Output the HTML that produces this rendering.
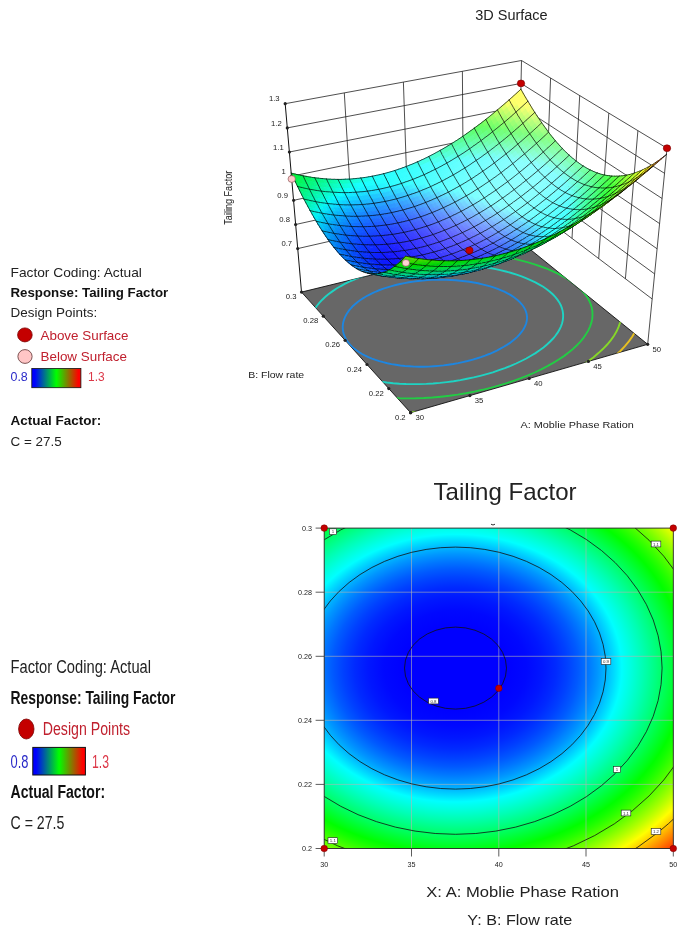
<!DOCTYPE html>
<html><head><meta charset="utf-8"><title>Tailing Factor</title>
<style>
html,body{margin:0;padding:0;background:#fff}
svg{display:block;font-family:"Liberation Sans",sans-serif;fill:#222}
.g{stroke:#222;stroke-width:0.8}
.ax{stroke:#111;stroke-width:1}
#sf path{stroke:#000;stroke-width:.75;stroke-opacity:.9;stroke-linecap:round}
#sf path[fill]{stroke:none}
</style></head><body>
<svg width="685" height="928" viewBox="0 0 685 928">
<rect width="685" height="928" fill="#fff"/>
<g id="plot3d">
<line class="g" x1="344.3" y1="92.9" x2="352.9" y2="236"/>
<line class="g" x1="403.4" y1="82.1" x2="408.2" y2="223.3"/>
<line class="g" x1="462.4" y1="71.3" x2="463.4" y2="210.7"/>
<line class="g" x1="521.5" y1="60.5" x2="518.6" y2="198"/>
<line class="g" x1="550.6" y1="78" x2="545.3" y2="218.2"/>
<line class="g" x1="579.7" y1="95.6" x2="572" y2="238.4"/>
<line class="g" x1="608.8" y1="113.1" x2="598.7" y2="258.6"/>
<line class="g" x1="637.9" y1="130.7" x2="625.4" y2="278.8"/>
<line class="g" x1="297.7" y1="248.6" x2="518.6" y2="198"/>
<line class="g" x1="518.6" y1="198" x2="652.2" y2="299"/>
<line class="g" x1="295.6" y1="224.5" x2="519.1" y2="175.1"/>
<line class="g" x1="519.1" y1="175.1" x2="654.6" y2="273.9"/>
<line class="g" x1="293.6" y1="200.3" x2="519.6" y2="152.2"/>
<line class="g" x1="519.6" y1="152.2" x2="657.1" y2="248.8"/>
<line class="g" x1="291.5" y1="176.2" x2="520" y2="129.3"/>
<line class="g" x1="520" y1="129.3" x2="659.6" y2="223.6"/>
<line class="g" x1="289.4" y1="152" x2="520.5" y2="106.3"/>
<line class="g" x1="520.5" y1="106.3" x2="662.1" y2="198.5"/>
<line class="g" x1="287.3" y1="127.9" x2="521" y2="83.4"/>
<line class="g" x1="521" y1="83.4" x2="664.5" y2="173.3"/>
<line class="g" x1="285.2" y1="103.7" x2="521.5" y2="60.5"/>
<line class="g" x1="521.5" y1="60.5" x2="667" y2="148.2"/>
<line class="g" x1="667" y1="148.2" x2="647.7" y2="344.3"/>
<clipPath id="fc"><polygon points="301.5,292.1 410.6,412.7 647.7,344.3 517.7,239.3"/></clipPath>
<polygon points="301.5,292.1 410.6,412.7 647.7,344.3 517.7,239.3" fill="#676767" stroke="#111" stroke-width="0.9"/>
<g clip-path="url(#fc)" fill="none" stroke-width="1.9">
<polygon stroke="#1e86e0" points="517.8,300.2 515.5,298.4 513,296.6 510.4,294.9 507.5,293.3 504.4,291.7 501.1,290.3 497.7,288.9 494.1,287.6 490.3,286.4 486.4,285.3 482.3,284.3 478.1,283.3 473.8,282.5 469.4,281.8 465,281.2 460.4,280.7 455.8,280.3 451.1,280 446.4,279.8 441.7,279.7 437,279.7 432.2,279.9 427.5,280.1 422.8,280.5 418.1,281 413.5,281.6 409,282.3 404.5,283.1 400.1,284 395.8,285 391.6,286.1 387.5,287.3 383.5,288.6 379.7,290 376,291.5 372.5,293.1 369.1,294.8 365.9,296.5 362.9,298.4 360,300.3 357.4,302.2 355,304.3 352.7,306.3 350.7,308.5 348.9,310.7 347.3,312.9 346,315.2 344.9,317.4 344,319.8 343.3,322.1 342.9,324.4 342.7,326.7 342.8,329.1 343.1,331.4 343.7,333.7 344.5,335.9 345.5,338.2 346.8,340.3 348.3,342.5 350,344.6 352,346.6 354.2,348.6 356.7,350.4 359.3,352.3 362.1,354 365.2,355.6 368.4,357.1 371.9,358.6 375.5,359.9 379.3,361.1 383.2,362.2 387.3,363.2 391.5,364.1 395.8,364.8 400.3,365.5 404.9,366 409.5,366.3 414.3,366.6 419.1,366.7 423.9,366.7 428.8,366.6 433.7,366.3 438.6,365.9 443.5,365.4 448.4,364.7 453.3,364 458.1,363.1 462.8,362.1 467.5,361 472,359.8 476.5,358.5 480.9,357.1 485.1,355.6 489.2,354 493.1,352.3 496.8,350.6 500.4,348.7 503.8,346.8 507,344.9 510,342.9 512.7,340.8 515.2,338.7 517.6,336.6 519.6,334.4 521.4,332.2 523,330 524.3,327.8 525.4,325.5 526.2,323.3 526.7,321.1 527,318.8 527,316.6 526.7,314.4 526.2,312.3 525.4,310.2 524.4,308.1 523.1,306 521.5,304 519.8,302.1"/>
<polygon stroke="#1fd3c3" points="549.9,291.7 546.7,289.2 543.2,286.8 539.4,284.6 535.4,282.4 531,280.3 526.5,278.3 521.6,276.4 516.6,274.7 511.3,273 505.9,271.5 500.2,270.1 494.4,268.9 488.5,267.8 482.4,266.8 476.2,265.9 469.9,265.2 463.5,264.6 457.1,264.2 450.6,263.9 444.1,263.8 437.6,263.8 431.1,264 424.6,264.3 418.2,264.8 411.8,265.4 405.4,266.1 399.2,267.1 393.1,268.1 387.1,269.3 381.2,270.7 375.4,272.1 369.8,273.8 364.4,275.5 359.2,277.4 354.2,279.5 349.3,281.6 344.7,283.9 340.4,286.3 336.2,288.8 332.4,291.4 328.7,294.1 325.4,296.8 322.3,299.7 319.5,302.7 317,305.7 314.9,308.8 313,311.9 311.4,315.1 310.1,318.3 309.2,321.5 308.6,324.8 308.3,328 308.4,331.3 308.8,334.5 309.5,337.7 310.5,340.9 311.9,344 313.6,347.1 315.6,350.1 317.9,353.1 320.6,355.9 323.6,358.7 326.9,361.3 330.5,363.9 334.3,366.3 338.5,368.6 342.9,370.8 347.6,372.8 352.6,374.7 357.7,376.4 363.2,377.9 368.8,379.3 374.6,380.6 380.6,381.6 386.8,382.5 393.1,383.2 399.5,383.7 406.1,384 412.8,384.1 419.5,384.1 426.3,383.9 433.1,383.5 440,382.9 446.8,382.1 453.6,381.2 460.4,380.1 467.1,378.8 473.7,377.4 480.2,375.8 486.6,374.1 492.9,372.3 499,370.2 504.9,368.1 510.6,365.9 516.1,363.5 521.3,361 526.3,358.5 531,355.8 535.5,353.1 539.6,350.3 543.5,347.4 547,344.5 550.2,341.5 553.1,338.5 555.6,335.5 557.8,332.4 559.6,329.3 561,326.3 562.1,323.2 562.8,320.1 563.1,317.1 563.1,314.1 562.7,311.1 561.9,308.1 560.8,305.2 559.3,302.4 557.4,299.6 555.2,296.9 552.7,294.3"/>
<polygon stroke="#22cc44" points="575.8,284.9 571.8,281.9 567.5,279 562.8,276.3 557.8,273.6 552.4,271.1 546.8,268.7 540.8,266.5 534.6,264.4 528.1,262.4 521.4,260.6 514.4,258.9 507.3,257.4 500,256 492.5,254.8 485,253.8 477.3,252.9 469.5,252.2 461.6,251.7 453.7,251.3 445.8,251.2 437.9,251.1 430,251.3 422.1,251.7 414.2,252.2 406.5,252.9 398.8,253.8 391.3,254.8 383.8,256.1 376.5,257.5 369.4,259.1 362.4,260.9 355.7,262.8 349.1,264.9 342.8,267.2 336.7,269.6 330.8,272.2 325.3,274.9 320,277.8 314.9,280.8 310.2,284 305.8,287.3 301.8,290.7 298,294.2 294.6,297.8 291.6,301.5 288.9,305.2 286.6,309.1 284.7,313 283.1,316.9 281.9,320.9 281.1,324.9 280.8,328.9 280.8,332.9 281.2,336.9 282,340.9 283.2,344.8 284.8,348.7 286.8,352.5 289.2,356.3 292,359.9 295.2,363.5 298.8,366.9 302.8,370.2 307.1,373.4 311.8,376.4 316.8,379.2 322.2,381.9 327.8,384.4 333.9,386.8 340.2,388.9 346.7,390.8 353.6,392.5 360.7,394 368,395.3 375.6,396.4 383.3,397.2 391.2,397.8 399.3,398.2 407.4,398.4 415.7,398.3 424,398 432.4,397.5 440.9,396.7 449.3,395.8 457.7,394.6 466,393.2 474.3,391.6 482.5,389.8 490.5,387.8 498.4,385.7 506.1,383.3 513.6,380.8 520.9,378.2 528,375.4 534.8,372.5 541.2,369.4 547.4,366.2 553.2,362.9 558.7,359.5 563.9,356.1 568.6,352.5 572.9,349 576.9,345.3 580.4,341.6 583.5,337.9 586.1,334.1 588.3,330.4 590,326.6 591.3,322.9 592.2,319.2 592.5,315.5 592.4,311.8 591.9,308.2 590.9,304.7 589.4,301.2 587.6,297.7 585.2,294.4 582.5,291.1 579.3,287.9"/>
<polygon stroke="#86d828" points="601,278.2 596.3,274.7 591.1,271.4 585.5,268.2 579.5,265.2 573.2,262.3 566.4,259.5 559.3,256.9 551.9,254.5 544.2,252.2 536.3,250.1 528.1,248.1 519.7,246.4 511,244.8 502.2,243.4 493.3,242.2 484.2,241.1 475.1,240.3 465.9,239.6 456.6,239.2 447.3,239 438,238.9 428.7,239.1 419.5,239.4 410.3,240 401.2,240.8 392.3,241.8 383.4,243 374.7,244.4 366.2,246 357.9,247.8 349.8,249.8 341.9,252.1 334.2,254.5 326.9,257.1 319.7,259.9 312.9,262.9 306.4,266.1 300.2,269.5 294.4,273 288.9,276.7 283.7,280.5 279,284.5 274.6,288.6 270.6,292.8 267,297.2 263.8,301.6 261.1,306.1 258.8,310.8 256.9,315.4 255.5,320.1 254.5,324.9 254,329.7 254,334.4 254.4,339.2 255.3,343.9 256.7,348.6 258.5,353.2 260.8,357.8 263.5,362.3 266.8,366.6 270.4,370.8 274.6,374.9 279.2,378.9 284.2,382.7 289.6,386.3 295.5,389.7 301.7,392.9 308.4,395.9 315.4,398.7 322.8,401.2 330.5,403.5 338.6,405.6 346.9,407.4 355.5,408.9 364.4,410.1 373.5,411.1 382.9,411.8 392.4,412.3 402,412.4 411.8,412.3 421.7,411.9 431.6,411.3 441.6,410.4 451.6,409.2 461.5,407.7 471.5,406 481.3,404.1 491,401.9 500.5,399.6 509.9,397 519.1,394.1 528,391.1 536.7,388 545,384.6 553.1,381.1 560.8,377.4 568.1,373.6 575.1,369.7 581.6,365.7 587.7,361.6 593.3,357.4 598.4,353.1 603.1,348.8 607.2,344.5 610.9,340.1 614,335.7 616.6,331.3 618.6,326.9 620.1,322.5 621,318.1 621.4,313.8 621.2,309.5 620.5,305.3 619.3,301.2 617.5,297.1 615.2,293.1 612.4,289.2 609.1,285.4 605.3,281.7"/>
<polygon stroke="#e8c020" points="617.6,273.8 612.3,270 606.6,266.4 600.4,263 593.7,259.7 586.7,256.5 579.2,253.5 571.4,250.7 563.2,248 554.7,245.6 545.9,243.3 536.9,241.1 527.6,239.2 518.1,237.5 508.5,236 498.6,234.6 488.7,233.5 478.6,232.6 468.5,231.8 458.3,231.3 448.1,231.1 437.9,231 427.8,231.1 417.7,231.5 407.6,232.1 397.7,232.9 387.9,234 378.3,235.3 368.8,236.8 359.5,238.5 350.4,240.4 341.5,242.6 332.9,245 324.5,247.6 316.5,250.5 308.7,253.5 301.3,256.8 294.2,260.3 287.4,263.9 281,267.8 275,271.8 269.4,276 264.1,280.3 259.3,284.8 255,289.5 251,294.3 247.6,299.2 244.5,304.1 242,309.2 239.9,314.4 238.3,319.6 237.2,324.8 236.6,330.1 236.6,335.4 237,340.6 237.9,345.8 239.3,351 241.3,356.2 243.8,361.2 246.7,366.2 250.2,371 254.2,375.7 258.7,380.2 263.7,384.6 269.1,388.8 275.1,392.8 281.4,396.6 288.3,400.2 295.6,403.5 303.2,406.6 311.3,409.4 319.8,411.9 328.6,414.2 337.8,416.2 347.2,417.8 357,419.2 367,420.3 377.3,421.1 387.7,421.6 398.4,421.7 409.1,421.6 420,421.1 431,420.4 442,419.3 453,418 464,416.4 474.9,414.5 485.8,412.3 496.5,409.9 507.1,407.2 517.4,404.3 527.6,401.2 537.4,397.9 547,394.3 556.3,390.6 565.2,386.7 573.7,382.6 581.8,378.4 589.4,374.1 596.6,369.7 603.4,365.1 609.6,360.5 615.2,355.8 620.4,351 624.9,346.2 628.9,341.4 632.3,336.6 635.2,331.7 637.4,326.9 639,322.1 640,317.3 640.4,312.6 640.2,307.9 639.4,303.3 638,298.8 636,294.4 633.4,290 630.3,285.8 626.6,281.7 622.3,277.7"/>
</g>
<line class="ax" x1="285.2" y1="103.7" x2="301.5" y2="292.1"/>
<circle cx="297.7" cy="248.6" r="1.6"/>
<circle cx="295.6" cy="224.5" r="1.6"/>
<circle cx="293.6" cy="200.3" r="1.6"/>
<circle cx="291.5" cy="176.2" r="1.6"/>
<circle cx="289.4" cy="152" r="1.6"/>
<circle cx="287.3" cy="127.9" r="1.6"/>
<circle cx="285.2" cy="103.7" r="1.6"/>
<g id="sf">
<path d="M488 124l4.4-3.4-2.6-4.7-4.4 3.4z" fill="#8cff65"/>
<path d="M485.8 119.4l3.9-3.1"/>
<path d="M484.2 127l4.3-3.3-2.6-4.8-4.4 3.4z" fill="#7bff64"/>
<path d="M482 122.4l3.8-3"/>
<path d="M488.1 123.6l-2.3-4.2"/>
<path d="M491.9 120.9l4.4-3.5-2.7-4.7-4.4 3.5z" fill="#9fff66"/>
<path d="M489.7 116.3l3.8-3.1"/>
<path d="M480.3 130l4.4-3.3-2.6-4.8-4.4 3.3z" fill="#6aff63"/>
<path d="M478.1 125.3l3.9-2.9"/>
<path d="M495.7 117.8l4.5-3.6-2.7-4.7-4.4 3.6z" fill="#b4ff67"/>
<path d="M493.5 113.2l3.9-3.3"/>
<path d="M476.5 132.8l4.3-3.2-2.6-4.7-4.3 3.1z" fill="#62ff68"/>
<path d="M474.3 128.1l3.8-2.8"/>
<path d="M499.6 114.6l4.4-3.7-2.6-4.7-4.4 3.7z" fill="#c9ff68"/>
<path d="M497.4 109.9l3.9-3.3"/>
<path d="M499.7 114.1l-2.3-4.2"/>
<path d="M472.6 135.6l4.4-3.1-2.6-4.8-4.3 3.1z" fill="#61ff74"/>
<path d="M470.5 130.9l3.8-2.8"/>
<path d="M476.6 132.4l-2.3-4.3"/>
<path d="M503.5 111.3l4.4-3.8-2.6-4.7-4.4 3.8z" fill="#dfff68"/>
<path d="M501.3 106.6l3.9-3.3"/>
<path d="M468.8 138.3l4.4-3-2.6-4.8-4.4 3z" fill="#5fff80"/>
<path d="M466.7 133.6l3.8-2.7"/>
<path d="M507.4 107.9l4.5-3.8-2.7-4.7-4.4 3.8z" fill="#f6ff69"/>
<path d="M505.2 103.3l3.9-3.4"/>
<path d="M465 141l4.4-3-2.6-4.8-4.4 2.9z" fill="#5eff8b"/>
<path d="M462.9 136.3l3.8-2.7"/>
<path d="M511.3 104.4l4.5-3.9-2.7-4.6-4.4 3.9z" fill="#ffff69"/>
<path d="M509.1 99.9l3.9-3.5"/>
<path d="M511.4 104l-2.3-4.1"/>
<path d="M490.3 128.1l4.4-3.4-2.6-4.6-4.4 3.4z" fill="#7dff69"/>
<path d="M486.4 131.2l4.4-3.4-2.6-4.7-4.4 3.4z" fill="#6cff68"/>
<path d="M490.4 127.7l-2.3-4.1"/>
<path d="M494.1 125l4.5-3.5-2.7-4.6-4.4 3.5z" fill="#8fff6a"/>
<path d="M482.6 134.1l4.4-3.3-2.7-4.6-4.3 3.2z" fill="#67ff70"/>
<path d="M498 121.9l4.4-3.6-2.6-4.6-4.4 3.6z" fill="#a2ff6a"/>
<path d="M461.2 143.5l4.3-2.9-2.5-4.8-4.4 2.9z" fill="#5cff95"/>
<path d="M459.1 138.8l3.8-2.5"/>
<path d="M465.1 140.5l-2.2-4.2"/>
<path d="M515.2 100.9l4.5-3.9-2.7-4.6-4.4 3.9z" fill="#ffff6a"/>
<path d="M513 96.4l4-3.6"/>
<path d="M478.7 137l4.4-3.2-2.6-4.7-4.4 3.2z" fill="#66ff7d"/>
<path d="M501.9 118.6l4.4-3.7-2.6-4.5-4.4 3.7z" fill="#b7ff6b"/>
<path d="M502 118.2l-2.3-4.1"/>
<path d="M474.9 139.8l4.4-3.2-2.6-4.7-4.4 3.2z" fill="#64ff89"/>
<path d="M478.8 136.5l-2.2-4.1"/>
<path d="M505.8 115.3l4.4-3.7-2.6-4.6-4.4 3.8z" fill="#ccff6c"/>
<path d="M457.4 146l4.3-2.8-2.5-4.8-4.4 2.8z" fill="#5affa0"/>
<path d="M455.3 141.3l3.8-2.5"/>
<path d="M519.2 97.4l4.5-4.1-2.7-4.6-4.5 4.1z" fill="#ffff6a"/>
<path d="M517 92.8l3.9-3.6"/>
<path d="M523.2 93.3l-2.3-4.1"/>
<path d="M471.1 142.5l4.3-3.1-2.6-4.7-4.3 3.1z" fill="#63ff95"/>
<path d="M509.7 111.9l4.5-3.8-2.7-4.5-4.4 3.8z" fill="#e3ff6c"/>
<path d="M467.2 145.1l4.4-2.9-2.6-4.8-4.3 3z" fill="#61ffa0"/>
<path d="M453.6 148.4l4.3-2.7-2.5-4.9-4.4 2.7z" fill="#58ffa9"/>
<path d="M451.5 143.7l3.8-2.4"/>
<path d="M513.6 108.5l4.5-3.9-2.7-4.5-4.4 3.9z" fill="#faff6c"/>
<path d="M513.7 108.1l-2.3-4.1"/>
<path d="M492.5 132.2l4.4-3.5-2.6-4.5-4.4 3.4z" fill="#6fff6c"/>
<path d="M488.7 135.2l4.4-3.4-2.6-4.5-4.4 3.3z" fill="#6bff77"/>
<path d="M492.6 131.7l-2.2-4"/>
<path d="M496.4 129.1l4.4-3.6-2.6-4.5-4.4 3.5z" fill="#7fff6d"/>
<path d="M463.4 147.7l4.4-2.9-2.6-4.7-4.3 2.9z" fill="#60ffab"/>
<path d="M467.3 144.7l-2.2-4.2"/>
<path d="M484.8 138.1l4.4-3.3-2.6-4.5-4.4 3.3z" fill="#6aff84"/>
<path d="M517.5 105l4.5-4-2.6-4.5-4.5 4z" fill="#ffff6d"/>
<path d="M500.3 125.9l4.4-3.7-2.6-4.4-4.4 3.6z" fill="#92ff6e"/>
<path d="M481 141l4.4-3.2-2.6-4.6-4.4 3.3z" fill="#69ff91"/>
<path d="M449.8 150.8l4.3-2.7-2.5-4.9-4.3 2.7z" fill="#56ffb3"/>
<path d="M447.7 146l3.8-2.3"/>
<path d="M453.7 148l-2.2-4.3"/>
<path d="M504.2 122.6l4.4-3.7-2.6-4.4-4.5 3.7z" fill="#a6ff6e"/>
<path d="M504.3 122.2l-2.3-4"/>
<path d="M477.1 143.8l4.4-3.1-2.6-4.6-4.4 3.1z" fill="#68ff9e"/>
<path d="M481.1 140.6l-2.3-4.1"/>
<path d="M459.6 150.2l4.4-2.8-2.6-4.8-4.3 2.9z" fill="#5effb6"/>
<path d="M508.1 119.3l4.4-3.8-2.6-4.4-4.5 3.7z" fill="#bbff6f"/>
<path d="M521.5 101.4l4.5-4.1-2.7-4.5-4.5 4.1z" fill="#ffff6d"/>
<path d="M525.5 97.3l-2.3-4"/>
<path d="M473.3 146.6l4.4-3.1-2.6-4.6-4.4 3.1z" fill="#66ffaa"/>
<path d="M512 115.9l4.5-3.9-2.7-4.4-4.5 3.9z" fill="#d1ff6f"/>
<path d="M446 153l4.3-2.5-2.5-4.9-4.3 2.5z" fill="#54ffbb"/>
<path d="M443.9 148.3l3.8-2.3"/>
<path d="M455.8 152.6l4.4-2.7-2.6-4.8-4.3 2.8z" fill="#5cffc0"/>
<path d="M469.5 149.2l4.3-3-2.5-4.6-4.4 3z" fill="#65ffb6"/>
<path d="M515.9 112.5l4.5-4-2.7-4.4-4.4 3.9z" fill="#e8ff6f"/>
<path d="M516 112l-2.3-3.9"/>
<path d="M465.7 151.8l4.3-2.9-2.5-4.6-4.4 2.9z" fill="#63ffc1"/>
<path d="M469.6 148.8l-2.3-4.1"/>
<path d="M494.8 136.1l4.4-3.5-2.6-4.4-4.4 3.5z" fill="#70ff7c"/>
<path d="M492.6 131.7l3.9-3.1"/>
<path d="M490.9 139.1l4.4-3.4-2.6-4.4-4.4 3.4z" fill="#6fff8a"/>
<path d="M488.8 134.8l3.8-3.1"/>
<path d="M494.9 135.6l-2.3-3.9"/>
<path d="M498.7 133l4.4-3.6-2.6-4.4-4.4 3.6z" fill="#73ff70"/>
<path d="M496.5 128.6l3.9-3.2"/>
<path d="M519.8 108.9l4.5-4-2.6-4.4-4.5 4z" fill="#ffff6f"/>
<path d="M452 155l4.4-2.7-2.6-4.8-4.3 2.7z" fill="#5affca"/>
<path d="M455.9 152.2l-2.2-4.2"/>
<path d="M442.2 155.2l4.4-2.5-2.6-4.9-4.3 2.5z" fill="#52ffc4"/>
<path d="M440.1 150.4l3.8-2.1"/>
<path d="M487.1 142.1l4.4-3.3-2.6-4.5-4.4 3.3z" fill="#6eff98"/>
<path d="M484.9 137.7l3.9-2.9"/>
<path d="M502.5 129.8l4.5-3.7-2.6-4.3-4.5 3.6z" fill="#84ff71"/>
<path d="M500.4 125.4l3.9-3.2"/>
<path d="M483.2 145l4.4-3.3-2.6-4.4-4.4 3.2z" fill="#6dffa5"/>
<path d="M481.1 140.6l3.8-2.9"/>
<path d="M506.4 126.5l4.5-3.7-2.6-4.4-4.5 3.8z" fill="#96ff71"/>
<path d="M504.3 122.2l3.9-3.3"/>
<path d="M506.5 126.1l-2.2-3.9"/>
<path d="M461.8 154.3l4.4-2.8-2.6-4.7-4.3 2.9z" fill="#61ffcc"/>
<path d="M479.4 147.8l4.3-3.2-2.5-4.5-4.4 3.2z" fill="#6bffb2"/>
<path d="M477.2 143.4l3.9-2.8"/>
<path d="M483.3 144.5l-2.2-3.9"/>
<path d="M523.8 105.3l4.5-4.1-2.7-4.4-4.5 4.1z" fill="#ffff70"/>
<path d="M527.9 101.2l-2.4-3.9"/>
<path d="M510.4 123.2l4.4-3.8-2.6-4.4-4.5 3.8z" fill="#abff72"/>
<path d="M508.2 118.9l3.9-3.4"/>
<path d="M475.5 150.5l4.4-3.1-2.6-4.4-4.3 3z" fill="#6affbf"/>
<path d="M473.4 146.1l3.8-2.7"/>
<path d="M448.2 157.2l4.4-2.5-2.6-4.8-4.3 2.5z" fill="#58ffd3"/>
<path d="M514.3 119.8l4.4-3.9-2.6-4.3-4.5 3.8z" fill="#c0ff72"/>
<path d="M512.1 115.5l3.9-3.5"/>
<path d="M438.5 157.3l4.3-2.4-2.6-4.9-4.3 2.4z" fill="#50ffcb"/>
<path d="M436.3 152.5l3.8-2.1"/>
<path d="M442.3 154.8l-2.2-4.4"/>
<path d="M458 156.7l4.4-2.7-2.6-4.7-4.3 2.8z" fill="#5fffd7"/>
<path d="M471.7 153.2l4.4-3-2.6-4.5-4.4 3z" fill="#68ffcb"/>
<path d="M469.6 148.8l3.8-2.7"/>
<path d="M518.2 116.3l4.5-3.9-2.7-4.4-4.4 4z" fill="#d7ff72"/>
<path d="M516 112l3.9-3.5"/>
<path d="M518.3 115.9l-2.3-3.9"/>
<path d="M444.5 159.4l4.3-2.5-2.6-4.8-4.3 2.5z" fill="#55ffdb"/>
<path d="M467.9 155.8l4.3-2.9-2.5-4.6-4.4 3z" fill="#67ffd7"/>
<path d="M465.8 151.4l3.8-2.6"/>
<path d="M471.8 152.8l-2.2-4"/>
<path d="M454.2 159.1l4.4-2.7-2.6-4.7-4.3 2.7z" fill="#5dffe1"/>
<path d="M458.1 156.3l-2.2-4.1"/>
<path d="M522.1 112.8l4.5-4.1-2.6-4.3-4.5 4.1z" fill="#eeff72"/>
<path d="M519.9 108.5l4-3.6"/>
<path d="M497 139.9l4.5-3.5-2.6-4.3-4.5 3.5z" fill="#73ff8f"/>
<path d="M493.2 143l4.4-3.5-2.6-4.3-4.4 3.4z" fill="#72ff9d"/>
<path d="M497.1 139.5l-2.2-3.9"/>
<path d="M500.9 136.8l4.5-3.6-2.7-4.3-4.4 3.6z" fill="#74ff80"/>
<path d="M489.3 145.9l4.4-3.3-2.6-4.3-4.4 3.3z" fill="#71ffab"/>
<path d="M434.7 159.3l4.3-2.3-2.5-4.9-4.3 2.3z" fill="#4dffd3"/>
<path d="M432.6 154.5l3.7-2"/>
<path d="M504.8 133.6l4.5-3.7-2.7-4.2-4.4 3.6z" fill="#77ff74"/>
<path d="M485.4 148.8l4.4-3.2-2.5-4.4-4.4 3.3z" fill="#70ffb9"/>
<path d="M508.7 130.3l4.5-3.7-2.7-4.3-4.4 3.8z" fill="#89ff75"/>
<path d="M508.8 129.9l-2.3-3.8"/>
<path d="M464.1 158.3l4.3-2.8-2.5-4.6-4.4 2.9z" fill="#65ffe2"/>
<path d="M462 153.9l3.8-2.5"/>
<path d="M526.1 109.2l4.5-4.2-2.7-4.2-4.5 4.1z" fill="#ffff72"/>
<path d="M523.9 104.9l4-3.7"/>
<path d="M530.2 105l-2.3-3.8"/>
<path d="M481.6 151.7l4.4-3.2-2.6-4.4-4.4 3.2z" fill="#6fffc6"/>
<path d="M485.5 148.4l-2.2-3.9"/>
<path d="M512.6 127l4.5-3.8-2.6-4.3-4.5 3.8z" fill="#9cff75"/>
<path d="M450.4 161.4l4.4-2.6-2.6-4.7-4.3 2.6z" fill="#5bffea"/>
<path d="M440.7 161.5l4.3-2.4-2.5-4.8-4.4 2.4z" fill="#53ffe4"/>
<path d="M444.6 159l-2.3-4.2"/>
<path d="M477.7 154.4l4.4-3.1-2.5-4.4-4.4 3.1z" fill="#6dffd3"/>
<path d="M516.5 123.6l4.5-3.9-2.6-4.3-4.5 3.9z" fill="#b1ff75"/>
<path d="M460.2 160.7l4.4-2.7-2.5-4.6-4.4 2.8z" fill="#63ffed"/>
<path d="M458.1 156.3l3.9-2.4"/>
<path d="M430.9 161.3l4.3-2.2-2.5-5-4.3 2.2z" fill="#4bffda"/>
<path d="M428.8 156.5l3.8-2"/>
<path d="M473.9 157.1l4.4-3-2.6-4.4-4.3 3z" fill="#6cffe0"/>
<path d="M520.5 120.1l4.5-4-2.7-4.2-4.5 4z" fill="#c7ff75"/>
<path d="M520.6 119.6l-2.3-3.7"/>
<path d="M446.7 163.5l4.3-2.4-2.5-4.7-4.4 2.4z" fill="#59fff3"/>
<path d="M456.4 163.1l4.4-2.7-2.5-4.5-4.4 2.6z" fill="#61fff8"/>
<path d="M454.3 158.6l3.8-2.3"/>
<path d="M460.4 160.3l-2.3-4"/>
<path d="M436.9 163.6l4.3-2.4-2.5-4.8-4.3 2.3z" fill="#51ffeb"/>
<path d="M470.1 159.7l4.4-3-2.6-4.4-4.4 3z" fill="#6affec"/>
<path d="M474 156.6l-2.2-3.8"/>
<path d="M524.4 116.5l4.5-4-2.6-4.2-4.5 4z" fill="#deff75"/>
<path d="M499.3 143.7l4.4-3.6-2.6-4.2-4.4 3.5z" fill="#76ffa1"/>
<path d="M495.4 146.7l4.4-3.4-2.6-4.3-4.4 3.5z" fill="#75ffb0"/>
<path d="M499.4 143.2l-2.3-3.7"/>
<path d="M503.2 140.5l4.4-3.6-2.6-4.2-4.4 3.6z" fill="#77ff91"/>
<path d="M491.5 149.7l4.4-3.4-2.5-4.2-4.5 3.3z" fill="#75ffbe"/>
<path d="M507.1 137.3l4.4-3.7-2.6-4.1-4.4 3.6z" fill="#77ff82"/>
<path d="M487.7 152.6l4.4-3.3-2.6-4.2-4.4 3.2z" fill="#74ffcc"/>
<path d="M466.3 162.2l4.3-2.9-2.5-4.4-4.4 2.9z" fill="#68fff8"/>
<path d="M511 134l4.4-3.7-2.6-4.2-4.4 3.8z" fill="#7dff78"/>
<path d="M511.1 133.6l-2.3-3.7"/>
<path d="M427.1 163.1l4.3-2.1-2.5-4.9-4.3 2.1z" fill="#48ffe0"/>
<path d="M425 158.4l3.8-1.9"/>
<path d="M431 160.8l-2.2-4.3"/>
<path d="M528.4 112.9l4.5-4.1-2.6-4.2-4.6 4.1z" fill="#f6ff75"/>
<path d="M532.5 108.8l-2.3-3.8"/>
<path d="M442.9 165.7l4.3-2.4-2.5-4.8-4.4 2.4z" fill="#56fffc"/>
<path d="M446.8 163.1l-2.2-4.1"/>
<path d="M452.6 165.4l4.4-2.6-2.5-4.6-4.4 2.6z" fill="#5fffff"/>
<path d="M450.6 160.9l3.7-2.3"/>
<path d="M483.8 155.4l4.4-3.2-2.6-4.2-4.4 3.2z" fill="#72ffda"/>
<path d="M487.8 152.2l-2.3-3.8"/>
<path d="M514.9 130.7l4.5-3.9-2.7-4.1-4.4 3.8z" fill="#8fff78"/>
<path d="M433.1 165.5l4.3-2.2-2.5-4.8-4.3 2.2z" fill="#4efff3"/>
<path d="M480 158.2l4.4-3.1-2.6-4.3-4.4 3.1z" fill="#71ffe8"/>
<path d="M462.5 164.6l4.3-2.7-2.5-4.5-4.4 2.8z" fill="#67ffff"/>
<path d="M518.8 127.3l4.5-4-2.6-4.1-4.5 3.9z" fill="#a3ff78"/>
<path d="M476.1 160.9l4.4-3.1-2.5-4.3-4.4 3.1z" fill="#70fff5"/>
<path d="M448.8 167.6l4.4-2.5-2.5-4.6-4.4 2.5z" fill="#5cffff"/>
<path d="M446.8 163.1l3.8-2.2"/>
<path d="M522.8 123.8l4.5-4-2.7-4.2-4.5 4z" fill="#b8ff78"/>
<path d="M522.9 123.3l-2.3-3.7"/>
<path d="M439.1 167.7l4.3-2.3-2.5-4.7-4.3 2.3z" fill="#54ffff"/>
<path d="M423.4 164.9l4.3-2-2.5-5-4.3 2.1z" fill="#46ffe6"/>
<path d="M421.3 160.1l3.7-1.7"/>
<path d="M458.6 167l4.4-2.7-2.5-4.4-4.4 2.6z" fill="#64ffff"/>
<path d="M462.6 164.2l-2.2-3.9"/>
<path d="M472.3 163.5l4.4-3-2.6-4.3-4.3 3z" fill="#6effff"/>
<path d="M476.2 160.4l-2.2-3.8"/>
<path d="M526.7 120.2l4.5-4.1-2.6-4.1-4.5 4.1z" fill="#cfff78"/>
<path d="M429.3 167.4l4.3-2.1-2.5-4.9-4.3 2.1z" fill="#4bfffa"/>
<path d="M433.2 165.1l-2.2-4.3"/>
<path d="M501.5 147.3l4.5-3.6-2.6-4.1-4.5 3.6z" fill="#79ffb2"/>
<path d="M499.4 143.2l3.9-3.1"/>
<path d="M497.6 150.4l4.5-3.5-2.6-4.1-4.5 3.4z" fill="#79ffc2"/>
<path d="M495.5 146.3l3.9-3.1"/>
<path d="M501.6 146.9l-2.2-3.7"/>
<path d="M505.4 144.1l4.5-3.6-2.6-4.1-4.5 3.7z" fill="#7affa3"/>
<path d="M503.3 140.1l3.9-3.2"/>
<path d="M493.7 153.3l4.5-3.3-2.6-4.2-4.4 3.4z" fill="#78ffd1"/>
<path d="M491.6 149.3l3.9-3"/>
<path d="M509.3 140.9l4.5-3.7-2.6-4-4.5 3.7z" fill="#7aff93"/>
<path d="M507.2 136.9l3.9-3.3"/>
<path d="M445.1 169.7l4.3-2.4-2.5-4.6-4.4 2.4z" fill="#5affff"/>
<path d="M443 165.2l3.8-2.1"/>
<path d="M449 167.1l-2.2-4"/>
<path d="M468.5 166l4.3-2.9-2.5-4.3-4.4 2.9z" fill="#6cffff"/>
<path d="M489.9 156.3l4.4-3.3-2.6-4.2-4.4 3.3z" fill="#77ffdf"/>
<path d="M487.8 152.2l3.8-2.9"/>
<path d="M530.7 116.5l4.5-4.1-2.6-4.1-4.6 4.2z" fill="#e6ff78"/>
<path d="M534.8 112.4l-2.3-3.6"/>
<path d="M454.8 169.3l4.4-2.6-2.5-4.5-4.4 2.6z" fill="#62ffff"/>
<path d="M513.2 137.6l4.5-3.7-2.6-4.1-4.5 3.8z" fill="#7bff82"/>
<path d="M511.1 133.6l3.9-3.4"/>
<path d="M513.3 137.2l-2.2-3.6"/>
<path d="M435.3 169.7l4.3-2.3-2.5-4.7-4.3 2.2z" fill="#51ffff"/>
<path d="M486 159.1l4.4-3.2-2.5-4.2-4.4 3.2z" fill="#76ffee"/>
<path d="M483.9 155l3.9-2.8"/>
<path d="M490 155.8l-2.2-3.6"/>
<path d="M517.2 134.3l4.4-3.9-2.6-4-4.5 3.8z" fill="#83ff7b"/>
<path d="M515 130.2l3.9-3.4"/>
<path d="M419.6 166.7l4.3-2-2.5-5-4.3 2z" fill="#43ffeb"/>
<path d="M417.5 161.8l3.8-1.7"/>
<path d="M464.6 168.5l4.4-2.8-2.5-4.4-4.4 2.8z" fill="#6affff"/>
<path d="M482.2 161.9l4.4-3.2-2.6-4.1-4.4 3.1z" fill="#74fffc"/>
<path d="M480.1 157.8l3.8-2.8"/>
<path d="M521.1 130.8l4.5-3.9-2.6-4-4.5 3.9z" fill="#96ff7b"/>
<path d="M518.9 126.8l4-3.5"/>
<path d="M425.6 169.2l4.3-2.1-2.5-4.8-4.3 2z" fill="#49ffff"/>
<path d="M451 171.5l4.4-2.5-2.5-4.5-4.4 2.5z" fill="#60ffff"/>
<path d="M441.3 171.8l4.3-2.4-2.5-4.6-4.3 2.3z" fill="#57ffff"/>
<path d="M439.2 167.3l3.8-2.1"/>
<path d="M478.3 164.6l4.4-3.1-2.5-4.2-4.4 3.1z" fill="#73ffff"/>
<path d="M476.2 160.4l3.9-2.6"/>
<path d="M525 127.3l4.6-4-2.7-4-4.5 4z" fill="#aaff7b"/>
<path d="M522.9 123.3l3.9-3.6"/>
<path d="M525.1 126.9l-2.2-3.6"/>
<path d="M460.8 170.8l4.4-2.7-2.5-4.3-4.4 2.7z" fill="#68ffff"/>
<path d="M464.8 168l-2.2-3.8"/>
<path d="M431.5 171.6l4.3-2.2-2.5-4.8-4.3 2.2z" fill="#4fffff"/>
<path d="M435.4 169.2l-2.2-4.1"/>
<path d="M474.5 167.2l4.4-3-2.6-4.2-4.3 3z" fill="#71ffff"/>
<path d="M472.4 163l3.8-2.6"/>
<path d="M478.4 164.1l-2.2-3.7"/>
<path d="M529 123.7l4.5-4-2.6-4-4.5 4.1z" fill="#c0ff7a"/>
<path d="M526.8 119.7l4-3.6"/>
<path d="M447.2 173.6l4.4-2.4-2.5-4.5-4.4 2.4z" fill="#5dffff"/>
<path d="M451.2 171.1l-2.2-4"/>
<path d="M415.8 168.3l4.3-1.9-2.5-5-4.3 1.9z" fill="#40fff0"/>
<path d="M413.7 163.5l3.8-1.7"/>
<path d="M419.7 166.2l-2.2-4.4"/>
<path d="M503.7 150.8l4.5-3.5-2.6-4-4.4 3.5z" fill="#7cffc3"/>
<path d="M499.9 153.9l4.4-3.5-2.6-4-4.4 3.5z" fill="#7cffd3"/>
<path d="M503.9 150.4l-2.3-3.5"/>
<path d="M507.6 147.7l4.5-3.7-2.6-3.9-4.4 3.6z" fill="#7dffb3"/>
<path d="M437.5 173.7l4.3-2.2-2.5-4.7-4.3 2.3z" fill="#55ffff"/>
<path d="M435.4 169.2l3.8-1.9"/>
<path d="M457 173.1l4.4-2.6-2.5-4.4-4.4 2.6z" fill="#66ffff"/>
<path d="M470.7 169.7l4.3-2.9-2.5-4.2-4.4 2.9z" fill="#70ffff"/>
<path d="M468.6 165.6l3.8-2.6"/>
<path d="M496 156.9l4.4-3.4-2.6-4-4.4 3.4z" fill="#7bffe3"/>
<path d="M511.6 144.5l4.4-3.8-2.6-3.9-4.4 3.7z" fill="#7dffa3"/>
<path d="M421.8 170.9l4.3-2-2.5-4.8-4.3 1.9z" fill="#46ffff"/>
<path d="M533 120.1l4.5-4.2-2.6-3.9-4.6 4.1z" fill="#d8ff7a"/>
<path d="M530.8 116.1l4-3.7"/>
<path d="M537.1 115.9l-2.3-3.5"/>
<path d="M492.1 159.8l4.4-3.3-2.5-4-4.5 3.3z" fill="#7afff2"/>
<path d="M515.5 141.2l4.5-3.9-2.6-3.9-4.5 3.8z" fill="#7dff93"/>
<path d="M515.6 140.7l-2.3-3.5"/>
<path d="M488.2 162.7l4.5-3.3-2.6-4-4.4 3.2z" fill="#79ffff"/>
<path d="M492.2 159.4l-2.2-3.6"/>
<path d="M427.7 173.4l4.4-2.1-2.5-4.8-4.3 2.1z" fill="#4cffff"/>
<path d="M519.4 137.8l4.5-3.9-2.6-3.9-4.5 3.8z" fill="#7dff82"/>
<path d="M466.8 172.2l4.4-2.8-2.5-4.3-4.4 2.8z" fill="#6effff"/>
<path d="M464.8 168l3.8-2.4"/>
<path d="M443.5 175.7l4.3-2.4-2.5-4.5-4.3 2.4z" fill="#5bffff"/>
<path d="M484.4 165.5l4.4-3.2-2.6-4.1-4.4 3.2z" fill="#78ffff"/>
<path d="M523.4 134.3l4.5-3.9-2.6-3.9-4.6 3.9z" fill="#8aff7d"/>
<path d="M453.2 175.3l4.4-2.5-2.5-4.4-4.4 2.6z" fill="#63ffff"/>
<path d="M433.7 175.6l4.3-2.2-2.5-4.6-4.3 2.2z" fill="#52ffff"/>
<path d="M431.6 171.1l3.8-1.9"/>
<path d="M437.6 173.3l-2.2-4.1"/>
<path d="M480.5 168.1l4.4-3-2.5-4.1-4.4 3.1z" fill="#76ffff"/>
<path d="M527.3 130.8l4.5-4-2.6-3.9-4.5 4z" fill="#9eff7d"/>
<path d="M527.4 130.4l-2.3-3.5"/>
<path d="M412.1 169.9l4.3-1.9-2.5-5-4.3 1.8z" fill="#3efff4"/>
<path d="M410 165l3.7-1.5"/>
<path d="M463 174.5l4.4-2.7-2.5-4.2-4.4 2.7z" fill="#6bffff"/>
<path d="M460.9 170.4l3.9-2.4"/>
<path d="M467 171.7l-2.2-3.7"/>
<path d="M418 172.6l4.3-1.9-2.5-4.9-4.3 1.9z" fill="#43ffff"/>
<path d="M421.9 170.5l-2.2-4.3"/>
<path d="M476.7 170.8l4.4-3-2.5-4.1-4.4 3z" fill="#75ffff"/>
<path d="M480.6 167.7l-2.2-3.6"/>
<path d="M531.3 127.2l4.5-4.1-2.6-3.9-4.5 4.1z" fill="#b3ff7d"/>
<path d="M449.4 177.5l4.4-2.5-2.5-4.4-4.4 2.5z" fill="#61ffff"/>
<path d="M453.3 174.9l-2.1-3.8"/>
<path d="M424 175.1l4.3-2-2.5-4.8-4.3 2z" fill="#49ffff"/>
<path d="M439.7 177.7l4.3-2.3-2.5-4.5-4.3 2.2z" fill="#58ffff"/>
<path d="M459.2 176.8l4.4-2.6-2.5-4.2-4.4 2.6z" fill="#69ffff"/>
<path d="M457.1 172.7l3.8-2.3"/>
<path d="M506 154.3l4.4-3.6-2.5-3.9-4.5 3.6z" fill="#7fffd4"/>
<path d="M502.1 157.4l4.4-3.5-2.5-3.9-4.5 3.4z" fill="#7fffe4"/>
<path d="M506.1 153.8l-2.2-3.4"/>
<path d="M472.9 173.3l4.3-2.9-2.5-4.1-4.4 2.9z" fill="#73ffff"/>
<path d="M509.9 151.1l4.5-3.6-2.6-3.9-4.5 3.6z" fill="#80ffc4"/>
<path d="M429.9 177.4l4.3-2.1-2.4-4.6-4.4 2.1z" fill="#4fffff"/>
<path d="M427.9 172.9l3.7-1.8"/>
<path d="M535.3 123.6l4.5-4.2-2.6-3.9-4.6 4.2z" fill="#caff7d"/>
<path d="M539.4 119.4l-2.3-3.5"/>
<path d="M498.2 160.4l4.4-3.4-2.5-4-4.5 3.4z" fill="#7efff4"/>
<path d="M513.8 147.9l4.5-3.8-2.6-3.8-4.5 3.7z" fill="#80ffb3"/>
<path d="M494.3 163.3l4.5-3.3-2.6-4-4.4 3.4z" fill="#7dffff"/>
<path d="M517.7 144.6l4.5-3.9-2.6-3.8-4.5 3.8z" fill="#80ffa2"/>
<path d="M517.8 144.1l-2.2-3.4"/>
<path d="M490.4 166.2l4.5-3.3-2.6-3.9-4.4 3.2z" fill="#7cffff"/>
<path d="M494.4 162.9l-2.2-3.5"/>
<path d="M408.3 171.3l4.3-1.7-2.5-5-4.3 1.7z" fill="#3bfff7"/>
<path d="M406.2 166.5l3.8-1.5"/>
<path d="M445.6 179.5l4.4-2.3-2.5-4.4-4.4 2.3z" fill="#5effff"/>
<path d="M521.7 141.2l4.5-3.9-2.6-3.8-4.5 3.8z" fill="#80ff91"/>
<path d="M469 175.8l4.4-2.8-2.5-4.2-4.4 2.8z" fill="#71ffff"/>
<path d="M414.3 174.1l4.2-1.8-2.4-4.9-4.3 1.8z" fill="#40ffff"/>
<path d="M455.4 179.1l4.4-2.6-2.5-4.2-4.4 2.5z" fill="#67ffff"/>
<path d="M453.3 174.9l3.8-2.2"/>
<path d="M435.9 179.6l4.3-2.2-2.5-4.5-4.3 2.1z" fill="#55ffff"/>
<path d="M439.8 177.2l-2.2-3.9"/>
<path d="M486.6 168.9l4.4-3.1-2.5-4-4.5 3.2z" fill="#7bffff"/>
<path d="M525.6 137.7l4.5-4-2.6-3.8-4.5 4z" fill="#81ff80"/>
<path d="M420.2 176.7l4.3-1.9-2.5-4.7-4.3 1.9z" fill="#46ffff"/>
<path d="M424.1 174.7l-2.2-4.2"/>
<path d="M482.7 171.6l4.4-3-2.5-4-4.4 3.1z" fill="#7affff"/>
<path d="M465.2 178.2l4.4-2.8-2.5-4.1-4.4 2.7z" fill="#6fffff"/>
<path d="M469.1 175.3l-2.1-3.6"/>
<path d="M529.6 134.2l4.5-4.1-2.6-3.8-4.5 4.1z" fill="#92ff80"/>
<path d="M529.7 133.8l-2.3-3.4"/>
<path d="M426.1 179.2l4.4-2-2.5-4.7-4.3 2z" fill="#4cffff"/>
<path d="M424.1 174.7l3.8-1.8"/>
<path d="M441.8 181.5l4.4-2.3-2.5-4.4-4.3 2.3z" fill="#5bffff"/>
<path d="M451.6 181.2l4.4-2.4-2.5-4.3-4.4 2.4z" fill="#64ffff"/>
<path d="M449.5 177l3.8-2.1"/>
<path d="M455.5 178.6l-2.2-3.7"/>
<path d="M478.9 174.3l4.4-3-2.5-4-4.4 3z" fill="#78ffff"/>
<path d="M482.8 171.2l-2.2-3.5"/>
<path d="M533.6 130.6l4.5-4.1-2.6-3.8-4.6 4.1z" fill="#a7ff7f"/>
<path d="M432.1 181.4l4.3-2.1-2.5-4.6-4.3 2.1z" fill="#52ffff"/>
<path d="M461.4 180.5l4.4-2.7-2.5-4.1-4.4 2.6z" fill="#6dffff"/>
<path d="M404.5 172.7l4.3-1.6-2.5-5-4.2 1.6z" fill="#38fffa"/>
<path d="M402.5 167.9l3.7-1.4"/>
<path d="M408.4 170.9l-2.2-4.4"/>
<path d="M410.5 175.6l4.3-1.7-2.5-4.9-4.3 1.7z" fill="#3dffff"/>
<path d="M475 176.8l4.4-2.9-2.5-4-4.4 2.9z" fill="#76ffff"/>
<path d="M508.2 157.6l4.5-3.6-2.6-3.8-4.5 3.6z" fill="#82ffe4"/>
<path d="M506.1 153.8l3.9-3.1"/>
<path d="M416.4 178.3l4.3-1.8-2.4-4.8-4.3 1.8z" fill="#43ffff"/>
<path d="M537.6 126.9l4.5-4.2-2.6-3.8-4.6 4.2z" fill="#bdff7f"/>
<path d="M541.7 122.7l-2.3-3.3"/>
<path d="M504.3 160.7l4.5-3.5-2.6-3.8-4.5 3.5z" fill="#82fff4"/>
<path d="M502.2 156.9l3.9-3.1"/>
<path d="M508.3 157.2l-2.2-3.4"/>
<path d="M512.1 154.4l4.5-3.6-2.6-3.8-4.5 3.7z" fill="#82ffd3"/>
<path d="M510 150.7l3.9-3.3"/>
<path d="M500.4 163.7l4.5-3.4-2.6-3.8-4.4 3.4z" fill="#81ffff"/>
<path d="M498.3 159.9l3.9-3"/>
<path d="M516 151.2l4.5-3.8-2.5-3.7-4.5 3.7z" fill="#83ffc2"/>
<path d="M513.9 147.4l3.9-3.3"/>
<path d="M447.8 183.3l4.3-2.4-2.4-4.3-4.4 2.4z" fill="#61ffff"/>
<path d="M445.7 179.1l3.8-2.1"/>
<path d="M496.5 166.7l4.5-3.4-2.6-3.8-4.4 3.3z" fill="#80ffff"/>
<path d="M494.4 162.9l3.9-3"/>
<path d="M520 147.9l4.5-3.9-2.6-3.7-4.5 3.8z" fill="#83ffb1"/>
<path d="M517.8 144.1l4-3.4"/>
<path d="M520.1 147.4l-2.3-3.3"/>
<path d="M422.4 180.8l4.3-1.9-2.5-4.7-4.3 1.9z" fill="#49ffff"/>
<path d="M420.3 176.3l3.8-1.6"/>
<path d="M426.3 178.7l-2.2-4"/>
<path d="M438 183.4l4.4-2.2-2.5-4.4-4.3 2.2z" fill="#58ffff"/>
<path d="M442 181.1l-2.2-3.9"/>
<path d="M471.2 179.3l4.4-2.8-2.5-4.1-4.4 2.9z" fill="#74ffff"/>
<path d="M492.6 169.5l4.5-3.2-2.6-3.9-4.4 3.3z" fill="#7fffff"/>
<path d="M490.6 165.7l3.8-2.8"/>
<path d="M496.6 166.2l-2.2-3.3"/>
<path d="M457.6 182.7l4.3-2.6-2.5-4.1-4.3 2.5z" fill="#6affff"/>
<path d="M523.9 144.5l4.5-3.9-2.6-3.8-4.5 4z" fill="#83ff9f"/>
<path d="M521.8 140.7l3.9-3.4"/>
<path d="M488.8 172.3l4.4-3.2-2.5-3.8-4.5 3.2z" fill="#7effff"/>
<path d="M486.7 168.5l3.9-2.8"/>
<path d="M428.3 183.1l4.3-2-2.4-4.5-4.4 2z" fill="#4fffff"/>
<path d="M527.9 141l4.5-4-2.6-3.7-4.5 4z" fill="#82ff8d"/>
<path d="M525.7 137.3l4-3.5"/>
<path d="M467.4 181.7l4.4-2.8-2.5-4-4.4 2.7z" fill="#72ffff"/>
<path d="M471.3 178.9l-2.2-3.6"/>
<path d="M484.9 175l4.4-3.1-2.5-3.8-4.4 3.1z" fill="#7dffff"/>
<path d="M482.8 171.2l3.9-2.7"/>
<path d="M531.9 137.5l4.5-4.1-2.6-3.7-4.6 4.1z" fill="#88ff82"/>
<path d="M529.7 133.8l4-3.6"/>
<path d="M532 137l-2.3-3.2"/>
<path d="M444 185.3l4.3-2.3-2.4-4.3-4.4 2.3z" fill="#5fffff"/>
<path d="M442 181.1l3.7-2"/>
<path d="M406.7 177l4.3-1.6-2.5-4.9-4.3 1.6z" fill="#3bffff"/>
<path d="M410.6 175.2l-2.2-4.3"/>
<path d="M400.8 174.1l4.3-1.6-2.5-5-4.3 1.5z" fill="#35fffd"/>
<path d="M398.7 169.2l3.8-1.3"/>
<path d="M453.8 184.9l4.3-2.5-2.5-4.2-4.3 2.5z" fill="#68ffff"/>
<path d="M457.7 182.3l-2.2-3.7"/>
<path d="M412.7 179.8l4.3-1.7-2.5-4.8-4.3 1.7z" fill="#40ffff"/>
<path d="M434.3 185.3l4.3-2.2-2.5-4.4-4.3 2.1z" fill="#55ffff"/>
<path d="M481.1 177.7l4.4-3-2.5-3.9-4.5 3z" fill="#7bffff"/>
<path d="M479 173.8l3.8-2.6"/>
<path d="M485 174.6l-2.2-3.4"/>
<path d="M418.6 182.4l4.3-1.8-2.5-4.7-4.3 1.8z" fill="#46ffff"/>
<path d="M416.5 177.9l3.8-1.6"/>
<path d="M535.8 133.9l4.6-4.2-2.6-3.7-4.6 4.2z" fill="#9cff82"/>
<path d="M533.7 130.2l4-3.7"/>
<path d="M463.5 184l4.4-2.7-2.5-4-4.3 2.7z" fill="#70ffff"/>
<path d="M424.5 184.8l4.4-1.9-2.5-4.6-4.3 1.9z" fill="#4cffff"/>
<path d="M428.4 182.7l-2.1-4"/>
<path d="M477.2 180.2l4.4-2.9-2.5-3.9-4.4 2.9z" fill="#7affff"/>
<path d="M475.2 176.4l3.8-2.6"/>
<path d="M539.8 130.2l4.6-4.3-2.6-3.6-4.6 4.2z" fill="#b1ff81"/>
<path d="M537.7 126.5l4-3.8"/>
<path d="M544 126l-2.3-3.3"/>
<path d="M510.4 160.9l4.5-3.7-2.6-3.6-4.4 3.6z" fill="#85fff3"/>
<path d="M450 186.9l4.3-2.4-2.5-4.1-4.3 2.3z" fill="#65ffff"/>
<path d="M506.5 164l4.5-3.6-2.6-3.7-4.4 3.6z" fill="#84ffff"/>
<path d="M510.5 160.4l-2.2-3.2"/>
<path d="M440.2 187.2l4.3-2.2-2.4-4.3-4.4 2.2z" fill="#5bffff"/>
<path d="M438.2 183l3.8-1.9"/>
<path d="M444.1 184.9l-2.1-3.8"/>
<path d="M514.4 157.7l4.4-3.7-2.5-3.7-4.5 3.7z" fill="#85ffe2"/>
<path d="M502.6 167l4.5-3.5-2.6-3.7-4.4 3.5z" fill="#84ffff"/>
<path d="M518.3 154.4l4.5-3.7-2.6-3.7-4.5 3.8z" fill="#85ffd0"/>
<path d="M498.7 169.9l4.5-3.3-2.6-3.7-4.4 3.3z" fill="#83ffff"/>
<path d="M522.2 151.1l4.5-3.9-2.5-3.6-4.6 3.9z" fill="#85ffbf"/>
<path d="M522.3 150.7l-2.2-3.3"/>
<path d="M459.7 186.2l4.4-2.5-2.5-4.1-4.4 2.6z" fill="#6effff"/>
<path d="M430.5 187l4.3-2-2.5-4.5-4.3 2.1z" fill="#52ffff"/>
<path d="M473.4 182.7l4.4-2.8-2.5-3.9-4.4 2.8z" fill="#78ffff"/>
<path d="M471.3 178.9l3.9-2.5"/>
<path d="M494.8 172.8l4.5-3.3-2.5-3.7-4.5 3.3z" fill="#82ffff"/>
<path d="M498.8 169.5l-2.2-3.3"/>
<path d="M402.9 178.4l4.3-1.6-2.4-4.9-4.3 1.5z" fill="#38ffff"/>
<path d="M526.2 147.7l4.5-3.9-2.6-3.7-4.5 4z" fill="#85ffad"/>
<path d="M408.9 181.2l4.3-1.6-2.5-4.8-4.3 1.6z" fill="#3dffff"/>
<path d="M412.8 179.4l-2.2-4.2"/>
<path d="M397 175.3l4.3-1.5-2.5-5-4.3 1.4z" fill="#33fffe"/>
<path d="M394.9 170.5l3.8-1.3"/>
<path d="M414.8 183.9l4.3-1.7-2.4-4.7-4.3 1.7z" fill="#43ffff"/>
<path d="M412.8 179.4l3.7-1.5"/>
<path d="M491 175.6l4.4-3.2-2.5-3.7-4.5 3.2z" fill="#81ffff"/>
<path d="M530.1 144.2l4.6-4-2.6-3.6-4.6 4z" fill="#84ff9a"/>
<path d="M446.2 188.9l4.3-2.3-2.5-4.2-4.3 2.3z" fill="#62ffff"/>
<path d="M469.5 185.1l4.4-2.7-2.5-4-4.4 2.8z" fill="#76ffff"/>
<path d="M467.5 181.3l3.8-2.4"/>
<path d="M473.5 182.3l-2.2-3.4"/>
<path d="M420.8 186.4l4.3-1.9-2.5-4.5-4.3 1.8z" fill="#49ffff"/>
<path d="M436.4 189l4.4-2.1-2.5-4.3-4.3 2.1z" fill="#58ffff"/>
<path d="M434.4 184.8l3.8-1.8"/>
<path d="M487.1 178.3l4.4-3.1-2.5-3.7-4.4 3.1z" fill="#80ffff"/>
<path d="M455.9 188.4l4.4-2.5-2.5-4.1-4.4 2.5z" fill="#6bffff"/>
<path d="M459.9 185.8l-2.2-3.5"/>
<path d="M534.1 140.7l4.6-4.1-2.6-3.6-4.6 4.1z" fill="#84ff88"/>
<path d="M534.2 140.2l-2.2-3.2"/>
<path d="M483.2 181l4.5-3.1-2.5-3.7-4.5 3z" fill="#7effff"/>
<path d="M487.2 177.9l-2.2-3.3"/>
<path d="M426.7 188.7l4.3-2-2.4-4.4-4.4 1.9z" fill="#4fffff"/>
<path d="M430.6 186.6l-2.2-3.9"/>
<path d="M538.1 137l4.6-4.1-2.6-3.6-4.6 4.2z" fill="#92ff83"/>
<path d="M465.7 187.4l4.4-2.6-2.5-4-4.4 2.7z" fill="#73ffff"/>
<path d="M463.7 183.6l3.8-2.3"/>
<path d="M442.4 190.9l4.3-2.3-2.5-4.2-4.3 2.2z" fill="#5fffff"/>
<path d="M446.3 188.5l-2.2-3.6"/>
<path d="M405.1 182.6l4.3-1.6-2.4-4.8-4.3 1.5z" fill="#3affff"/>
<path d="M452.1 190.5l4.4-2.4-2.5-4.1-4.4 2.4z" fill="#68ffff"/>
<path d="M399.2 179.6l4.3-1.5-2.5-4.9-4.3 1.5z" fill="#35ffff"/>
<path d="M479.4 183.5l4.4-2.9-2.5-3.8-4.4 2.9z" fill="#7dffff"/>
<path d="M542.1 133.3l4.6-4.2-2.6-3.6-4.6 4.3z" fill="#a6ff83"/>
<path d="M546.3 129.1l-2.3-3.1"/>
<path d="M411 185.3l4.4-1.6-2.5-4.8-4.3 1.7z" fill="#40ffff"/>
<path d="M409 180.8l3.8-1.4"/>
<path d="M414.9 183.5l-2.1-4.1"/>
<path d="M393.2 176.5l4.3-1.4-2.4-5.1-4.3 1.4z" fill="#30ffff"/>
<path d="M391.2 171.6l3.7-1.1"/>
<path d="M397.1 174.9l-2.2-4.4"/>
<path d="M432.6 190.8l4.4-2.1-2.5-4.3-4.3 2z" fill="#55faff"/>
<path d="M430.6 186.6l3.8-1.8"/>
<path d="M512.7 164l4.4-3.6-2.5-3.6-4.5 3.6z" fill="#87ffff"/>
<path d="M508.7 167.1l4.5-3.5-2.5-3.6-4.5 3.5z" fill="#87ffff"/>
<path d="M512.8 163.6l-2.3-3.2"/>
<path d="M516.6 160.8l4.5-3.7-2.6-3.5-4.5 3.7z" fill="#87fff0"/>
<path d="M504.8 170.1l4.5-3.4-2.5-3.6-4.5 3.4z" fill="#86ffff"/>
<path d="M520.5 157.6l4.5-3.8-2.5-3.6-4.6 3.8z" fill="#87ffde"/>
<path d="M417 187.9l4.3-1.8-2.5-4.6-4.3 1.8z" fill="#45feff"/>
<path d="M461.9 189.7l4.4-2.6-2.5-4-4.4 2.6z" fill="#71ffff"/>
<path d="M459.9 185.8l3.8-2.2"/>
<path d="M500.9 173.1l4.5-3.4-2.5-3.6-4.5 3.4z" fill="#86ffff"/>
<path d="M524.5 154.2l4.5-3.9-2.6-3.5-4.5 3.9z" fill="#87ffcc"/>
<path d="M524.6 153.8l-2.3-3.1"/>
<path d="M475.5 186l4.5-2.8-2.5-3.8-4.4 2.8z" fill="#7bffff"/>
<path d="M497 176l4.5-3.3-2.5-3.6-4.5 3.3z" fill="#85ffff"/>
<path d="M501.1 172.7l-2.3-3.2"/>
<path d="M528.4 150.8l4.6-3.9-2.6-3.6-4.6 4z" fill="#87ffb9"/>
<path d="M422.9 190.3l4.3-1.9-2.4-4.5-4.3 1.9z" fill="#4bf5ff"/>
<path d="M448.3 192.5l4.4-2.3-2.5-4.1-4.4 2.3z" fill="#65ffff"/>
<path d="M438.6 192.7l4.3-2.1-2.4-4.3-4.4 2.2z" fill="#5bf6ff"/>
<path d="M493.2 178.8l4.4-3.2-2.5-3.7-4.5 3.2z" fill="#84ffff"/>
<path d="M532.4 147.3l4.6-4-2.6-3.5-4.6 4z" fill="#86ffa7"/>
<path d="M471.7 188.4l4.4-2.7-2.5-3.9-4.4 2.8z" fill="#79ffff"/>
<path d="M475.7 185.6l-2.2-3.3"/>
<path d="M458.1 191.9l4.4-2.6-2.5-3.9-4.4 2.5z" fill="#6effff"/>
<path d="M456 188l3.9-2.2"/>
<path d="M462 189.3l-2.1-3.5"/>
<path d="M489.3 181.5l4.4-3.1-2.5-3.7-4.4 3.2z" fill="#83ffff"/>
<path d="M428.8 192.5l4.4-2-2.5-4.4-4.3 2z" fill="#52efff"/>
<path d="M426.8 188.3l3.8-1.7"/>
<path d="M432.7 190.4l-2.1-3.8"/>
<path d="M536.4 143.8l4.6-4.2-2.7-3.4-4.5 4.1z" fill="#86ff94"/>
<path d="M536.5 143.3l-2.3-3.1"/>
<path d="M401.3 183.8l4.3-1.5-2.4-4.8-4.3 1.5z" fill="#37ffff"/>
<path d="M407.3 186.7l4.3-1.6-2.5-4.7-4.3 1.5z" fill="#3cffff"/>
<path d="M405.2 182.1l3.8-1.3"/>
<path d="M395.4 180.8l4.3-1.4-2.5-5-4.2 1.4z" fill="#32ffff"/>
<path d="M399.3 179.2l-2.2-4.3"/>
<path d="M413.2 189.3l4.3-1.7-2.4-4.6-4.3 1.7z" fill="#42f5ff"/>
<path d="M417.1 187.5l-2.2-4"/>
<path d="M485.4 184.2l4.5-3.1-2.6-3.6-4.4 3z" fill="#81ffff"/>
<path d="M489.4 181.1l-2.2-3.2"/>
<path d="M389.5 177.5l4.2-1.2-2.4-5.1-4.3 1.3z" fill="#2dffff"/>
<path d="M387.4 172.7l3.8-1.1"/>
<path d="M467.9 190.8l4.4-2.7-2.5-3.9-4.4 2.7z" fill="#76ffff"/>
<path d="M540.4 140.1l4.6-4.2-2.7-3.4-4.5 4.1z" fill="#89ff85"/>
<path d="M444.5 194.4l4.4-2.2-2.5-4.1-4.4 2.2z" fill="#62f4ff"/>
<path d="M448.4 192.1l-2.1-3.6"/>
<path d="M454.3 193.9l4.3-2.4-2.4-4-4.4 2.5z" fill="#6bffff"/>
<path d="M452.2 190.1l3.8-2.1"/>
<path d="M434.8 194.5l4.3-2.1-2.4-4.2-4.4 2z" fill="#58ebff"/>
<path d="M419.1 191.8l4.4-1.8-2.5-4.5-4.3 1.8z" fill="#48ecff"/>
<path d="M481.6 186.7l4.4-2.9-2.5-3.7-4.4 3z" fill="#7fffff"/>
<path d="M544.4 136.4l4.6-4.3-2.6-3.4-4.6 4.3z" fill="#9cff85"/>
<path d="M548.5 132.2l-2.2-3.1"/>
<path d="M514.9 167l4.5-3.6-2.6-3.5-4.5 3.7z" fill="#89ffff"/>
<path d="M512.8 163.6l3.9-3.2"/>
<path d="M464 193l4.4-2.6-2.4-3.8-4.4 2.6z" fill="#74ffff"/>
<path d="M511 170.2l4.4-3.6-2.5-3.5-4.5 3.6z" fill="#89ffff"/>
<path d="M508.9 166.7l3.9-3.1"/>
<path d="M515 166.6l-2.2-3"/>
<path d="M518.8 163.9l4.5-3.8-2.5-3.4-4.6 3.7z" fill="#89fffd"/>
<path d="M516.7 160.4l3.9-3.3"/>
<path d="M425 194.1l4.4-1.9-2.5-4.4-4.3 1.9z" fill="#4ee5ff"/>
<path d="M423 189.8l3.8-1.5"/>
<path d="M507 173.2l4.5-3.5-2.5-3.5-4.5 3.5z" fill="#89ffff"/>
<path d="M504.9 169.7l4-3"/>
<path d="M522.8 160.6l4.5-3.8-2.6-3.5-4.5 3.8z" fill="#89ffeb"/>
<path d="M520.6 157.1l4-3.3"/>
<path d="M477.7 189.2l4.4-2.8-2.5-3.7-4.4 2.8z" fill="#7effff"/>
<path d="M503.1 176.2l4.5-3.4-2.5-3.5-4.5 3.4z" fill="#88ffff"/>
<path d="M501.1 172.7l3.8-3"/>
<path d="M526.7 157.2l4.6-3.9-2.6-3.4-4.6 3.9z" fill="#89ffd8"/>
<path d="M524.6 153.8l3.9-3.4"/>
<path d="M526.8 156.8l-2.2-3"/>
<path d="M440.7 196.3l4.4-2.2-2.5-4.1-4.3 2.1z" fill="#5fe8ff"/>
<path d="M450.4 196l4.4-2.4-2.4-4-4.4 2.4z" fill="#68f4ff"/>
<path d="M448.4 192.1l3.8-2"/>
<path d="M499.2 179.1l4.5-3.3-2.5-3.6-4.5 3.3z" fill="#87ffff"/>
<path d="M497.2 175.6l3.9-2.9"/>
<path d="M503.3 175.7l-2.2-3"/>
<path d="M403.5 187.9l4.3-1.5-2.4-4.7-4.3 1.5z" fill="#39f9ff"/>
<path d="M401.5 183.4l3.7-1.3"/>
<path d="M397.6 185l4.3-1.4-2.5-4.9-4.3 1.4z" fill="#34ffff"/>
<path d="M401.5 183.4l-2.2-4.2"/>
<path d="M530.7 153.8l4.5-4-2.6-3.4-4.5 4z" fill="#89ffc5"/>
<path d="M528.5 150.4l4-3.5"/>
<path d="M409.4 190.7l4.3-1.6-2.4-4.6-4.3 1.6z" fill="#3fedff"/>
<path d="M391.6 181.9l4.3-1.3-2.4-5-4.3 1.3z" fill="#2fffff"/>
<path d="M431 196.1l4.3-1.9-2.4-4.3-4.4 2z" fill="#55e0ff"/>
<path d="M434.9 194l-2.2-3.6"/>
<path d="M495.3 181.9l4.5-3.2-2.5-3.6-4.5 3.2z" fill="#86ffff"/>
<path d="M493.3 178.4l3.9-2.8"/>
<path d="M460.2 195.2l4.4-2.5-2.5-3.9-4.3 2.5z" fill="#71ffff"/>
<path d="M464.2 192.6l-2.2-3.3"/>
<path d="M534.7 150.3l4.5-4-2.6-3.4-4.5 4z" fill="#88ffb3"/>
<path d="M532.5 146.9l4-3.6"/>
<path d="M473.9 191.7l4.4-2.8-2.5-3.7-4.4 2.7z" fill="#7cffff"/>
<path d="M477.8 188.8l-2.1-3.2"/>
<path d="M415.3 193.2l4.4-1.7-2.5-4.5-4.3 1.7z" fill="#45e3ff"/>
<path d="M419.3 191.4l-2.2-3.9"/>
<path d="M385.7 178.6l4.3-1.3-2.5-5-4.3 1.2z" fill="#2affff"/>
<path d="M383.6 173.7l3.8-1"/>
<path d="M491.5 184.6l4.4-3.1-2.5-3.6-4.4 3.2z" fill="#85ffff"/>
<path d="M489.4 181.1l3.9-2.7"/>
<path d="M538.7 146.7l4.5-4.1-2.6-3.4-4.5 4.2z" fill="#87ff9f"/>
<path d="M536.5 143.3l4-3.6"/>
<path d="M538.8 146.3l-2.3-3"/>
<path d="M421.3 195.6l4.3-1.8-2.4-4.4-4.4 1.8z" fill="#4bdbff"/>
<path d="M419.3 191.4l3.7-1.6"/>
<path d="M446.6 197.9l4.4-2.3-2.4-4-4.4 2.3z" fill="#65e7ff"/>
<path d="M444.6 194l3.8-1.9"/>
<path d="M450.6 195.5l-2.2-3.4"/>
<path d="M470 194l4.4-2.7-2.4-3.7-4.4 2.7z" fill="#79ffff"/>
<path d="M436.9 198l4.4-2-2.5-4.2-4.3 2.1z" fill="#5bdcff"/>
<path d="M487.6 187.3l4.4-3.1-2.5-3.5-4.4 3z" fill="#84ffff"/>
<path d="M485.5 183.7l3.9-2.6"/>
<path d="M491.6 184.2l-2.2-3.1"/>
<path d="M542.7 143.1l4.6-4.2-2.7-3.4-4.5 4.2z" fill="#87ff8c"/>
<path d="M540.5 139.7l4-3.7"/>
<path d="M456.4 197.3l4.4-2.4-2.5-3.9-4.4 2.4z" fill="#6ef5ff"/>
<path d="M427.2 197.7l4.3-1.8-2.4-4.3-4.3 1.9z" fill="#51d5ff"/>
<path d="M483.7 189.9l4.5-3-2.5-3.6-4.5 3z" fill="#82ffff"/>
<path d="M481.7 186.3l3.8-2.6"/>
<path d="M399.7 189.1l4.3-1.4-2.4-4.7-4.3 1.4z" fill="#36f3ff"/>
<path d="M397.7 184.6l3.8-1.2"/>
<path d="M403.6 187.5l-2.1-4.1"/>
<path d="M546.7 139.4l4.6-4.3-2.6-3.3-4.6 4.2z" fill="#93ff86"/>
<path d="M544.5 136l4-3.8"/>
<path d="M550.8 135.2l-2.3-3"/>
<path d="M393.8 186.1l4.3-1.3-2.4-4.9-4.3 1.3z" fill="#31ffff"/>
<path d="M405.6 191.9l4.4-1.5-2.5-4.6-4.3 1.5z" fill="#3ce5ff"/>
<path d="M466.2 196.3l4.4-2.7-2.5-3.7-4.4 2.6z" fill="#77ffff"/>
<path d="M387.8 182.9l4.3-1.2-2.4-5-4.3 1.2z" fill="#2cffff"/>
<path d="M411.6 194.6l4.3-1.6-2.4-4.5-4.4 1.6z" fill="#41dbff"/>
<path d="M517.1 170l4.5-3.7-2.5-3.3-4.6 3.6z" fill="#8bffff"/>
<path d="M513.2 173.1l4.5-3.6-2.6-3.3-4.5 3.5z" fill="#8bffff"/>
<path d="M517.2 169.6l-2.2-3"/>
<path d="M521 166.8l4.6-3.8-2.6-3.3-4.5 3.7z" fill="#8bffff"/>
<path d="M442.8 199.7l4.4-2.1-2.4-4-4.4 2.1z" fill="#62dbff"/>
<path d="M440.8 195.8l3.8-1.8"/>
<path d="M509.2 176.2l4.5-3.5-2.5-3.4-4.5 3.5z" fill="#8bffff"/>
<path d="M525 163.5l4.5-3.8-2.5-3.3-4.6 3.8z" fill="#8bfff7"/>
<path d="M479.9 192.4l4.4-2.9-2.5-3.6-4.4 2.9z" fill="#80ffff"/>
<path d="M477.8 188.8l3.9-2.5"/>
<path d="M452.6 199.3l4.4-2.3-2.5-3.9-4.4 2.3z" fill="#6be8ff"/>
<path d="M505.3 179.1l4.5-3.4-2.5-3.4-4.5 3.4z" fill="#8affff"/>
<path d="M529 160.2l4.5-3.9-2.6-3.4-4.5 3.9z" fill="#8affe4"/>
<path d="M529.1 159.7l-2.3-2.9"/>
<path d="M381.9 179.5l4.3-1.2-2.4-5-4.3 1.1z" fill="#28fffe"/>
<path d="M379.9 174.6l3.7-0.9"/>
<path d="M385.8 178.1l-2.2-4.4"/>
<path d="M433.1 199.7l4.4-2-2.5-4.1-4.3 2z" fill="#58d1ff"/>
<path d="M437 197.6l-2.1-3.6"/>
<path d="M417.5 197l4.3-1.7-2.4-4.4-4.3 1.7z" fill="#47d2ff"/>
<path d="M415.5 192.8l3.8-1.4"/>
<path d="M421.4 195.2l-2.1-3.8"/>
<path d="M501.4 182l4.5-3.3-2.5-3.4-4.5 3.3z" fill="#89ffff"/>
<path d="M505.5 178.7l-2.2-3"/>
<path d="M532.9 156.7l4.6-4-2.6-3.3-4.5 4z" fill="#8affd1"/>
<path d="M462.4 198.4l4.4-2.5-2.5-3.7-4.4 2.5z" fill="#74f8ff"/>
<path d="M466.3 195.8l-2.1-3.2"/>
<path d="M476 194.8l4.5-2.8-2.5-3.6-4.4 2.8z" fill="#7effff"/>
<path d="M474 191.2l3.8-2.4"/>
<path d="M480 191.9l-2.2-3.1"/>
<path d="M497.5 184.9l4.5-3.3-2.5-3.4-4.5 3.2z" fill="#88ffff"/>
<path d="M536.9 153.2l4.6-4-2.6-3.3-4.6 4z" fill="#89ffbd"/>
<path d="M423.4 199.3l4.3-1.8-2.4-4.3-4.3 1.8z" fill="#4eccff"/>
<path d="M493.6 187.6l4.5-3.1-2.5-3.5-4.5 3.2z" fill="#87ffff"/>
<path d="M448.8 201.2l4.4-2.2-2.5-3.9-4.4 2.2z" fill="#68dbff"/>
<path d="M452.7 198.9l-2.1-3.4"/>
<path d="M540.9 149.6l4.6-4.1-2.6-3.3-4.6 4.2z" fill="#89ffaa"/>
<path d="M541 149.2l-2.2-2.9"/>
<path d="M439 201.5l4.4-2.1-2.4-4-4.4 2.1z" fill="#5ecfff"/>
<path d="M437 197.6l3.8-1.8"/>
<path d="M395.9 190.2l4.3-1.3-2.4-4.8-4.3 1.4z" fill="#33edff"/>
<path d="M393.9 185.7l3.8-1.1"/>
<path d="M401.9 193.1l4.3-1.4-2.4-4.6-4.4 1.4z" fill="#38dfff"/>
<path d="M405.8 191.5l-2.2-4"/>
<path d="M472.2 197.1l4.4-2.7-2.5-3.6-4.4 2.7z" fill="#7cffff"/>
<path d="M470.2 193.6l3.8-2.4"/>
<path d="M390 187.1l4.3-1.2-2.4-4.9-4.3 1.2z" fill="#2efeff"/>
<path d="M407.8 195.9l4.3-1.6-2.4-4.5-4.3 1.5z" fill="#3ed3ff"/>
<path d="M458.5 200.5l4.4-2.4-2.4-3.8-4.4 2.5z" fill="#71eaff"/>
<path d="M489.8 190.3l4.4-3.1-2.5-3.4-4.4 3z" fill="#86ffff"/>
<path d="M493.8 187.2l-2.2-3"/>
<path d="M429.3 201.3l4.4-1.9-2.5-4.1-4.3 1.9z" fill="#54c7ff"/>
<path d="M544.9 146l4.6-4.2-2.6-3.3-4.6 4.2z" fill="#88ff96"/>
<path d="M384.1 183.8l4.3-1.1-2.5-5-4.3 1.1z" fill="#29ffff"/>
<path d="M388 182.5l-2.2-4.4"/>
<path d="M413.7 198.4l4.3-1.6-2.4-4.4-4.3 1.6z" fill="#44caff"/>
<path d="M411.7 194.1l3.8-1.3"/>
<path d="M485.9 192.9l4.4-3-2.4-3.5-4.5 3z" fill="#84ffff"/>
<path d="M549 142.3l4.6-4.3-2.6-3.3-4.6 4.3z" fill="#8bff87"/>
<path d="M553.1 138l-2.3-2.8"/>
<path d="M378.1 180.3l4.3-1-2.4-5.1-4.3 1z" fill="#25fffc"/>
<path d="M376.1 175.4l3.8-0.8"/>
<path d="M468.3 199.4l4.5-2.6-2.5-3.7-4.4 2.7z" fill="#79fcff"/>
<path d="M466.3 195.8l3.9-2.2"/>
<path d="M445 203.1l4.3-2.2-2.4-3.9-4.4 2.2z" fill="#64cfff"/>
<path d="M419.6 200.7l4.4-1.7-2.5-4.3-4.3 1.7z" fill="#4ac3ff"/>
<path d="M423.5 198.8l-2.1-3.6"/>
<path d="M435.2 203.2l4.4-2-2.4-4-4.4 2z" fill="#5ac5ff"/>
<path d="M433.2 199.3l3.8-1.7"/>
<path d="M439.2 201.1l-2.2-3.5"/>
<path d="M454.7 202.6l4.4-2.4-2.4-3.8-4.4 2.4z" fill="#6eddff"/>
<path d="M519.3 172.8l4.5-3.6-2.5-3.3-4.5 3.7z" fill="#8cffff"/>
<path d="M515.4 176l4.5-3.6-2.6-3.3-4.5 3.6z" fill="#8cffff"/>
<path d="M519.4 172.4l-2.2-2.8"/>
<path d="M523.3 169.6l4.5-3.7-2.6-3.3-4.5 3.8z" fill="#8cffff"/>
<path d="M482 195.4l4.5-2.9-2.5-3.5-4.4 2.9z" fill="#83ffff"/>
<path d="M511.4 179l4.6-3.5-2.6-3.2-4.5 3.5z" fill="#8cffff"/>
<path d="M527.2 166.3l4.6-3.8-2.6-3.2-4.5 3.8z" fill="#8cffff"/>
<path d="M507.5 182l4.5-3.4-2.5-3.3-4.5 3.4z" fill="#8cffff"/>
<path d="M531.2 163l4.6-3.9-2.6-3.2-4.6 3.9z" fill="#8cffee"/>
<path d="M531.3 162.5l-2.2-2.8"/>
<path d="M425.5 202.9l4.4-1.8-2.4-4.2-4.4 1.8z" fill="#50beff"/>
<path d="M398.1 194.2l4.3-1.3-2.4-4.6-4.3 1.3z" fill="#35d9ff"/>
<path d="M464.5 201.6l4.4-2.6-2.4-3.6-4.4 2.5z" fill="#77eeff"/>
<path d="M462.5 198l3.8-2.2"/>
<path d="M468.5 199l-2.2-3.2"/>
<path d="M503.6 184.9l4.5-3.3-2.5-3.3-4.5 3.3z" fill="#8bffff"/>
<path d="M507.7 181.6l-2.2-2.9"/>
<path d="M392.2 191.2l4.3-1.2-2.5-4.8-4.3 1.3z" fill="#30e8ff"/>
<path d="M390.1 186.7l3.8-1"/>
<path d="M535.2 159.5l4.6-4-2.6-3.2-4.6 4z" fill="#8bffdb"/>
<path d="M404 197l4.3-1.4-2.4-4.5-4.3 1.4z" fill="#3accff"/>
<path d="M407.9 195.4l-2.1-3.9"/>
<path d="M478.2 197.8l4.4-2.8-2.5-3.5-4.4 2.8z" fill="#81ffff"/>
<path d="M482.2 194.9l-2.2-3"/>
<path d="M386.2 188l4.3-1.1-2.4-4.9-4.3 1.2z" fill="#2bfaff"/>
<path d="M390.1 186.7l-2.1-4.2"/>
<path d="M499.7 187.8l4.5-3.3-2.5-3.3-4.5 3.2z" fill="#8affff"/>
<path d="M409.9 199.7l4.3-1.6-2.4-4.4-4.3 1.5z" fill="#40c2ff"/>
<path d="M407.9 195.4l3.8-1.3"/>
<path d="M539.2 156l4.6-4.1-2.6-3.1-4.6 4z" fill="#8bffc7"/>
<path d="M441.2 204.9l4.3-2.1-2.4-3.9-4.4 2.1z" fill="#61c4ff"/>
<path d="M450.9 204.5l4.4-2.3-2.4-3.7-4.4 2.2z" fill="#6bd0ff"/>
<path d="M454.9 202.1l-2.2-3.2"/>
<path d="M380.3 184.7l4.3-1.1-2.4-5-4.3 1.1z" fill="#27ffff"/>
<path d="M495.8 190.5l4.5-3.2-2.5-3.3-4.5 3.2z" fill="#89ffff"/>
<path d="M431.4 204.8l4.4-1.9-2.4-4-4.4 1.9z" fill="#57baff"/>
<path d="M429.5 200.9l3.7-1.6"/>
<path d="M543.2 152.4l4.6-4.1-2.6-3.2-4.6 4.2z" fill="#8affb4"/>
<path d="M543.3 152l-2.3-2.8"/>
<path d="M415.8 202.1l4.4-1.6-2.4-4.3-4.4 1.6z" fill="#46baff"/>
<path d="M460.7 203.7l4.4-2.5-2.5-3.6-4.4 2.4z" fill="#74e0ff"/>
<path d="M458.7 200.1l3.8-2.1"/>
<path d="M474.3 200.2l4.5-2.8-2.5-3.5-4.4 2.7z" fill="#7effff"/>
<path d="M491.9 193.2l4.5-3.1-2.5-3.4-4.4 3.1z" fill="#88ffff"/>
<path d="M496 190.1l-2.2-2.9"/>
<path d="M374.3 181.1l4.3-1-2.4-5.1-4.3 1z" fill="#23fff9"/>
<path d="M372.3 176.2l3.8-0.8"/>
<path d="M547.2 148.8l4.6-4.3-2.6-3.1-4.6 4.2z" fill="#89ffa0"/>
<path d="M421.7 204.3l4.4-1.7-2.4-4.2-4.4 1.7z" fill="#4cb5ff"/>
<path d="M425.7 202.4l-2.2-3.6"/>
<path d="M447.1 206.4l4.4-2.2-2.4-3.8-4.4 2.2z" fill="#67c4ff"/>
<path d="M488.1 195.8l4.4-3-2.5-3.4-4.4 3z" fill="#86ffff"/>
<path d="M437.4 206.6l4.3-2-2.4-3.9-4.4 2z" fill="#5db9ff"/>
<path d="M441.3 204.5l-2.1-3.4"/>
<path d="M470.5 202.4l4.4-2.6-2.4-3.5-4.5 2.6z" fill="#7cf2ff"/>
<path d="M551.3 145l4.6-4.3-2.6-3.1-4.7 4.3z" fill="#88ff8c"/>
<path d="M555.4 140.8l-2.3-2.8"/>
<path d="M394.3 195.3l4.3-1.3-2.4-4.6-4.3 1.2z" fill="#32d4ff"/>
<path d="M400.2 198.2l4.3-1.4-2.4-4.5-4.3 1.3z" fill="#37c7ff"/>
<path d="M456.9 205.7l4.4-2.4-2.5-3.6-4.4 2.4z" fill="#71d3ff"/>
<path d="M454.9 202.1l3.8-2"/>
<path d="M388.4 192.2l4.3-1.2-2.4-4.7-4.3 1.1z" fill="#2de4ff"/>
<path d="M386.4 187.6l3.7-0.9"/>
<path d="M392.3 190.8l-2.2-4.1"/>
<path d="M406.1 200.9l4.4-1.5-2.4-4.4-4.4 1.4z" fill="#3dbcff"/>
<path d="M404.1 196.6l3.8-1.2"/>
<path d="M410 199.2l-2.1-3.8"/>
<path d="M427.6 206.4l4.4-1.9-2.4-4-4.4 1.8z" fill="#53b1ff"/>
<path d="M425.7 202.4l3.8-1.5"/>
<path d="M382.4 188.9l4.3-1.1-2.4-4.8-4.3 1z" fill="#28f6ff"/>
<path d="M484.2 198.3l4.4-2.9-2.4-3.4-4.5 2.9z" fill="#85ffff"/>
<path d="M521.5 175.6l4.6-3.7-2.6-3.1-4.5 3.6z" fill="#8effff"/>
<path d="M519.4 172.4l4-3.2"/>
<path d="M517.6 178.7l4.5-3.6-2.5-3.1-4.5 3.6z" fill="#8effff"/>
<path d="M515.5 175.5l3.9-3.1"/>
<path d="M521.7 175.2l-2.3-2.8"/>
<path d="M525.5 172.4l4.5-3.8-2.5-3.1-4.6 3.7z" fill="#8dffff"/>
<path d="M523.4 169.2l3.9-3.3"/>
<path d="M513.7 181.8l4.5-3.5-2.6-3.2-4.5 3.5z" fill="#8dffff"/>
<path d="M511.6 178.6l3.9-3.1"/>
<path d="M529.5 169.1l4.5-3.9-2.6-3.1-4.5 3.8z" fill="#8dffff"/>
<path d="M527.3 165.9l4-3.4"/>
<path d="M412 203.4l4.4-1.6-2.4-4.3-4.4 1.6z" fill="#43b3ff"/>
<path d="M509.7 184.8l4.5-3.5-2.5-3.1-4.5 3.4z" fill="#8dffff"/>
<path d="M507.7 181.6l3.9-3"/>
<path d="M533.4 165.7l4.6-3.9-2.6-3.1-4.5 3.9z" fill="#8dfff8"/>
<path d="M531.3 162.5l4-3.4"/>
<path d="M533.6 165.3l-2.3-2.8"/>
<path d="M466.6 204.6l4.5-2.5-2.5-3.6-4.4 2.6z" fill="#79e4ff"/>
<path d="M470.6 202l-2.1-3"/>
<path d="M376.5 185.4l4.3-0.9-2.4-5-4.3 0.9z" fill="#24ffff"/>
<path d="M505.8 187.7l4.5-3.4-2.5-3.1-4.5 3.3z" fill="#8cffff"/>
<path d="M503.7 184.5l4-2.9"/>
<path d="M509.9 184.4l-2.2-2.8"/>
<path d="M537.4 162.2l4.6-4-2.6-3-4.5 4z" fill="#8cffe4"/>
<path d="M535.3 159.1l4-3.5"/>
<path d="M443.3 208.2l4.4-2.1-2.5-3.8-4.3 2z" fill="#63b9ff"/>
<path d="M480.3 200.7l4.5-2.8-2.5-3.4-4.4 2.8z" fill="#83ffff"/>
<path d="M484.3 197.9l-2.1-3"/>
<path d="M417.9 205.7l4.4-1.6-2.4-4.2-4.4 1.6z" fill="#49acff"/>
<path d="M453 207.7l4.4-2.3-2.4-3.7-4.4 2.3z" fill="#6dc6ff"/>
<path d="M451 204.1l3.9-2"/>
<path d="M457 205.3l-2.1-3.2"/>
<path d="M433.6 208.2l4.3-1.9-2.4-3.9-4.4 1.9z" fill="#59afff"/>
<path d="M501.9 190.5l4.5-3.2-2.5-3.2-4.5 3.2z" fill="#8cffff"/>
<path d="M499.8 187.3l3.9-2.8"/>
<path d="M541.4 158.7l4.6-4.1-2.6-3-4.5 4z" fill="#8bffd0"/>
<path d="M539.3 155.6l4-3.6"/>
<path d="M370.5 181.8l4.3-0.9-2.4-5.1-4.3 0.8z" fill="#20fff5"/>
<path d="M368.5 176.9l3.8-0.7"/>
<path d="M374.5 180.7l-2.2-4.5"/>
<path d="M498 193.3l4.5-3.2-2.5-3.2-4.5 3.2z" fill="#8bffff"/>
<path d="M496 190.1l3.8-2.8"/>
<path d="M462.8 206.7l4.4-2.4-2.4-3.6-4.4 2.5z" fill="#76d6ff"/>
<path d="M545.5 155.1l4.6-4.2-2.6-3-4.6 4.2z" fill="#8affbc"/>
<path d="M543.3 152l4-3.7"/>
<path d="M545.6 154.7l-2.3-2.7"/>
<path d="M476.5 203.1l4.4-2.8-2.4-3.4-4.5 2.8z" fill="#80f8ff"/>
<path d="M423.8 207.8l4.4-1.7-2.4-4.1-4.4 1.7z" fill="#4fa8ff"/>
<path d="M421.9 203.9l3.8-1.5"/>
<path d="M427.8 205.9l-2.1-3.5"/>
<path d="M396.4 199.2l4.3-1.3-2.3-4.5-4.4 1.2z" fill="#34c1ff"/>
<path d="M390.5 196.2l4.3-1.2-2.4-4.6-4.3 1.1z" fill="#2fd0ff"/>
<path d="M394.4 194.8l-2.1-4"/>
<path d="M402.3 202l4.4-1.4-2.4-4.4-4.4 1.3z" fill="#39b6ff"/>
<path d="M400.3 197.7l3.8-1.1"/>
<path d="M384.6 193l4.3-1-2.4-4.8-4.3 1.1z" fill="#2ae1ff"/>
<path d="M382.6 188.5l3.8-0.9"/>
<path d="M494.1 196l4.5-3.1-2.5-3.3-4.5 3.1z" fill="#89ffff"/>
<path d="M492.1 192.7l3.9-2.6"/>
<path d="M498.1 192.9l-2.1-2.8"/>
<path d="M549.5 151.4l4.6-4.2-2.6-3-4.6 4.2z" fill="#8affa8"/>
<path d="M547.3 148.3l4.1-3.7"/>
<path d="M439.5 209.9l4.4-2.1-2.5-3.8-4.3 2z" fill="#60aeff"/>
<path d="M443.4 207.7l-2.1-3.2"/>
<path d="M408.2 204.6l4.4-1.5-2.4-4.3-4.4 1.5z" fill="#3facff"/>
<path d="M412.2 202.9l-2.2-3.7"/>
<path d="M449.2 209.5l4.4-2.2-2.4-3.6-4.4 2.2z" fill="#6abbff"/>
<path d="M447.2 205.9l3.8-1.8"/>
<path d="M378.6 189.7l4.4-1-2.4-4.9-4.4 1z" fill="#26f4ff"/>
<path d="M472.6 205.4l4.5-2.7-2.5-3.4-4.4 2.6z" fill="#7ee9ff"/>
<path d="M490.2 198.6l4.5-3-2.5-3.3-4.5 3z" fill="#88ffff"/>
<path d="M488.2 195.3l3.9-2.6"/>
<path d="M429.8 209.8l4.3-1.9-2.4-3.9-4.3 1.8z" fill="#55a5ff"/>
<path d="M553.5 147.7l4.7-4.3-2.7-3.1-4.6 4.4z" fill="#89ff94"/>
<path d="M551.4 144.6l4-3.8"/>
<path d="M557.7 143.4l-2.3-2.6"/>
<path d="M459 208.8l4.4-2.4-2.4-3.6-4.5 2.4z" fill="#73caff"/>
<path d="M414.1 207l4.4-1.6-2.4-4.2-4.4 1.6z" fill="#45a5ff"/>
<path d="M372.7 186.1l4.3-0.9-2.4-5-4.3 0.9z" fill="#22ffff"/>
<path d="M376.6 185l-2.1-4.3"/>
<path d="M486.4 201.1l4.4-2.9-2.5-3.3-4.4 2.9z" fill="#86ffff"/>
<path d="M484.3 197.9l3.9-2.6"/>
<path d="M523.8 178.2l4.5-3.7-2.6-3-4.5 3.7z" fill="#8effff"/>
<path d="M519.8 181.4l4.5-3.6-2.5-3.1-4.5 3.6z" fill="#8effff"/>
<path d="M523.9 177.8l-2.2-2.6"/>
<path d="M527.7 175l4.6-3.8-2.6-3-4.5 3.8z" fill="#8effff"/>
<path d="M420 209.2l4.4-1.7-2.4-4-4.3 1.6z" fill="#4ba0ff"/>
<path d="M418.1 205.3l3.8-1.4"/>
<path d="M515.9 184.5l4.5-3.6-2.6-3-4.5 3.5z" fill="#8effff"/>
<path d="M531.7 171.7l4.6-3.9-2.6-3-4.6 3.9z" fill="#8effff"/>
<path d="M468.8 207.6l4.4-2.6-2.4-3.4-4.5 2.5z" fill="#7bdbff"/>
<path d="M472.8 204.9l-2.2-2.9"/>
<path d="M445.4 211.3l4.4-2.1-2.4-3.7-4.4 2.1z" fill="#66afff"/>
<path d="M443.4 207.7l3.8-1.8"/>
<path d="M511.9 187.5l4.5-3.5-2.5-3.1-4.5 3.5z" fill="#8effff"/>
<path d="M366.8 182.4l4.3-0.8-2.5-5.1-4.3 0.7z" fill="#1efff0"/>
<path d="M364.7 177.5l3.8-0.6"/>
<path d="M535.7 168.3l4.6-3.9-2.6-3-4.6 3.9z" fill="#8dffff"/>
<path d="M535.8 167.9l-2.2-2.6"/>
<path d="M435.7 211.5l4.3-1.9-2.4-3.9-4.3 2z" fill="#5ca4ff"/>
<path d="M455.2 210.7l4.4-2.3-2.5-3.5-4.4 2.3z" fill="#6fbdff"/>
<path d="M459.1 208.3l-2.1-3"/>
<path d="M392.6 200.2l4.4-1.2-2.4-4.6-4.4 1.2z" fill="#30bdff"/>
<path d="M396.6 198.8l-2.2-4"/>
<path d="M508 190.4l4.5-3.4-2.5-3.1-4.5 3.4z" fill="#8dffff"/>
<path d="M512.1 187l-2.2-2.6"/>
<path d="M398.5 203l4.4-1.3-2.4-4.4-4.3 1.3z" fill="#36b0ff"/>
<path d="M396.6 198.8l3.7-1.1"/>
<path d="M482.5 203.5l4.4-2.8-2.4-3.3-4.5 2.9z" fill="#84feff"/>
<path d="M480.5 200.3l3.8-2.4"/>
<path d="M486.5 200.7l-2.2-2.8"/>
<path d="M386.7 197.1l4.3-1.1-2.4-4.7-4.3 1.1z" fill="#2cccff"/>
<path d="M539.7 164.9l4.6-4.1-2.6-2.9-4.6 4z" fill="#8dffec"/>
<path d="M404.4 205.7l4.4-1.4-2.4-4.3-4.3 1.4z" fill="#3ba6ff"/>
<path d="M426 211.2l4.3-1.7-2.4-4-4.3 1.8z" fill="#519dff"/>
<path d="M429.9 209.3l-2.1-3.4"/>
<path d="M380.8 193.8l4.3-1-2.4-4.7-4.3 0.9z" fill="#27deff"/>
<path d="M378.8 189.3l3.8-0.8"/>
<path d="M504.1 193.2l4.5-3.3-2.5-3.1-4.5 3.3z" fill="#8dffff"/>
<path d="M543.7 161.3l4.6-4.1-2.6-2.9-4.6 4.1z" fill="#8cffd8"/>
<path d="M464.9 209.7l4.5-2.5-2.5-3.4-4.4 2.4z" fill="#78ceff"/>
<path d="M410.3 208.2l4.4-1.5-2.4-4.2-4.3 1.5z" fill="#419eff"/>
<path d="M414.3 206.6l-2.1-3.7"/>
<path d="M500.2 196l4.5-3.2-2.5-3.1-4.5 3.2z" fill="#8cffff"/>
<path d="M374.9 190.4l4.3-0.9-2.4-4.9-4.3 0.9z" fill="#23f3ff"/>
<path d="M378.8 189.3l-2.2-4.3"/>
<path d="M478.6 205.9l4.5-2.8-2.5-3.2-4.4 2.7z" fill="#82efff"/>
<path d="M476.6 202.7l3.9-2.4"/>
<path d="M547.7 157.7l4.6-4.2-2.6-2.9-4.6 4.2z" fill="#8bffc4"/>
<path d="M547.9 157.3l-2.3-2.6"/>
<path d="M441.6 213l4.4-2-2.4-3.7-4.4 2z" fill="#62a5ff"/>
<path d="M439.6 209.4l3.8-1.7"/>
<path d="M445.5 210.9l-2.1-3.2"/>
<path d="M451.3 212.6l4.4-2.2-2.4-3.6-4.4 2.2z" fill="#6cb2ff"/>
<path d="M496.3 198.7l4.5-3.1-2.5-3.2-4.5 3.1z" fill="#8bffff"/>
<path d="M500.3 195.6l-2.2-2.7"/>
<path d="M416.2 210.5l4.4-1.6-2.4-4.1-4.3 1.6z" fill="#4798ff"/>
<path d="M414.3 206.6l3.8-1.3"/>
<path d="M551.8 154l4.6-4.2-2.6-3-4.6 4.3z" fill="#8affb0"/>
<path d="M431.9 213l4.3-1.8-2.4-3.8-4.3 1.8z" fill="#589bff"/>
<path d="M368.9 186.7l4.3-0.8-2.4-5-4.3 0.8z" fill="#1fffff"/>
<path d="M474.8 208.2l4.4-2.7-2.4-3.3-4.5 2.7z" fill="#7fe1ff"/>
<path d="M472.8 204.9l3.8-2.2"/>
<path d="M461.1 211.7l4.4-2.4-2.4-3.4-4.4 2.4z" fill="#75c1ff"/>
<path d="M492.4 201.3l4.5-3.1-2.5-3.1-4.5 3z" fill="#89ffff"/>
<path d="M555.8 150.3l4.7-4.4-2.7-2.9-4.6 4.4z" fill="#89ff9b"/>
<path d="M560 146l-2.3-2.6"/>
<path d="M422.1 212.6l4.4-1.7-2.4-3.9-4.3 1.6z" fill="#4d94ff"/>
<path d="M394.7 204l4.4-1.2-2.4-4.5-4.3 1.2z" fill="#32acff"/>
<path d="M392.8 199.7l3.8-0.9"/>
<path d="M398.7 202.6l-2.1-3.8"/>
<path d="M388.8 201l4.4-1.1-2.4-4.5-4.3 1.1z" fill="#2dbaff"/>
<path d="M363 182.9l4.3-0.7-2.4-5.1-4.4 0.7z" fill="#1cffeb"/>
<path d="M360.9 178l3.8-0.5"/>
<path d="M400.6 206.8l4.4-1.3-2.4-4.4-4.3 1.3z" fill="#38a1ff"/>
<path d="M382.9 197.9l4.3-1-2.3-4.7-4.4 1z" fill="#29caff"/>
<path d="M488.5 203.8l4.5-2.9-2.5-3.2-4.5 3z" fill="#87ffff"/>
<path d="M447.5 214.4l4.4-2.1-2.4-3.6-4.4 2.1z" fill="#68a7ff"/>
<path d="M437.8 214.7l4.4-2-2.4-3.7-4.4 2z" fill="#5e9bff"/>
<path d="M435.8 211.1l3.8-1.7"/>
<path d="M406.5 209.3l4.4-1.4-2.4-4.2-4.3 1.4z" fill="#3d98ff"/>
<path d="M470.9 210.4l4.5-2.6-2.5-3.3-4.4 2.6z" fill="#7dd3ff"/>
<path d="M468.9 207.1l3.9-2.2"/>
<path d="M474.9 207.8l-2.1-2.9"/>
<path d="M377 194.5l4.3-0.9-2.4-4.8-4.3 0.9z" fill="#24ddff"/>
<path d="M375 190l3.8-0.7"/>
<path d="M380.9 193.4l-2.1-4.1"/>
<path d="M526 180.8l4.5-3.8-2.5-2.9-4.6 3.7z" fill="#8fffff"/>
<path d="M522 183.9l4.5-3.6-2.5-2.9-4.5 3.6z" fill="#8fffff"/>
<path d="M526.1 180.3l-2.2-2.5"/>
<path d="M529.9 177.5l4.6-3.8-2.5-2.9-4.6 3.8z" fill="#8effff"/>
<path d="M518.1 187l4.5-3.5-2.5-3-4.6 3.6z" fill="#8fffff"/>
<path d="M533.9 174.2l4.6-3.9-2.6-2.9-4.5 3.9z" fill="#8effff"/>
<path d="M457.3 213.7l4.4-2.3-2.4-3.5-4.4 2.3z" fill="#71b5ff"/>
<path d="M461.2 211.3l-2.1-3"/>
<path d="M428.1 214.5l4.3-1.7-2.4-3.9-4.3 1.8z" fill="#5492ff"/>
<path d="M432 212.6l-2.1-3.3"/>
<path d="M514.1 190l4.5-3.5-2.5-2.9-4.5 3.5z" fill="#8effff"/>
<path d="M537.9 170.8l4.6-3.9-2.6-2.9-4.5 3.9z" fill="#8dffff"/>
<path d="M538.1 170.4l-2.3-2.5"/>
<path d="M412.4 211.7l4.4-1.5-2.4-4.1-4.3 1.5z" fill="#4391ff"/>
<path d="M410.5 207.8l3.8-1.2"/>
<path d="M416.4 210.1l-2.1-3.5"/>
<path d="M484.6 206.3l4.5-2.9-2.5-3.2-4.4 2.9z" fill="#85f6ff"/>
<path d="M488.6 203.4l-2.1-2.7"/>
<path d="M371.1 191l4.3-0.8-2.4-4.9-4.3 0.8z" fill="#20f2ff"/>
<path d="M510.2 192.9l4.5-3.3-2.5-3-4.5 3.4z" fill="#8effff"/>
<path d="M514.2 189.6l-2.1-2.6"/>
<path d="M541.9 167.4l4.6-4.1-2.5-2.8-4.6 4z" fill="#8dfff4"/>
<path d="M506.3 195.8l4.5-3.3-2.5-3-4.5 3.3z" fill="#8dffff"/>
<path d="M546 163.8l4.6-4.1-2.6-2.9-4.6 4.2z" fill="#8cffdf"/>
<path d="M467.1 212.5l4.4-2.5-2.4-3.3-4.5 2.5z" fill="#7ac6ff"/>
<path d="M465.1 209.3l3.8-2.2"/>
<path d="M418.3 213.9l4.4-1.6-2.4-4-4.3 1.6z" fill="#498dff"/>
<path d="M365.1 187.3l4.3-0.7-2.4-5.1-4.3 0.7z" fill="#1dffff"/>
<path d="M443.7 216.1l4.4-2-2.4-3.6-4.4 2z" fill="#649cff"/>
<path d="M447.7 214l-2.2-3.1"/>
<path d="M480.8 208.6l4.4-2.7-2.4-3.2-4.5 2.8z" fill="#83e7ff"/>
<path d="M502.3 198.6l4.5-3.2-2.4-3-4.5 3.2z" fill="#8cffff"/>
<path d="M550 160.2l4.6-4.2-2.6-2.8-4.6 4.2z" fill="#8bffcb"/>
<path d="M550.1 159.8l-2.2-2.5"/>
<path d="M434 216.2l4.4-1.8-2.4-3.8-4.4 1.9z" fill="#5a92ff"/>
<path d="M432 212.6l3.8-1.5"/>
<path d="M453.4 215.6l4.5-2.3-2.5-3.4-4.4 2.2z" fill="#6eaaff"/>
<path d="M390.9 204.9l4.4-1.1-2.4-4.5-4.3 1.1z" fill="#2fa8ff"/>
<path d="M389 200.6l3.8-0.9"/>
<path d="M385 201.8l4.4-1-2.4-4.6-4.3 1z" fill="#2ab7ff"/>
<path d="M396.9 207.7l4.3-1.2-2.4-4.3-4.3 1.2z" fill="#349cff"/>
<path d="M400.8 206.3l-2.1-3.7"/>
<path d="M498.4 201.3l4.5-3.2-2.4-3-4.5 3.1z" fill="#8bffff"/>
<path d="M502.5 198.1l-2.2-2.5"/>
<path d="M554 156.5l4.7-4.3-2.6-2.8-4.6 4.3z" fill="#8affb6"/>
<path d="M379.1 198.6l4.4-0.9-2.4-4.7-4.4 0.9z" fill="#26c8ff"/>
<path d="M383.1 197.4l-2.2-4"/>
<path d="M402.8 210.4l4.3-1.3-2.4-4.2-4.3 1.2z" fill="#3993ff"/>
<path d="M424.2 215.9l4.4-1.7-2.3-3.8-4.4 1.6z" fill="#4f8aff"/>
<path d="M463.2 214.6l4.5-2.4-2.5-3.4-4.4 2.4z" fill="#77baff"/>
<path d="M461.2 211.3l3.9-2"/>
<path d="M359.1 183.3l4.4-0.6-2.4-5.1-4.4 0.6z" fill="#1affe5"/>
<path d="M357.1 178.4l3.8-0.4"/>
<path d="M363.1 182.5l-2.2-4.5"/>
<path d="M476.9 210.9l4.5-2.7-2.5-3.1-4.4 2.6z" fill="#81d9ff"/>
<path d="M373.2 195.2l4.3-0.9-2.4-4.8-4.3 0.8z" fill="#22dcff"/>
<path d="M371.2 190.6l3.8-0.6"/>
<path d="M408.6 212.8l4.4-1.3-2.4-4.2-4.3 1.4z" fill="#3f8bff"/>
<path d="M406.7 208.9l3.8-1.1"/>
<path d="M494.5 203.9l4.5-3.1-2.4-3-4.5 3z" fill="#8affff"/>
<path d="M558.1 152.7l4.7-4.3-2.7-2.8-4.6 4.3z" fill="#89ffa1"/>
<path d="M562.3 148.5l-2.3-2.5"/>
<path d="M439.9 217.8l4.4-2-2.4-3.6-4.4 1.9z" fill="#6093ff"/>
<path d="M449.6 217.4l4.4-2.2-2.4-3.4-4.4 2.1z" fill="#6a9fff"/>
<path d="M367.2 191.5l4.4-0.7-2.4-4.9-4.3 0.7z" fill="#1ef3ff"/>
<path d="M414.5 215.1l4.4-1.5-2.3-4-4.4 1.5z" fill="#4586ff"/>
<path d="M418.5 213.5l-2.1-3.4"/>
<path d="M490.7 206.4l4.4-2.9-2.4-3.1-4.5 3z" fill="#88feff"/>
<path d="M430.1 217.7l4.4-1.8-2.3-3.7-4.4 1.8z" fill="#5689ff"/>
<path d="M428.2 214.1l3.8-1.5"/>
<path d="M434.1 215.8l-2.1-3.2"/>
<path d="M473 213.1l4.5-2.6-2.4-3.2-4.5 2.6z" fill="#7eccff"/>
<path d="M477 210.5l-2.1-2.7"/>
<path d="M459.4 216.5l4.4-2.3-2.4-3.3-4.4 2.3z" fill="#73aeff"/>
<path d="M457.4 213.3l3.8-2"/>
<path d="M463.4 214.2l-2.2-2.9"/>
<path d="M528.2 183.2l4.5-3.7-2.5-2.8-4.5 3.7z" fill="#8fffff"/>
<path d="M526.1 180.3l4-3.2"/>
<path d="M524.2 186.4l4.6-3.7-2.6-2.8-4.5 3.6z" fill="#8fffff"/>
<path d="M522.1 183.5l4-3.2"/>
<path d="M528.3 182.8l-2.2-2.5"/>
<path d="M532.2 180l4.5-3.9-2.5-2.7-4.6 3.8z" fill="#8effff"/>
<path d="M530.1 177.1l4-3.3"/>
<path d="M520.3 189.5l4.5-3.6-2.5-2.8-4.6 3.5z" fill="#8fffff"/>
<path d="M518.2 186.6l3.9-3.1"/>
<path d="M536.2 176.6l4.5-3.9-2.5-2.7-4.6 3.9z" fill="#8effff"/>
<path d="M534.1 173.8l4-3.4"/>
<path d="M516.3 192.5l4.5-3.5-2.5-2.8-4.5 3.4z" fill="#8effff"/>
<path d="M514.2 189.6l4-3"/>
<path d="M540.2 173.2l4.6-3.9-2.6-2.8-4.6 4z" fill="#8dffff"/>
<path d="M538.1 170.4l4-3.5"/>
<path d="M540.3 172.8l-2.2-2.4"/>
<path d="M486.8 208.9l4.5-2.9-2.5-3-4.5 2.8z" fill="#86efff"/>
<path d="M490.8 206l-2.2-2.6"/>
<path d="M361.3 187.7l4.3-0.6-2.4-5.1-4.3 0.7z" fill="#1bffff"/>
<path d="M365.2 186.8l-2.1-4.3"/>
<path d="M420.4 217.2l4.4-1.6-2.3-3.8-4.4 1.5z" fill="#4b83ff"/>
<path d="M387.1 205.7l4.4-1.1-2.4-4.4-4.3 1z" fill="#2ca5ff"/>
<path d="M385.2 201.4l3.8-0.8"/>
<path d="M393.1 208.6l4.3-1.1-2.4-4.4-4.3 1.1z" fill="#3098ff"/>
<path d="M512.4 195.4l4.5-3.4-2.5-2.8-4.5 3.4z" fill="#8effff"/>
<path d="M510.3 192.5l3.9-2.9"/>
<path d="M516.4 192.1l-2.2-2.5"/>
<path d="M544.2 169.8l4.6-4.1-2.6-2.7-4.6 4z" fill="#8cfffa"/>
<path d="M542.1 166.9l4-3.5"/>
<path d="M381.2 202.5l4.4-0.9-2.4-4.6-4.3 0.9z" fill="#27b5ff"/>
<path d="M385.2 201.4l-2.1-4"/>
<path d="M399 211.3l4.3-1.2-2.3-4.2-4.4 1.2z" fill="#368eff"/>
<path d="M402.9 210l-2.1-3.7"/>
<path d="M469.2 215.3l4.4-2.5-2.4-3.3-4.4 2.6z" fill="#7bbfff"/>
<path d="M445.8 219.1l4.4-2.1-2.4-3.4-4.4 2z" fill="#6695ff"/>
<path d="M449.8 217l-2.1-3"/>
<path d="M508.4 198.3l4.6-3.3-2.5-2.9-4.5 3.3z" fill="#8dffff"/>
<path d="M506.4 195.4l3.9-2.9"/>
<path d="M436.1 219.3l4.4-1.8-2.4-3.7-4.4 1.9z" fill="#5c8aff"/>
<path d="M548.2 166.2l4.6-4.1-2.6-2.8-4.6 4.2z" fill="#8cffe5"/>
<path d="M546.1 163.4l4-3.6"/>
<path d="M375.3 199.2l4.4-0.8-2.4-4.7-4.4 0.8z" fill="#23c7ff"/>
<path d="M404.8 213.9l4.4-1.3-2.3-4.1-4.4 1.3z" fill="#3b86ff"/>
<path d="M402.9 210l3.8-1.1"/>
<path d="M455.5 218.4l4.5-2.2-2.4-3.4-4.5 2.3z" fill="#6fa3ff"/>
<path d="M453.6 215.1l3.8-1.8"/>
<path d="M482.9 211.3l4.5-2.8-2.5-3.1-4.4 2.8z" fill="#84e0ff"/>
<path d="M504.5 201.1l4.5-3.3-2.5-2.9-4.5 3.3z" fill="#8dffff"/>
<path d="M502.5 198.1l3.9-2.7"/>
<path d="M355.3 183.7l4.4-0.5-2.4-5.2-4.4 0.5z" fill="#18ffde"/>
<path d="M353.3 178.8l3.8-0.4"/>
<path d="M552.3 162.6l4.6-4.2-2.6-2.8-4.6 4.3z" fill="#8bffd0"/>
<path d="M550.1 159.8l4.1-3.7"/>
<path d="M552.4 162.2l-2.3-2.4"/>
<path d="M426.3 219.1l4.4-1.7-2.3-3.7-4.4 1.6z" fill="#5181ff"/>
<path d="M424.4 215.5l3.8-1.4"/>
<path d="M369.4 195.7l4.3-0.7-2.4-4.9-4.3 0.8z" fill="#1fdcff"/>
<path d="M367.4 191.1l3.8-0.5"/>
<path d="M410.7 216.3l4.4-1.4-2.3-4-4.4 1.4z" fill="#4180ff"/>
<path d="M500.6 203.8l4.5-3.2-2.5-2.9-4.5 3.2z" fill="#8bffff"/>
<path d="M498.6 200.8l3.9-2.7"/>
<path d="M504.7 200.6l-2.2-2.5"/>
<path d="M465.3 217.3l4.5-2.4-2.4-3.2-4.5 2.4z" fill="#78b3ff"/>
<path d="M556.3 158.9l4.7-4.3-2.6-2.7-4.7 4.3z" fill="#8affbc"/>
<path d="M554.2 156.1l4-3.8"/>
<path d="M479 213.5l4.5-2.7-2.4-3-4.5 2.7z" fill="#82d2ff"/>
<path d="M363.4 192l4.4-0.7-2.4-4.9-4.3 0.6z" fill="#1cf4ff"/>
<path d="M367.4 191.1l-2.2-4.3"/>
<path d="M416.6 218.4l4.4-1.5-2.3-3.8-4.4 1.4z" fill="#477cff"/>
<path d="M420.6 216.8l-2.1-3.3"/>
<path d="M442 220.7l4.4-1.9-2.4-3.5-4.4 1.9z" fill="#628bff"/>
<path d="M496.7 206.4l4.5-3.1-2.5-2.9-4.5 3.1z" fill="#8affff"/>
<path d="M494.7 203.5l3.9-2.7"/>
<path d="M560.4 155.1l4.7-4.4-2.7-2.7-4.6 4.4z" fill="#88ffa7"/>
<path d="M558.2 152.3l4.1-3.8"/>
<path d="M564.6 150.8l-2.3-2.3"/>
<path d="M451.7 220.2l4.4-2.1-2.4-3.4-4.4 2.2z" fill="#6b98ff"/>
<path d="M449.8 217l3.8-1.9"/>
<path d="M432.2 220.8l4.4-1.8-2.3-3.6-4.4 1.8z" fill="#5781ff"/>
<path d="M436.2 218.9l-2.1-3.1"/>
<path d="M389.2 209.4l4.4-1-2.3-4.4-4.4 1z" fill="#2d95ff"/>
<path d="M383.3 206.4l4.4-0.9-2.4-4.5-4.3 0.9z" fill="#28a3ff"/>
<path d="M381.4 202.1l3.8-0.7"/>
<path d="M387.3 205.2l-2.1-3.8"/>
<path d="M395.1 212.2l4.4-1.1-2.3-4.2-4.4 1.1z" fill="#328aff"/>
<path d="M475.2 215.8l4.4-2.6-2.4-3.1-4.5 2.6z" fill="#7fc5ff"/>
<path d="M479.2 213.1l-2.2-2.6"/>
<path d="M492.8 208.9l4.5-3-2.5-2.9-4.4 3z" fill="#88f7ff"/>
<path d="M490.8 206l3.9-2.5"/>
<path d="M377.4 203.2l4.4-0.9-2.4-4.6-4.3 0.9z" fill="#24b4ff"/>
<path d="M357.5 188.1l4.3-0.6-2.4-5-4.3 0.5z" fill="#18fffd"/>
<path d="M461.5 219.3l4.4-2.3-2.4-3.3-4.4 2.4z" fill="#74a7ff"/>
<path d="M465.5 216.9l-2.1-2.7"/>
<path d="M401 214.9l4.4-1.2-2.3-4.2-4.4 1.2z" fill="#3781ff"/>
<path d="M399.1 210.9l3.8-0.9"/>
<path d="M405 213.5l-2.1-3.5"/>
<path d="M422.5 220.4l4.4-1.6-2.3-3.7-4.4 1.5z" fill="#4d79ff"/>
<path d="M420.6 216.8l3.8-1.3"/>
<path d="M530.4 185.5l4.6-3.7-2.6-2.7-4.5 3.7z" fill="#8effff"/>
<path d="M371.5 199.8l4.4-0.8-2.4-4.7-4.4 0.7z" fill="#20c7ff"/>
<path d="M526.4 188.7l4.6-3.6-2.5-2.8-4.6 3.7z" fill="#8effff"/>
<path d="M530.5 185.1l-2.2-2.3"/>
<path d="M534.4 182.3l4.6-3.8-2.6-2.7-4.5 3.8z" fill="#8effff"/>
<path d="M522.5 191.8l4.5-3.6-2.5-2.7-4.6 3.6z" fill="#8effff"/>
<path d="M538.4 179l4.6-4-2.6-2.6-4.5 3.9z" fill="#8dffff"/>
<path d="M406.9 217.3l4.4-1.3-2.3-4-4.4 1.3z" fill="#3d7aff"/>
<path d="M488.9 211.4l4.5-2.9-2.5-2.9-4.4 2.8z" fill="#87e8ff"/>
<path d="M486.9 208.4l3.9-2.4"/>
<path d="M493 208.5l-2.2-2.5"/>
<path d="M518.5 194.8l4.5-3.5-2.5-2.7-4.5 3.5z" fill="#8effff"/>
<path d="M542.4 175.6l4.6-4-2.5-2.7-4.6 4z" fill="#8dffff"/>
<path d="M542.5 175.1l-2.2-2.3"/>
<path d="M438.1 222.3l4.5-1.9-2.4-3.5-4.4 1.9z" fill="#5d82ff"/>
<path d="M447.9 222l4.4-2.1-2.4-3.4-4.4 2.1z" fill="#678eff"/>
<path d="M445.9 218.7l3.9-1.7"/>
<path d="M451.9 219.8l-2.1-2.8"/>
<path d="M514.6 197.8l4.5-3.4-2.5-2.8-4.5 3.4z" fill="#8effff"/>
<path d="M518.6 194.4l-2.2-2.3"/>
<path d="M471.3 217.9l4.5-2.5-2.5-3.1-4.4 2.5z" fill="#7cb8ff"/>
<path d="M365.6 196.2l4.3-0.7-2.4-4.8-4.3 0.6z" fill="#1dddff"/>
<path d="M363.6 191.6l3.8-0.5"/>
<path d="M369.5 195.3l-2.1-4.2"/>
<path d="M546.4 172.1l4.7-4.1-2.6-2.6-4.6 4z" fill="#8cffff"/>
<path d="M351.5 184l4.3-0.5-2.3-5.1-4.4 0.4z" fill="#16ffd7"/>
<path d="M349.5 179.1l3.8-0.3"/>
<path d="M412.8 219.6l4.4-1.4-2.3-3.9-4.4 1.4z" fill="#4375ff"/>
<path d="M428.4 222.2l4.4-1.7-2.3-3.6-4.4 1.7z" fill="#5379ff"/>
<path d="M457.7 221.2l4.4-2.3-2.4-3.2-4.4 2.2z" fill="#719cff"/>
<path d="M510.6 200.6l4.5-3.3-2.4-2.7-4.6 3.3z" fill="#8dffff"/>
<path d="M550.5 168.5l4.6-4.1-2.6-2.7-4.6 4.2z" fill="#8bffea"/>
<path d="M485 213.8l4.5-2.8-2.4-3-4.5 2.8z" fill="#84d9ff"/>
<path d="M483 210.8l3.9-2.4"/>
<path d="M506.7 203.4l4.5-3.2-2.5-2.8-4.5 3.3z" fill="#8cffff"/>
<path d="M359.6 192.4l4.4-0.6-2.4-4.9-4.3 0.5z" fill="#19f6ff"/>
<path d="M554.5 164.9l4.7-4.3-2.6-2.6-4.6 4.3z" fill="#8affd5"/>
<path d="M554.7 164.4l-2.3-2.2"/>
<path d="M385.4 210.1l4.4-0.9-2.3-4.4-4.4 1z" fill="#2a93ff"/>
<path d="M389.4 209l-2.1-3.8"/>
<path d="M418.7 221.6l4.4-1.5-2.3-3.7-4.4 1.5z" fill="#4973ff"/>
<path d="M416.8 218l3.8-1.2"/>
<path d="M422.7 220l-2.1-3.2"/>
<path d="M391.3 213l4.4-1-2.3-4.2-4.4 1z" fill="#2e87ff"/>
<path d="M467.5 220l4.4-2.5-2.4-3.1-4.5 2.5z" fill="#79acff"/>
<path d="M379.5 207l4.4-0.8-2.4-4.5-4.3 0.8z" fill="#25a2ff"/>
<path d="M377.6 202.7l3.8-0.6"/>
<path d="M502.8 206.1l4.5-3.1-2.5-2.8-4.5 3.2z" fill="#8bffff"/>
<path d="M506.8 203l-2.1-2.4"/>
<path d="M397.2 215.8l4.4-1.2-2.3-4.1-4.4 1.1z" fill="#337dff"/>
<path d="M395.3 211.8l3.8-0.9"/>
<path d="M558.6 161.2l4.7-4.4-2.6-2.6-4.7 4.4z" fill="#89ffc0"/>
<path d="M444.1 223.6l4.4-2-2.4-3.3-4.4 1.9z" fill="#6384ff"/>
<path d="M442.1 220.3l3.8-1.6"/>
<path d="M481.2 216.1l4.4-2.7-2.4-3-4.5 2.7z" fill="#82cbff"/>
<path d="M479.2 213.1l3.8-2.3"/>
<path d="M373.6 203.7l4.4-0.7-2.4-4.6-4.3 0.7z" fill="#21b4ff"/>
<path d="M434.3 223.8l4.4-1.8-2.3-3.5-4.4 1.8z" fill="#597aff"/>
<path d="M438.3 221.9l-2.1-3"/>
<path d="M453.8 223l4.5-2.2-2.4-3.2-4.5 2.2z" fill="#6d92ff"/>
<path d="M403.1 218.3l4.4-1.2-2.3-4-4.4 1.2z" fill="#3975ff"/>
<path d="M407.1 216.9l-2.1-3.4"/>
<path d="M353.7 188.4l4.3-0.5-2.4-5.1-4.3 0.5z" fill="#16fff4"/>
<path d="M498.9 208.8l4.5-3.1-2.5-2.8-4.5 3.1z" fill="#8affff"/>
<path d="M562.7 157.4l4.7-4.4-2.7-2.6-4.6 4.4z" fill="#88ffab"/>
<path d="M566.9 153.1l-2.3-2.3"/>
<path d="M367.7 200.2l4.3-0.6-2.3-4.8-4.4 0.7z" fill="#1ec8ff"/>
<path d="M371.7 199.3l-2.2-4"/>
<path d="M424.6 223.5l4.4-1.6-2.3-3.6-4.4 1.6z" fill="#4f71ff"/>
<path d="M409 220.6l4.4-1.3-2.3-3.9-4.4 1.3z" fill="#3e70ff"/>
<path d="M463.6 222l4.5-2.4-2.5-3.1-4.4 2.3z" fill="#75a1ff"/>
<path d="M467.6 219.5l-2.1-2.6"/>
<path d="M477.3 218.3l4.5-2.6-2.5-3-4.4 2.6z" fill="#7fbeff"/>
<path d="M475.3 215.3l3.9-2.2"/>
<path d="M481.3 215.7l-2.1-2.6"/>
<path d="M495 211.3l4.5-3-2.5-2.8-4.5 3z" fill="#88f0ff"/>
<path d="M361.8 196.5l4.3-0.5-2.4-4.9-4.3 0.6z" fill="#1adfff"/>
<path d="M359.8 191.9l3.8-0.3"/>
<path d="M347.7 184.2l4.3-0.4-2.4-5.2-4.3 0.4z" fill="#14ffcf"/>
<path d="M345.7 179.2l3.8-0.1"/>
<path d="M351.7 183.5l-2.2-4.4"/>
<path d="M440.2 225.2l4.5-1.9-2.4-3.4-4.4 1.9z" fill="#5f7cff"/>
<path d="M438.3 221.9l3.8-1.6"/>
<path d="M532.6 187.8l4.6-3.8-2.5-2.6-4.6 3.8z" fill="#8dffff"/>
<path d="M414.9 222.8l4.4-1.4-2.3-3.8-4.4 1.4z" fill="#446cff"/>
<path d="M413 219.2l3.8-1.2"/>
<path d="M528.6 191l4.6-3.7-2.5-2.6-4.6 3.7z" fill="#8dffff"/>
<path d="M532.8 187.4l-2.3-2.3"/>
<path d="M536.6 184.5l4.6-3.8-2.5-2.6-4.6 3.8z" fill="#8dffff"/>
<path d="M450 224.7l4.4-2-2.4-3.3-4.4 2.1z" fill="#6988ff"/>
<path d="M454 222.6l-2.1-2.8"/>
<path d="M524.7 194.1l4.5-3.6-2.5-2.6-4.5 3.6z" fill="#8dffff"/>
<path d="M540.6 181.2l4.6-4-2.5-2.5-4.6 3.9z" fill="#8cffff"/>
<path d="M491.1 213.8l4.5-2.9-2.5-2.8-4.5 2.9z" fill="#86e1ff"/>
<path d="M495.1 210.9l-2.1-2.4"/>
<path d="M430.5 225.2l4.4-1.7-2.3-3.5-4.4 1.7z" fill="#5472ff"/>
<path d="M520.7 197.1l4.6-3.5-2.6-2.6-4.5 3.5z" fill="#8dffff"/>
<path d="M544.7 177.8l4.6-4-2.6-2.6-4.6 4z" fill="#8cffff"/>
<path d="M544.8 177.3l-2.3-2.2"/>
<path d="M473.4 220.4l4.5-2.5-2.4-3-4.5 2.6z" fill="#7cb2ff"/>
<path d="M471.5 217.5l3.8-2.2"/>
<path d="M387.5 213.8l4.4-1-2.3-4.2-4.4 0.9z" fill="#2b84ff"/>
<path d="M391.5 212.6l-2.1-3.6"/>
<path d="M381.6 210.8l4.4-0.9-2.3-4.4-4.4 0.9z" fill="#2692ff"/>
<path d="M355.8 192.6l4.4-0.4-2.4-5-4.4 0.5z" fill="#17f9ff"/>
<path d="M393.4 216.6l4.4-1.1-2.3-4.1-4.4 1z" fill="#307aff"/>
<path d="M391.5 212.6l3.8-0.8"/>
<path d="M459.8 223.9l4.4-2.3-2.4-3.1-4.4 2.2z" fill="#7196ff"/>
<path d="M516.7 200l4.6-3.4-2.5-2.6-4.5 3.4z" fill="#8dffff"/>
<path d="M520.8 196.7l-2.2-2.3"/>
<path d="M548.7 174.3l4.6-4.1-2.6-2.6-4.6 4.1z" fill="#8bffff"/>
<path d="M375.7 207.6l4.4-0.8-2.4-4.5-4.3 0.8z" fill="#22a2ff"/>
<path d="M373.8 203.3l3.8-0.6"/>
<path d="M399.3 219.2l4.4-1.1-2.3-4.1-4.4 1.2z" fill="#3571ff"/>
<path d="M512.8 202.9l4.5-3.3-2.5-2.7-4.5 3.4z" fill="#8cffff"/>
<path d="M420.8 224.8l4.4-1.6-2.3-3.6-4.4 1.5z" fill="#4a6aff"/>
<path d="M424.8 223.1l-2.1-3.1"/>
<path d="M552.8 170.7l4.6-4.2-2.6-2.5-4.6 4.2z" fill="#8affee"/>
<path d="M487.2 216.2l4.5-2.8-2.5-2.9-4.5 2.8z" fill="#84d3ff"/>
<path d="M369.8 204.2l4.4-0.7-2.4-4.6-4.3 0.7z" fill="#1fb4ff"/>
<path d="M373.8 203.3l-2.1-4"/>
<path d="M508.9 205.7l4.5-3.2-2.5-2.7-4.5 3.2z" fill="#8bffff"/>
<path d="M405.2 221.6l4.4-1.2-2.3-3.9-4.4 1.2z" fill="#3a6bff"/>
<path d="M409.2 220.2l-2.1-3.3"/>
<path d="M556.8 167.1l4.7-4.3-2.6-2.5-4.7 4.3z" fill="#89ffd9"/>
<path d="M556.9 166.6l-2.2-2.2"/>
<path d="M469.6 222.5l4.4-2.4-2.4-3-4.4 2.4z" fill="#79a6ff"/>
<path d="M467.6 219.5l3.9-2"/>
<path d="M349.8 188.6l4.4-0.4-2.4-5.1-4.3 0.4z" fill="#14ffeb"/>
<path d="M353.8 187.9l-2.1-4.4"/>
<path d="M446.1 226.4l4.5-2-2.4-3.3-4.4 2z" fill="#647eff"/>
<path d="M436.4 226.7l4.4-1.8-2.3-3.4-4.4 1.8z" fill="#5a73ff"/>
<path d="M434.5 223.4l3.8-1.5"/>
<path d="M440.4 224.8l-2.1-2.9"/>
<path d="M363.9 200.6l4.3-0.6-2.3-4.7-4.4 0.6z" fill="#1bcaff"/>
<path d="M504.9 208.4l4.6-3.1-2.5-2.7-4.5 3.1z" fill="#8affff"/>
<path d="M509 205.3l-2.2-2.3"/>
<path d="M483.3 218.5l4.5-2.7-2.5-2.9-4.4 2.7z" fill="#82c5ff"/>
<path d="M455.9 225.7l4.5-2.2-2.4-3.1-4.5 2.1z" fill="#6d8cff"/>
<path d="M560.9 163.3l4.7-4.3-2.6-2.5-4.7 4.3z" fill="#88ffc3"/>
<path d="M426.7 226.5l4.4-1.6-2.3-3.5-4.5 1.6z" fill="#506aff"/>
<path d="M411.1 223.9l4.4-1.4-2.3-3.8-4.4 1.4z" fill="#4067ff"/>
<path d="M409.2 220.2l3.8-1"/>
<path d="M357.9 196.8l4.4-0.4-2.4-4.9-4.3 0.5z" fill="#18e2ff"/>
<path d="M356 192.2l3.8-0.3"/>
<path d="M501 211.1l4.5-3.1-2.4-2.7-4.5 3.1z" fill="#89faff"/>
<path d="M565 159.5l4.7-4.4-2.6-2.4-4.7 4.4z" fill="#87ffae"/>
<path d="M569.2 155.2l-2.3-2.1"/>
<path d="M465.7 224.5l4.5-2.4-2.4-3-4.5 2.4z" fill="#769bff"/>
<path d="M463.8 221.5l3.8-2"/>
<path d="M469.7 222.1l-2.1-2.6"/>
<path d="M343.9 184.3l4.3-0.3-2.4-5.2-4.3 0.3z" fill="#12ffc7"/>
<path d="M341.8 179.4l3.9-0.2"/>
<path d="M479.4 220.7l4.5-2.6-2.4-2.9-4.5 2.7z" fill="#7fb9ff"/>
<path d="M483.4 218.1l-2.1-2.4"/>
<path d="M383.7 214.4l4.4-0.8-2.3-4.3-4.4 0.8z" fill="#2883ff"/>
<path d="M417 225.9l4.4-1.4-2.3-3.7-4.5 1.4z" fill="#4664ff"/>
<path d="M389.6 217.3l4.4-0.9-2.3-4.2-4.4 1z" fill="#2c77ff"/>
<path d="M387.7 213.4l3.8-0.8"/>
<path d="M393.6 216.2l-2.1-3.6"/>
<path d="M377.8 211.3l4.4-0.7-2.3-4.4-4.4 0.7z" fill="#2391ff"/>
<path d="M497.1 213.6l4.5-3-2.4-2.7-4.5 3z" fill="#87eaff"/>
<path d="M442.3 228l4.5-1.9-2.4-3.3-4.4 1.9z" fill="#6076ff"/>
<path d="M395.5 220l4.4-1-2.3-4.1-4.4 1.1z" fill="#316eff"/>
<path d="M371.9 208.1l4.4-0.7-2.4-4.5-4.3 0.6z" fill="#1fa2ff"/>
<path d="M370 203.8l3.8-0.5"/>
<path d="M375.9 207.2l-2.1-3.9"/>
<path d="M432.6 228.1l4.4-1.7-2.3-3.4-4.5 1.7z" fill="#566bff"/>
<path d="M430.7 224.8l3.8-1.4"/>
<path d="M352 192.8l4.3-0.3-2.3-5-4.4 0.4z" fill="#15fdff"/>
<path d="M356 192.2l-2.2-4.3"/>
<path d="M452.1 227.4l4.4-2.1-2.4-3.1-4.4 2.1z" fill="#6982ff"/>
<path d="M456.1 225.3l-2.1-2.7"/>
<path d="M401.4 222.5l4.4-1.1-2.3-3.9-4.4 1.1z" fill="#3666ff"/>
<path d="M534.9 189.9l4.5-3.8-2.5-2.4-4.6 3.7z" fill="#8cffff"/>
<path d="M532.8 187.4l4-3.3"/>
<path d="M530.9 193.1l4.5-3.7-2.5-2.5-4.6 3.7z" fill="#8cffff"/>
<path d="M528.8 190.5l4-3.1"/>
<path d="M535 189.5l-2.2-2.1"/>
<path d="M366 204.6l4.3-0.6-2.3-4.6-4.4 0.5z" fill="#1cb6ff"/>
<path d="M538.9 186.6l4.6-3.8-2.6-2.5-4.6 3.9z" fill="#8bffff"/>
<path d="M536.8 184.1l4-3.4"/>
<path d="M493.2 216.1l4.5-2.9-2.4-2.7-4.5 2.9z" fill="#86dbff"/>
<path d="M497.3 213.2l-2.2-2.3"/>
<path d="M526.9 196.2l4.5-3.6-2.5-2.5-4.5 3.6z" fill="#8cffff"/>
<path d="M524.8 193.6l4-3.1"/>
<path d="M542.9 183.3l4.6-4-2.6-2.4-4.6 3.9z" fill="#8bffff"/>
<path d="M540.8 180.7l4-3.4"/>
<path d="M475.5 222.9l4.5-2.6-2.4-2.8-4.5 2.5z" fill="#7cacff"/>
<path d="M422.9 227.8l4.4-1.6-2.4-3.5-4.4 1.5z" fill="#4b63ff"/>
<path d="M426.9 226.1l-2.1-3"/>
<path d="M461.9 226.4l4.4-2.3-2.4-3-4.4 2.3z" fill="#7291ff"/>
<path d="M459.9 223.4l3.9-1.9"/>
<path d="M522.9 199.3l4.6-3.6-2.5-2.5-4.6 3.5z" fill="#8cffff"/>
<path d="M520.8 196.7l4-3.1"/>
<path d="M546.9 179.9l4.6-4.1-2.5-2.4-4.6 4z" fill="#8affff"/>
<path d="M544.8 177.3l4-3.5"/>
<path d="M547.1 179.4l-2.3-2.1"/>
<path d="M407.3 224.9l4.4-1.3-2.3-3.8-4.4 1.3z" fill="#3c61ff"/>
<path d="M405.4 221.2l3.8-1"/>
<path d="M411.3 223.5l-2.1-3.3"/>
<path d="M518.9 202.2l4.6-3.4-2.5-2.6-4.6 3.5z" fill="#8bffff"/>
<path d="M516.9 199.6l3.9-2.9"/>
<path d="M523 198.8l-2.2-2.1"/>
<path d="M551 176.4l4.6-4.1-2.6-2.5-4.6 4.1z" fill="#89ffff"/>
<path d="M548.8 173.8l4.1-3.5"/>
<path d="M360 200.9l4.4-0.5-2.3-4.7-4.4 0.5z" fill="#19ccff"/>
<path d="M346 188.7l4.4-0.3-2.4-5.1-4.4 0.3z" fill="#13ffe2"/>
<path d="M489.3 218.5l4.5-2.8-2.4-2.8-4.5 2.9z" fill="#84cdff"/>
<path d="M515 205.1l4.5-3.4-2.5-2.5-4.5 3.3z" fill="#8bffff"/>
<path d="M512.9 202.5l4-2.9"/>
<path d="M555 172.8l4.7-4.2-2.6-2.4-4.7 4.2z" fill="#88fff0"/>
<path d="M552.9 170.3l4-3.7"/>
<path d="M438.5 229.5l4.4-1.8-2.3-3.3-4.5 1.8z" fill="#5b6eff"/>
<path d="M442.5 227.6l-2.1-2.8"/>
<path d="M448.2 229.1l4.5-2-2.4-3.2-4.4 2z" fill="#6579ff"/>
<path d="M413.2 227l4.4-1.4-2.4-3.6-4.4 1.3z" fill="#415eff"/>
<path d="M471.7 225l4.5-2.5-2.5-2.9-4.4 2.5z" fill="#79a1ff"/>
<path d="M511 207.9l4.6-3.3-2.5-2.5-4.5 3.2z" fill="#8affff"/>
<path d="M509 205.3l3.9-2.8"/>
<path d="M559.1 169.1l4.7-4.2-2.6-2.4-4.7 4.2z" fill="#87ffdb"/>
<path d="M556.9 166.6l4.1-3.7"/>
<path d="M559.2 168.7l-2.3-2.1"/>
<path d="M428.8 229.4l4.4-1.6-2.4-3.4-4.4 1.6z" fill="#5164ff"/>
<path d="M426.9 226.1l3.8-1.3"/>
<path d="M354.1 197l4.4-0.3-2.4-4.9-4.3 0.4z" fill="#16e6ff"/>
<path d="M352.1 192.4l3.9-0.2"/>
<path d="M358.1 196.4l-2.1-4.2"/>
<path d="M458 228.2l4.5-2.2-2.4-3-4.5 2.2z" fill="#6e87ff"/>
<path d="M456.1 225.3l3.8-1.9"/>
<path d="M385.8 218l4.4-0.9-2.3-4.2-4.4 0.9z" fill="#2975ff"/>
<path d="M383.9 214l3.8-0.6"/>
<path d="M379.9 215l4.4-0.8-2.3-4.3-4.4 0.8z" fill="#2482ff"/>
<path d="M485.4 220.8l4.5-2.7-2.4-2.8-4.5 2.8z" fill="#81c0ff"/>
<path d="M391.7 220.8l4.4-1-2.3-4-4.4 0.9z" fill="#2d6bff"/>
<path d="M395.7 219.6l-2.1-3.4"/>
<path d="M507.1 210.6l4.5-3.2-2.4-2.5-4.6 3.1z" fill="#89ffff"/>
<path d="M505.1 208l3.9-2.7"/>
<path d="M511.2 207.5l-2.2-2.2"/>
<path d="M374 211.8l4.4-0.7-2.3-4.4-4.4 0.7z" fill="#2091ff"/>
<path d="M378 210.9l-2.1-3.7"/>
<path d="M563.2 165.4l4.7-4.3-2.6-2.4-4.7 4.3z" fill="#86ffc6"/>
<path d="M561 162.9l4.1-3.8"/>
<path d="M340 184.3l4.4-0.2-2.4-5.2-4.3 0.2z" fill="#10ffbf"/>
<path d="M338 179.4l3.8 0"/>
<path d="M397.6 223.4l4.4-1.1-2.3-3.9-4.4 1z" fill="#3263ff"/>
<path d="M419 228.9l4.5-1.4-2.4-3.6-4.4 1.5z" fill="#475dff"/>
<path d="M368.1 208.4l4.4-0.5-2.4-4.6-4.3 0.6z" fill="#1da3ff"/>
<path d="M366.1 204.2l3.9-0.4"/>
<path d="M503.2 213.3l4.5-3.1-2.5-2.6-4.5 3.1z" fill="#88f4ff"/>
<path d="M501.2 210.6l3.9-2.6"/>
<path d="M467.8 226.9l4.5-2.3-2.4-2.9-4.5 2.3z" fill="#7596ff"/>
<path d="M471.8 224.5l-2.1-2.4"/>
<path d="M567.3 161.6l4.7-4.4-2.6-2.4-4.7 4.4z" fill="#85ffb1"/>
<path d="M565.1 159.1l4.1-3.9"/>
<path d="M571.5 157.3l-2.3-2.1"/>
<path d="M348.1 193l4.4-0.3-2.3-5-4.4 0.3z" fill="#13ffff"/>
<path d="M403.5 225.8l4.4-1.2-2.4-3.8-4.4 1.2z" fill="#375dff"/>
<path d="M401.6 222.1l3.8-0.9"/>
<path d="M444.4 230.7l4.4-2-2.3-3.1-4.5 1.9z" fill="#6171ff"/>
<path d="M481.5 223.1l4.5-2.7-2.4-2.7-4.5 2.6z" fill="#7eb3ff"/>
<path d="M485.6 220.4l-2.2-2.3"/>
<path d="M362.2 204.9l4.3-0.5-2.3-4.6-4.4 0.4z" fill="#19b8ff"/>
<path d="M434.7 230.9l4.4-1.7-2.4-3.4-4.4 1.8z" fill="#5766ff"/>
<path d="M454.2 230l4.4-2.1-2.4-3.1-4.4 2.1z" fill="#6a7dff"/>
<path d="M452.2 227l3.9-1.7"/>
<path d="M458.2 227.8l-2.1-2.5"/>
<path d="M499.3 215.8l4.5-3-2.5-2.6-4.5 3z" fill="#86e4ff"/>
<path d="M497.3 213.2l3.9-2.6"/>
<path d="M424.9 230.7l4.5-1.6-2.4-3.4-4.4 1.5z" fill="#4c5dff"/>
<path d="M423 227.3l3.9-1.2"/>
<path d="M428.9 229l-2-2.9"/>
<path d="M409.3 228l4.5-1.3-2.4-3.7-4.4 1.3z" fill="#3d59ff"/>
<path d="M413.3 226.6l-2-3.1"/>
<path d="M356.2 201.1l4.4-0.4-2.3-4.7-4.4 0.4z" fill="#17d0ff"/>
<path d="M360.2 200.5l-2.1-4.1"/>
<path d="M342.2 188.7l4.3-0.2-2.3-5.1-4.4 0.2z" fill="#11ffd8"/>
<path d="M464 228.9l4.4-2.3-2.4-2.9-4.4 2.2z" fill="#728bff"/>
<path d="M477.7 225.2l4.4-2.6-2.4-2.7-4.4 2.5z" fill="#7ca7ff"/>
<path d="M537.1 191.9l4.6-3.8-2.6-2.3-4.5 3.8z" fill="#8affff"/>
<path d="M495.3 218.3l4.6-2.9-2.5-2.6-4.5 2.9z" fill="#84d5ff"/>
<path d="M493.4 215.7l3.9-2.5"/>
<path d="M499.4 215.4l-2.1-2.2"/>
<path d="M533.1 195.1l4.6-3.7-2.6-2.3-4.5 3.7z" fill="#8affff"/>
<path d="M537.2 191.5l-2.2-2"/>
<path d="M541.1 188.7l4.6-3.9-2.5-2.4-4.6 3.9z" fill="#89ffff"/>
<path d="M529.1 198.3l4.6-3.7-2.6-2.4-4.5 3.7z" fill="#8affff"/>
<path d="M545.1 185.3l4.6-4-2.5-2.3-4.6 4z" fill="#89ffff"/>
<path d="M525.1 201.3l4.6-3.5-2.5-2.4-4.6 3.5z" fill="#8affff"/>
<path d="M382 218.5l4.4-0.7-2.3-4.2-4.4 0.8z" fill="#2574ff"/>
<path d="M380.1 214.6l3.8-0.6"/>
<path d="M549.2 181.9l4.6-4.1-2.6-2.3-4.6 4z" fill="#88ffff"/>
<path d="M549.3 181.4l-2.2-2"/>
<path d="M415.2 230l4.4-1.3-2.3-3.6-4.4 1.3z" fill="#4257ff"/>
<path d="M387.9 221.4l4.4-0.9-2.3-4-4.4 0.9z" fill="#2a69ff"/>
<path d="M376.1 215.5l4.4-0.7-2.3-4.3-4.4 0.7z" fill="#2182ff"/>
<path d="M380.1 214.6l-2.1-3.7"/>
<path d="M440.6 232.2l4.4-1.9-2.3-3.2-4.5 1.9z" fill="#5c69ff"/>
<path d="M444.6 230.2l-2.1-2.6"/>
<path d="M521.1 204.3l4.6-3.5-2.5-2.4-4.6 3.4z" fill="#8affff"/>
<path d="M525.2 200.9l-2.2-2.1"/>
<path d="M350.3 197.2l4.3-0.3-2.3-4.9-4.4 0.3z" fill="#14eaff"/>
<path d="M348.3 192.6l3.8-0.2"/>
<path d="M553.2 178.4l4.7-4.2-2.6-2.3-4.6 4.2z" fill="#87ffff"/>
<path d="M393.8 224.1l4.4-1-2.3-3.9-4.4 1z" fill="#2e60ff"/>
<path d="M397.8 222.9l-2.1-3.3"/>
<path d="M370.2 212.2l4.4-0.6-2.4-4.4-4.3 0.6z" fill="#1e92ff"/>
<path d="M450.3 231.6l4.5-2-2.4-3-4.4 2z" fill="#6574ff"/>
<path d="M448.4 228.7l3.8-1.7"/>
<path d="M491.4 220.7l4.6-2.8-2.5-2.6-4.5 2.8z" fill="#82c7ff"/>
<path d="M489.5 218.1l3.9-2.4"/>
<path d="M430.8 232.2l4.5-1.6-2.4-3.3-4.4 1.6z" fill="#525fff"/>
<path d="M517.2 207.2l4.5-3.4-2.5-2.4-4.5 3.3z" fill="#89ffff"/>
<path d="M557.3 174.8l4.6-4.2-2.5-2.3-4.7 4.2z" fill="#87fff2"/>
<path d="M473.8 227.3l4.5-2.5-2.4-2.8-4.5 2.5z" fill="#789cff"/>
<path d="M399.6 226.6l4.5-1.1-2.4-3.8-4.4 1.1z" fill="#3359ff"/>
<path d="M397.8 222.9l3.8-0.8"/>
<path d="M364.3 208.8l4.3-0.5-2.3-4.6-4.4 0.5z" fill="#1aa6ff"/>
<path d="M362.3 204.5l3.8-0.3"/>
<path d="M336.2 184.3l4.3-0.1-2.3-5.2-4.4 0z" fill="#0fffb6"/>
<path d="M334.2 179.3l3.8 0.1"/>
<path d="M340.2 183.9l-2.2-4.5"/>
<path d="M460.1 230.7l4.5-2.2-2.4-2.9-4.5 2.2z" fill="#6e82ff"/>
<path d="M513.2 210l4.6-3.3-2.5-2.5-4.6 3.3z" fill="#88ffff"/>
<path d="M561.4 171.1l4.6-4.3-2.5-2.2-4.7 4.2z" fill="#86ffdc"/>
<path d="M561.5 170.7l-2.3-2"/>
<path d="M421.1 231.8l4.4-1.4-2.3-3.5-4.4 1.5z" fill="#4857ff"/>
<path d="M419.2 228.5l3.8-1.2"/>
<path d="M487.5 223l4.6-2.7-2.5-2.6-4.5 2.7z" fill="#80baff"/>
<path d="M485.6 220.4l3.9-2.3"/>
<path d="M344.3 193l4.4-0.2-2.4-5-4.3 0.2z" fill="#11fff5"/>
<path d="M405.5 228.9l4.4-1.2-2.3-3.7-4.4 1.2z" fill="#3855ff"/>
<path d="M358.3 205.1l4.4-0.4-2.3-4.6-4.4 0.4z" fill="#17bcff"/>
<path d="M362.3 204.5l-2.1-4"/>
<path d="M509.3 212.7l4.5-3.2-2.5-2.5-4.5 3.2z" fill="#87feff"/>
<path d="M513.4 209.5l-2.2-2"/>
<path d="M565.5 167.4l4.7-4.4-2.6-2.3-4.7 4.4z" fill="#85ffc7"/>
<path d="M469.9 229.3l4.5-2.4-2.4-2.8-4.5 2.4z" fill="#7591ff"/>
<path d="M473.9 226.9l-2.1-2.4"/>
<path d="M436.7 233.6l4.5-1.8-2.4-3.2-4.4 1.8z" fill="#5761ff"/>
<path d="M446.5 233.2l4.4-1.9-2.3-3.1-4.5 2z" fill="#616cff"/>
<path d="M444.6 230.2l3.8-1.5"/>
<path d="M505.3 215.3l4.6-3.1-2.5-2.4-4.5 3.1z" fill="#86eeff"/>
<path d="M569.6 163.6l4.7-4.5-2.6-2.2-4.7 4.4z" fill="#83ffb2"/>
<path d="M573.9 159.3l-2.4-2"/>
<path d="M411.4 231l4.4-1.3-2.3-3.5-4.4 1.2z" fill="#3e52ff"/>
<path d="M415.4 229.6l-2.1-3"/>
<path d="M352.4 201.3l4.4-0.3-2.4-4.8-4.3 0.3z" fill="#14d4ff"/>
<path d="M483.7 225.3l4.5-2.7-2.5-2.6-4.5 2.6z" fill="#7daeff"/>
<path d="M481.7 222.6l3.9-2.2"/>
<path d="M487.7 222.6l-2.1-2.2"/>
<path d="M427 233.5l4.4-1.6-2.3-3.3-4.4 1.5z" fill="#4d58ff"/>
<path d="M431 231.8l-2.1-2.8"/>
<path d="M456.2 232.4l4.5-2.1-2.4-2.9-4.4 2.1z" fill="#6a79ff"/>
<path d="M460.3 230.3l-2.1-2.5"/>
<path d="M378.2 219l4.4-0.7-2.4-4.1-4.3 0.7z" fill="#2274ff"/>
<path d="M376.3 215.1l3.8-0.5"/>
<path d="M382.2 218.1l-2.1-3.5"/>
<path d="M384 222l4.5-0.8-2.4-4.1-4.4 0.8z" fill="#2668ff"/>
<path d="M338.3 188.7l4.4-0.1-2.4-5.1-4.3 0.1z" fill="#0fffce"/>
<path d="M342.3 188.3l-2.1-4.4"/>
<path d="M501.4 217.9l4.5-3-2.4-2.5-4.5 3z" fill="#84dfff"/>
<path d="M372.2 215.9l4.4-0.6-2.3-4.3-4.4 0.6z" fill="#1e83ff"/>
<path d="M389.9 224.8l4.4-0.9-2.3-4-4.4 0.9z" fill="#2b5eff"/>
<path d="M366.3 212.5l4.4-0.5-2.3-4.4-4.4 0.5z" fill="#1b94ff"/>
<path d="M395.8 227.3l4.4-0.9-2.3-3.9-4.4 1z" fill="#2f56ff"/>
<path d="M393.9 223.7l3.9-0.8"/>
<path d="M399.8 226.2l-2-3.3"/>
<path d="M417.3 232.9l4.4-1.3-2.3-3.5-4.4 1.4z" fill="#4351ff"/>
<path d="M415.4 229.6l3.8-1.1"/>
<path d="M466 231.2l4.5-2.3-2.4-2.8-4.4 2.3z" fill="#7187ff"/>
<path d="M346.4 197.2l4.4-0.2-2.3-4.9-4.4 0.2z" fill="#12f0ff"/>
<path d="M344.5 192.6l3.8 0"/>
<path d="M479.8 227.4l4.5-2.5-2.4-2.7-4.5 2.6z" fill="#7aa2ff"/>
<path d="M477.8 224.8l3.9-2.2"/>
<path d="M497.5 220.4l4.5-2.9-2.4-2.5-4.5 2.9z" fill="#83d0ff"/>
<path d="M501.6 217.5l-2.2-2.1"/>
<path d="M539.3 193.9l4.6-3.8-2.5-2.3-4.6 3.8z" fill="#88ffff"/>
<path d="M535.3 197.1l4.6-3.8-2.5-2.2-4.6 3.7z" fill="#88ffff"/>
<path d="M539.5 193.4l-2.3-1.9"/>
<path d="M543.3 190.6l4.7-3.9-2.6-2.2-4.6 3.8z" fill="#87ffff"/>
<path d="M442.6 234.7l4.5-1.8-2.4-3.1-4.4 1.9z" fill="#5c64ff"/>
<path d="M440.7 231.7l3.9-1.5"/>
<path d="M446.6 232.8l-2-2.6"/>
<path d="M360.4 209l4.4-0.4-2.3-4.6-4.4 0.5z" fill="#18a9ff"/>
<path d="M358.5 204.7l3.8-0.2"/>
<path d="M364.4 208.3l-2.1-3.8"/>
<path d="M401.7 229.7l4.4-1-2.3-3.8-4.4 1.1z" fill="#3451ff"/>
<path d="M531.3 200.2l4.6-3.6-2.5-2.3-4.6 3.6z" fill="#88ffff"/>
<path d="M547.4 187.2l4.6-4-2.5-2.2-4.7 4z" fill="#87ffff"/>
<path d="M432.9 234.9l4.4-1.6-2.3-3.2-4.4 1.6z" fill="#525aff"/>
<path d="M527.3 203.2l4.6-3.5-2.5-2.3-4.6 3.6z" fill="#88ffff"/>
<path d="M452.4 234.1l4.5-2-2.4-3-4.5 2.1z" fill="#6570ff"/>
<path d="M551.4 183.8l4.7-4.1-2.6-2.2-4.6 4.1z" fill="#86ffff"/>
<path d="M551.6 183.3l-2.3-1.9"/>
<path d="M332.3 184.1l4.4 0-2.4-5.2-4.3 0z" fill="#0dfdac"/>
<path d="M330.3 179.2l3.9 0.1"/>
<path d="M523.3 206.2l4.6-3.5-2.5-2.2-4.6 3.4z" fill="#87ffff"/>
<path d="M527.5 202.8l-2.3-1.9"/>
<path d="M555.5 180.3l4.6-4.2-2.5-2.2-4.7 4.2z" fill="#85ffff"/>
<path d="M493.6 222.8l4.5-2.8-2.4-2.5-4.5 2.8z" fill="#81c2ff"/>
<path d="M423.2 234.6l4.4-1.4-2.3-3.4-4.4 1.5z" fill="#4852ff"/>
<path d="M354.5 205.2l4.4-0.3-2.3-4.6-4.4 0.3z" fill="#15c0ff"/>
<path d="M340.4 193l4.4-0.1-2.3-5-4.4 0.1z" fill="#10ffe9"/>
<path d="M344.5 192.6l-2.2-4.3"/>
<path d="M407.6 231.9l4.4-1.2-2.3-3.5-4.4 1.1z" fill="#394dff"/>
<path d="M475.9 229.5l4.5-2.5-2.4-2.6-4.5 2.5z" fill="#7797ff"/>
<path d="M473.9 226.9l3.9-2.1"/>
<path d="M519.4 209.1l4.5-3.4-2.5-2.3-4.5 3.4z" fill="#87ffff"/>
<path d="M559.6 176.7l4.6-4.3-2.5-2.1-4.7 4.2z" fill="#84fff2"/>
<path d="M462.2 233l4.5-2.2-2.4-2.8-4.5 2.2z" fill="#6d7dff"/>
<path d="M515.4 211.9l4.6-3.3-2.5-2.3-4.6 3.3z" fill="#86ffff"/>
<path d="M563.7 173l4.6-4.3-2.6-2.2-4.6 4.3z" fill="#83ffdd"/>
<path d="M563.8 172.6l-2.3-1.9"/>
<path d="M489.7 225.1l4.5-2.7-2.4-2.5-4.5 2.7z" fill="#7eb5ff"/>
<path d="M380.2 222.5l4.4-0.7-2.3-4.1-4.4 0.7z" fill="#2367ff"/>
<path d="M384.2 221.6l-2-3.5"/>
<path d="M348.5 201.3l4.4-0.2-2.3-4.8-4.4 0.2z" fill="#12daff"/>
<path d="M374.3 219.4l4.4-0.6-2.3-4.2-4.4 0.7z" fill="#1f75ff"/>
<path d="M372.4 215.5l3.9-0.4"/>
<path d="M386.1 225.4l4.4-0.9-2.3-3.9-4.4 0.8z" fill="#275cff"/>
<path d="M413.5 233.9l4.4-1.3-2.3-3.4-4.4 1.3z" fill="#3f4cff"/>
<path d="M411.6 230.6l3.8-1"/>
<path d="M417.5 232.5l-2.1-2.9"/>
<path d="M438.8 236.2l4.5-1.8-2.4-3.1-4.4 1.8z" fill="#575dff"/>
<path d="M436.9 233.2l3.8-1.5"/>
<path d="M511.4 214.7l4.6-3.3-2.5-2.3-4.5 3.2z" fill="#85f9ff"/>
<path d="M515.5 211.5l-2.1-2"/>
<path d="M448.5 235.7l4.5-1.9-2.3-3-4.5 2z" fill="#6168ff"/>
<path d="M567.8 169.2l4.7-4.3-2.6-2.2-4.7 4.4z" fill="#82ffc7"/>
<path d="M368.4 216.2l4.4-0.5-2.3-4.3-4.4 0.5z" fill="#1c85ff"/>
<path d="M392 228l4.4-0.9-2.3-3.8-4.4 0.9z" fill="#2c54ff"/>
<path d="M390.1 224.4l3.8-0.7"/>
<path d="M472 231.5l4.5-2.4-2.4-2.6-4.5 2.4z" fill="#748cff"/>
<path d="M470.1 228.9l3.8-2"/>
<path d="M476.1 229.1l-2.2-2.2"/>
<path d="M429.1 236.2l4.4-1.6-2.3-3.2-4.5 1.6z" fill="#4e53ff"/>
<path d="M433.1 234.5l-2.1-2.7"/>
<path d="M334.5 188.5l4.3 0-2.3-5.1-4.4 0z" fill="#0efec4"/>
<path d="M362.5 212.8l4.4-0.5-2.3-4.4-4.4 0.4z" fill="#1897ff"/>
<path d="M366.5 212.1l-2.1-3.8"/>
<path d="M507.5 217.3l4.5-3.1-2.4-2.4-4.6 3.2z" fill="#84e9ff"/>
<path d="M458.3 234.8l4.5-2.1-2.4-2.8-4.4 2.1z" fill="#6974ff"/>
<path d="M462.4 232.6l-2.1-2.3"/>
<path d="M397.9 230.5l4.4-1-2.3-3.7-4.4 1z" fill="#304eff"/>
<path d="M401.9 229.3l-2.1-3.1"/>
<path d="M571.9 165.4l4.7-4.4-2.6-2.2-4.7 4.5z" fill="#81ffb2"/>
<path d="M576.2 161.1l-2.3-1.8"/>
<path d="M485.8 227.4l4.5-2.7-2.4-2.5-4.5 2.7z" fill="#7ca9ff"/>
<path d="M489.8 224.7l-2.1-2.1"/>
<path d="M342.6 197.2l4.4-0.1-2.4-4.9-4.4 0.1z" fill="#10f7ff"/>
<path d="M340.6 192.6l3.9 0"/>
<path d="M346.6 196.8l-2.1-4.2"/>
<path d="M419.3 235.7l4.5-1.3-2.3-3.4-4.5 1.4z" fill="#444cff"/>
<path d="M356.6 209.1l4.4-0.3-2.3-4.5-4.4 0.3z" fill="#16adff"/>
<path d="M354.7 204.8l3.8-0.1"/>
<path d="M503.6 219.9l4.5-3-2.4-2.4-4.6 3z" fill="#82daff"/>
<path d="M403.7 232.8l4.5-1.1-2.3-3.6-4.4 1.1z" fill="#3549ff"/>
<path d="M468.1 233.4l4.5-2.3-2.3-2.6-4.5 2.3z" fill="#7082ff"/>
<path d="M466.2 230.8l3.9-1.9"/>
<path d="M444.7 237.2l4.5-1.8-2.4-3-4.4 1.8z" fill="#5c60ff"/>
<path d="M448.7 235.3l-2.1-2.5"/>
<path d="M481.9 229.6l4.5-2.6-2.4-2.6-4.5 2.6z" fill="#799dff"/>
<path d="M435 237.5l4.4-1.7-2.3-3.1-4.5 1.7z" fill="#5356ff"/>
<path d="M433.1 234.5l3.8-1.3"/>
<path d="M328.4 183.9l4.4 0.1-2.3-5.2-4.4-0.1z" fill="#0cfca3"/>
<path d="M326.5 179l3.8 0.2"/>
<path d="M350.6 205.3l4.4-0.2-2.3-4.7-4.4 0.2z" fill="#13c5ff"/>
<path d="M499.6 222.4l4.6-3-2.5-2.3-4.5 2.9z" fill="#80cbff"/>
<path d="M503.7 219.5l-2.1-2"/>
<path d="M454.5 236.5l4.4-2.1-2.3-2.8-4.5 2z" fill="#656cff"/>
<path d="M409.6 234.9l4.5-1.2-2.3-3.5-4.5 1.2z" fill="#3a47ff"/>
<path d="M407.8 231.5l3.8-0.9"/>
<path d="M336.6 192.9l4.4-0.1-2.4-5-4.3 0.1z" fill="#0efedd"/>
<path d="M541.5 195.7l4.7-3.8-2.6-2.2-4.6 3.8z" fill="#85ffff"/>
<path d="M539.5 193.4l4-3.3"/>
<path d="M537.5 198.9l4.6-3.7-2.5-2.2-4.6 3.7z" fill="#85ffff"/>
<path d="M535.4 196.6l4.1-3.2"/>
<path d="M541.7 195.3l-2.2-1.9"/>
<path d="M545.6 192.4l4.6-3.9-2.5-2.1-4.7 3.9z" fill="#85ffff"/>
<path d="M543.5 190.1l4-3.3"/>
<path d="M425.2 237.3l4.5-1.4-2.3-3.3-4.5 1.5z" fill="#494dff"/>
<path d="M533.5 202l4.6-3.6-2.5-2.2-4.6 3.7z" fill="#85ffff"/>
<path d="M531.4 199.8l4-3.2"/>
<path d="M549.6 189l4.7-4-2.6-2.1-4.6 4z" fill="#84ffff"/>
<path d="M547.5 186.8l4.1-3.5"/>
<path d="M376.4 222.9l4.4-0.6-2.3-4.1-4.4 0.6z" fill="#2068ff"/>
<path d="M382.3 225.9l4.4-0.8-2.3-3.9-4.4 0.7z" fill="#245cff"/>
<path d="M386.3 224.9l-2.1-3.3"/>
<path d="M529.5 205.1l4.6-3.6-2.5-2.2-4.6 3.6z" fill="#85ffff"/>
<path d="M527.5 202.8l3.9-3"/>
<path d="M553.7 185.6l4.6-4.1-2.5-2.1-4.7 4.1z" fill="#83ffff"/>
<path d="M551.6 183.3l4-3.5"/>
<path d="M553.8 185.1l-2.2-1.8"/>
<path d="M370.5 219.8l4.4-0.6-2.3-4.1-4.4 0.5z" fill="#1c76ff"/>
<path d="M368.6 215.8l3.8-0.3"/>
<path d="M388.2 228.6l4.4-0.8-2.3-3.9-4.4 0.9z" fill="#2852ff"/>
<path d="M386.3 224.9l3.8-0.5"/>
<path d="M525.5 208.1l4.6-3.5-2.5-2.2-4.6 3.5z" fill="#85ffff"/>
<path d="M523.5 205.8l4-3"/>
<path d="M529.7 204.7l-2.2-1.9"/>
<path d="M495.7 224.8l4.6-2.9-2.5-2.3-4.5 2.8z" fill="#7ebdff"/>
<path d="M557.8 182l4.6-4.1-2.5-2.1-4.7 4.2z" fill="#83ffff"/>
<path d="M555.6 179.8l4.1-3.6"/>
<path d="M478 231.6l4.5-2.5-2.4-2.5-4.5 2.5z" fill="#7692ff"/>
<path d="M464.3 235.3l4.5-2.2-2.4-2.7-4.5 2.2z" fill="#6c79ff"/>
<path d="M462.4 232.6l3.8-1.8"/>
<path d="M344.7 201.3l4.4-0.1-2.3-4.8-4.4 0.1z" fill="#11e0ff"/>
<path d="M348.7 200.9l-2.1-4.1"/>
<path d="M364.6 216.4l4.4-0.4-2.3-4.3-4.4 0.4z" fill="#1987ff"/>
<path d="M368.6 215.8l-2.1-3.7"/>
<path d="M394 231.2l4.5-0.9-2.3-3.8-4.4 0.9z" fill="#2c4bff"/>
<path d="M521.5 211l4.6-3.4-2.5-2.2-4.5 3.4z" fill="#84ffff"/>
<path d="M519.5 208.7l4-2.9"/>
<path d="M415.5 236.7l4.5-1.2-2.3-3.4-4.5 1.3z" fill="#3f47ff"/>
<path d="M419.5 235.3l-2-2.8"/>
<path d="M561.9 178.4l4.6-4.2-2.6-2.1-4.6 4.3z" fill="#82fff1"/>
<path d="M559.7 176.2l4.1-3.6"/>
<path d="M358.7 212.9l4.4-0.3-2.3-4.4-4.4 0.3z" fill="#169bff"/>
<path d="M440.9 238.6l4.4-1.7-2.3-3-4.5 1.8z" fill="#5759ff"/>
<path d="M517.6 213.8l4.5-3.3-2.4-2.2-4.6 3.3z" fill="#83ffff"/>
<path d="M515.5 211.5l4-2.8"/>
<path d="M330.6 188.3l4.4 0.1-2.4-5.1-4.3-0.1z" fill="#0cfcb9"/>
<path d="M566 174.8l4.6-4.4-2.5-2-4.7 4.3z" fill="#81ffdc"/>
<path d="M563.8 172.6l4.1-3.8"/>
<path d="M566.1 174.3l-2.3-1.7"/>
<path d="M399.9 233.5l4.5-1-2.3-3.6-4.5 1z" fill="#3146ff"/>
<path d="M403.9 232.4l-2-3.1"/>
<path d="M491.8 227.1l4.5-2.7-2.4-2.4-4.5 2.7z" fill="#7cb0ff"/>
<path d="M431.1 238.8l4.5-1.6-2.3-3.1-4.5 1.6z" fill="#4e50ff"/>
<path d="M429.2 235.8l3.9-1.3"/>
<path d="M435.1 237.1l-2-2.6"/>
<path d="M450.6 238.1l4.5-2-2.3-2.8-4.5 1.9z" fill="#6064ff"/>
<path d="M513.6 216.5l4.6-3.2-2.5-2.2-4.5 3.2z" fill="#82f4ff"/>
<path d="M511.6 214.2l3.9-2.7"/>
<path d="M517.7 213.4l-2.2-1.9"/>
<path d="M338.7 197.1l4.4-0.1-2.3-4.9-4.4 0.1z" fill="#0ffefd"/>
<path d="M336.8 192.4l3.8 0.2"/>
<path d="M474.1 233.7l4.5-2.5-2.4-2.5-4.5 2.4z" fill="#7288ff"/>
<path d="M478.2 231.2l-2.1-2.1"/>
<path d="M570.1 171l4.7-4.4-2.6-2-4.7 4.4z" fill="#80ffc7"/>
<path d="M567.9 168.8l4.1-3.8"/>
<path d="M352.7 209.2l4.4-0.2-2.3-4.6-4.4 0.2z" fill="#13b2ff"/>
<path d="M350.8 204.9l3.9-0.1"/>
<path d="M421.4 238.4l4.4-1.3-2.3-3.3-4.4 1.4z" fill="#4448ff"/>
<path d="M460.4 237.1l4.5-2.2-2.4-2.7-4.4 2.1z" fill="#6870ff"/>
<path d="M458.5 234.4l3.9-1.8"/>
<path d="M464.5 234.9l-2.1-2.3"/>
<path d="M405.8 235.7l4.4-1.1-2.2-3.5-4.5 1.1z" fill="#3643ff"/>
<path d="M403.9 232.4l3.9-0.9"/>
<path d="M509.7 219.2l4.5-3.2-2.4-2.2-4.6 3.2z" fill="#81e4ff"/>
<path d="M507.7 216.9l3.9-2.7"/>
<path d="M487.9 229.4l4.5-2.7-2.4-2.4-4.5 2.7z" fill="#79a4ff"/>
<path d="M492 226.7l-2.2-2"/>
<path d="M574.2 167.2l4.7-4.5-2.6-2-4.7 4.4z" fill="#7fffb1"/>
<path d="M572 165l4.2-3.9"/>
<path d="M578.5 162.8l-2.3-1.7"/>
<path d="M346.8 205.3l4.4-0.2-2.3-4.6-4.4 0.1z" fill="#11cbff"/>
<path d="M350.8 204.9l-2.1-4"/>
<path d="M324.6 183.6l4.4 0.2-2.4-5.3-4.4-0.1z" fill="#0bfb98"/>
<path d="M322.6 178.6l3.9 0.4"/>
<path d="M328.6 183.5l-2.1-4.5"/>
<path d="M378.4 226.3l4.5-0.7-2.3-3.9-4.4 0.6z" fill="#215cff"/>
<path d="M372.5 223.2l4.5-0.5-2.3-4.1-4.4 0.5z" fill="#1d69ff"/>
<path d="M505.7 221.8l4.6-3.1-2.5-2.2-4.5 3z" fill="#7fd5ff"/>
<path d="M503.7 219.5l4-2.6"/>
<path d="M384.3 229.1l4.5-0.7-2.3-3.9-4.4 0.8z" fill="#2451ff"/>
<path d="M382.5 225.4l3.8-0.5"/>
<path d="M388.3 228.2l-2-3.3"/>
<path d="M437 240l4.5-1.7-2.3-3-4.5 1.7z" fill="#5253ff"/>
<path d="M411.7 237.7l4.4-1.2-2.3-3.4-4.4 1.2z" fill="#3b42ff"/>
<path d="M470.2 235.6l4.5-2.3-2.3-2.6-4.5 2.3z" fill="#6e7eff"/>
<path d="M332.7 192.6l4.4 0.1-2.3-5-4.4-0.1z" fill="#0dfcd1"/>
<path d="M446.8 239.6l4.4-1.9-2.3-2.8-4.5 1.8z" fill="#5c5dff"/>
<path d="M450.8 237.7l-2.1-2.4"/>
<path d="M366.6 220l4.5-0.4-2.3-4.2-4.4 0.4z" fill="#1a78ff"/>
<path d="M364.8 216l3.8-0.2"/>
<path d="M370.7 219.4l-2.1-3.6"/>
<path d="M390.2 231.7l4.4-0.8-2.2-3.7-4.5 0.8z" fill="#2849ff"/>
<path d="M427.3 239.9l4.4-1.4-2.3-3.1-4.4 1.4z" fill="#494aff"/>
<path d="M425.4 236.9l3.8-1.1"/>
<path d="M484 231.6l4.5-2.6-2.4-2.4-4.5 2.6z" fill="#7799ff"/>
<path d="M456.5 238.7l4.5-2-2.3-2.7-4.5 2z" fill="#6468ff"/>
<path d="M454.6 236.1l3.9-1.7"/>
<path d="M360.7 216.6l4.4-0.3-2.2-4.4-4.4 0.4z" fill="#178bff"/>
<path d="M501.8 224.3l4.5-3-2.4-2.2-4.5 2.9z" fill="#7ec6ff"/>
<path d="M499.8 222l3.9-2.5"/>
<path d="M505.9 221.4l-2.2-1.9"/>
<path d="M340.8 201.2l4.4-0.1-2.3-4.7-4.4 0z" fill="#0fe8ff"/>
<path d="M396.1 234.2l4.4-0.9-2.2-3.6-4.5 0.9z" fill="#2d43ff"/>
<path d="M543.8 197.4l4.6-3.8-2.5-2.1-4.6 3.9z" fill="#82ffff"/>
<path d="M539.7 200.6l4.7-3.7-2.6-2.1-4.6 3.8z" fill="#82ffff"/>
<path d="M543.9 197l-2.2-1.7"/>
<path d="M547.8 194.1l4.7-3.9-2.6-2-4.6 3.9z" fill="#82ffff"/>
<path d="M354.8 213l4.4-0.3-2.3-4.4-4.4 0.2z" fill="#14a0ff"/>
<path d="M535.7 203.8l4.6-3.7-2.5-2.1-4.6 3.7z" fill="#82ffff"/>
<path d="M417.5 239.5l4.5-1.3-2.3-3.3-4.4 1.3z" fill="#3f42ff"/>
<path d="M421.6 238l-2.1-2.7"/>
<path d="M551.9 190.7l4.6-4-2.5-2-4.7 4z" fill="#81ffff"/>
<path d="M531.7 206.8l4.6-3.6-2.5-2-4.6 3.6z" fill="#82ffff"/>
<path d="M556 187.3l4.6-4.1-2.5-2-4.7 4.1z" fill="#81ffff"/>
<path d="M556.1 186.8l-2.3-1.7"/>
<path d="M466.4 237.4l4.5-2.2-2.4-2.6-4.5 2.3z" fill="#6b75ff"/>
<path d="M402 236.5l4.4-1.1-2.3-3.4-4.4 1z" fill="#3140ff"/>
<path d="M400.1 233.1l3.8-0.7"/>
<path d="M406 235.3l-2.1-2.9"/>
<path d="M480.1 233.7l4.5-2.5-2.4-2.5-4.5 2.5z" fill="#738eff"/>
<path d="M497.9 226.7l4.5-2.9-2.4-2.2-4.6 2.8z" fill="#7cb9ff"/>
<path d="M495.9 224.4l3.9-2.4"/>
<path d="M326.7 188l4.4 0.2-2.3-5.1-4.4-0.2z" fill="#0bfbaf"/>
<path d="M330.8 187.9l-2.2-4.4"/>
<path d="M527.7 209.8l4.6-3.5-2.5-2.1-4.6 3.5z" fill="#81ffff"/>
<path d="M531.9 206.4l-2.2-1.7"/>
<path d="M560 183.7l4.7-4.1-2.6-2-4.6 4.1z" fill="#80ffff"/>
<path d="M442.9 241l4.5-1.8-2.3-2.8-4.5 1.8z" fill="#5757ff"/>
<path d="M348.9 209.2l4.4-0.2-2.3-4.5-4.4 0.1z" fill="#12b8ff"/>
<path d="M347 204.9l3.8 0"/>
<path d="M352.9 208.8l-2.1-3.9"/>
<path d="M433.2 241.3l4.4-1.6-2.3-3-4.4 1.6z" fill="#4e4eff"/>
<path d="M437.2 239.6l-2.1-2.5"/>
<path d="M523.7 212.7l4.6-3.4-2.5-2.1-4.5 3.4z" fill="#81ffff"/>
<path d="M334.8 196.9l4.4 0-2.3-4.9-4.4 0z" fill="#0dfdec"/>
<path d="M332.9 192.2l3.9 0.2"/>
<path d="M564.1 180.1l4.7-4.2-2.6-2-4.6 4.2z" fill="#7fffef"/>
<path d="M452.7 240.3l4.5-1.9-2.4-2.7-4.4 1.9z" fill="#5f61ff"/>
<path d="M450.8 237.7l3.8-1.6"/>
<path d="M407.8 238.5l4.5-1.1-2.3-3.4-4.4 1.1z" fill="#363eff"/>
<path d="M519.7 215.5l4.6-3.3-2.4-2.1-4.6 3.3z" fill="#80ffff"/>
<path d="M493.9 229l4.6-2.8-2.4-2.2-4.6 2.8z" fill="#79acff"/>
<path d="M492 226.7l3.9-2.3"/>
<path d="M423.4 241l4.5-1.3-2.3-3.2-4.5 1.4z" fill="#4445ff"/>
<path d="M421.6 238l3.8-1.1"/>
<path d="M568.2 176.4l4.7-4.3-2.5-1.9-4.7 4.3z" fill="#7effda"/>
<path d="M568.4 176l-2.3-1.7"/>
<path d="M374.6 226.6l4.4-0.5-2.2-4-4.5 0.5z" fill="#1d5dff"/>
<path d="M380.5 229.5l4.4-0.6-2.2-3.9-4.5 0.7z" fill="#2151ff"/>
<path d="M378.6 225.9l3.9-0.5"/>
<path d="M476.2 235.7l4.5-2.4-2.3-2.5-4.6 2.4z" fill="#7084ff"/>
<path d="M480.3 233.3l-2.1-2.1"/>
<path d="M368.7 223.5l4.4-0.5-2.2-4-4.5 0.4z" fill="#1a6bff"/>
<path d="M372.7 222.8l-2-3.4"/>
<path d="M342.9 205.2l4.4-0.1-2.3-4.6-4.4 0z" fill="#0fd2ff"/>
<path d="M462.5 239.2l4.5-2.1-2.4-2.6-4.5 2.1z" fill="#666dff"/>
<path d="M466.5 237l-2-2.1"/>
<path d="M515.8 218.3l4.6-3.3-2.5-2.1-4.6 3.3z" fill="#7ff0ff"/>
<path d="M519.9 215.1l-2.2-1.7"/>
<path d="M386.4 232.3l4.4-0.8-2.3-3.7-4.4 0.7z" fill="#2548ff"/>
<path d="M390.4 231.3l-2.1-3.1"/>
<path d="M572.4 172.7l4.7-4.4-2.6-2-4.7 4.4z" fill="#7dffc5"/>
<path d="M362.8 220.2l4.4-0.4-2.2-4.2-4.5 0.4z" fill="#177cff"/>
<path d="M360.9 216.2l3.9-0.2"/>
<path d="M320.7 183.2l4.4 0.3-2.3-5.3-4.5-0.2z" fill="#0af98e"/>
<path d="M318.7 178.2l3.9 0.4"/>
<path d="M392.2 234.8l4.5-0.8-2.3-3.7-4.4 0.9z" fill="#2941ff"/>
<path d="M413.7 240.4l4.5-1.2-2.3-3.3-4.5 1.2z" fill="#3b3eff"/>
<path d="M328.8 192.4l4.5 0.1-2.4-5-4.4-0.2z" fill="#0bfbc6"/>
<path d="M332.9 192.2l-2.1-4.3"/>
<path d="M490 231.3l4.6-2.7-2.4-2.3-4.6 2.7z" fill="#77a0ff"/>
<path d="M488.1 229l3.9-2.3"/>
<path d="M494.1 228.6l-2.1-1.9"/>
<path d="M511.8 221l4.6-3.2-2.5-2.1-4.5 3.1z" fill="#7ee0ff"/>
<path d="M576.5 168.8l4.8-4.5-2.7-1.9-4.7 4.5z" fill="#7cffaf"/>
<path d="M580.8 164.5l-2.3-1.7"/>
<path d="M356.9 216.7l4.4-0.3-2.3-4.3-4.4 0.2z" fill="#148fff"/>
<path d="M439.1 242.4l4.4-1.7-2.3-2.9-4.4 1.7z" fill="#5252ff"/>
<path d="M448.8 241.9l4.5-1.9-2.3-2.7-4.5 1.8z" fill="#5b5bff"/>
<path d="M446.9 239.2l3.9-1.5"/>
<path d="M452.9 239.9l-2.1-2.2"/>
<path d="M429.3 242.4l4.5-1.5-2.3-2.9-4.5 1.4z" fill="#4949ff"/>
<path d="M398.1 237.1l4.5-0.9-2.3-3.5-4.4 0.9z" fill="#2d3dff"/>
<path d="M396.3 233.8l3.8-0.7"/>
<path d="M336.9 201l4.5 0-2.3-4.8-4.4 0z" fill="#0df0fd"/>
<path d="M472.3 237.6l4.5-2.3-2.3-2.5-4.5 2.4z" fill="#6c7aff"/>
<path d="M507.9 223.5l4.5-3-2.4-2.1-4.6 3z" fill="#7cd1ff"/>
<path d="M350.9 213l4.5-0.2-2.3-4.4-4.4 0.1z" fill="#12a5ff"/>
<path d="M355 212.6l-2.1-3.8"/>
<path d="M458.6 240.9l4.5-2.1-2.3-2.6-4.5 2.1z" fill="#6265ff"/>
<path d="M486.1 233.5l4.5-2.6-2.4-2.3-4.5 2.6z" fill="#7494ff"/>
<path d="M484.2 231.2l3.9-2.2"/>
<path d="M419.6 242.1l4.5-1.3-2.3-3.2-4.5 1.3z" fill="#3f40ff"/>
<path d="M417.7 239l3.9-1"/>
<path d="M423.6 240.6l-2-2.6"/>
<path d="M404 239.3l4.5-1-2.3-3.4-4.5 1z" fill="#323aff"/>
<path d="M408 238.1l-2-2.8"/>
<path d="M503.9 226.1l4.6-3-2.4-2.2-4.6 3z" fill="#7ac2ff"/>
<path d="M508 223.1l-2.1-1.7"/>
<path d="M322.8 187.6l4.4 0.3-2.3-5.1-4.4-0.3z" fill="#0afaa4"/>
<path d="M345 209.1l4.4-0.1-2.3-4.5-4.4 0z" fill="#10bfff"/>
<path d="M343.1 204.8l3.9 0.1"/>
<path d="M546 199l4.7-3.9-2.6-1.9-4.6 3.9z" fill="#7effff"/>
<path d="M542 202.2l4.6-3.7-2.5-2-4.6 3.8z" fill="#7effff"/>
<path d="M546.2 198.6l-2.3-1.6"/>
<path d="M331 196.6l4.4 0.1-2.3-4.9-4.4-0.1z" fill="#0cfbde"/>
<path d="M329 191.9l3.9 0.3"/>
<path d="M335 196.4l-2.1-4.2"/>
<path d="M550.1 195.7l4.6-3.9-2.5-1.9-4.7 3.9z" fill="#7effff"/>
<path d="M468.4 239.5l4.6-2.3-2.4-2.4-4.5 2.2z" fill="#6971ff"/>
<path d="M537.9 205.4l4.7-3.7-2.5-1.9-4.7 3.6z" fill="#7effff"/>
<path d="M554.1 192.3l4.7-4-2.6-1.9-4.6 4z" fill="#7effff"/>
<path d="M376.6 229.9l4.5-0.6-2.3-3.8-4.4 0.5z" fill="#1e52ff"/>
<path d="M374.8 226.2l3.8-0.3"/>
<path d="M370.7 226.9l4.5-0.5-2.3-4-4.4 0.5z" fill="#1b5fff"/>
<path d="M374.8 226.2l-2.1-3.4"/>
<path d="M482.2 235.6l4.5-2.5-2.3-2.4-4.6 2.6z" fill="#718aff"/>
<path d="M480.3 233.3l3.9-2.1"/>
<path d="M435.2 243.6l4.5-1.6-2.3-2.8-4.5 1.6z" fill="#4d4dff"/>
<path d="M439.3 242l-2.1-2.4"/>
<path d="M445 243.3l4.5-1.8-2.4-2.7-4.4 1.7z" fill="#5656ff"/>
<path d="M443.1 240.6l3.8-1.4"/>
<path d="M533.9 208.4l4.6-3.5-2.5-2-4.6 3.6z" fill="#7effff"/>
<path d="M558.2 188.8l4.7-4.1-2.6-1.8-4.6 4.1z" fill="#7dffff"/>
<path d="M558.4 188.4l-2.3-1.6"/>
<path d="M382.5 232.7l4.5-0.7-2.3-3.7-4.4 0.6z" fill="#2148ff"/>
<path d="M500 228.5l4.5-2.9-2.4-2.2-4.5 2.9z" fill="#78b5ff"/>
<path d="M409.9 241.2l4.4-1.1-2.2-3.2-4.5 1.1z" fill="#3639ff"/>
<path d="M364.8 223.7l4.5-0.4-2.3-4.1-4.4 0.3z" fill="#186eff"/>
<path d="M529.9 211.4l4.6-3.5-2.5-1.9-4.6 3.5z" fill="#7effff"/>
<path d="M534.1 208l-2.2-1.6"/>
<path d="M562.3 185.3l4.7-4.2-2.6-1.8-4.6 4.1z" fill="#7dffff"/>
<path d="M388.4 235.3l4.5-0.7-2.3-3.7-4.5 0.8z" fill="#2540ff"/>
<path d="M392.4 234.4l-2-3.1"/>
<path d="M425.5 243.5l4.4-1.4-2.2-3-4.5 1.4z" fill="#4444ff"/>
<path d="M454.7 242.5l4.6-2-2.4-2.6-4.5 2z" fill="#5e5eff"/>
<path d="M358.9 220.3l4.5-0.3-2.3-4.2-4.4 0.2z" fill="#1580ff"/>
<path d="M357.1 216.3l3.8-0.1"/>
<path d="M339 205l4.5 0-2.3-4.6-4.4-0.1z" fill="#0edbfd"/>
<path d="M525.9 214.4l4.6-3.5-2.5-1.9-4.6 3.4z" fill="#7dffff"/>
<path d="M566.4 181.7l4.7-4.3-2.6-1.8-4.6 4.2z" fill="#7cffec"/>
<path d="M394.3 237.7l4.4-0.8-2.2-3.5-4.5 0.8z" fill="#293aff"/>
<path d="M392.4 234.4l3.9-0.6"/>
<path d="M496.1 230.8l4.5-2.8-2.4-2.1-4.5 2.8z" fill="#76a8ff"/>
<path d="M521.9 217.2l4.6-3.4-2.4-1.9-4.6 3.3z" fill="#7cfdff"/>
<path d="M353 216.7l4.4-0.2-2.2-4.3-4.4 0.1z" fill="#1295ff"/>
<path d="M357.1 216.3l-2.1-3.7"/>
<path d="M570.5 178l4.8-4.4-2.6-1.8-4.7 4.3z" fill="#7bffd7"/>
<path d="M570.7 177.6l-2.3-1.6"/>
<path d="M316.8 182.7l4.4 0.4-2.3-5.3-4.4-0.3z" fill="#09f883"/>
<path d="M314.8 177.8l3.9 0.4"/>
<path d="M478.3 237.6l4.5-2.4-2.3-2.4-4.6 2.5z" fill="#6d80ff"/>
<path d="M476.4 235.3l3.9-2"/>
<path d="M482.4 235.2l-2.1-1.9"/>
<path d="M325 192l4.4 0.2-2.3-5-4.5-0.2z" fill="#0afaba"/>
<path d="M415.7 243l4.5-1.2-2.3-3.2-4.4 1.3z" fill="#3b3bff"/>
<path d="M413.9 240l3.8-1"/>
<path d="M464.6 241.2l4.5-2.1-2.4-2.5-4.5 2.2z" fill="#6469ff"/>
<path d="M468.6 239.1l-2.1-2.1"/>
<path d="M518 219.9l4.5-3.2-2.4-2-4.6 3.2z" fill="#7becff"/>
<path d="M522.1 216.8l-2.2-1.7"/>
<path d="M400.1 240l4.5-1-2.2-3.4-4.5 1z" fill="#2e37ff"/>
<path d="M574.7 174.2l4.7-4.4-2.6-1.8-4.7 4.4z" fill="#7affc2"/>
<path d="M333.1 200.7l4.4 0.1-2.3-4.8-4.4-0.1z" fill="#0cfafc"/>
<path d="M337.1 200.6l-2.1-4.2"/>
<path d="M347.1 212.9l4.4-0.1-2.3-4.4-4.4 0z" fill="#10acff"/>
<path d="M441.1 244.7l4.5-1.7-2.3-2.8-4.5 1.7z" fill="#5151ff"/>
<path d="M439.3 242l3.8-1.4"/>
<path d="M492.1 233.1l4.6-2.7-2.4-2.2-4.6 2.7z" fill="#739cff"/>
<path d="M496.2 230.4l-2.1-1.8"/>
<path d="M431.4 244.8l4.4-1.5-2.2-2.9-4.5 1.5z" fill="#4848ff"/>
<path d="M450.9 244l4.5-1.9-2.3-2.6-4.5 1.9z" fill="#5959ff"/>
<path d="M454.9 242.1l-2-2.2"/>
<path d="M514 222.6l4.6-3.1-2.5-2-4.6 3.1z" fill="#7adcff"/>
<path d="M578.8 170.4l4.8-4.5-2.6-1.8-4.8 4.5z" fill="#79ffac"/>
<path d="M583.2 166l-2.4-1.5"/>
<path d="M406 242l4.5-1-2.3-3.3-4.4 1z" fill="#3236ff"/>
<path d="M410.1 240.8l-2.1-2.7"/>
<path d="M474.4 239.5l4.5-2.3-2.3-2.3-4.5 2.3z" fill="#6a76ff"/>
<path d="M472.5 237.2l3.9-1.9"/>
<path d="M421.6 244.6l4.5-1.3-2.3-3.1-4.5 1.4z" fill="#3f3fff"/>
<path d="M425.7 243.1l-2.1-2.5"/>
<path d="M341.1 208.9l4.5 0-2.3-4.5-4.4-0.1z" fill="#0ec6fe"/>
<path d="M339.2 204.6l3.9 0.2"/>
<path d="M372.8 230.1l4.4-0.4-2.2-3.9-4.5 0.4z" fill="#1b54ff"/>
<path d="M370.9 226.5l3.9-0.3"/>
<path d="M376.8 229.5l-2-3.3"/>
<path d="M460.7 242.9l4.5-2-2.3-2.5-4.5 2.1z" fill="#6062ff"/>
<path d="M510 225.2l4.6-3.1-2.4-2-4.6 3.1z" fill="#78cdff"/>
<path d="M378.7 233l4.4-0.5-2.2-3.8-4.5 0.6z" fill="#1e48ff"/>
<path d="M366.9 227l4.4-0.3-2.2-4-4.5 0.3z" fill="#1861ff"/>
<path d="M318.9 187.2l4.5 0.3-2.4-5.1-4.4-0.4z" fill="#09f998"/>
<path d="M488.2 235.3l4.6-2.6-2.4-2.2-4.6 2.6z" fill="#7190ff"/>
<path d="M384.5 235.7l4.5-0.6-2.2-3.6-4.5 0.6z" fill="#223fff"/>
<path d="M327.1 196.2l4.4 0.2-2.3-4.9-4.4-0.2z" fill="#0afad1"/>
<path d="M325.1 191.6l3.9 0.3"/>
<path d="M361 223.7l4.4-0.2-2.2-4.1-4.5 0.2z" fill="#1572ff"/>
<path d="M390.4 238.2l4.5-0.7-2.3-3.5-4.4 0.7z" fill="#2639ff"/>
<path d="M388.6 234.9l3.8-0.5"/>
<path d="M394.5 237.3l-2.1-2.9"/>
<path d="M506.1 227.7l4.5-3-2.4-2-4.5 3z" fill="#77beff"/>
<path d="M510.2 224.8l-2.2-1.7"/>
<path d="M411.9 243.9l4.5-1.2-2.3-3.1-4.5 1.1z" fill="#3636ff"/>
<path d="M410.1 240.8l3.8-0.8"/>
<path d="M355.1 220.3l4.4-0.2-2.2-4.2-4.5 0.1z" fill="#1385ff"/>
<path d="M353.2 216.3l3.9 0"/>
<path d="M359.1 219.9l-2-3.6"/>
<path d="M437.2 245.9l4.5-1.6-2.2-2.7-4.5 1.6z" fill="#4c4cff"/>
<path d="M435.4 243.2l3.9-1.2"/>
<path d="M441.3 244.2l-2-2.2"/>
<path d="M447 245.5l4.5-1.8-2.3-2.7-4.5 1.8z" fill="#5454ff"/>
<path d="M335.2 204.7l4.4 0.1-2.3-4.6-4.4-0.2z" fill="#0ce4fc"/>
<path d="M339.2 204.6l-2.1-4"/>
<path d="M470.5 241.4l4.6-2.3-2.4-2.3-4.5 2.3z" fill="#666eff"/>
<path d="M468.6 239.1l3.9-1.9"/>
<path d="M548.3 200.5l4.6-3.9-2.5-1.8-4.7 3.9z" fill="#7bffff"/>
<path d="M546.2 198.6l4-3.3"/>
<path d="M427.5 245.9l4.5-1.4-2.3-2.9-4.5 1.4z" fill="#4343ff"/>
<path d="M544.2 203.7l4.7-3.7-2.6-1.8-4.6 3.7z" fill="#7bffff"/>
<path d="M542.1 201.8l4.1-3.2"/>
<path d="M548.4 200.1l-2.2-1.5"/>
<path d="M552.3 197.2l4.7-4-2.6-1.7-4.6 3.9z" fill="#7affff"/>
<path d="M550.2 195.3l4.1-3.4"/>
<path d="M396.3 240.6l4.5-0.9-2.3-3.4-4.4 0.9z" fill="#2a34ff"/>
<path d="M484.3 237.4l4.6-2.5-2.4-2.2-4.6 2.5z" fill="#6e86ff"/>
<path d="M540.2 206.9l4.6-3.7-2.5-1.8-4.6 3.7z" fill="#7bffff"/>
<path d="M538.1 205l4-3.2"/>
<path d="M556.4 193.8l4.7-4-2.6-1.8-4.6 4z" fill="#7affff"/>
<path d="M554.3 191.9l4.1-3.5"/>
<path d="M349.1 216.6l4.5-0.1-2.3-4.3-4.4 0z" fill="#109bff"/>
<path d="M502.1 230.2l4.6-2.9-2.4-2.1-4.6 2.9z" fill="#75b1ff"/>
<path d="M456.8 244.5l4.5-1.9-2.3-2.5-4.5 2z" fill="#5c5cff"/>
<path d="M536.1 210l4.7-3.6-2.5-1.9-4.7 3.6z" fill="#7affff"/>
<path d="M534.1 208l4-3"/>
<path d="M560.5 190.3l4.7-4.1-2.6-1.7-4.7 4.1z" fill="#7affff"/>
<path d="M558.4 188.4l4.1-3.5"/>
<path d="M560.6 189.9l-2.2-1.5"/>
<path d="M532.1 213l4.6-3.6-2.4-1.8-4.7 3.5z" fill="#7affff"/>
<path d="M530.1 211l4-3"/>
<path d="M536.3 209.5l-2.2-1.5"/>
<path d="M321.1 191.5l4.4 0.3-2.3-5-4.4-0.3z" fill="#09f9ae"/>
<path d="M564.6 186.8l4.7-4.2-2.6-1.8-4.7 4.2z" fill="#79fffe"/>
<path d="M562.5 184.9l4.1-3.6"/>
<path d="M312.9 182.2l4.4 0.4-2.3-5.3-4.4-0.4z" fill="#08f778"/>
<path d="M310.9 177.2l3.9 0.6"/>
<path d="M317 182.3l-2.2-4.5"/>
<path d="M417.8 245.5l4.5-1.2-2.3-3-4.5 1.2z" fill="#3a3aff"/>
<path d="M402.2 242.7l4.5-0.9-2.3-3.3-4.5 0.9z" fill="#2e32ff"/>
<path d="M528.1 215.9l4.6-3.4-2.5-1.9-4.6 3.4z" fill="#79ffff"/>
<path d="M526.1 213.9l4-2.9"/>
<path d="M568.7 183.1l4.7-4.2-2.6-1.8-4.7 4.3z" fill="#78ffe8"/>
<path d="M566.6 181.3l4.1-3.7"/>
<path d="M343.2 212.7l4.4 0-2.2-4.4-4.5-0.1z" fill="#0eb4fe"/>
<path d="M329.2 200.3l4.4 0.3-2.3-4.8-4.4-0.3z" fill="#0bfaeb"/>
<path d="M498.2 232.5l4.6-2.8-2.5-2-4.5 2.8z" fill="#72a4ff"/>
<path d="M466.6 243.2l4.6-2.2-2.4-2.3-4.5 2.1z" fill="#6266ff"/>
<path d="M464.8 240.8l3.8-1.7"/>
<path d="M470.7 241l-2.1-1.9"/>
<path d="M480.4 239.4l4.5-2.4-2.3-2.2-4.6 2.4z" fill="#6a7cff"/>
<path d="M484.5 237l-2.1-1.8"/>
<path d="M524.1 218.7l4.6-3.3-2.4-1.9-4.6 3.4z" fill="#78f9ff"/>
<path d="M522.1 216.8l4-2.9"/>
<path d="M572.9 179.4l4.7-4.3-2.6-1.7-4.7 4.3z" fill="#78ffd3"/>
<path d="M570.7 177.6l4.1-3.8"/>
<path d="M573 179l-2.3-1.4"/>
<path d="M443.2 246.8l4.5-1.7-2.3-2.6-4.5 1.7z" fill="#5050ff"/>
<path d="M368.9 230.3l4.5-0.4-2.2-3.8-4.5 0.3z" fill="#1856ff"/>
<path d="M367.1 226.6l3.8-0.1"/>
<path d="M374.8 233.3l4.5-0.5-2.3-3.7-4.4 0.4z" fill="#1b4aff"/>
<path d="M378.9 232.6l-2.1-3.1"/>
<path d="M433.4 247.1l4.5-1.5-2.3-2.8-4.5 1.5z" fill="#4747ff"/>
<path d="M431.6 244.4l3.8-1.2"/>
<path d="M363 227.1l4.5-0.3-2.3-4-4.4 0.3z" fill="#1565ff"/>
<path d="M380.7 236.1l4.5-0.6-2.3-3.6-4.4 0.5z" fill="#1f40ff"/>
<path d="M520.1 221.5l4.6-3.3-2.4-1.8-4.6 3.2z" fill="#77e9ff"/>
<path d="M518.1 219.5l4-2.7"/>
<path d="M524.3 218.3l-2.2-1.5"/>
<path d="M408 244.6l4.5-1-2.2-3.2-4.5 1.1z" fill="#3232ff"/>
<path d="M406.2 241.6l3.9-0.8"/>
<path d="M412.1 243.5l-2-2.7"/>
<path d="M577 175.7l4.7-4.5-2.6-1.7-4.7 4.4z" fill="#77ffbe"/>
<path d="M574.8 173.8l4.2-3.9"/>
<path d="M452.9 246.1l4.6-1.9-2.4-2.5-4.5 1.9z" fill="#5757ff"/>
<path d="M457 244.1l-2.1-2"/>
<path d="M337.2 208.6l4.5 0.1-2.3-4.5-4.4-0.2z" fill="#0ccffc"/>
<path d="M335.3 204.3l3.9 0.3"/>
<path d="M341.3 208.5l-2.1-3.9"/>
<path d="M423.6 247l4.5-1.4-2.2-2.9-4.5 1.4z" fill="#3f3fff"/>
<path d="M427.7 245.5l-2-2.4"/>
<path d="M357.1 223.7l4.5-0.1-2.3-4.1-4.4 0.1z" fill="#1377ff"/>
<path d="M361.2 223.3l-2.1-3.4"/>
<path d="M386.6 238.7l4.4-0.7-2.2-3.5-4.5 0.7z" fill="#2238ff"/>
<path d="M384.8 235.3l3.8-0.4"/>
<path d="M494.3 234.8l4.5-2.7-2.4-2.1-4.5 2.7z" fill="#7098ff"/>
<path d="M498.4 232.1l-2.2-1.7"/>
<path d="M315 186.6l4.5 0.4-2.4-5.1-4.4-0.4z" fill="#08f88d"/>
<path d="M319.1 186.8l-2.1-4.5"/>
<path d="M516.2 224.2l4.5-3.2-2.4-1.9-4.6 3.2z" fill="#76d9ff"/>
<path d="M514.2 222.2l3.9-2.7"/>
<path d="M581.2 171.8l4.7-4.5-2.6-1.7-4.7 4.5z" fill="#76ffa9"/>
<path d="M579 169.9l4.2-3.9"/>
<path d="M585.5 167.4l-2.3-1.4"/>
<path d="M323.2 195.8l4.4 0.3-2.3-4.9-4.4-0.4z" fill="#09f9c4"/>
<path d="M321.2 191.1l3.9 0.5"/>
<path d="M476.5 241.4l4.5-2.4-2.3-2.2-4.5 2.3z" fill="#6773ff"/>
<path d="M351.2 220.2l4.4-0.1-2.2-4.2-4.4 0z" fill="#118bff"/>
<path d="M349.3 216.2l3.9 0.1"/>
<path d="M392.4 241.1l4.5-0.8-2.2-3.4-4.5 0.8z" fill="#2633ff"/>
<path d="M396.5 240.2l-2-2.9"/>
<path d="M462.8 244.9l4.5-2.1-2.3-2.4-4.6 2.1z" fill="#5e5eff"/>
<path d="M460.9 242.5l3.9-1.7"/>
<path d="M413.9 246.4l4.5-1.2-2.2-3-4.5 1.1z" fill="#3636ff"/>
<path d="M512.2 226.8l4.6-3.1-2.5-1.9-4.5 3.1z" fill="#74c9ff"/>
<path d="M510.2 224.8l4-2.6"/>
<path d="M331.3 204.4l4.4 0.2-2.3-4.7-4.4-0.2z" fill="#0beefb"/>
<path d="M490.3 237l4.6-2.7-2.4-2-4.5 2.6z" fill="#6d8dff"/>
<path d="M345.3 216.4l4.4 0-2.2-4.3-4.5-0.1z" fill="#0fa2fe"/>
<path d="M398.3 243.3l4.5-0.8-2.2-3.3-4.5 0.8z" fill="#2a30ff"/>
<path d="M439.3 248.1l4.5-1.6-2.3-2.7-4.5 1.7z" fill="#4b4bff"/>
<path d="M443.4 246.4l-2.1-2.2"/>
<path d="M449.1 247.5l4.5-1.8-2.3-2.5-4.5 1.8z" fill="#5353ff"/>
<path d="M429.5 248.2l4.5-1.4-2.2-2.8-4.5 1.5z" fill="#4242ff"/>
<path d="M427.7 245.5l3.9-1.1"/>
<path d="M508.2 229.3l4.6-3-2.4-1.9-4.6 3z" fill="#73bbff"/>
<path d="M506.3 227.3l3.9-2.5"/>
<path d="M512.4 226.4l-2.2-1.6"/>
<path d="M472.6 243.2l4.5-2.2-2.3-2.3-4.5 2.3z" fill="#636aff"/>
<path d="M317.1 191l4.5 0.4-2.3-5-4.4-0.5z" fill="#08f8a1"/>
<path d="M321.2 191.1l-2.1-4.3"/>
<path d="M309 181.5l4.4 0.5-2.3-5.2-4.5-0.6z" fill="#07f76d"/>
<path d="M307 176.5l3.9 0.7"/>
<path d="M339.3 212.4l4.5 0.1-2.3-4.4-4.4-0.1z" fill="#0dbcfc"/>
<path d="M343.4 212.3l-2.1-3.8"/>
<path d="M404.2 245.3l4.5-0.9-2.3-3.2-4.4 1z" fill="#2d2fff"/>
<path d="M402.4 242.3l3.8-0.7"/>
<path d="M486.4 239.1l4.6-2.6-2.4-2-4.5 2.5z" fill="#6a82ff"/>
<path d="M458.9 246.5l4.5-2-2.3-2.4-4.5 2z" fill="#5959ff"/>
<path d="M457 244.1l3.9-1.6"/>
<path d="M419.8 247.9l4.5-1.2-2.3-2.9-4.5 1.2z" fill="#3a3aff"/>
<path d="M550.5 201.9l4.7-3.9-2.6-1.7-4.6 3.9z" fill="#77ffff"/>
<path d="M546.4 205.1l4.7-3.8-2.5-1.6-4.7 3.7z" fill="#77ffff"/>
<path d="M550.7 201.5l-2.3-1.4"/>
<path d="M554.6 198.6l4.7-4-2.6-1.7-4.6 4z" fill="#76ffff"/>
<path d="M325.3 199.9l4.4 0.3-2.2-4.8-4.5-0.3z" fill="#09f9db"/>
<path d="M370.9 233.5l4.5-0.4-2.2-3.8-4.5 0.4z" fill="#184cff"/>
<path d="M542.4 208.3l4.6-3.7-2.5-1.7-4.6 3.7z" fill="#76ffff"/>
<path d="M558.7 195.2l4.7-4.1-2.6-1.6-4.7 4z" fill="#76ffff"/>
<path d="M365.1 230.4l4.4-0.3-2.2-3.9-4.5 0.3z" fill="#1659ff"/>
<path d="M363.2 226.7l3.9-0.1"/>
<path d="M376.8 236.3l4.5-0.4-2.2-3.7-4.5 0.5z" fill="#1b41ff"/>
<path d="M380.9 235.7l-2-3.1"/>
<path d="M504.3 231.7l4.6-2.9-2.5-1.9-4.5 2.9z" fill="#71adff"/>
<path d="M502.3 229.7l4-2.4"/>
<path d="M538.4 211.4l4.6-3.6-2.5-1.7-4.6 3.6z" fill="#76ffff"/>
<path d="M562.8 191.7l4.7-4.1-2.6-1.7-4.7 4.1z" fill="#76ffff"/>
<path d="M562.9 191.3l-2.3-1.4"/>
<path d="M359.1 227.1l4.5-0.2-2.2-4-4.5 0.2z" fill="#136aff"/>
<path d="M363.2 226.7l-2-3.4"/>
<path d="M382.7 239l4.5-0.5-2.2-3.6-4.5 0.6z" fill="#1f38ff"/>
<path d="M380.9 235.7l3.9-0.4"/>
<path d="M534.3 214.4l4.7-3.5-2.5-1.8-4.6 3.6z" fill="#76ffff"/>
<path d="M538.5 211l-2.2-1.5"/>
<path d="M566.9 188.1l4.7-4.2-2.6-1.6-4.7 4.2z" fill="#75fff8"/>
<path d="M353.2 223.7l4.5-0.1-2.2-4.1-4.5 0z" fill="#117dff"/>
<path d="M468.7 245l4.6-2.2-2.4-2.2-4.5 2.2z" fill="#5f62ff"/>
<path d="M472.8 242.8l-2.1-1.8"/>
<path d="M530.3 217.3l4.6-3.4-2.4-1.8-4.7 3.5z" fill="#75ffff"/>
<path d="M388.6 241.5l4.5-0.6-2.2-3.4-4.5 0.6z" fill="#2232ff"/>
<path d="M333.3 208.3l4.5 0.2-2.2-4.6-4.5-0.2z" fill="#0bd9fb"/>
<path d="M331.5 203.9l3.8 0.4"/>
<path d="M410.1 247.1l4.5-1-2.3-3-4.5 1z" fill="#3131ff"/>
<path d="M414.1 246l-2-2.5"/>
<path d="M571 184.5l4.7-4.3-2.5-1.6-4.8 4.3z" fill="#75ffe3"/>
<path d="M435.4 249.3l4.5-1.5-2.2-2.7-4.5 1.5z" fill="#4646ff"/>
<path d="M500.3 234.1l4.6-2.8-2.4-2-4.6 2.9z" fill="#6ea1ff"/>
<path d="M498.4 232.1l3.9-2.4"/>
<path d="M482.5 241.1l4.6-2.4-2.4-2.1-4.6 2.4z" fill="#6778ff"/>
<path d="M486.6 238.7l-2.1-1.7"/>
<path d="M445.2 248.9l4.5-1.7-2.3-2.5-4.5 1.7z" fill="#4e4eff"/>
<path d="M526.3 220.2l4.6-3.4-2.4-1.7-4.7 3.3z" fill="#74f7ff"/>
<path d="M575.2 180.8l4.7-4.4-2.6-1.6-4.7 4.4z" fill="#74ffce"/>
<path d="M575.3 180.4l-2.3-1.4"/>
<path d="M425.7 249.3l4.5-1.4-2.3-2.8-4.5 1.4z" fill="#3e3eff"/>
<path d="M423.9 246.6l3.8-1.1"/>
<path d="M429.7 247.8l-2-2.3"/>
<path d="M347.3 220l4.5 0-2.3-4.2-4.4 0z" fill="#0f92fe"/>
<path d="M345.5 216l3.8 0.2"/>
<path d="M311.1 186l4.4 0.5-2.3-5.2-4.4-0.5z" fill="#07f781"/>
<path d="M455 248l4.5-1.9-2.3-2.4-4.5 1.9z" fill="#5555ff"/>
<path d="M453.1 245.7l3.9-1.6"/>
<path d="M459.1 246.1l-2.1-2"/>
<path d="M394.5 243.8l4.5-0.7-2.3-3.3-4.5 0.7z" fill="#262eff"/>
<path d="M398.5 242.9l-2-2.7"/>
<path d="M319.3 195.2l4.4 0.4-2.3-4.9-4.4-0.4z" fill="#08f8b6"/>
<path d="M317.3 190.6l3.9 0.5"/>
<path d="M323.4 195.3l-2.2-4.2"/>
<path d="M522.3 222.9l4.6-3.2-2.4-1.8-4.6 3.3z" fill="#73e6ff"/>
<path d="M526.5 219.7l-2.2-1.4"/>
<path d="M579.3 177l4.8-4.5-2.6-1.5-4.8 4.4z" fill="#73ffb9"/>
<path d="M496.4 236.4l4.6-2.8-2.4-1.9-4.6 2.7z" fill="#6c95ff"/>
<path d="M494.4 234.4l4-2.3"/>
<path d="M500.5 233.7l-2.1-1.6"/>
<path d="M327.4 203.9l4.4 0.3-2.2-4.7-4.5-0.3z" fill="#0af9f9"/>
<path d="M415.9 248.8l4.5-1.2-2.2-2.9-4.5 1.2z" fill="#3535ff"/>
<path d="M341.4 216.1l4.4 0.1-2.2-4.3-4.5-0.1z" fill="#0dabfd"/>
<path d="M345.5 216l-2.1-3.7"/>
<path d="M478.6 243.1l4.6-2.4-2.4-2.1-4.6 2.4z" fill="#636fff"/>
<path d="M400.3 245.9l4.5-0.8-2.2-3.2-4.5 0.9z" fill="#292cff"/>
<path d="M398.5 242.9l3.9-0.6"/>
<path d="M518.3 225.6l4.6-3.2-2.4-1.7-4.6 3.1z" fill="#71d6ff"/>
<path d="M464.8 246.7l4.6-2.1-2.4-2.2-4.5 2.1z" fill="#5b5bff"/>
<path d="M583.5 173.1l4.8-4.5-2.6-1.6-4.8 4.5z" fill="#72ffa4"/>
<path d="M587.9 168.8l-2.4-1.4"/>
<path d="M441.3 250.2l4.6-1.6-2.3-2.6-4.5 1.6z" fill="#4949ff"/>
<path d="M445.4 248.5l-2-2.1"/>
<path d="M367.1 233.6l4.5-0.3-2.3-3.8-4.4 0.3z" fill="#164fff"/>
<path d="M514.3 228.2l4.6-3.1-2.4-1.8-4.6 3.1z" fill="#70c6ff"/>
<path d="M492.5 238.6l4.5-2.7-2.4-1.9-4.5 2.6z" fill="#6989ff"/>
<path d="M490.5 236.6l3.9-2.2"/>
<path d="M373 236.5l4.5-0.4-2.3-3.6-4.4 0.4z" fill="#1943ff"/>
<path d="M431.6 250.4l4.5-1.4-2.3-2.7-4.5 1.5z" fill="#4141ff"/>
<path d="M361.2 230.4l4.5-0.2-2.3-3.9-4.4 0.2z" fill="#135eff"/>
<path d="M359.4 226.7l3.8 0"/>
<path d="M365.3 230l-2.1-3.3"/>
<path d="M335.4 212.1l4.5 0.2-2.3-4.5-4.4-0.2z" fill="#0bc6fb"/>
<path d="M451.1 249.5l4.5-1.8-2.2-2.4-4.6 1.8z" fill="#5050ff"/>
<path d="M449.3 247.1l3.8-1.4"/>
<path d="M378.8 239.3l4.5-0.5-2.2-3.5-4.5 0.5z" fill="#1c39ff"/>
<path d="M377.1 235.9l3.8-0.2"/>
<path d="M382.9 238.6l-2-2.9"/>
<path d="M313.2 190.3l4.5 0.5-2.3-5-4.5-0.5z" fill="#07f795"/>
<path d="M406.2 247.8l4.5-0.9-2.2-3.1-4.5 1z" fill="#2d2dff"/>
<path d="M305 180.8l4.5 0.6-2.3-5.3-4.5-0.6z" fill="#06f661"/>
<path d="M303.1 175.8l3.9 0.7"/>
<path d="M355.3 227l4.5-0.1-2.3-4-4.4 0.1z" fill="#116fff"/>
<path d="M321.4 199.3l4.4 0.5-2.2-4.9-4.5-0.4z" fill="#08f8cc"/>
<path d="M325.5 199.5l-2.1-4.2"/>
<path d="M421.8 250.2l4.5-1.2-2.2-2.8-4.5 1.2z" fill="#3939ff"/>
<path d="M420 247.5l3.9-0.9"/>
<path d="M384.7 241.9l4.5-0.6-2.2-3.4-4.5 0.6z" fill="#1f31ff"/>
<path d="M474.7 244.9l4.5-2.2-2.3-2.1-4.5 2.2z" fill="#6067ff"/>
<path d="M510.4 230.8l4.6-3.1-2.5-1.8-4.5 3.1z" fill="#6eb8ff"/>
<path d="M514.5 227.8l-2.1-1.4"/>
<path d="M460.9 248.3l4.6-2-2.3-2.2-4.6 2z" fill="#5757ff"/>
<path d="M349.3 223.5l4.5 0-2.2-4.1-4.5 0z" fill="#0f83ff"/>
<path d="M488.5 240.7l4.6-2.6-2.4-1.9-4.5 2.5z" fill="#667fff"/>
<path d="M486.6 238.7l3.9-2.1"/>
<path d="M390.6 244.3l4.5-0.7-2.2-3.3-4.5 0.7z" fill="#222cff"/>
<path d="M329.4 207.8l4.5 0.3-2.2-4.6-4.5-0.3z" fill="#0ae4f9"/>
<path d="M327.6 203.5l3.9 0.4"/>
<path d="M552.8 203.2l4.6-3.9-2.5-1.6-4.7 3.9z" fill="#72ffff"/>
<path d="M548.7 206.4l4.7-3.8-2.6-1.5-4.6 3.7z" fill="#72ffff"/>
<path d="M552.9 202.8l-2.2-1.3"/>
<path d="M556.8 199.8l4.7-3.9-2.5-1.6-4.7 4z" fill="#72ffff"/>
<path d="M412.1 249.6l4.5-1.1-2.2-2.9-4.6 1z" fill="#3131ff"/>
<path d="M416.2 248.4l-2.1-2.4"/>
<path d="M506.4 233.2l4.6-2.9-2.4-1.8-4.6 2.9z" fill="#6caaff"/>
<path d="M544.6 209.6l4.7-3.7-2.5-1.6-4.7 3.7z" fill="#72ffff"/>
<path d="M560.9 196.4l4.7-4-2.5-1.6-4.7 4.1z" fill="#72ffff"/>
<path d="M343.4 219.7l4.5 0.1-2.2-4.2-4.5-0.1z" fill="#0d9afd"/>
<path d="M341.6 215.7l3.9 0.3"/>
<path d="M347.5 219.6l-2-3.6"/>
<path d="M540.6 212.7l4.6-3.6-2.5-1.6-4.6 3.6z" fill="#72ffff"/>
<path d="M565.1 193l4.7-4.2-2.6-1.5-4.7 4.1z" fill="#72ffff"/>
<path d="M565.2 192.5l-2.3-1.2"/>
<path d="M437.5 251.4l4.5-1.6-2.3-2.5-4.5 1.5z" fill="#4444ff"/>
<path d="M396.5 246.5l4.5-0.8-2.2-3.2-4.5 0.8z" fill="#2629ff"/>
<path d="M394.7 243.4l3.8-0.5"/>
<path d="M400.6 245.5l-2.1-2.6"/>
<path d="M536.5 215.7l4.7-3.5-2.5-1.7-4.6 3.6z" fill="#71ffff"/>
<path d="M540.7 212.3l-2.2-1.3"/>
<path d="M447.2 250.8l4.6-1.7-2.3-2.4-4.5 1.7z" fill="#4c4cff"/>
<path d="M445.4 248.5l3.9-1.4"/>
<path d="M470.8 246.7l4.5-2.2-2.3-2.1-4.5 2.2z" fill="#5c5fff"/>
<path d="M474.9 244.5l-2.1-1.7"/>
<path d="M569.2 189.4l4.7-4.2-2.6-1.5-4.7 4.2z" fill="#71fff2"/>
<path d="M307.2 185.3l4.4 0.6-2.3-5.2-4.4-0.6z" fill="#06f675"/>
<path d="M315.3 194.6l4.5 0.5-2.3-4.9-4.4-0.6z" fill="#07f7a9"/>
<path d="M313.4 189.9l3.9 0.7"/>
<path d="M427.7 251.5l4.5-1.4-2.2-2.7-4.6 1.4z" fill="#3d3dff"/>
<path d="M431.8 250l-2.1-2.2"/>
<path d="M484.6 242.7l4.6-2.4-2.4-2-4.5 2.5z" fill="#6375ff"/>
<path d="M482.7 240.7l3.9-2"/>
<path d="M488.7 240.3l-2.1-1.6"/>
<path d="M532.5 218.6l4.7-3.4-2.5-1.6-4.7 3.4z" fill="#70ffff"/>
<path d="M502.5 235.6l4.5-2.9-2.4-1.8-4.5 2.9z" fill="#6a9eff"/>
<path d="M573.3 185.7l4.8-4.3-2.6-1.5-4.7 4.3z" fill="#71ffdd"/>
<path d="M337.5 215.8l4.4 0.2-2.2-4.4-4.5-0.2z" fill="#0bb4fb"/>
<path d="M457 249.9l4.6-1.9-2.3-2.3-4.5 1.9z" fill="#5252ff"/>
<path d="M461.1 247.9l-2-1.8"/>
<path d="M323.4 203.4l4.5 0.4-2.2-4.7-4.5-0.4z" fill="#09f8e4"/>
<path d="M327.6 203.5l-2.1-4"/>
<path d="M528.5 221.5l4.6-3.4-2.4-1.6-4.7 3.4z" fill="#6ff5ff"/>
<path d="M402.3 248.5l4.6-0.9-2.3-3.1-4.5 0.9z" fill="#2929ff"/>
<path d="M417.9 251.1l4.6-1.2-2.3-2.8-4.5 1.2z" fill="#3434ff"/>
<path d="M416.2 248.4l3.8-0.9"/>
<path d="M577.5 182l4.7-4.4-2.6-1.4-4.7 4.3z" fill="#70ffc8"/>
<path d="M577.6 181.6l-2.3-1.2"/>
<path d="M369.1 236.6l4.5-0.3-2.2-3.6-4.5 0.3z" fill="#1646ff"/>
<path d="M363.2 233.6l4.5-0.2-2.2-3.8-4.5 0.2z" fill="#1353ff"/>
<path d="M367.3 233.2l-2-3.2"/>
<path d="M375 239.5l4.5-0.4-2.2-3.5-4.5 0.3z" fill="#193bff"/>
<path d="M373.2 236.1l3.9-0.2"/>
<path d="M357.3 230.3l4.5-0.1-2.2-3.9-4.5 0.1z" fill="#1163ff"/>
<path d="M355.5 226.6l3.9 0.1"/>
<path d="M524.5 224.3l4.6-3.3-2.4-1.7-4.7 3.3z" fill="#6ee4ff"/>
<path d="M528.7 221.1l-2.2-1.4"/>
<path d="M581.7 178.2l4.7-4.4-2.6-1.5-4.7 4.4z" fill="#6fffb3"/>
<path d="M498.5 237.9l4.6-2.8-2.4-1.8-4.6 2.7z" fill="#6892ff"/>
<path d="M502.7 235.2l-2.2-1.5"/>
<path d="M380.9 242.2l4.5-0.5-2.2-3.4-4.5 0.4z" fill="#1c32ff"/>
<path d="M384.9 241.5l-2-2.9"/>
<path d="M466.9 248.4l4.5-2.1-2.3-2.1-4.5 2.1z" fill="#5858ff"/>
<path d="M480.7 244.7l4.6-2.4-2.4-2-4.6 2.4z" fill="#606cff"/>
<path d="M478.8 242.7l3.9-2"/>
<path d="M331.5 211.7l4.5 0.2-2.2-4.4-4.5-0.3z" fill="#0ad1fa"/>
<path d="M351.4 226.9l4.5 0-2.2-4-4.5 0z" fill="#0f76ff"/>
<path d="M520.5 227l4.6-3.2-2.4-1.7-4.6 3.2z" fill="#6dd3ff"/>
<path d="M386.7 244.6l4.5-0.6-2.2-3.3-4.5 0.6z" fill="#1f2cff"/>
<path d="M408.2 250.3l4.5-1-2.2-2.9-4.5 0.9z" fill="#2d2dff"/>
<path d="M309.3 189.6l4.5 0.6-2.3-5-4.5-0.6z" fill="#06f688"/>
<path d="M443.4 252.1l4.5-1.6-2.3-2.4-4.5 1.6z" fill="#4747ff"/>
<path d="M441.5 249.8l3.9-1.3"/>
<path d="M447.5 250.5l-2.1-2"/>
<path d="M433.6 252.5l4.5-1.4-2.2-2.6-4.6 1.5z" fill="#4040ff"/>
<path d="M585.8 174.4l4.8-4.6-2.6-1.5-4.8 4.6z" fill="#6fff9e"/>
<path d="M590.2 170l-2.3-1.2"/>
<path d="M317.4 198.7l4.5 0.5-2.2-4.8-4.5-0.5z" fill="#07f7be"/>
<path d="M301.1 180l4.5 0.7-2.3-5.3-4.5-0.7z" fill="#05f555"/>
<path d="M299.1 175l4 0.8"/>
<path d="M305.2 180.4l-2.1-4.6"/>
<path d="M345.5 223.2l4.4 0.1-2.2-4.1-4.4-0.1z" fill="#0d8bfd"/>
<path d="M349.6 223.1l-2.1-3.5"/>
<path d="M453.2 251.3l4.5-1.8-2.3-2.3-4.5 1.9z" fill="#4e4eff"/>
<path d="M423.8 252.4l4.6-1.2-2.3-2.7-4.5 1.2z" fill="#3838ff"/>
<path d="M494.6 240.1l4.6-2.7-2.4-1.8-4.6 2.6z" fill="#6586ff"/>
<path d="M516.5 229.6l4.6-3.1-2.4-1.7-4.6 3.1z" fill="#6bc4ff"/>
<path d="M392.6 246.9l4.5-0.7-2.2-3.2-4.5 0.7z" fill="#2228ff"/>
<path d="M390.8 243.9l3.9-0.5"/>
<path d="M325.5 207.3l4.5 0.4-2.2-4.6-4.5-0.4z" fill="#09f0f8"/>
<path d="M323.7 203l3.9 0.5"/>
<path d="M329.6 207.4l-2-3.9"/>
<path d="M476.8 246.6l4.5-2.3-2.3-2-4.6 2.3z" fill="#5c63ff"/>
<path d="M474.9 244.5l3.9-1.8"/>
<path d="M339.5 219.4l4.5 0.2-2.2-4.3-4.5-0.2z" fill="#0ca3fb"/>
<path d="M337.7 215.4l3.9 0.3"/>
<path d="M463 250.1l4.6-2-2.4-2.2-4.5 2z" fill="#5454ff"/>
<path d="M414.1 251.9l4.5-1.1-2.2-2.8-4.5 1.1z" fill="#3030ff"/>
<path d="M412.3 249.2l3.9-0.8"/>
<path d="M418.2 250.7l-2-2.3"/>
<path d="M512.5 232.1l4.6-3-2.4-1.7-4.6 3z" fill="#69b6ff"/>
<path d="M516.7 229.2l-2.2-1.4"/>
<path d="M398.5 249l4.5-0.8-2.2-3-4.5 0.7z" fill="#2526ff"/>
<path d="M402.6 248.1l-2-2.6"/>
<path d="M490.6 242.2l4.6-2.6-2.4-1.8-4.5 2.5z" fill="#627cff"/>
<path d="M311.4 193.9l4.5 0.6-2.3-5-4.5-0.6z" fill="#06f69c"/>
<path d="M309.5 189.2l3.9 0.7"/>
<path d="M303.2 184.4l4.5 0.7-2.3-5.1-4.5-0.7z" fill="#05f568"/>
<path d="M307.4 184.8l-2.2-4.4"/>
<path d="M439.5 253.3l4.5-1.5-2.2-2.4-4.6 1.5z" fill="#4343ff"/>
<path d="M437.7 251l3.8-1.2"/>
<path d="M333.6 215.4l4.5 0.3-2.3-4.4-4.5-0.3z" fill="#0abffa"/>
<path d="M555 204.4l4.7-3.9-2.5-1.5-4.7 3.9z" fill="#6effff"/>
<path d="M552.9 202.8l4.1-3.4"/>
<path d="M508.6 234.6l4.6-3-2.4-1.7-4.6 3z" fill="#68a8ff"/>
<path d="M365.2 236.6l4.5-0.2-2.2-3.6-4.5 0.2z" fill="#1449ff"/>
<path d="M369.3 236.2l-2-3"/>
<path d="M429.7 253.5l4.6-1.3-2.3-2.6-4.5 1.4z" fill="#3b3bff"/>
<path d="M433.8 252.1l-2-2.1"/>
<path d="M550.9 207.6l4.7-3.8-2.5-1.5-4.7 3.8z" fill="#6effff"/>
<path d="M548.9 206l4-3.2"/>
<path d="M555.2 203.9l-2.3-1.1"/>
<path d="M559.1 201l4.7-4-2.5-1.4-4.7 4z" fill="#6effff"/>
<path d="M557 199.4l4.1-3.4"/>
<path d="M371.1 239.6l4.5-0.3-2.2-3.6-4.5 0.3z" fill="#163dff"/>
<path d="M369.3 236.2l3.9-0.1"/>
<path d="M449.3 252.7l4.5-1.7-2.3-2.3-4.5 1.7z" fill="#4949ff"/>
<path d="M359.3 233.5l4.5-0.1-2.2-3.8-4.5 0.1z" fill="#1158ff"/>
<path d="M546.9 210.8l4.6-3.7-2.5-1.5-4.6 3.7z" fill="#6dffff"/>
<path d="M544.8 209.2l4.1-3.2"/>
<path d="M563.2 197.6l4.7-4.1-2.5-1.4-4.7 4.1z" fill="#6effff"/>
<path d="M561.1 196l4.1-3.5"/>
<path d="M319.5 202.8l4.5 0.5-2.2-4.8-4.5-0.4z" fill="#07f7d4"/>
<path d="M377 242.3l4.5-0.3-2.2-3.5-4.5 0.4z" fill="#1933ff"/>
<path d="M472.9 248.4l4.5-2.3-2.3-2-4.6 2.2z" fill="#585cff"/>
<path d="M471 246.3l3.9-1.8"/>
<path d="M477 246.2l-2.1-1.7"/>
<path d="M542.8 213.9l4.7-3.7-2.5-1.4-4.7 3.6z" fill="#6dffff"/>
<path d="M540.7 212.3l4.1-3.1"/>
<path d="M567.3 194.1l4.8-4.1-2.6-1.5-4.7 4.2z" fill="#6dffff"/>
<path d="M565.2 192.5l4.1-3.5"/>
<path d="M567.5 193.7l-2.3-1.2"/>
<path d="M404.3 250.9l4.6-0.9-2.2-2.9-4.6 0.8z" fill="#2929ff"/>
<path d="M353.4 230.2l4.5 0-2.2-3.9-4.5 0z" fill="#0f69ff"/>
<path d="M351.6 226.5l3.9 0.1"/>
<path d="M420 253.3l4.5-1.2-2.2-2.7-4.6 1.2z" fill="#3333ff"/>
<path d="M538.8 216.9l4.6-3.6-2.5-1.4-4.6 3.5z" fill="#6cffff"/>
<path d="M536.7 215.3l4-3"/>
<path d="M543 213.5l-2.3-1.2"/>
<path d="M571.5 190.5l4.7-4.2-2.6-1.4-4.7 4.2z" fill="#6dffeb"/>
<path d="M569.3 189l4.2-3.7"/>
<path d="M382.9 244.9l4.5-0.5-2.2-3.3-4.5 0.5z" fill="#1b2cff"/>
<path d="M387 244.2l-2.1-2.7"/>
<path d="M486.7 244.2l4.6-2.5-2.4-1.8-4.5 2.5z" fill="#5f72ff"/>
<path d="M490.8 241.8l-2.1-1.5"/>
<path d="M459.1 251.6l4.6-1.9-2.3-2.2-4.6 2z" fill="#4f4fff"/>
<path d="M463.2 249.7l-2.1-1.8"/>
<path d="M504.6 236.9l4.6-2.8-2.4-1.7-4.6 2.8z" fill="#659bff"/>
<path d="M347.5 226.6l4.5 0.1-2.2-4-4.5-0.1z" fill="#0d7dfd"/>
<path d="M351.6 226.5l-2-3.4"/>
<path d="M534.7 219.8l4.7-3.4-2.5-1.5-4.6 3.4z" fill="#6bffff"/>
<path d="M532.7 218.2l4-2.9"/>
<path d="M575.6 186.9l4.8-4.3-2.6-1.4-4.7 4.3z" fill="#6dffd6"/>
<path d="M573.5 185.3l4.1-3.7"/>
<path d="M327.6 211.1l4.5 0.4-2.2-4.5-4.5-0.4z" fill="#09ddf8"/>
<path d="M331.7 211.3l-2.1-3.9"/>
<path d="M388.7 247.3l4.6-0.6-2.2-3.2-4.6 0.6z" fill="#1e27ff"/>
<path d="M387 244.2l3.8-0.3"/>
<path d="M530.7 222.7l4.6-3.4-2.4-1.5-4.7 3.4z" fill="#6af3ff"/>
<path d="M528.7 221.1l4-2.9"/>
<path d="M579.8 183.2l4.8-4.4-2.6-1.4-4.8 4.4z" fill="#6cffc1"/>
<path d="M577.6 181.6l4.2-3.8"/>
<path d="M580 182.7l-2.4-1.1"/>
<path d="M410.2 252.6l4.5-1-2.2-2.8-4.5 1z" fill="#2c2cff"/>
<path d="M408.4 249.9l3.9-0.7"/>
<path d="M341.6 222.9l4.5 0.2-2.2-4.1-4.5-0.2z" fill="#0c94fb"/>
<path d="M305.3 188.8l4.5 0.7-2.2-5.1-4.5-0.7z" fill="#06f57b"/>
<path d="M309.5 189.2l-2.1-4.4"/>
<path d="M313.5 198l4.5 0.6-2.3-4.8-4.4-0.6z" fill="#06f6b0"/>
<path d="M469 250.1l4.5-2.2-2.3-2-4.5 2.2z" fill="#5455ff"/>
<path d="M467.1 248l3.9-1.7"/>
<path d="M500.6 239.2l4.6-2.7-2.3-1.7-4.6 2.7z" fill="#638fff"/>
<path d="M504.8 236.5l-2.1-1.3"/>
<path d="M526.7 225.5l4.6-3.3-2.4-1.5-4.7 3.3z" fill="#69e2ff"/>
<path d="M524.7 223.9l4-2.8"/>
<path d="M530.9 222.3l-2.2-1.2"/>
<path d="M435.6 254.5l4.6-1.5-2.3-2.4-4.5 1.4z" fill="#3e3eff"/>
<path d="M433.8 252.1l3.9-1.1"/>
<path d="M584 179.4l4.8-4.5-2.6-1.4-4.8 4.5z" fill="#6bffac"/>
<path d="M581.8 177.8l4.2-3.9"/>
<path d="M482.8 246.2l4.6-2.4-2.4-1.9-4.6 2.4z" fill="#5c69ff"/>
<path d="M297.1 179.1l4.5 0.8-2.3-5.3-4.5-0.8z" fill="#05f449"/>
<path d="M295.2 174.1l3.9 0.9"/>
<path d="M445.4 254l4.5-1.6-2.2-2.3-4.6 1.6z" fill="#4545ff"/>
<path d="M449.5 252.3l-2-1.8"/>
<path d="M394.6 249.4l4.5-0.6-2.2-3.1-4.5 0.7z" fill="#2224ff"/>
<path d="M425.8 254.5l4.6-1.3-2.2-2.5-4.6 1.2z" fill="#3737ff"/>
<path d="M321.6 206.7l4.5 0.5-2.2-4.6-4.5-0.5z" fill="#08f7ec"/>
<path d="M319.7 202.4l4 0.6"/>
<path d="M522.7 228.2l4.6-3.2-2.4-1.6-4.7 3.3z" fill="#68d2ff"/>
<path d="M520.7 226.5l4-2.6"/>
<path d="M335.6 219l4.5 0.3-2.2-4.3-4.5-0.3z" fill="#0aaefa"/>
<path d="M333.8 215l3.9 0.4"/>
<path d="M455.2 253.1l4.6-1.9-2.3-2.1-4.6 1.8z" fill="#4b4bff"/>
<path d="M588.2 175.5l4.8-4.6-2.6-1.3-4.8 4.5z" fill="#6bff98"/>
<path d="M586 173.9l4.2-3.9"/>
<path d="M592.6 171.1l-2.4-1.1"/>
<path d="M496.7 241.4l4.6-2.6-2.4-1.8-4.6 2.7z" fill="#6084ff"/>
<path d="M416.1 254.1l4.5-1.1-2.2-2.7-4.5 1.1z" fill="#2f2fff"/>
<path d="M420.2 252.9l-2-2.2"/>
<path d="M400.5 251.4l4.5-0.8-2.2-2.9-4.5 0.8z" fill="#2525ff"/>
<path d="M404.6 250.5l-2-2.4"/>
<path d="M518.7 230.8l4.6-3.1-2.4-1.6-4.6 3.2z" fill="#66c2ff"/>
<path d="M516.7 229.2l4-2.7"/>
<path d="M367.2 239.6l4.5-0.2-2.1-3.5-4.6 0.2z" fill="#1441ff"/>
<path d="M365.4 236.3l3.9-0.1"/>
<path d="M371.3 239.2l-2-3"/>
<path d="M361.3 236.6l4.5-0.1-2.1-3.7-4.6 0.1z" fill="#114eff"/>
<path d="M373.1 242.4l4.5-0.3-2.2-3.4-4.5 0.3z" fill="#1636ff"/>
<path d="M478.9 248.1l4.5-2.3-2.3-1.9-4.6 2.3z" fill="#5860ff"/>
<path d="M355.4 233.3l4.5 0-2.1-3.8-4.6 0.1z" fill="#0f5eff"/>
<path d="M465.1 251.7l4.5-2-2.3-2-4.5 2z" fill="#5050ff"/>
<path d="M463.2 249.7l3.9-1.7"/>
<path d="M329.6 214.9l4.5 0.3-2.2-4.3-4.5-0.4z" fill="#09caf9"/>
<path d="M333.8 215l-2.1-3.7"/>
<path d="M307.5 193.1l4.5 0.7-2.3-5-4.5-0.7z" fill="#06f58e"/>
<path d="M305.5 188.4l4 0.8"/>
<path d="M311.6 193.5l-2.1-4.3"/>
<path d="M379 245.1l4.5-0.4-2.2-3.3-4.5 0.4z" fill="#192dff"/>
<path d="M299.3 183.5l4.5 0.8-2.3-5.1-4.5-0.8z" fill="#05f45b"/>
<path d="M349.5 229.9l4.5 0.1-2.2-3.9-4.5-0.1z" fill="#0d71fd"/>
<path d="M347.7 226.2l3.9 0.3"/>
<path d="M353.6 229.8l-2-3.3"/>
<path d="M514.7 233.3l4.6-3-2.4-1.5-4.6 3z" fill="#65b4ff"/>
<path d="M512.7 231.7l4-2.5"/>
<path d="M518.9 230.4l-2.2-1.2"/>
<path d="M315.6 202.1l4.5 0.5-2.2-4.7-4.5-0.6z" fill="#07f6c4"/>
<path d="M441.5 255.2l4.6-1.5-2.3-2.3-4.5 1.5z" fill="#4040ff"/>
<path d="M492.7 243.6l4.6-2.6-2.3-1.7-4.6 2.5z" fill="#5d79ff"/>
<path d="M431.7 255.5l4.6-1.3-2.3-2.5-4.5 1.4z" fill="#3939ff"/>
<path d="M429.9 253.1l3.9-1"/>
<path d="M435.8 254.1l-2-2"/>
<path d="M406.3 253.2l4.6-0.9-2.2-2.8-4.6 0.9z" fill="#2828ff"/>
<path d="M404.6 250.5l3.8-0.6"/>
<path d="M384.9 247.5l4.5-0.5-2.2-3.1-4.5 0.4z" fill="#1b27ff"/>
<path d="M383.1 244.5l3.9-0.3"/>
<path d="M389 246.9l-2-2.7"/>
<path d="M343.6 226.3l4.5 0.2-2.2-4-4.5-0.2z" fill="#0c86fb"/>
<path d="M451.3 254.5l4.6-1.8-2.3-2.2-4.5 1.8z" fill="#4747ff"/>
<path d="M422 255.4l4.5-1.2-2.2-2.6-4.5 1.2z" fill="#3232ff"/>
<path d="M510.7 235.8l4.6-2.9-2.4-1.6-4.6 2.9z" fill="#63a6ff"/>
<path d="M508.8 234.2l3.9-2.5"/>
<path d="M323.7 210.5l4.5 0.5-2.2-4.5-4.5-0.5z" fill="#08e9f7"/>
<path d="M557.3 205.4l4.7-3.9-2.5-1.3-4.7 3.9z" fill="#69ffff"/>
<path d="M474.9 249.9l4.6-2.3-2.3-1.8-4.6 2.2z" fill="#5458ff"/>
<path d="M479.1 247.7l-2.1-1.5"/>
<path d="M553.2 208.7l4.7-3.8-2.5-1.4-4.7 3.8z" fill="#69ffff"/>
<path d="M557.5 205l-2.3-1.1"/>
<path d="M561.4 202.1l4.7-4-2.5-1.3-4.7 4z" fill="#69ffff"/>
<path d="M390.7 249.8l4.6-0.6-2.2-3.1-4.6 0.6z" fill="#1e23ff"/>
<path d="M549.1 211.9l4.7-3.8-2.5-1.3-4.7 3.7z" fill="#68ffff"/>
<path d="M565.5 198.7l4.7-4.1-2.5-1.3-4.7 4z" fill="#69ffff"/>
<path d="M337.6 222.5l4.6 0.3-2.2-4.2-4.5-0.3z" fill="#0a9efa"/>
<path d="M545 215l4.7-3.7-2.5-1.3-4.6 3.6z" fill="#68ffff"/>
<path d="M461.2 253.2l4.5-1.9-2.3-2-4.5 1.9z" fill="#4c4cff"/>
<path d="M459.3 251.2l3.9-1.5"/>
<path d="M465.3 251.3l-2.1-1.6"/>
<path d="M569.6 195.2l4.8-4.2-2.6-1.3-4.7 4.2z" fill="#69fff7"/>
<path d="M569.8 194.7l-2.3-1"/>
<path d="M488.8 245.6l4.6-2.5-2.4-1.7-4.5 2.5z" fill="#5a6fff"/>
<path d="M493 243.2l-2.2-1.4"/>
<path d="M541 218l4.6-3.6-2.4-1.3-4.7 3.5z" fill="#67ffff"/>
<path d="M545.2 214.6l-2.2-1.1"/>
<path d="M573.8 191.6l4.7-4.3-2.5-1.3-4.8 4.3z" fill="#69ffe3"/>
<path d="M412.2 254.8l4.6-1-2.2-2.7-4.6 1z" fill="#2b2bff"/>
<path d="M301.4 187.9l4.5 0.8-2.3-5.1-4.5-0.8z" fill="#05f56e"/>
<path d="M506.7 238.2l4.7-2.9-2.4-1.6-4.6 2.9z" fill="#6099ff"/>
<path d="M504.8 236.5l4-2.3"/>
<path d="M309.6 197.2l4.5 0.7-2.3-4.8-4.5-0.7z" fill="#06f5a1"/>
<path d="M313.7 197.6l-2.1-4.1"/>
<path d="M396.6 251.9l4.5-0.7-2.1-3-4.6 0.7z" fill="#2121ff"/>
<path d="M536.9 221l4.7-3.5-2.5-1.4-4.6 3.5z" fill="#66ffff"/>
<path d="M578 187.9l4.7-4.3-2.6-1.3-4.7 4.3z" fill="#68ffce"/>
<path d="M293.2 178.1l4.5 0.9-2.3-5.3-4.5-1z" fill="#04f43c"/>
<path d="M291.2 173.1l4 1"/>
<path d="M293.4 177.7l-2.2-4.6"/>
<path d="M331.7 218.5l4.5 0.3-2.2-4.2-4.5-0.4z" fill="#09b9f9"/>
<path d="M329.9 214.5l3.9 0.5"/>
<path d="M335.8 218.6l-2-3.6"/>
<path d="M437.6 256.3l4.6-1.4-2.3-2.3-4.5 1.4z" fill="#3c3cff"/>
<path d="M317.7 206l4.5 0.6-2.2-4.6-4.6-0.6z" fill="#07f6d9"/>
<path d="M315.8 201.7l3.9 0.7"/>
<path d="M532.9 223.8l4.7-3.4-2.5-1.4-4.7 3.4z" fill="#65f3ff"/>
<path d="M582.1 184.2l4.8-4.4-2.6-1.3-4.7 4.4z" fill="#68ffb9"/>
<path d="M582.3 183.8l-2.3-1.1"/>
<path d="M447.4 255.7l4.6-1.6-2.3-2.2-4.5 1.7z" fill="#4242ff"/>
<path d="M451.5 254.1l-2-1.8"/>
<path d="M427.9 256.5l4.5-1.3-2.2-2.4-4.6 1.2z" fill="#3535ff"/>
<path d="M426.1 254.1l3.8-1"/>
<path d="M363.3 239.5l4.6-0.1-2.2-3.5-4.5 0.1z" fill="#1145ff"/>
<path d="M361.6 236.2l3.8 0.1"/>
<path d="M471 251.6l4.6-2.2-2.3-1.8-4.6 2.1z" fill="#5152ff"/>
<path d="M369.2 242.5l4.5-0.2-2.1-3.5-4.6 0.2z" fill="#1339ff"/>
<path d="M373.3 242.1l-2-2.9"/>
<path d="M357.4 236.4l4.6 0-2.2-3.7-4.5 0z" fill="#0f54ff"/>
<path d="M502.8 240.5l4.6-2.8-2.4-1.6-4.6 2.8z" fill="#5e8dff"/>
<path d="M500.8 238.8l4-2.3"/>
<path d="M506.9 237.8l-2.1-1.3"/>
<path d="M484.9 247.6l4.6-2.4-2.4-1.8-4.6 2.4z" fill="#5766ff"/>
<path d="M375.1 245.2l4.5-0.3-2.1-3.3-4.6 0.3z" fill="#162fff"/>
<path d="M528.9 226.6l4.6-3.3-2.4-1.4-4.7 3.3z" fill="#64e2ff"/>
<path d="M533.1 223.4l-2.2-1.1"/>
<path d="M351.5 233.1l4.5 0.1-2.1-3.8-4.6-0.1z" fill="#0d65fd"/>
<path d="M355.7 233l-2.1-3.2"/>
<path d="M586.3 180.4l4.8-4.5-2.6-1.3-4.8 4.5z" fill="#67ffa5"/>
<path d="M402.5 253.7l4.5-0.8-2.2-2.8-4.5 0.8z" fill="#2424ff"/>
<path d="M400.7 251l3.9-0.5"/>
<path d="M406.6 252.8l-2-2.3"/>
<path d="M457.3 254.7l4.5-1.8-2.3-2.1-4.5 1.9z" fill="#4848ff"/>
<path d="M455.4 252.7l3.9-1.5"/>
<path d="M418.1 256.2l4.5-1.1-2.2-2.6-4.5 1.1z" fill="#2e2eff"/>
<path d="M422.2 255l-2-2.1"/>
<path d="M381 247.7l4.5-0.4-2.2-3.2-4.5 0.4z" fill="#1828ff"/>
<path d="M379.2 244.7l3.9-0.2"/>
<path d="M325.7 214.3l4.5 0.4-2.2-4.3-4.5-0.5z" fill="#08d7f7"/>
<path d="M345.6 229.6l4.5 0.2-2.1-3.9-4.6-0.2z" fill="#0c79fb"/>
<path d="M343.8 225.9l3.9 0.3"/>
<path d="M524.9 229.3l4.6-3.2-2.4-1.4-4.7 3.2z" fill="#63d1ff"/>
<path d="M590.6 176.5l4.8-4.6-2.7-1.2-4.8 4.5z" fill="#67ff90"/>
<path d="M594.9 172.1l-2.3-1"/>
<path d="M303.5 192.2l4.5 0.8-2.2-5-4.5-0.8z" fill="#05f581"/>
<path d="M301.6 187.5l3.9 0.9"/>
<path d="M498.8 242.7l4.6-2.7-2.4-1.6-4.6 2.7z" fill="#5b82ff"/>
<path d="M496.9 241l3.9-2.2"/>
<path d="M295.3 182.5l4.5 0.9-2.3-5.1-4.5-0.9z" fill="#04f44e"/>
<path d="M295.5 182.1l-2.1-4.4"/>
<path d="M386.8 250.1l4.6-0.5-2.2-3.1-4.5 0.5z" fill="#1b23ff"/>
<path d="M391 249.4l-2-2.5"/>
<path d="M311.6 201.3l4.6 0.7-2.3-4.8-4.5-0.6z" fill="#06f5b5"/>
<path d="M315.8 201.7l-2.1-4.1"/>
<path d="M339.7 225.9l4.5 0.3-2.2-4.1-4.5-0.2z" fill="#0a90fa"/>
<path d="M520.9 231.9l4.6-3.1-2.4-1.4-4.7 3.1z" fill="#61c2ff"/>
<path d="M480.9 249.5l4.6-2.4-2.3-1.7-4.6 2.3z" fill="#545dff"/>
<path d="M467.1 253.2l4.6-2-2.3-1.9-4.6 2z" fill="#4d4dff"/>
<path d="M408.3 255.4l4.6-0.9-2.2-2.7-4.6 0.9z" fill="#2727ff"/>
<path d="M433.7 257.4l4.6-1.4-2.2-2.3-4.6 1.4z" fill="#3737ff"/>
<path d="M437.9 256l-2.1-1.9"/>
<path d="M443.5 257l4.6-1.6-2.2-2.2-4.6 1.6z" fill="#3e3eff"/>
<path d="M319.7 209.8l4.5 0.6-2.2-4.5-4.5-0.6z" fill="#07f6f4"/>
<path d="M392.7 252.2l4.6-0.6-2.2-2.9-4.6 0.6z" fill="#1e20ff"/>
<path d="M424 257.4l4.5-1.2-2.2-2.5-4.5 1.2z" fill="#3131ff"/>
<path d="M422.2 255l3.9-0.9"/>
<path d="M516.9 234.5l4.6-3.1-2.4-1.4-4.7 3z" fill="#5fb3ff"/>
<path d="M521 231.5l-2.1-1.1"/>
<path d="M333.7 222l4.5 0.3-2.1-4.1-4.6-0.4z" fill="#09a9f9"/>
<path d="M337.9 222.1l-2.1-3.5"/>
<path d="M494.9 244.8l4.6-2.6-2.4-1.6-4.6 2.6z" fill="#5977ff"/>
<path d="M493 243.2l3.9-2.2"/>
<path d="M453.4 256.1l4.5-1.8-2.2-2-4.6 1.7z" fill="#4444ff"/>
<path d="M451.5 254.1l3.9-1.4"/>
<path d="M477 251.3l4.6-2.3-2.3-1.7-4.6 2.2z" fill="#5056ff"/>
<path d="M481.2 249.1l-2.1-1.4"/>
<path d="M414.2 256.9l4.6-1-2.2-2.6-4.6 1z" fill="#2a2aff"/>
<path d="M512.9 236.9l4.6-2.9-2.4-1.5-4.6 3z" fill="#5ea5ff"/>
<path d="M398.6 254.2l4.5-0.7-2.1-2.8-4.6 0.6z" fill="#2020ff"/>
<path d="M396.8 251.5l3.9-0.5"/>
<path d="M305.6 196.3l4.5 0.8-2.2-4.8-4.5-0.8z" fill="#05f593"/>
<path d="M297.4 186.9l4.5 0.9-2.2-5.1-4.5-0.8z" fill="#04f461"/>
<path d="M297.6 186.5l-2.1-4.4"/>
<path d="M365.3 242.4l4.6-0.1-2.2-3.4-4.5 0.1z" fill="#113dff"/>
<path d="M359.4 239.4l4.6 0-2.2-3.6-4.5 0z" fill="#0f4bff"/>
<path d="M357.7 236l3.9 0.2"/>
<path d="M463.2 254.8l4.6-2-2.3-1.9-4.6 2z" fill="#4949ff"/>
<path d="M467.3 252.8l-2-1.5"/>
<path d="M559.6 206.4l4.7-3.9-2.6-1.3-4.7 4z" fill="#64ffff"/>
<path d="M327.7 217.9l4.6 0.4-2.2-4.2-4.5-0.5z" fill="#08c5f7"/>
<path d="M325.9 213.9l4 0.6"/>
<path d="M555.4 209.7l4.8-3.9-2.6-1.2-4.7 3.8z" fill="#64ffff"/>
<path d="M559.7 206l-2.2-1"/>
<path d="M563.7 203l4.7-4-2.5-1.2-4.8 4z" fill="#64ffff"/>
<path d="M371.2 245.2l4.5-0.2-2.1-3.3-4.6 0.2z" fill="#1332ff"/>
<path d="M375.3 244.8l-2-2.7"/>
<path d="M353.5 236.2l4.6 0.1-2.2-3.7-4.5-0.1z" fill="#0d5bfd"/>
<path d="M357.7 236l-2-3"/>
<path d="M551.4 212.8l4.7-3.7-2.6-1.2-4.6 3.7z" fill="#63ffff"/>
<path d="M567.8 199.6l4.7-4.1-2.5-1.2-4.7 4.1z" fill="#64ffff"/>
<path d="M313.7 205.2l4.5 0.7-2.2-4.6-4.5-0.7z" fill="#06f5c8"/>
<path d="M311.9 200.9l3.9 0.8"/>
<path d="M317.9 205.6l-2.1-3.9"/>
<path d="M490.9 246.9l4.6-2.5-2.3-1.6-4.6 2.5z" fill="#566dff"/>
<path d="M489 245.2l4-2"/>
<path d="M495.1 244.4l-2.1-1.2"/>
<path d="M547.3 216l4.7-3.7-2.5-1.3-4.7 3.7z" fill="#63ffff"/>
<path d="M572 196.1l4.7-4.2-2.6-1.2-4.7 4.2z" fill="#64ffee"/>
<path d="M572.1 195.7l-2.3-1"/>
<path d="M377.1 247.9l4.5-0.4-2.1-3.2-4.6 0.3z" fill="#162aff"/>
<path d="M375.3 244.8l3.9-0.1"/>
<path d="M347.6 232.8l4.5 0.2-2.1-3.8-4.6-0.2z" fill="#0c6dfb"/>
<path d="M543.2 219l4.7-3.6-2.5-1.2-4.7 3.5z" fill="#62ffff"/>
<path d="M547.5 215.5l-2.3-0.9"/>
<path d="M576.1 192.5l4.8-4.2-2.6-1.2-4.8 4.2z" fill="#64ffd9"/>
<path d="M508.9 239.3l4.6-2.8-2.4-1.5-4.6 2.9z" fill="#5b98ff"/>
<path d="M439.6 258.1l4.6-1.5-2.2-2.2-4.6 1.5z" fill="#3939ff"/>
<path d="M429.9 258.3l4.5-1.2-2.2-2.3-4.6 1.2z" fill="#3333ff"/>
<path d="M539.2 221.9l4.6-3.4-2.4-1.3-4.7 3.5z" fill="#61ffff"/>
<path d="M404.5 255.9l4.5-0.8-2.2-2.7-4.5 0.8z" fill="#2323ff"/>
<path d="M408.6 255l-2-2.2"/>
<path d="M383 250.3l4.5-0.4-2.1-3.1-4.6 0.4z" fill="#1823ff"/>
<path d="M449.5 257.4l4.5-1.7-2.2-2-4.6 1.6z" fill="#3f3fff"/>
<path d="M447.7 255.4l3.8-1.3"/>
<path d="M453.6 255.7l-2.1-1.6"/>
<path d="M580.3 188.8l4.8-4.3-2.6-1.2-4.8 4.4z" fill="#64ffc5"/>
<path d="M341.7 229.2l4.5 0.3-2.1-4-4.6-0.2z" fill="#0a82fa"/>
<path d="M339.9 225.5l3.9 0.4"/>
<path d="M321.8 213.6l4.5 0.5-2.2-4.3-4.5-0.6z" fill="#07e4f6"/>
<path d="M473.1 253l4.6-2.2-2.3-1.7-4.6 2.1z" fill="#4d4fff"/>
<path d="M420.1 258.1l4.6-1-2.2-2.5-4.6 1.1z" fill="#2c2cff"/>
<path d="M418.3 255.8l3.9-0.8"/>
<path d="M424.2 257l-2-2"/>
<path d="M535.1 224.8l4.7-3.4-2.5-1.3-4.6 3.4z" fill="#60f3ff"/>
<path d="M584.5 185.1l4.8-4.4-2.6-1.2-4.8 4.4z" fill="#63ffb1"/>
<path d="M584.6 184.7l-2.3-0.9"/>
<path d="M487 248.9l4.6-2.5-2.4-1.6-4.6 2.4z" fill="#5364ff"/>
<path d="M485.1 247.2l3.9-2"/>
<path d="M504.9 241.6l4.6-2.8-2.4-1.4-4.6 2.8z" fill="#598cff"/>
<path d="M509.1 238.9l-2.2-1.1"/>
<path d="M388.8 252.5l4.6-0.5-2.2-2.9-4.5 0.5z" fill="#1a1fff"/>
<path d="M393 251.9l-2-2.5"/>
<path d="M459.3 256.2l4.6-1.8-2.3-1.9-4.6 1.8z" fill="#4545ff"/>
<path d="M299.5 191.2l4.6 0.9-2.3-5-4.5-0.9z" fill="#04f473"/>
<path d="M297.6 186.5l4 1"/>
<path d="M299.7 190.8l-2.1-4.3"/>
<path d="M335.7 225.4l4.6 0.4-2.2-4.1-4.5-0.4z" fill="#099af9"/>
<path d="M339.9 225.5l-2-3.4"/>
<path d="M531.1 227.6l4.6-3.3-2.4-1.3-4.7 3.3z" fill="#5fe2ff"/>
<path d="M535.3 224.4l-2.2-1"/>
<path d="M307.7 200.4l4.5 0.8-2.2-4.8-4.5-0.7z" fill="#05f5a5"/>
<path d="M588.7 181.3l4.8-4.5-2.6-1.2-4.8 4.5z" fill="#63ff9c"/>
<path d="M410.3 257.5l4.6-0.9-2.2-2.6-4.6 0.9z" fill="#2626ff"/>
<path d="M527 230.3l4.7-3.2-2.4-1.3-4.7 3.2z" fill="#5ed1ff"/>
<path d="M592.9 177.4l4.8-4.6-2.6-1.1-4.8 4.6z" fill="#62ff88"/>
<path d="M597.3 173l-2.4-0.9"/>
<path d="M394.7 254.6l4.6-0.7-2.2-2.8-4.6 0.6z" fill="#1d1dff"/>
<path d="M393 251.9l3.8-0.4"/>
<path d="M315.8 209.1l4.5 0.6-2.2-4.5-4.5-0.6z" fill="#06f6dd"/>
<path d="M319.9 209.5l-2-3.9"/>
<path d="M329.8 221.4l4.5 0.5-2.1-4.2-4.6-0.5z" fill="#08b5f7"/>
<path d="M500.9 243.9l4.7-2.7-2.4-1.5-4.6 2.7z" fill="#5780ff"/>
<path d="M469.2 254.6l4.6-2-2.3-1.8-4.6 2z" fill="#4949ff"/>
<path d="M435.8 259.1l4.5-1.3-2.2-2.2-4.6 1.4z" fill="#3535ff"/>
<path d="M439.9 257.7l-2-1.7"/>
<path d="M483 250.7l4.6-2.3-2.3-1.6-4.6 2.3z" fill="#4f5bff"/>
<path d="M481.2 249.1l3.9-1.9"/>
<path d="M445.6 258.6l4.5-1.6-2.2-2-4.6 1.5z" fill="#3b3bff"/>
<path d="M443.8 256.6l3.9-1.2"/>
<path d="M523 233l4.7-3.2-2.4-1.3-4.7 3.1z" fill="#5cc1ff"/>
<path d="M426 259.2l4.5-1.2-2.2-2.3-4.5 1.2z" fill="#2f2fff"/>
<path d="M361.4 242.3l4.6-0.1-2.2-3.4-4.5 0z" fill="#0f43ff"/>
<path d="M355.5 239.2l4.6 0-2.2-3.5-4.5-0.1z" fill="#0d51fd"/>
<path d="M353.8 235.8l3.9 0.2"/>
<path d="M359.7 239l-2-3"/>
<path d="M367.3 245.2l4.6-0.1-2.2-3.4-4.5 0.1z" fill="#1136ff"/>
<path d="M349.6 235.9l4.6 0.1-2.2-3.6-4.5-0.2z" fill="#0c63fb"/>
<path d="M373.2 247.9l4.5-0.2-2.1-3.2-4.6 0.2z" fill="#132cff"/>
<path d="M371.5 244.9l3.8-0.1"/>
<path d="M377.3 247.5l-2-2.7"/>
<path d="M455.4 257.6l4.6-1.7-2.3-2-4.6 1.8z" fill="#4040ff"/>
<path d="M400.6 256.4l4.5-0.7-2.1-2.7-4.6 0.7z" fill="#2020ff"/>
<path d="M323.8 217.2l4.6 0.6-2.2-4.3-4.6-0.6z" fill="#07d3f6"/>
<path d="M322 213.2l3.9 0.7"/>
<path d="M301.6 195.4l4.6 0.8-2.3-4.8-4.5-0.9z" fill="#04f485"/>
<path d="M301.8 195l-2.1-4.2"/>
<path d="M416.2 258.9l4.6-1-2.2-2.5-4.6 1z" fill="#2828ff"/>
<path d="M414.5 256.5l3.8-0.7"/>
<path d="M497 246l4.6-2.6-2.4-1.5-4.6 2.6z" fill="#5475ff"/>
<path d="M519 235.5l4.7-3.1-2.4-1.3-4.7 3.1z" fill="#5ab3ff"/>
<path d="M523.2 232.6l-2.2-1.1"/>
<path d="M343.7 232.4l4.5 0.2-2.1-3.8-4.6-0.2z" fill="#0a76fa"/>
<path d="M379.1 250.4l4.5-0.3-2.1-3.1-4.6 0.3z" fill="#1525ff"/>
<path d="M309.7 204.4l4.6 0.7-2.2-4.6-4.6-0.8z" fill="#05f5b8"/>
<path d="M307.9 200l4 0.9"/>
<path d="M479.1 252.6l4.6-2.3-2.3-1.6-4.6 2.2z" fill="#4c53ff"/>
<path d="M477.2 250.9l4-1.8"/>
<path d="M483.3 250.4l-2.1-1.3"/>
<path d="M465.3 256.2l4.6-2-2.3-1.8-4.6 2z" fill="#4545ff"/>
<path d="M469.4 254.2l-2.1-1.4"/>
<path d="M337.7 228.7l4.6 0.3-2.1-3.9-4.6-0.3z" fill="#098df9"/>
<path d="M336 225l3.9 0.5"/>
<path d="M341.9 228.8l-2-3.3"/>
<path d="M384.9 252.7l4.6-0.4-2.1-3-4.6 0.5z" fill="#181fff"/>
<path d="M515 238l4.7-3-2.4-1.3-4.7 2.9z" fill="#58a5ff"/>
<path d="M406.4 258l4.6-0.8-2.2-2.5-4.5 0.7z" fill="#2222ff"/>
<path d="M410.6 257.1l-2-2.1"/>
<path d="M561.8 207.2l4.8-3.9-2.6-1.1-4.7 3.9z" fill="#5fffff"/>
<path d="M559.7 206l4.1-3.4"/>
<path d="M557.7 210.5l4.7-3.8-2.5-1.1-4.7 3.8z" fill="#5fffff"/>
<path d="M555.6 209.2l4.1-3.2"/>
<path d="M562 206.8l-2.3-0.8"/>
<path d="M317.8 212.8l4.6 0.7-2.2-4.4-4.6-0.7z" fill="#06f3f6"/>
<path d="M322 213.2l-2.1-3.7"/>
<path d="M566 203.9l4.7-4-2.5-1.1-4.8 4z" fill="#5fffff"/>
<path d="M563.8 202.6l4.2-3.4"/>
<path d="M441.7 259.7l4.6-1.4-2.3-2.1-4.6 1.5z" fill="#3737ff"/>
<path d="M439.9 257.7l3.9-1.1"/>
<path d="M493 248l4.6-2.5-2.3-1.5-4.6 2.6z" fill="#516bff"/>
<path d="M497.2 245.6l-2.1-1.2"/>
<path d="M431.9 260.1l4.6-1.3-2.3-2.2-4.5 1.3z" fill="#3131ff"/>
<path d="M553.6 213.7l4.7-3.8-2.5-1.1-4.7 3.8z" fill="#5effff"/>
<path d="M551.5 212.4l4.1-3.2"/>
<path d="M570.1 200.4l4.8-4.1-2.6-1-4.7 4.1z" fill="#60fff8"/>
<path d="M568 199.2l4.1-3.5"/>
<path d="M549.5 216.8l4.7-3.6-2.5-1.2-4.7 3.7z" fill="#5effff"/>
<path d="M547.5 215.5l4-3.1"/>
<path d="M574.3 196.9l4.7-4.2-2.5-1-4.8 4.2z" fill="#60ffe4"/>
<path d="M572.1 195.7l4.2-3.6"/>
<path d="M574.4 196.5l-2.3-0.8"/>
<path d="M331.8 224.8l4.6 0.5-2.2-4.1-4.6-0.4z" fill="#08a6f7"/>
<path d="M390.8 254.8l4.6-0.5-2.2-2.8-4.5 0.5z" fill="#1a1cff"/>
<path d="M389.1 252.1l3.9-0.2"/>
<path d="M395 254.2l-2-2.3"/>
<path d="M451.5 258.9l4.6-1.6-2.3-2-4.6 1.7z" fill="#3c3cff"/>
<path d="M455.6 257.2l-2-1.5"/>
<path d="M422.1 260l4.6-1.1-2.2-2.3-4.6 1.1z" fill="#2b2bff"/>
<path d="M426.2 258.9l-2-1.9"/>
<path d="M511 240.4l4.7-2.9-2.4-1.4-4.7 2.9z" fill="#5697ff"/>
<path d="M545.4 219.9l4.7-3.6-2.5-1.2-4.6 3.6z" fill="#5dffff"/>
<path d="M543.4 218.6l4.1-3.1"/>
<path d="M549.7 216.4l-2.2-0.9"/>
<path d="M578.4 193.3l4.8-4.2-2.6-1.1-4.7 4.3z" fill="#5fffcf"/>
<path d="M576.3 192.1l4.2-3.7"/>
<path d="M303.7 199.4l4.5 0.9-2.2-4.7-4.5-0.9z" fill="#04f496"/>
<path d="M303.9 199.1l-2.1-4.1"/>
<path d="M475.2 254.3l4.6-2.2-2.3-1.6-4.6 2.1z" fill="#484cff"/>
<path d="M473.3 252.6l3.9-1.7"/>
<path d="M541.4 222.8l4.7-3.5-2.5-1.1-4.7 3.5z" fill="#5cffff"/>
<path d="M539.3 221.5l4.1-2.9"/>
<path d="M582.6 189.7l4.8-4.4-2.6-1-4.8 4.3z" fill="#5fffbb"/>
<path d="M580.5 188.4l4.1-3.7"/>
<path d="M461.3 257.7l4.6-1.9-2.2-1.8-4.6 1.9z" fill="#4141ff"/>
<path d="M537.3 225.7l4.7-3.4-2.5-1.2-4.6 3.4z" fill="#5bf4ff"/>
<path d="M535.3 224.4l4-2.9"/>
<path d="M489.1 250l4.6-2.4-2.3-1.5-4.7 2.4z" fill="#4e62ff"/>
<path d="M412.3 259.5l4.6-0.9-2.2-2.5-4.6 0.9z" fill="#2525ff"/>
<path d="M410.6 257.1l3.9-0.6"/>
<path d="M325.8 220.7l4.6 0.6-2.2-4.2-4.5-0.5z" fill="#07c2f6"/>
<path d="M586.8 185.9l4.8-4.4-2.6-1.1-4.8 4.5z" fill="#5fffa7"/>
<path d="M584.6 184.7l4.3-3.8"/>
<path d="M587 185.5l-2.4-0.8"/>
<path d="M396.7 256.8l4.6-0.6-2.2-2.8-4.6 0.6z" fill="#1c1cff"/>
<path d="M311.8 208.2l4.6 0.8-2.2-4.5-4.6-0.8z" fill="#05f5cb"/>
<path d="M357.5 242l4.6 0.1-2.2-3.4-4.5-0.1z" fill="#0d49fd"/>
<path d="M361.7 241.9l-2-2.9"/>
<path d="M363.4 245l4.6 0-2.2-3.3-4.5 0z" fill="#0f3bff"/>
<path d="M507 242.7l4.7-2.8-2.4-1.4-4.6 2.8z" fill="#548bff"/>
<path d="M511.2 240l-2.1-1.1"/>
<path d="M351.6 238.8l4.6 0.2-2.2-3.6-4.5-0.1z" fill="#0c59fb"/>
<path d="M349.9 235.5l3.9 0.3"/>
<path d="M369.3 247.8l4.6-0.1-2.2-3.2-4.6 0.1z" fill="#1130ff"/>
<path d="M367.6 244.8l3.9 0.1"/>
<path d="M533.3 228.5l4.6-3.3-2.4-1.2-4.7 3.3z" fill="#5ae3ff"/>
<path d="M531.3 227.2l4-2.8"/>
<path d="M537.5 225.3l-2.2-0.9"/>
<path d="M591.1 182.1l4.8-4.5-2.7-1.1-4.8 4.6z" fill="#5fff93"/>
<path d="M588.9 180.9l4.2-3.9"/>
<path d="M345.7 235.5l4.5 0.2-2.1-3.7-4.6-0.2z" fill="#0a6bfa"/>
<path d="M375.2 250.4l4.5-0.2-2.1-3.1-4.6 0.2z" fill="#1327ff"/>
<path d="M379.3 250l-2-2.5"/>
<path d="M437.8 260.8l4.6-1.4-2.3-2.1-4.5 1.4z" fill="#3333ff"/>
<path d="M436 258.8l3.9-1.1"/>
<path d="M441.9 259.4l-2-1.7"/>
<path d="M428 261l4.6-1.2-2.2-2.2-4.6 1.2z" fill="#2d2dff"/>
<path d="M529.2 231.2l4.7-3.2-2.4-1.2-4.7 3.2z" fill="#58d2ff"/>
<path d="M527.2 229.9l4.1-2.7"/>
<path d="M447.6 260.1l4.6-1.5-2.2-2-4.6 1.6z" fill="#3838ff"/>
<path d="M471.2 255.9l4.7-2-2.3-1.7-4.6 2.1z" fill="#4546ff"/>
<path d="M469.4 254.2l3.9-1.6"/>
<path d="M339.7 231.9l4.6 0.3-2.1-3.8-4.6-0.3z" fill="#0981f9"/>
<path d="M343.9 232l-2-3.2"/>
<path d="M595.3 178.2l4.8-4.6-2.6-1-4.8 4.6z" fill="#5eff7f"/>
<path d="M593.1 177l4.2-4"/>
<path d="M599.7 173.8l-2.4-0.8"/>
<path d="M319.8 216.4l4.6 0.7-2.1-4.3-4.6-0.6z" fill="#06e1f6"/>
<path d="M318.1 212.4l3.9 0.8"/>
<path d="M324 216.8l-2-3.6"/>
<path d="M503.1 244.9l4.6-2.7-2.4-1.4-4.6 2.7z" fill="#5280ff"/>
<path d="M402.5 258.5l4.6-0.7-2.1-2.6-4.6 0.7z" fill="#1f1fff"/>
<path d="M381 252.8l4.6-0.3-2.1-3-4.6 0.4z" fill="#1521ff"/>
<path d="M485.1 251.9l4.6-2.3-2.3-1.5-4.6 2.3z" fill="#4b59ff"/>
<path d="M418.2 260.7l4.6-1-2.2-2.3-4.6 1z" fill="#2727ff"/>
<path d="M525.2 233.9l4.7-3.2-2.5-1.2-4.6 3.2z" fill="#57c2ff"/>
<path d="M523.2 232.6l4-2.7"/>
<path d="M305.8 203.4l4.5 0.9-2.2-4.7-4.5-0.8z" fill="#04f4a8"/>
<path d="M303.9 199.1l4 0.9"/>
<path d="M306 203l-2.1-3.9"/>
<path d="M457.4 259l4.6-1.7-2.2-1.8-4.6 1.7z" fill="#3d3dff"/>
<path d="M333.8 228.1l4.6 0.5-2.2-4-4.5-0.4z" fill="#0898f7"/>
<path d="M332 224.4l4 0.6"/>
<path d="M386.9 255l4.6-0.4-2.1-2.8-4.6 0.4z" fill="#171cff"/>
<path d="M385.2 252.4l3.9-0.3"/>
<path d="M499.1 247l4.6-2.6-2.3-1.3-4.6 2.6z" fill="#4f75ff"/>
<path d="M521.2 236.4l4.6-3-2.4-1.2-4.6 3z" fill="#55b3ff"/>
<path d="M519.2 235.1l4-2.5"/>
<path d="M525.4 233.5l-2.2-0.9"/>
<path d="M313.8 211.9l4.6 0.8-2.2-4.4-4.5-0.8z" fill="#05f5e0"/>
<path d="M408.4 260l4.6-0.8-2.2-2.4-4.5 0.8z" fill="#2121ff"/>
<path d="M406.7 257.7l3.9-0.6"/>
<path d="M412.6 259.1l-2-2"/>
<path d="M327.8 224.1l4.6 0.6-2.1-4.1-4.6-0.5z" fill="#07b3f6"/>
<path d="M481.2 253.7l4.6-2.2-2.3-1.5-4.6 2.2z" fill="#4852ff"/>
<path d="M485.4 251.5l-2.1-1.1"/>
<path d="M467.3 257.5l4.6-2-2.2-1.6-4.7 1.9z" fill="#4141ff"/>
<path d="M465.5 255.8l3.9-1.6"/>
<path d="M471.5 255.5l-2.1-1.3"/>
<path d="M392.8 257.1l4.6-0.6-2.2-2.7-4.6 0.5z" fill="#191aff"/>
<path d="M396.9 256.4l-1.9-2.2"/>
<path d="M433.9 261.8l4.6-1.3-2.2-2.1-4.6 1.3z" fill="#2f2fff"/>
<path d="M432.1 259.7l3.9-0.9"/>
<path d="M443.7 261.3l4.6-1.5-2.2-1.9-4.6 1.4z" fill="#3434ff"/>
<path d="M517.2 238.9l4.6-3-2.4-1.2-4.6 3z" fill="#53a5ff"/>
<path d="M515.2 237.6l4-2.5"/>
<path d="M424.1 261.8l4.6-1.1-2.2-2.2-4.6 1.1z" fill="#2929ff"/>
<path d="M428.2 260.6l-2-1.7"/>
<path d="M359.5 244.8l4.6 0.1-2.2-3.4-4.5 0z" fill="#0d42fd"/>
<path d="M363.7 244.7l-2-2.8"/>
<path d="M353.6 241.7l4.6 0.2-2.2-3.5-4.5-0.1z" fill="#0b50fb"/>
<path d="M495.1 249.1l4.7-2.5-2.4-1.4-4.6 2.5z" fill="#4c6bff"/>
<path d="M499.3 246.7l-2.1-1.1"/>
<path d="M365.4 247.7l4.5 0-2.1-3.3-4.6 0.1z" fill="#0f35fe"/>
<path d="M363.7 244.7l3.9 0.1"/>
<path d="M453.5 260.4l4.6-1.7-2.2-1.8-4.6 1.6z" fill="#3939ff"/>
<path d="M457.7 258.7l-2.1-1.5"/>
<path d="M564.1 208l4.8-4-2.6-0.9-4.7 3.9z" fill="#5affff"/>
<path d="M560 211.3l4.7-3.9-2.5-1-4.7 3.9z" fill="#5affff"/>
<path d="M564.3 207.6l-2.3-0.8"/>
<path d="M568.3 204.6l4.7-4-2.5-1-4.8 4z" fill="#5bffff"/>
<path d="M347.7 238.4l4.5 0.3-2.1-3.6-4.6-0.2z" fill="#0a62fa"/>
<path d="M345.9 235.1l4 0.4"/>
<path d="M321.9 220l4.5 0.6-2.1-4.2-4.6-0.6z" fill="#06d1f6"/>
<path d="M326.1 220.3l-2.1-3.5"/>
<path d="M555.9 214.5l4.7-3.8-2.5-1-4.7 3.8z" fill="#59ffff"/>
<path d="M572.4 201.2l4.8-4.1-2.6-1-4.7 4.1z" fill="#5bffec"/>
<path d="M371.2 250.4l4.6-0.2-2.1-3-4.6 0.1z" fill="#102bff"/>
<path d="M551.8 217.6l4.7-3.7-2.5-1-4.7 3.7z" fill="#59ffff"/>
<path d="M398.6 258.9l4.6-0.6-2.1-2.6-4.6 0.6z" fill="#1b1bff"/>
<path d="M307.8 207.2l4.6 0.9-2.2-4.5-4.5-0.9z" fill="#04f4ba"/>
<path d="M308.1 206.9l-2.1-3.9"/>
<path d="M576.6 197.6l4.8-4.2-2.6-0.9-4.8 4.2z" fill="#5bffd8"/>
<path d="M576.8 197.2l-2.4-0.7"/>
<path d="M414.3 261.4l4.6-0.9-2.2-2.4-4.6 0.9z" fill="#2323ff"/>
<path d="M513.2 241.3l4.6-2.9-2.4-1.2-4.6 2.9z" fill="#5198ff"/>
<path d="M511.2 240l4-2.4"/>
<path d="M341.7 235l4.6 0.3-2.1-3.7-4.6-0.3z" fill="#0975f9"/>
<path d="M345.9 235.1l-2-3.1"/>
<path d="M547.7 220.6l4.7-3.6-2.5-1-4.7 3.6z" fill="#58ffff"/>
<path d="M552 217.2l-2.3-0.8"/>
<path d="M477.2 255.5l4.7-2.2-2.3-1.5-4.6 2.1z" fill="#444aff"/>
<path d="M580.8 194l4.8-4.2-2.6-1-4.8 4.3z" fill="#5bffc5"/>
<path d="M377.1 252.9l4.6-0.3-2.1-2.9-4.6 0.2z" fill="#1223ff"/>
<path d="M381.3 252.5l-2-2.5"/>
<path d="M463.4 259l4.6-1.9-2.3-1.7-4.6 1.9z" fill="#3d3dff"/>
<path d="M461.6 257.3l3.9-1.5"/>
<path d="M543.6 223.6l4.7-3.5-2.5-1-4.7 3.5z" fill="#57ffff"/>
<path d="M585 190.4l4.8-4.4-2.6-0.9-4.8 4.3z" fill="#5bffb1"/>
<path d="M335.8 231.3l4.6 0.5-2.1-3.8-4.6-0.5z" fill="#088cf7"/>
<path d="M491.2 251.1l4.6-2.4-2.3-1.4-4.7 2.4z" fill="#4961ff"/>
<path d="M383 255.2l4.6-0.4-2.1-2.8-4.6 0.3z" fill="#141dff"/>
<path d="M381.3 252.5l3.9-0.1"/>
<path d="M315.9 215.6l4.6 0.7-2.2-4.3-4.6-0.7z" fill="#05f1f5"/>
<path d="M314.1 211.6l4 0.8"/>
<path d="M539.5 226.5l4.7-3.4-2.4-1.1-4.7 3.4z" fill="#56f7ff"/>
<path d="M589.2 186.6l4.8-4.4-2.6-1-4.8 4.5z" fill="#5bff9d"/>
<path d="M589.4 186.2l-2.4-0.7"/>
<path d="M509.2 243.6l4.6-2.8-2.3-1.2-4.7 2.8z" fill="#4f8bff"/>
<path d="M507.3 242.3l3.9-2.3"/>
<path d="M513.4 240.9l-2.2-0.9"/>
<path d="M404.5 260.5l4.6-0.7-2.1-2.5-4.6 0.7z" fill="#1e1eff"/>
<path d="M402.8 258.1l3.9-0.4"/>
<path d="M439.8 262.3l4.6-1.3-2.2-2-4.6 1.4z" fill="#3030ff"/>
<path d="M443.9 260.9l-2-1.5"/>
<path d="M430 262.7l4.6-1.2-2.2-2.1-4.6 1.2z" fill="#2b2bff"/>
<path d="M428.2 260.6l3.9-0.9"/>
<path d="M535.5 229.3l4.7-3.3-2.5-1.1-4.7 3.3z" fill="#54e5ff"/>
<path d="M539.7 226.1l-2.2-0.8"/>
<path d="M329.9 227.4l4.5 0.6-2.1-3.9-4.6-0.6z" fill="#07a5f6"/>
<path d="M328.1 223.8l3.9 0.6"/>
<path d="M593.4 182.8l4.8-4.6-2.6-0.9-4.8 4.6z" fill="#5aff89"/>
<path d="M449.6 261.6l4.6-1.6-2.2-1.8-4.6 1.6z" fill="#3535ff"/>
<path d="M388.9 257.3l4.6-0.5-2.2-2.7-4.5 0.4z" fill="#1619ff"/>
<path d="M420.2 262.5l4.6-1-2.2-2.2-4.6 1z" fill="#2525ff"/>
<path d="M473.3 257.1l4.6-2.1-2.3-1.5-4.6 2.1z" fill="#4144ff"/>
<path d="M531.4 232l4.7-3.2-2.4-1.1-4.7 3.3z" fill="#53d4ff"/>
<path d="M505.2 245.8l4.6-2.7-2.3-1.2-4.7 2.7z" fill="#4c80ff"/>
<path d="M503.3 244.5l4-2.2"/>
<path d="M487.2 253l4.6-2.4-2.3-1.3-4.6 2.3z" fill="#4658ff"/>
<path d="M597.7 178.9l4.8-4.6-2.6-0.9-4.8 4.6z" fill="#5aff75"/>
<path d="M602.1 174.5l-2.4-0.7"/>
<path d="M459.5 260.4l4.6-1.8-2.3-1.7-4.6 1.8z" fill="#3a3aff"/>
<path d="M457.7 258.7l3.9-1.4"/>
<path d="M309.9 211l4.5 0.8-2.1-4.4-4.6-0.8z" fill="#04f4cc"/>
<path d="M310.1 210.6l-2-3.7"/>
<path d="M323.9 223.4l4.6 0.6-2.2-4-4.5-0.7z" fill="#06c1f5"/>
<path d="M328.1 223.8l-2-3.5"/>
<path d="M410.4 261.9l4.6-0.8-2.2-2.3-4.6 0.8z" fill="#2020ff"/>
<path d="M414.6 261l-2-1.9"/>
<path d="M527.4 234.7l4.7-3.2-2.5-1.1-4.6 3.2z" fill="#51c4ff"/>
<path d="M355.5 244.5l4.6 0.2-2.1-3.4-4.6-0.1z" fill="#0b49fb"/>
<path d="M394.7 259.2l4.6-0.5-2.1-2.6-4.6 0.5z" fill="#1818ff"/>
<path d="M398.9 258.5l-2-2.1"/>
<path d="M361.4 247.5l4.6 0-2.1-3.2-4.6-0.1z" fill="#0d3bfc"/>
<path d="M359.7 244.4l4 0.3"/>
<path d="M365.6 247.3l-1.9-2.6"/>
<path d="M349.6 241.3l4.6 0.3-2.1-3.5-4.6-0.2z" fill="#0a59fa"/>
<path d="M367.3 250.2l4.6 0-2.1-3.1-4.6 0z" fill="#0e30fe"/>
<path d="M343.7 238l4.6 0.3-2.1-3.6-4.6-0.3z" fill="#096bf8"/>
<path d="M342 234.6l3.9 0.5"/>
<path d="M347.9 238.1l-2-3"/>
<path d="M501.2 248l4.7-2.6-2.4-1.3-4.6 2.6z" fill="#4a75ff"/>
<path d="M499.3 246.7l4-2.2"/>
<path d="M373.2 252.8l4.6-0.1-2.1-3-4.6 0.1z" fill="#1026ff"/>
<path d="M435.9 263.3l4.6-1.3-2.2-1.9-4.6 1.3z" fill="#2c2cff"/>
<path d="M523.4 237.2l4.6-3.1-2.4-1-4.6 3z" fill="#50b5ff"/>
<path d="M527.6 234.3l-2.2-0.8"/>
<path d="M469.4 258.7l4.6-2-2.3-1.5-4.6 1.9z" fill="#3d3eff"/>
<path d="M473.5 256.7l-2-1.2"/>
<path d="M483.3 254.8l4.6-2.3-2.3-1.3-4.6 2.2z" fill="#4350ff"/>
<path d="M487.4 252.6l-2-1.1"/>
<path d="M317.9 219.1l4.6 0.7-2.1-4.1-4.6-0.8z" fill="#05e0f5"/>
<path d="M445.7 262.7l4.6-1.5-2.2-1.8-4.6 1.5z" fill="#3131ff"/>
<path d="M426.1 263.5l4.6-1.1-2.2-2.1-4.6 1.1z" fill="#2727ff"/>
<path d="M424.3 261.4l3.9-0.8"/>
<path d="M430.2 262.3l-2-1.7"/>
<path d="M337.8 234.4l4.6 0.4-2.1-3.6-4.6-0.5z" fill="#0881f7"/>
<path d="M400.6 260.9l4.6-0.6-2.1-2.5-4.6 0.6z" fill="#1a1aff"/>
<path d="M398.9 258.5l3.9-0.4"/>
<path d="M379.1 255.2l4.6-0.2-2.1-2.9-4.6 0.3z" fill="#121fff"/>
<path d="M377.4 252.5l3.9 0"/>
<path d="M383.3 254.8l-2-2.3"/>
<path d="M455.5 261.7l4.7-1.7-2.3-1.7-4.6 1.7z" fill="#3636ff"/>
<path d="M453.8 260l3.9-1.3"/>
<path d="M459.7 260l-2-1.3"/>
<path d="M519.3 239.7l4.7-3-2.4-1.1-4.6 3z" fill="#4ea7ff"/>
<path d="M416.3 263.2l4.6-0.9-2.2-2.3-4.6 0.9z" fill="#2222ff"/>
<path d="M331.8 230.6l4.6 0.6-2.1-3.8-4.6-0.6z" fill="#0798f6"/>
<path d="M497.2 250.1l4.7-2.6-2.3-1.2-4.7 2.5z" fill="#476aff"/>
<path d="M495.4 248.7l3.9-2"/>
<path d="M501.4 247.6l-2.1-0.9"/>
<path d="M566.4 208.6l4.8-3.9-2.6-0.9-4.7 3.9z" fill="#55ffff"/>
<path d="M385 257.4l4.6-0.3-2.1-2.8-4.6 0.4z" fill="#141aff"/>
<path d="M562.3 211.9l4.7-3.9-2.5-0.8-4.7 3.8z" fill="#55ffff"/>
<path d="M566.6 208.2l-2.3-0.6"/>
<path d="M570.6 205.2l4.7-4-2.5-0.9-4.8 4.1z" fill="#56fff4"/>
<path d="M311.9 214.6l4.6 0.9-2.1-4.3-4.6-0.9z" fill="#04f4e0"/>
<path d="M310.1 210.6l4 1"/>
<path d="M312.2 214.3l-2.1-3.7"/>
<path d="M558.1 215.1l4.8-3.8-2.5-0.9-4.8 3.8z" fill="#54ffff"/>
<path d="M574.7 201.8l4.8-4.1-2.6-0.9-4.7 4.1z" fill="#56ffe0"/>
<path d="M479.3 256.5l4.6-2.1-2.2-1.4-4.7 2.1z" fill="#4049ff"/>
<path d="M554 218.2l4.8-3.7-2.5-0.8-4.8 3.7z" fill="#53ffff"/>
<path d="M578.9 198.3l4.8-4.3-2.6-0.8-4.7 4.2z" fill="#56ffcd"/>
<path d="M579.1 197.8l-2.3-0.6"/>
<path d="M515.3 242.1l4.7-2.9-2.4-1.1-4.6 2.9z" fill="#4c99ff"/>
<path d="M465.4 260.2l4.7-1.9-2.3-1.6-4.6 1.9z" fill="#3a3aff"/>
<path d="M325.9 226.7l4.6 0.6-2.1-3.9-4.6-0.6z" fill="#06b3f5"/>
<path d="M324.2 223l3.9 0.8"/>
<path d="M330.1 227.1l-2-3.3"/>
<path d="M406.5 262.4l4.6-0.7-2.1-2.4-4.6 0.7z" fill="#1c1cff"/>
<path d="M549.9 221.3l4.7-3.6-2.4-0.9-4.7 3.6z" fill="#53ffff"/>
<path d="M554.2 217.8l-2.2-0.6"/>
<path d="M583.1 194.7l4.8-4.3-2.6-0.9-4.8 4.3z" fill="#56ffb9"/>
<path d="M390.8 259.4l4.7-0.4-2.2-2.6-4.6 0.4z" fill="#1617ff"/>
<path d="M545.8 224.3l4.7-3.6-2.4-0.9-4.7 3.6z" fill="#52ffff"/>
<path d="M493.3 252l4.6-2.4-2.3-1.3-4.6 2.5z" fill="#4461ff"/>
<path d="M491.4 250.7l4-2"/>
<path d="M432 264.2l4.6-1.2-2.2-1.9-4.6 1.2z" fill="#2929ff"/>
<path d="M587.3 191l4.8-4.4-2.6-0.8-4.8 4.3z" fill="#56ffa6"/>
<path d="M441.8 263.8l4.6-1.4-2.2-1.8-4.6 1.4z" fill="#2e2eff"/>
<path d="M446 262.4l-2.1-1.5"/>
<path d="M422.2 264.2l4.6-1-2.2-2.1-4.6 1z" fill="#2323ff"/>
<path d="M420.4 262.2l3.9-0.8"/>
<path d="M511.3 244.4l4.7-2.8-2.4-1.1-4.6 2.8z" fill="#4a8dff"/>
<path d="M515.6 241.7l-2.2-0.8"/>
<path d="M541.8 227.2l4.7-3.5-2.5-0.9-4.7 3.4z" fill="#50faff"/>
<path d="M357.5 247.2l4.6 0.1-2.1-3.2-4.6-0.2z" fill="#0b42fb"/>
<path d="M355.8 244.1l3.9 0.3"/>
<path d="M591.6 187.2l4.8-4.5-2.6-0.8-4.8 4.5z" fill="#56ff92"/>
<path d="M591.7 186.8l-2.3-0.6"/>
<path d="M451.6 262.9l4.7-1.6-2.3-1.7-4.6 1.6z" fill="#3232ff"/>
<path d="M449.9 261.2l3.9-1.2"/>
<path d="M351.6 244.1l4.6 0.3-2.1-3.4-4.6-0.2z" fill="#0a51f9"/>
<path d="M319.9 222.5l4.6 0.8-2.1-4.1-4.6-0.7z" fill="#05d0f5"/>
<path d="M363.4 250l4.6 0.1-2.1-3.1-4.6-0.1z" fill="#0c35fc"/>
<path d="M367.6 249.9l-2-2.6"/>
<path d="M345.7 240.8l4.6 0.4-2.1-3.5-4.6-0.3z" fill="#0962f8"/>
<path d="M349.9 241l-2-2.9"/>
<path d="M537.7 230l4.7-3.4-2.5-0.9-4.6 3.3z" fill="#4fe8ff"/>
<path d="M542 226.8l-2.3-0.7"/>
<path d="M369.3 252.7l4.6 0-2.1-3-4.6 0z" fill="#0e2bfe"/>
<path d="M475.4 258.2l4.6-2.1-2.3-1.4-4.6 2.1z" fill="#3d42ff"/>
<path d="M595.8 183.4l4.8-4.6-2.6-0.8-4.8 4.6z" fill="#56ff7f"/>
<path d="M396.7 261.2l4.6-0.5-2.1-2.5-4.6 0.5z" fill="#1717ff"/>
<path d="M395 258.8l3.9-0.3"/>
<path d="M400.9 260.5l-2-2"/>
<path d="M339.8 237.4l4.6 0.4-2.1-3.5-4.6-0.5z" fill="#0876f7"/>
<path d="M338.1 234l3.9 0.6"/>
<path d="M412.4 263.7l4.6-0.8-2.2-2.2-4.6 0.8z" fill="#1e1eff"/>
<path d="M416.5 262.8l-1.9-1.8"/>
<path d="M461.5 261.6l4.6-1.8-2.2-1.6-4.6 1.8z" fill="#3636ff"/>
<path d="M489.3 253.9l4.7-2.3-2.4-1.3-4.6 2.4z" fill="#4258ff"/>
<path d="M487.4 252.6l4-1.9"/>
<path d="M375.2 255.2l4.6-0.2-2.1-2.8-4.6 0.1z" fill="#1023ff"/>
<path d="M373.5 252.5l3.9 0"/>
<path d="M507.3 246.7l4.7-2.8-2.4-1.1-4.6 2.7z" fill="#4781ff"/>
<path d="M533.6 232.7l4.7-3.3-2.4-0.9-4.7 3.3z" fill="#4ed7ff"/>
<path d="M600.1 179.4l4.8-4.6-2.6-0.8-4.9 4.6z" fill="#56ff6b"/>
<path d="M604.5 175l-2.4-0.5"/>
<path d="M333.8 233.7l4.6 0.6-2-3.7-4.7-0.6z" fill="#078df6"/>
<path d="M313.9 218.2l4.6 0.8-2.1-4.2-4.6-0.8z" fill="#04f1f4"/>
<path d="M314.2 217.8l-2-3.5"/>
<path d="M381 257.4l4.7-0.2-2.1-2.7-4.6 0.2z" fill="#111cff"/>
<path d="M385.2 257l-1.9-2.2"/>
<path d="M529.6 235.4l4.7-3.2-2.4-1-4.7 3.2z" fill="#4cc7ff"/>
<path d="M437.9 264.8l4.6-1.3-2.2-1.9-4.6 1.3z" fill="#2a2aff"/>
<path d="M428.1 265l4.6-1.1-2.2-2-4.6 1.2z" fill="#2525ff"/>
<path d="M432.2 263.9l-2-1.6"/>
<path d="M402.6 262.8l4.6-0.6-2.1-2.4-4.6 0.6z" fill="#1919ff"/>
<path d="M327.9 229.9l4.6 0.6-2.1-3.8-4.6-0.6z" fill="#06a6f5"/>
<path d="M332.1 230.3l-2-3.2"/>
<path d="M447.7 264l4.6-1.4-2.2-1.7-4.6 1.4z" fill="#2e2eff"/>
<path d="M446 262.4l3.9-1.2"/>
<path d="M503.3 248.8l4.7-2.6-2.3-1.1-4.7 2.6z" fill="#4576ff"/>
<path d="M471.4 259.8l4.7-2-2.3-1.4-4.6 1.9z" fill="#393cff"/>
<path d="M475.6 257.8l-2.1-1.1"/>
<path d="M485.3 255.8l4.7-2.3-2.3-1.3-4.6 2.3z" fill="#3f50ff"/>
<path d="M483.5 254.4l3.9-1.8"/>
<path d="M489.5 253.6l-2.1-1"/>
<path d="M525.5 237.9l4.7-3.1-2.4-0.9-4.7 3.1z" fill="#4bb8ff"/>
<path d="M529.8 235l-2.2-0.7"/>
<path d="M418.2 264.8l4.7-0.9-2.2-2.1-4.6 0.9z" fill="#2020ff"/>
<path d="M416.5 262.8l3.9-0.6"/>
<path d="M386.9 259.5l4.6-0.3-2.1-2.6-4.6 0.3z" fill="#1318ff"/>
<path d="M457.6 262.9l4.6-1.7-2.2-1.6-4.6 1.7z" fill="#3232ff"/>
<path d="M461.8 261.2l-2.1-1.2"/>
<path d="M321.9 225.8l4.6 0.8-2.1-3.9-4.6-0.8z" fill="#05c2f5"/>
<path d="M320.2 222.2l4 0.8"/>
<path d="M521.5 240.4l4.7-3-2.4-1-4.7 3z" fill="#49a9ff"/>
<path d="M499.4 250.9l4.6-2.6-2.3-1.1-4.7 2.6z" fill="#426bff"/>
<path d="M503.6 248.4l-2.2-0.8"/>
<path d="M408.5 264.2l4.6-0.7-2.1-2.3-4.7 0.7z" fill="#1b1bff"/>
<path d="M353.6 246.8l4.6 0.2-2.1-3.2-4.6-0.3z" fill="#0a4af9"/>
<path d="M351.9 243.8l3.9 0.3"/>
<path d="M359.5 249.7l4.6 0.2-2.1-3.1-4.6-0.2z" fill="#0b3cfb"/>
<path d="M392.8 261.4l4.6-0.4-2.1-2.5-4.6 0.4z" fill="#1516ff"/>
<path d="M391.1 259l3.9-0.2"/>
<path d="M347.7 243.6l4.6 0.4-2.1-3.4-4.6-0.3z" fill="#085af8"/>
<path d="M351.9 243.8l-2-2.8"/>
<path d="M365.4 252.5l4.6 0-2.1-2.9-4.6-0.1z" fill="#0c30fc"/>
<path d="M369.6 252.3l-2-2.4"/>
<path d="M568.7 209.1l4.8-3.9-2.6-0.8-4.7 4z" fill="#50fffa"/>
<path d="M566.6 208.2l4.1-3.4"/>
<path d="M481.4 257.5l4.6-2.2-2.2-1.2-4.7 2.1z" fill="#3b49ff"/>
<path d="M479.6 256.2l3.9-1.8"/>
<path d="M564.6 212.4l4.7-3.9-2.5-0.7-4.8 3.9z" fill="#50ffff"/>
<path d="M562.5 211.5l4.1-3.3"/>
<path d="M568.9 208.7l-2.3-0.5"/>
<path d="M572.9 205.8l4.8-4.1-2.6-0.7-4.8 4z" fill="#51ffe7"/>
<path d="M570.7 204.8l4.2-3.4"/>
<path d="M341.7 240.3l4.7 0.4-2.1-3.4-4.6-0.5z" fill="#076df7"/>
<path d="M467.5 261.2l4.6-1.8-2.2-1.5-4.7 1.9z" fill="#3637ff"/>
<path d="M560.4 215.7l4.8-3.8-2.5-0.8-4.8 3.8z" fill="#4fffff"/>
<path d="M558.3 214.7l4.2-3.2"/>
<path d="M577.1 202.3l4.7-4.1-2.5-0.8-4.8 4.2z" fill="#51ffd3"/>
<path d="M574.9 201.4l4.2-3.6"/>
<path d="M315.9 221.6l4.6 0.8-2.1-4-4.6-0.9z" fill="#04e1f4"/>
<path d="M316.2 221.2l-2-3.4"/>
<path d="M434 265.7l4.6-1.2-2.2-1.9-4.6 1.2z" fill="#2626ff"/>
<path d="M517.5 242.8l4.7-2.9-2.4-1-4.7 2.9z" fill="#479bff"/>
<path d="M556.3 218.8l4.7-3.7-2.5-0.8-4.7 3.7z" fill="#4effff"/>
<path d="M554.2 217.8l4.1-3.1"/>
<path d="M581.2 198.8l4.8-4.3-2.5-0.7-4.8 4.2z" fill="#51ffc0"/>
<path d="M579.1 197.8l4.2-3.6"/>
<path d="M581.4 198.3l-2.3-0.5"/>
<path d="M371.2 255l4.7 0-2.1-2.9-4.6 0.1z" fill="#0e27fd"/>
<path d="M369.6 252.3l3.9 0.2"/>
<path d="M443.8 265.1l4.6-1.4-2.2-1.7-4.6 1.4z" fill="#2b2bff"/>
<path d="M442.1 263.4l3.9-1"/>
<path d="M448 263.7l-2-1.3"/>
<path d="M335.8 236.7l4.6 0.6-2-3.6-4.7-0.5z" fill="#0682f6"/>
<path d="M334.1 233.4l4 0.6"/>
<path d="M424.1 265.7l4.7-1-2.2-1.9-4.6 1z" fill="#2121ff"/>
<path d="M552.2 221.8l4.7-3.6-2.5-0.8-4.7 3.7z" fill="#4dffff"/>
<path d="M550.1 220.9l4.1-3.1"/>
<path d="M556.5 218.4l-2.3-0.6"/>
<path d="M585.5 195.1l4.8-4.3-2.6-0.7-4.8 4.3z" fill="#51ffad"/>
<path d="M583.3 194.2l4.2-3.7"/>
<path d="M495.4 252.9l4.6-2.5-2.3-1.1-4.6 2.4z" fill="#4062ff"/>
<path d="M398.7 263.1l4.6-0.5-2.1-2.4-4.6 0.5z" fill="#1616ff"/>
<path d="M402.9 262.4l-2-1.9"/>
<path d="M453.7 264.1l4.6-1.6-2.2-1.6-4.7 1.6z" fill="#2f2fff"/>
<path d="M548.1 224.8l4.7-3.5-2.5-0.8-4.7 3.5z" fill="#4cffff"/>
<path d="M546 223.9l4.1-3"/>
<path d="M377.1 257.4l4.7-0.1-2.1-2.8-4.7 0.2z" fill="#0f1fff"/>
<path d="M589.7 191.5l4.8-4.4-2.6-0.7-4.8 4.4z" fill="#52ff9a"/>
<path d="M587.5 190.5l4.2-3.7"/>
<path d="M329.9 233l4.6 0.6-2.1-3.7-4.6-0.6z" fill="#069af5"/>
<path d="M334.1 233.4l-2-3.1"/>
<path d="M414.3 265.4l4.7-0.8-2.2-2.1-4.6 0.8z" fill="#1d1dff"/>
<path d="M412.6 263.4l3.9-0.6"/>
<path d="M418.5 264.5l-2-1.7"/>
<path d="M513.5 245.1l4.7-2.8-2.4-1-4.7 2.9z" fill="#458fff"/>
<path d="M517.7 242.4l-2.1-0.7"/>
<path d="M544 227.7l4.7-3.4-2.4-0.8-4.8 3.4z" fill="#4bffff"/>
<path d="M542 226.8l4-2.9"/>
<path d="M593.9 187.7l4.9-4.5-2.7-0.7-4.8 4.5z" fill="#52ff87"/>
<path d="M591.7 186.8l4.3-3.9"/>
<path d="M594.1 187.3l-2.4-0.5"/>
<path d="M477.4 259.2l4.7-2.1-2.3-1.3-4.6 2.1z" fill="#3842ff"/>
<path d="M475.6 257.8l4-1.6"/>
<path d="M383 259.6l4.6-0.3-2.1-2.6-4.6 0.2z" fill="#111aff"/>
<path d="M387.2 259.2l-2-2.2"/>
<path d="M539.9 230.5l4.7-3.3-2.4-0.8-4.7 3.3z" fill="#4aecff"/>
<path d="M537.9 229.6l4.1-2.8"/>
<path d="M544.2 227.3l-2.2-0.5"/>
<path d="M463.5 262.6l4.7-1.7-2.2-1.5-4.7 1.8z" fill="#3232ff"/>
<path d="M598.2 183.8l4.8-4.5-2.6-0.7-4.8 4.5z" fill="#51ff73"/>
<path d="M596 182.9l4.2-3.9"/>
<path d="M323.9 229.1l4.6 0.7-2.1-3.8-4.6-0.8z" fill="#05b5f5"/>
<path d="M491.4 254.8l4.7-2.4-2.3-1.1-4.7 2.3z" fill="#3d59ff"/>
<path d="M509.5 247.4l4.6-2.8-2.3-0.9-4.7 2.7z" fill="#4283ff"/>
<path d="M404.5 264.6l4.7-0.7-2.1-2.2-4.7 0.6z" fill="#1818ff"/>
<path d="M535.8 233.3l4.7-3.3-2.4-0.8-4.7 3.3z" fill="#49dbff"/>
<path d="M533.8 232.3l4.1-2.7"/>
<path d="M602.5 179.9l4.8-4.6-2.6-0.7-4.9 4.6z" fill="#51ff60"/>
<path d="M600.2 179l4.3-4"/>
<path d="M606.9 175.5l-2.4-0.5"/>
<path d="M439.9 266.1l4.6-1.3-2.2-1.7-4.6 1.3z" fill="#2727ff"/>
<path d="M438.1 264.4l4-1"/>
<path d="M430 266.5l4.7-1.1-2.2-1.9-4.6 1.1z" fill="#2323ff"/>
<path d="M434.2 265.3l-2-1.4"/>
<path d="M388.9 261.5l4.6-0.3-2.1-2.5-4.6 0.3z" fill="#1216ff"/>
<path d="M387.2 259.2l3.9-0.2"/>
<path d="M449.7 265.3l4.7-1.5-2.2-1.6-4.7 1.5z" fill="#2b2bff"/>
<path d="M317.9 224.9l4.7 0.8-2.1-3.9-4.7-0.8z" fill="#04d2f4"/>
<path d="M316.2 221.2l4 1"/>
<path d="M318.2 224.6l-2-3.4"/>
<path d="M420.2 266.4l4.7-0.9-2.2-2-4.6 0.9z" fill="#1e1eff"/>
<path d="M531.8 235.9l4.7-3.2-2.4-0.8-4.7 3.2z" fill="#47cbff"/>
<path d="M529.8 235l4-2.7"/>
<path d="M355.5 249.3l4.7 0.3-2.1-3.1-4.6-0.3z" fill="#0944f9"/>
<path d="M349.6 246.3l4.7 0.3-2.1-3.2-4.6-0.3z" fill="#0853f8"/>
<path d="M348 243.3l3.9 0.5"/>
<path d="M353.9 246.4l-2-2.6"/>
<path d="M473.5 260.7l4.6-2-2.2-1.2-4.7 1.9z" fill="#353bff"/>
<path d="M471.7 259.4l3.9-1.6"/>
<path d="M477.7 258.8l-2.1-1"/>
<path d="M361.4 252.2l4.7 0.1-2.1-3-4.6-0.1z" fill="#0b37fa"/>
<path d="M343.7 243.1l4.6 0.4-2-3.3-4.7-0.5z" fill="#0765f7"/>
<path d="M505.5 249.5l4.6-2.6-2.3-1-4.7 2.6z" fill="#4078ff"/>
<path d="M487.4 256.6l4.7-2.3-2.3-1.1-4.7 2.3z" fill="#3a51ff"/>
<path d="M491.7 254.4l-2.2-0.8"/>
<path d="M367.3 254.8l4.7 0.1-2.1-2.9-4.7 0z" fill="#0c2cfc"/>
<path d="M365.7 252.1l3.9 0.2"/>
<path d="M371.5 254.7l-1.9-2.4"/>
<path d="M337.8 239.6l4.6 0.6-2-3.5-4.7-0.5z" fill="#0679f6"/>
<path d="M459.6 264l4.7-1.7-2.3-1.5-4.6 1.7z" fill="#2f2fff"/>
<path d="M463.8 262.3l-2-1.1"/>
<path d="M527.7 238.5l4.7-3.1-2.4-0.8-4.7 3.1z" fill="#45bbff"/>
<path d="M525.8 237.5l4-2.5"/>
<path d="M532 235.5l-2.2-0.5"/>
<path d="M394.7 263.3l4.7-0.4-2.1-2.4-4.6 0.4z" fill="#1414ff"/>
<path d="M410.4 265.9l4.7-0.8-2.2-2.1-4.6 0.7z" fill="#1a1aff"/>
<path d="M408.7 263.8l3.9-0.4"/>
<path d="M373.2 257.3l4.6-0.1-2-2.7-4.7 0z" fill="#0d24fd"/>
<path d="M331.8 236l4.7 0.6-2.1-3.6-4.6-0.6z" fill="#068ff5"/>
<path d="M330.2 232.6l3.9 0.8"/>
<path d="M336.1 236.4l-2-3"/>
<path d="M501.5 251.6l4.7-2.5-2.4-1-4.6 2.5z" fill="#3e6dff"/>
<path d="M505.7 249.2l-2.1-0.8"/>
<path d="M523.7 241l4.7-3-2.4-0.9-4.7 3z" fill="#44adff"/>
<path d="M521.7 240l4.1-2.5"/>
<path d="M435.9 267l4.7-1.2-2.2-1.7-4.6 1.2z" fill="#2424ff"/>
<path d="M434.2 265.3l3.9-0.9"/>
<path d="M379.1 259.5l4.6-0.1-2.1-2.6-4.6 0.1z" fill="#0f1dfe"/>
<path d="M469.5 262.2l4.7-1.9-2.2-1.3-4.7 1.9z" fill="#3236ff"/>
<path d="M467.7 260.9l4-1.5"/>
<path d="M325.9 232.2l4.6 0.7-2-3.7-4.7-0.7z" fill="#05a8f4"/>
<path d="M483.5 258.4l4.6-2.2-2.2-1.2-4.7 2.2z" fill="#3749ff"/>
<path d="M426.1 267.2l4.7-1-2.2-1.9-4.6 1z" fill="#2020ff"/>
<path d="M445.8 266.3l4.7-1.4-2.2-1.6-4.7 1.4z" fill="#2828ff"/>
<path d="M450 264.9l-2-1.2"/>
<path d="M400.6 264.9l4.7-0.6-2.1-2.2-4.7 0.5z" fill="#1515ff"/>
<path d="M404.8 264.2l-1.9-1.8"/>
<path d="M571 209.5l4.8-3.9-2.5-0.7-4.8 4z" fill="#4bffec"/>
<path d="M566.9 212.8l4.7-3.8-2.5-0.7-4.8 3.9z" fill="#4bffff"/>
<path d="M571.2 209.1l-2.3-0.4"/>
<path d="M575.2 206.2l4.8-4.1-2.6-0.6-4.7 4z" fill="#4cffd9"/>
<path d="M562.7 216.1l4.8-3.8-2.5-0.7-4.8 3.8z" fill="#4affff"/>
<path d="M579.4 202.7l4.8-4.2-2.6-0.6-4.8 4.2z" fill="#4cffc6"/>
<path d="M519.7 243.4l4.7-2.9-2.4-0.9-4.7 3z" fill="#429fff"/>
<path d="M517.7 242.4l4-2.4"/>
<path d="M416.3 267l4.7-0.9-2.2-2-4.6 0.9z" fill="#1b1bff"/>
<path d="M420.5 266.1l-2-1.6"/>
<path d="M558.6 219.2l4.7-3.7-2.5-0.7-4.7 3.8z" fill="#49ffff"/>
<path d="M583.6 199.2l4.8-4.3-2.6-0.6-4.8 4.2z" fill="#4dffb3"/>
<path d="M583.8 198.7l-2.4-0.4"/>
<path d="M384.9 261.6l4.7-0.3-2.1-2.5-4.6 0.3z" fill="#1018ff"/>
<path d="M383.3 259.2l3.9 0"/>
<path d="M389.2 261.2l-2-2"/>
<path d="M455.7 265.2l4.6-1.6-2.2-1.4-4.6 1.6z" fill="#2c2cff"/>
<path d="M497.5 253.6l4.7-2.5-2.4-1-4.6 2.5z" fill="#3b63ff"/>
<path d="M319.9 228.1l4.7 0.9-2.1-3.9-4.7-0.8z" fill="#04c4f4"/>
<path d="M320.2 227.8l-2-3.2"/>
<path d="M554.4 222.3l4.8-3.7-2.5-0.6-4.7 3.6z" fill="#48ffff"/>
<path d="M558.8 218.8l-2.3-0.4"/>
<path d="M587.8 195.5l4.8-4.3-2.5-0.6-4.9 4.3z" fill="#4dffa0"/>
<path d="M550.3 225.3l4.8-3.6-2.5-0.6-4.7 3.5z" fill="#47ffff"/>
<path d="M592.1 191.8l4.8-4.4-2.6-0.5-4.8 4.3z" fill="#4dff8d"/>
<path d="M515.6 245.7l4.7-2.8-2.3-0.9-4.7 2.9z" fill="#4092ff"/>
<path d="M513.7 244.8l4-2.4"/>
<path d="M519.9 243l-2.2-0.6"/>
<path d="M479.5 260l4.7-2.1-2.3-1.1-4.7 2.1z" fill="#3442ff"/>
<path d="M406.5 266.2l4.7-0.6-2.1-2.1-4.7 0.6z" fill="#1717ff"/>
<path d="M404.8 264.2l3.9-0.4"/>
<path d="M351.6 248.9l4.6 0.3-2-3.1-4.7-0.4z" fill="#084df8"/>
<path d="M355.8 249l-1.9-2.6"/>
<path d="M546.2 228.2l4.8-3.5-2.5-0.7-4.7 3.5z" fill="#46ffff"/>
<path d="M596.3 188l4.9-4.4-2.7-0.6-4.8 4.5z" fill="#4dff7a"/>
<path d="M596.5 187.6l-2.4-0.3"/>
<path d="M357.5 251.8l4.6 0.2-2-2.9-4.7-0.3z" fill="#093ff9"/>
<path d="M345.7 245.7l4.6 0.5-2-3.3-4.7-0.4z" fill="#075df7"/>
<path d="M344 242.7l4 0.6"/>
<path d="M390.8 263.4l4.7-0.3-2.1-2.4-4.7 0.4z" fill="#1115ff"/>
<path d="M465.6 263.6l4.7-1.8-2.3-1.3-4.6 1.8z" fill="#2f31ff"/>
<path d="M463.8 262.3l3.9-1.4"/>
<path d="M363.4 254.5l4.6 0.2-2-2.9-4.7-0.1z" fill="#0a33fa"/>
<path d="M361.7 251.8l4 0.3"/>
<path d="M339.7 242.4l4.7 0.5-2.1-3.3-4.6-0.5z" fill="#0670f6"/>
<path d="M542.1 231l4.8-3.4-2.5-0.7-4.7 3.4z" fill="#45f2ff"/>
<path d="M546.4 227.8l-2.2-0.5"/>
<path d="M493.5 255.5l4.7-2.3-2.3-1.1-4.7 2.4z" fill="#385aff"/>
<path d="M432 267.8l4.7-1.1-2.2-1.7-4.6 1.1z" fill="#2121ff"/>
<path d="M430.3 266.1l3.9-0.8"/>
<path d="M436.2 266.7l-2-1.4"/>
<path d="M600.6 184.2l4.9-4.6-2.7-0.5-4.8 4.5z" fill="#4dff67"/>
<path d="M441.9 267.3l4.6-1.3-2.1-1.6-4.7 1.3z" fill="#2525ff"/>
<path d="M369.2 257l4.7 0.1-2-2.7-4.7-0.1z" fill="#0b29fb"/>
<path d="M373.5 256.9l-2-2.2"/>
<path d="M333.8 238.9l4.7 0.6-2.1-3.4-4.6-0.7z" fill="#0586f5"/>
<path d="M338.1 239.3l-2-2.9"/>
<path d="M511.6 248l4.7-2.8-2.3-0.8-4.7 2.7z" fill="#3e86ff"/>
<path d="M509.7 247l4-2.2"/>
<path d="M422.2 267.8l4.7-0.9-2.2-1.8-4.6 0.9z" fill="#1c1cff"/>
<path d="M538.1 233.7l4.7-3.3-2.5-0.6-4.7 3.2z" fill="#44e0ff"/>
<path d="M451.7 266.4l4.7-1.5-2.2-1.5-4.6 1.5z" fill="#2828ff"/>
<path d="M604.9 180.3l4.9-4.7-2.7-0.5-4.9 4.6z" fill="#4dff54"/>
<path d="M609.4 175.8l-2.5-0.3"/>
<path d="M396.7 265.1l4.7-0.4-2.1-2.3-4.7 0.4z" fill="#1313ff"/>
<path d="M375.1 259.4l4.7-0.1-2.1-2.6-4.6 0.1z" fill="#0d21fc"/>
<path d="M327.9 235.2l4.6 0.7-2-3.6-4.7-0.7z" fill="#059df4"/>
<path d="M326.2 231.8l4 0.8"/>
<path d="M475.5 261.6l4.7-2-2.2-1.2-4.7 2z" fill="#313cff"/>
<path d="M479.8 259.7l-2.1-0.9"/>
<path d="M412.4 267.4l4.6-0.7-2.1-2-4.6 0.7z" fill="#1818ff"/>
<path d="M534 236.4l4.7-3.2-2.4-0.7-4.7 3.2z" fill="#42d0ff"/>
<path d="M507.6 250.1l4.7-2.6-2.3-0.9-4.7 2.7z" fill="#3b7bff"/>
<path d="M505.7 249.2l4-2.2"/>
<path d="M489.5 257.4l4.7-2.3-2.3-1-4.7 2.2z" fill="#3652ff"/>
<path d="M493.8 255.2l-2.1-0.8"/>
<path d="M461.6 265l4.7-1.7-2.2-1.4-4.7 1.7z" fill="#2c2cff"/>
<path d="M459.9 263.6l3.9-1.3"/>
<path d="M465.9 263.3l-2.1-1"/>
<path d="M381 261.5l4.7-0.1-2.1-2.5-4.6 0.1z" fill="#0e1bfe"/>
<path d="M379.4 259.2l3.9 0"/>
<path d="M321.9 231.2l4.7 0.9-2.1-3.7-4.7-0.9z" fill="#04b8f4"/>
<path d="M322.2 230.9l-2-3.1"/>
<path d="M529.9 239l4.7-3.1-2.4-0.7-4.7 3.1z" fill="#40c0ff"/>
<path d="M534.2 236l-2.2-0.5"/>
<path d="M402.6 266.6l4.6-0.6-2-2.1-4.7 0.5z" fill="#1414ff"/>
<path d="M400.9 264.5l3.9-0.3"/>
<path d="M406.8 265.9l-2-1.7"/>
<path d="M437.9 268.2l4.7-1.2-2.1-1.6-4.7 1.2z" fill="#2121ff"/>
<path d="M428.1 268.5l4.7-1-2.2-1.7-4.6 1z" fill="#1e1eff"/>
<path d="M426.4 266.9l3.9-0.8"/>
<path d="M503.6 252.2l4.7-2.5-2.3-0.9-4.7 2.5z" fill="#3970ff"/>
<path d="M501.7 251.2l4-2"/>
<path d="M507.9 249.8l-2.2-0.6"/>
<path d="M386.9 263.5l4.7-0.3-2.1-2.3-4.7 0.2z" fill="#0f17ff"/>
<path d="M391.1 263.1l-1.9-1.9"/>
<path d="M447.8 267.4l4.7-1.4-2.2-1.4-4.7 1.4z" fill="#2525ff"/>
<path d="M452 266l-2-1.1"/>
<path d="M525.9 241.5l4.7-3-2.4-0.8-4.7 3z" fill="#3fb1ff"/>
<path d="M471.6 263.1l4.7-1.9-2.3-1.2-4.6 1.9z" fill="#2e36ff"/>
<path d="M418.3 268.4l4.6-0.8-2.1-1.9-4.6 0.8z" fill="#1919ff"/>
<path d="M422.5 267.5l-2-1.4"/>
<path d="M485.5 259.1l4.7-2.2-2.2-1-4.7 2.2z" fill="#334aff"/>
<path d="M347.6 248.3l4.7 0.4-2.1-3.1-4.6-0.4z" fill="#0757f7"/>
<path d="M353.5 251.3l4.7 0.4-2.1-3-4.6-0.4z" fill="#0848f7"/>
<path d="M357.8 251.5l-2-2.5"/>
<path d="M341.7 245.1l4.7 0.5-2.1-3.2-4.6-0.5z" fill="#0669f6"/>
<path d="M340 242.1l4 0.6"/>
<path d="M359.4 254.1l4.7 0.3-2.1-2.9-4.6-0.2z" fill="#093af8"/>
<path d="M357.8 251.5l3.9 0.3"/>
<path d="M457.7 266.2l4.7-1.6-2.2-1.3-4.7 1.6z" fill="#2828ff"/>
<path d="M456 264.9l3.9-1.3"/>
<path d="M573.3 209.8l4.8-3.9-2.5-0.5-4.8 3.9z" fill="#47ffdd"/>
<path d="M569.2 213.2l4.7-3.9-2.5-0.6-4.8 3.9z" fill="#46ffef"/>
<path d="M573.5 209.4l-2.3-0.3"/>
<path d="M335.8 241.7l4.6 0.6-2-3.3-4.7-0.7z" fill="#057df5"/>
<path d="M340 242.1l-1.9-2.8"/>
<path d="M577.5 206.5l4.8-4.1-2.5-0.5-4.8 4z" fill="#47ffca"/>
<path d="M365.3 256.7l4.7 0.2-2.1-2.7-4.6-0.2z" fill="#0a2ffa"/>
<path d="M521.8 243.9l4.7-2.9-2.3-0.8-4.7 3z" fill="#3da4ff"/>
<path d="M565 216.4l4.8-3.8-2.5-0.6-4.8 3.9z" fill="#45ffff"/>
<path d="M581.7 203l4.8-4.2-2.5-0.5-4.8 4.2z" fill="#48ffb8"/>
<path d="M392.8 265.2l4.6-0.3-2-2.3-4.7 0.4z" fill="#1114ff"/>
<path d="M408.4 267.8l4.7-0.6-2.1-2-4.6 0.6z" fill="#1616ff"/>
<path d="M560.8 219.5l4.8-3.7-2.5-0.5-4.7 3.7z" fill="#44ffff"/>
<path d="M499.6 254.2l4.7-2.4-2.3-0.9-4.7 2.4z" fill="#3766ff"/>
<path d="M497.7 253.2l4-2"/>
<path d="M585.9 199.4l4.9-4.2-2.6-0.5-4.8 4.2z" fill="#48ffa5"/>
<path d="M586.1 199l-2.3-0.3"/>
<path d="M329.8 238l4.7 0.8-2.1-3.5-4.6-0.7z" fill="#0594f4"/>
<path d="M556.7 222.6l4.8-3.6-2.5-0.6-4.8 3.7z" fill="#44ffff"/>
<path d="M561.1 219.1l-2.3-0.3"/>
<path d="M371.2 259.2l4.7 0-2.1-2.6-4.7 0z" fill="#0b26fb"/>
<path d="M375.4 259.1l-1.9-2.2"/>
<path d="M590.2 195.8l4.8-4.3-2.6-0.5-4.8 4.3z" fill="#48ff93"/>
<path d="M552.6 225.6l4.7-3.6-2.4-0.5-4.8 3.5z" fill="#42ffff"/>
<path d="M481.6 260.8l4.7-2.1-2.3-1.1-4.7 2.1z" fill="#3043ff"/>
<path d="M594.4 192.1l4.9-4.4-2.6-0.5-4.9 4.4z" fill="#49ff80"/>
<path d="M517.8 246.2l4.7-2.8-2.4-0.8-4.7 2.9z" fill="#3b97ff"/>
<path d="M522.1 243.5l-2.2-0.5"/>
<path d="M467.6 264.5l4.7-1.8-2.2-1.2-4.7 1.8z" fill="#2b31ff"/>
<path d="M434 269l4.7-1.1-2.2-1.6-4.6 1.1z" fill="#1e1eff"/>
<path d="M438.2 267.9l-2-1.2"/>
<path d="M323.9 234.2l4.6 0.9-2-3.6-4.7-0.8z" fill="#04adf4"/>
<path d="M322.2 230.9l4 0.9"/>
<path d="M324.2 233.9l-2-3"/>
<path d="M377.1 261.4l4.6 0-2-2.5-4.7 0z" fill="#0c1ffc"/>
<path d="M375.4 259.1l4 0.1"/>
<path d="M548.5 228.5l4.7-3.5-2.4-0.5-4.8 3.4z" fill="#41ffff"/>
<path d="M443.9 268.4l4.6-1.3-2.1-1.5-4.7 1.4z" fill="#2222ff"/>
<path d="M598.7 188.3l4.9-4.5-2.6-0.4-4.9 4.4z" fill="#49ff6e"/>
<path d="M598.9 187.9l-2.4-0.3"/>
<path d="M424.2 269.2l4.6-0.9-2.1-1.8-4.7 1z" fill="#1b1bff"/>
<path d="M422.5 267.5l3.9-0.6"/>
<path d="M398.6 266.8l4.7-0.5-2.1-2.1-4.6 0.5z" fill="#1213ff"/>
<path d="M397 264.8l3.9-0.3"/>
<path d="M495.6 256.1l4.7-2.3-2.3-0.9-4.7 2.3z" fill="#345dff"/>
<path d="M493.8 255.2l3.9-2"/>
<path d="M544.4 231.3l4.7-3.3-2.4-0.6-4.8 3.4z" fill="#40f9ff"/>
<path d="M548.7 228.1l-2.3-0.3"/>
<path d="M603 184.4l4.9-4.5-2.7-0.5-4.8 4.6z" fill="#49ff5b"/>
<path d="M453.8 267.4l4.6-1.6-2.1-1.3-4.7 1.5z" fill="#2525ff"/>
<path d="M452 266l4-1.1"/>
<path d="M414.3 268.9l4.7-0.7-2.1-1.9-4.7 0.7z" fill="#1717ff"/>
<path d="M513.8 248.5l4.7-2.8-2.4-0.7-4.7 2.7z" fill="#398aff"/>
<path d="M382.9 263.4l4.7-0.1-2-2.4-4.7 0.2z" fill="#0d1afd"/>
<path d="M540.3 234.1l4.7-3.3-2.4-0.6-4.7 3.3z" fill="#3fe7ff"/>
<path d="M607.3 180.5l4.9-4.7-2.7-0.4-4.8 4.7z" fill="#4aff49"/>
<path d="M611.8 176.1l-2.4-0.3"/>
<path d="M477.6 262.3l4.7-2-2.2-1-4.7 2z" fill="#2d3dff"/>
<path d="M481.8 260.4l-2-0.7"/>
<path d="M463.7 265.8l4.7-1.7-2.2-1.2-4.7 1.7z" fill="#282cff"/>
<path d="M467.9 264.2l-2-0.9"/>
<path d="M536.2 236.7l4.7-3.2-2.4-0.5-4.7 3.2z" fill="#3dd6ff"/>
<path d="M349.5 250.7l4.7 0.5-2-3-4.7-0.4z" fill="#0752f6"/>
<path d="M404.5 268.1l4.7-0.5-2.1-2-4.7 0.5z" fill="#1313ff"/>
<path d="M408.8 267.5l-2-1.6"/>
<path d="M491.6 258l4.7-2.3-2.3-0.9-4.7 2.3z" fill="#3255ff"/>
<path d="M489.8 257l4-1.8"/>
<path d="M495.9 255.8l-2.1-0.6"/>
<path d="M343.6 247.6l4.7 0.6-2-3.1-4.7-0.6z" fill="#0662f6"/>
<path d="M509.7 250.6l4.7-2.6-2.3-0.8-4.7 2.7z" fill="#377fff"/>
<path d="M355.4 253.7l4.7 0.3-2-2.9-4.7-0.3z" fill="#0743f7"/>
<path d="M353.8 251l4 0.5"/>
<path d="M359.7 253.8l-1.9-2.3"/>
<path d="M388.8 265.3l4.7-0.3-2-2.2-4.7 0.2z" fill="#0e16fe"/>
<path d="M393.1 264.9l-2-1.8"/>
<path d="M337.7 244.3l4.7 0.7-2-3.2-4.7-0.7z" fill="#0575f5"/>
<path d="M336.1 241.3l3.9 0.8"/>
<path d="M342 244.8l-2-2.7"/>
<path d="M361.3 256.4l4.7 0.2-2-2.7-4.7-0.3z" fill="#0837f8"/>
<path d="M430.1 269.8l4.7-1.1-2.2-1.6-4.7 1.1z" fill="#1b1bff"/>
<path d="M439.9 269.3l4.7-1.2-2.1-1.5-4.7 1.3z" fill="#1f1fff"/>
<path d="M532.1 239.3l4.8-3.1-2.4-0.6-4.8 3.1z" fill="#3cc6ff"/>
<path d="M536.4 236.4l-2.2-0.4"/>
<path d="M331.8 240.8l4.7 0.8-2.1-3.4-4.7-0.7z" fill="#048bf4"/>
<path d="M367.2 258.9l4.7 0.1-2-2.6-4.7-0.1z" fill="#092df9"/>
<path d="M420.2 269.7l4.7-0.8-2.1-1.7-4.7 0.8z" fill="#1818ff"/>
<path d="M418.6 268.1l3.9-0.6"/>
<path d="M424.5 268.9l-2-1.4"/>
<path d="M449.8 268.4l4.7-1.4-2.2-1.3-4.7 1.4z" fill="#2222ff"/>
<path d="M448.1 267.1l3.9-1.1"/>
<path d="M454 267l-2-1"/>
<path d="M473.6 263.8l4.7-1.9-2.2-1-4.7 1.9z" fill="#2b37ff"/>
<path d="M505.7 252.7l4.7-2.5-2.3-0.8-4.7 2.6z" fill="#3574ff"/>
<path d="M510 250.3l-2.1-0.5"/>
<path d="M325.8 237.1l4.7 0.9-2-3.5-4.7-0.8z" fill="#04a3f4"/>
<path d="M326.1 236.8l-1.9-2.9"/>
<path d="M394.7 266.9l4.7-0.3-2.1-2.1-4.7 0.3z" fill="#1013ff"/>
<path d="M393.1 264.9l3.9-0.1"/>
<path d="M528.1 241.8l4.7-3-2.4-0.6-4.7 3z" fill="#3ab8ff"/>
<path d="M487.6 259.7l4.7-2.2-2.2-0.9-4.7 2.2z" fill="#2f4dff"/>
<path d="M485.8 258.7l4-1.7"/>
<path d="M373.1 261.2l4.7 0.1-2-2.5-4.7-0.1z" fill="#0a24fa"/>
<path d="M371.5 258.9l3.9 0.2"/>
<path d="M377.4 261.1l-2-2"/>
<path d="M410.4 269.3l4.7-0.7-2.1-1.8-4.7 0.6z" fill="#1414ff"/>
<path d="M459.7 267.1l4.7-1.6-2.2-1.2-4.7 1.6z" fill="#2528ff"/>
<path d="M379 263.3l4.7 0-2-2.4-4.7 0z" fill="#0b1efb"/>
<path d="M524 244.3l4.7-3-2.3-0.6-4.8 2.9z" fill="#38a9ff"/>
<path d="M575.7 210l4.8-4-2.6-0.4-4.8 4z" fill="#42ffcd"/>
<path d="M573.5 209.4l4.2-3.4"/>
<path d="M571.5 213.3l4.8-3.9-2.6-0.4-4.7 3.9z" fill="#41ffdf"/>
<path d="M569.4 212.8l4.1-3.4"/>
<path d="M575.9 209.6l-2.4-0.2"/>
<path d="M579.9 206.6l4.8-4.1-2.6-0.3-4.8 4z" fill="#43ffbb"/>
<path d="M577.7 206l4.2-3.4"/>
<path d="M567.3 216.6l4.8-3.8-2.5-0.4-4.8 3.8z" fill="#41fff2"/>
<path d="M565.2 216l4.2-3.2"/>
<path d="M501.7 254.7l4.7-2.4-2.3-0.8-4.7 2.5z" fill="#326aff"/>
<path d="M584.1 203.2l4.8-4.2-2.6-0.4-4.8 4.2z" fill="#43ffa9"/>
<path d="M581.9 202.6l4.2-3.6"/>
<path d="M563.1 219.7l4.8-3.7-2.5-0.4-4.8 3.7z" fill="#40ffff"/>
<path d="M561.1 219.1l4.1-3.1"/>
<path d="M588.3 199.6l4.9-4.3-2.6-0.3-4.9 4.2z" fill="#44ff97"/>
<path d="M586.1 199l4.3-3.6"/>
<path d="M588.5 199.2l-2.4-0.2"/>
<path d="M436 270.1l4.7-1.1-2.1-1.4-4.7 1.1z" fill="#1c1cff"/>
<path d="M440.2 269l-2-1.1"/>
<path d="M400.6 268.3l4.7-0.4-2.1-2-4.7 0.5z" fill="#1112ff"/>
<path d="M559 222.8l4.8-3.6-2.5-0.5-4.8 3.7z" fill="#3fffff"/>
<path d="M556.9 222.2l4.2-3.1"/>
<path d="M563.4 219.3l-2.3-0.2"/>
<path d="M426.1 270.4l4.7-0.9-2.1-1.6-4.7 0.9z" fill="#1919ff"/>
<path d="M592.6 196l4.8-4.4-2.6-0.3-4.8 4.3z" fill="#44ff85"/>
<path d="M590.4 195.4l4.2-3.7"/>
<path d="M469.7 265.3l4.7-1.9-2.2-1-4.7 1.8z" fill="#2832ff"/>
<path d="M483.6 261.4l4.7-2.1-2.2-0.9-4.7 2.1z" fill="#2c46ff"/>
<path d="M481.8 260.4l4-1.7"/>
<path d="M445.9 269.4l4.7-1.3-2.2-1.3-4.7 1.3z" fill="#1f1fff"/>
<path d="M444.2 268.1l3.9-1"/>
<path d="M554.8 225.8l4.8-3.6-2.5-0.4-4.7 3.6z" fill="#3effff"/>
<path d="M552.8 225.2l4.1-3"/>
<path d="M384.9 265.2l4.7-0.1-2.1-2.2-4.7 0.1z" fill="#0d19fc"/>
<path d="M520 246.6l4.7-2.9-2.4-0.6-4.7 2.9z" fill="#369cff"/>
<path d="M524.3 243.9l-2.2-0.4"/>
<path d="M596.8 192.2l4.9-4.4-2.6-0.3-4.9 4.4z" fill="#44ff73"/>
<path d="M594.6 191.7l4.3-3.8"/>
<path d="M416.3 270.2l4.7-0.7-2.1-1.7-4.7 0.7z" fill="#1515ff"/>
<path d="M414.7 268.6l3.9-0.5"/>
<path d="M345.6 250.1l4.7 0.5-2-2.9-4.7-0.6z" fill="#065df5"/>
<path d="M351.5 253.1l4.7 0.4-2-2.8-4.7-0.5z" fill="#064df6"/>
<path d="M349.9 250.4l3.9 0.6"/>
<path d="M550.7 228.7l4.8-3.4-2.5-0.5-4.7 3.5z" fill="#3dffff"/>
<path d="M548.7 228.1l4.1-2.9"/>
<path d="M339.6 246.9l4.7 0.6-2-3.1-4.7-0.6z" fill="#056ff5"/>
<path d="M344 247.3l-2-2.5"/>
<path d="M601.1 188.4l4.9-4.5-2.6-0.3-4.9 4.5z" fill="#44ff61"/>
<path d="M598.9 187.9l4.3-3.9"/>
<path d="M601.3 188l-2.4-0.1"/>
<path d="M455.8 268.2l4.7-1.5-2.2-1.2-4.7 1.5z" fill="#2224ff"/>
<path d="M497.7 256.7l4.7-2.4-2.3-0.8-4.7 2.4z" fill="#3061ff"/>
<path d="M357.4 255.9l4.7 0.3-2-2.7-4.7-0.3z" fill="#073ff7"/>
<path d="M361.7 256.1l-2-2.3"/>
<path d="M333.7 243.5l4.7 0.8-2-3.3-4.7-0.7z" fill="#0483f4"/>
<path d="M332.1 240.5l4 0.8"/>
<path d="M546.6 231.6l4.8-3.4-2.5-0.5-4.7 3.4z" fill="#3bffff"/>
<path d="M544.6 230.9l4.1-2.8"/>
<path d="M550.9 228.3l-2.2-0.2"/>
<path d="M363.3 258.5l4.7 0.2-2-2.6-4.7-0.2z" fill="#0834f8"/>
<path d="M605.4 184.6l4.9-4.6-2.6-0.3-4.9 4.5z" fill="#45ff4e"/>
<path d="M603.2 184l4.3-3.9"/>
<path d="M515.9 248.8l4.7-2.7-2.3-0.6-4.7 2.7z" fill="#3490ff"/>
<path d="M406.5 269.6l4.7-0.5-2.1-1.9-4.7 0.5z" fill="#1212ff"/>
<path d="M410.7 269l-1.9-1.5"/>
<path d="M390.8 267l4.7-0.3-2.1-2.1-4.7 0.2z" fill="#0e15fd"/>
<path d="M389.1 265l4-0.1"/>
<path d="M395 266.6l-1.9-1.7"/>
<path d="M327.8 239.9l4.7 0.9-2-3.4-4.7-0.8z" fill="#049af3"/>
<path d="M328.1 239.6l-2-2.8"/>
<path d="M479.7 263l4.7-2-2.3-0.9-4.7 2z" fill="#2a40ff"/>
<path d="M477.9 262l3.9-1.6"/>
<path d="M483.9 261l-2.1-0.6"/>
<path d="M542.5 234.3l4.8-3.3-2.5-0.4-4.7 3.3z" fill="#3aefff"/>
<path d="M540.5 233.7l4.1-2.8"/>
<path d="M369.2 260.9l4.7 0.2-2.1-2.5-4.7-0.2z" fill="#092bf9"/>
<path d="M367.6 258.6l3.9 0.3"/>
<path d="M609.7 180.6l4.9-4.6-2.6-0.3-4.9 4.6z" fill="#4eff45"/>
<path d="M607.5 180.1l4.3-4"/>
<path d="M614.3 176.2l-2.5-0.1"/>
<path d="M465.7 266.6l4.7-1.7-2.2-1.1-4.7 1.7z" fill="#252dff"/>
<path d="M470 264.9l-2.1-0.7"/>
<path d="M493.7 258.5l4.7-2.3-2.3-0.8-4.7 2.3z" fill="#2d59ff"/>
<path d="M498 256.3l-2.1-0.5"/>
<path d="M432 270.9l4.8-1-2.2-1.5-4.7 1z" fill="#1919ff"/>
<path d="M441.9 270.3l4.7-1.2-2.1-1.3-4.7 1.2z" fill="#1d1dff"/>
<path d="M440.2 269l4-0.9"/>
<path d="M538.4 237l4.8-3.2-2.5-0.5-4.7 3.2z" fill="#39deff"/>
<path d="M536.4 236.4l4.1-2.7"/>
<path d="M511.9 251l4.7-2.6-2.3-0.7-4.7 2.7z" fill="#3284ff"/>
<path d="M422.2 271l4.7-0.8-2.1-1.6-4.7 0.8z" fill="#1616ff"/>
<path d="M426.5 270.1l-2-1.2"/>
<path d="M375 263.1l4.8 0.1-2.1-2.4-4.7-0.1z" fill="#0a23fa"/>
<path d="M379.3 263l-1.9-1.9"/>
<path d="M396.6 268.5l4.7-0.4-2-1.9-4.7 0.3z" fill="#0f13fe"/>
<path d="M451.8 269.3l4.7-1.4-2.1-1.2-4.7 1.4z" fill="#2021ff"/>
<path d="M456.1 267.9l-2.1-0.9"/>
<path d="M534.3 239.6l4.8-3.1-2.4-0.5-4.8 3.1z" fill="#37ceff"/>
<path d="M532.4 239l4-2.6"/>
<path d="M538.7 236.6l-2.3-0.2"/>
<path d="M412.3 270.6l4.8-0.6-2.1-1.7-4.7 0.6z" fill="#1313ff"/>
<path d="M410.7 269l4-0.4"/>
<path d="M475.7 264.5l4.7-1.9-2.2-0.9-4.7 1.9z" fill="#273aff"/>
<path d="M473.9 263.5l4-1.5"/>
<path d="M380.9 265.1l4.7 0-2-2.3-4.7 0.1z" fill="#0b1dfb"/>
<path d="M507.9 253.1l4.7-2.6-2.3-0.6-4.7 2.6z" fill="#307aff"/>
<path d="M512.1 250.7l-2.1-0.4"/>
<path d="M489.7 260.2l4.7-2.2-2.2-0.7-4.7 2.2z" fill="#2b51ff"/>
<path d="M461.7 267.8l4.8-1.6-2.2-1-4.7 1.6z" fill="#2229ff"/>
<path d="M530.3 242.1l4.7-3.1-2.4-0.4-4.7 3z" fill="#35bfff"/>
<path d="M528.3 241.5l4.1-2.5"/>
<path d="M347.5 252.5l4.7 0.5-2-2.9-4.7-0.5z" fill="#0558f5"/>
<path d="M345.9 249.8l4 0.6"/>
<path d="M402.5 269.8l4.7-0.4-2-1.9-4.7 0.4z" fill="#1012ff"/>
<path d="M341.6 249.4l4.7 0.6-2-3-4.7-0.6z" fill="#0569f4"/>
<path d="M345.9 249.8l-1.9-2.5"/>
<path d="M353.4 255.3l4.7 0.5-2-2.7-4.7-0.5z" fill="#0649f6"/>
<path d="M335.6 246.1l4.8 0.7-2-3.1-4.8-0.7z" fill="#047cf4"/>
<path d="M386.8 266.9l4.7-0.1-2-2.1-4.7 0.1z" fill="#0c19fc"/>
<path d="M385.2 264.9l3.9 0.1"/>
<path d="M438 271.2l4.7-1.2-2.1-1.3-4.7 1.1z" fill="#1a1aff"/>
<path d="M436.3 269.8l3.9-0.8"/>
<path d="M442.2 270l-2-1"/>
<path d="M359.3 258l4.7 0.4-2-2.6-4.7-0.4z" fill="#073df7"/>
<path d="M363.6 258.2l-1.9-2.1"/>
<path d="M428.1 271.5l4.7-0.9-2.1-1.5-4.7 1z" fill="#1717ff"/>
<path d="M526.2 244.5l4.7-2.9-2.3-0.5-4.8 2.9z" fill="#34b1ff"/>
<path d="M524.3 243.9l4-2.4"/>
<path d="M503.8 255.1l4.8-2.5-2.3-0.6-4.8 2.5z" fill="#2e70ff"/>
<path d="M578 210.1l4.8-4-2.5-0.3-4.8 4z" fill="#3effbd"/>
<path d="M329.7 242.6l4.7 0.8-2-3.2-4.7-0.8z" fill="#0492f3"/>
<path d="M328.1 239.6l4 0.9"/>
<path d="M330 242.3l-1.9-2.7"/>
<path d="M573.8 213.4l4.8-3.9-2.5-0.3-4.8 3.9z" fill="#3dffcf"/>
<path d="M578.2 209.7l-2.3-0.1"/>
<path d="M582.2 206.7l4.8-4.1-2.5-0.2-4.8 4z" fill="#3effac"/>
<path d="M569.6 216.7l4.8-3.9-2.5-0.2-4.8 3.8z" fill="#3cffe0"/>
<path d="M586.4 203.2l4.9-4.2-2.6-0.2-4.8 4.2z" fill="#3fff9a"/>
<path d="M447.9 270.3l4.7-1.3-2.2-1.2-4.7 1.3z" fill="#1d1eff"/>
<path d="M418.2 271.5l4.8-0.8-2.1-1.6-4.7 0.8z" fill="#1414ff"/>
<path d="M471.7 265.9l4.7-1.8-2.2-0.9-4.7 1.8z" fill="#2434ff"/>
<path d="M470 264.9l3.9-1.4"/>
<path d="M365.2 260.5l4.7 0.3-2-2.5-4.7-0.3z" fill="#0832f7"/>
<path d="M363.6 258.2l4 0.4"/>
<path d="M565.4 219.8l4.8-3.7-2.5-0.3-4.8 3.7z" fill="#3bfff2"/>
<path d="M590.7 199.7l4.9-4.3-2.6-0.2-4.9 4.2z" fill="#3fff89"/>
<path d="M590.9 199.2l-2.4 0"/>
<path d="M485.7 261.9l4.7-2.1-2.2-0.8-4.7 2.1z" fill="#294aff"/>
<path d="M561.3 222.9l4.8-3.6-2.5-0.3-4.8 3.6z" fill="#3affff"/>
<path d="M565.7 219.4l-2.3-0.1"/>
<path d="M595 196l4.8-4.3-2.6-0.3-4.8 4.4z" fill="#40ff77"/>
<path d="M522.1 246.9l4.8-2.9-2.4-0.5-4.7 2.9z" fill="#32a3ff"/>
<path d="M520.2 246.2l4.1-2.3"/>
<path d="M526.4 244.1l-2.1-0.2"/>
<path d="M392.7 268.5l4.7-0.2-2-2-4.7 0.2z" fill="#0d16fd"/>
<path d="M397 268.2l-2-1.6"/>
<path d="M557.1 225.9l4.8-3.6-2.5-0.3-4.7 3.6z" fill="#39ffff"/>
<path d="M371.1 262.8l4.7 0.2-2-2.4-4.7-0.2z" fill="#0929f8"/>
<path d="M457.8 269l4.7-1.5-2.2-1.1-4.7 1.5z" fill="#2026ff"/>
<path d="M599.2 192.3l4.9-4.4-2.6-0.3-4.9 4.5z" fill="#40ff65"/>
<path d="M408.4 270.9l4.7-0.5-2-1.7-4.7 0.5z" fill="#1112ff"/>
<path d="M406.8 269.3l3.9-0.3"/>
<path d="M412.7 270.3l-2-1.3"/>
<path d="M499.8 257l4.7-2.3-2.2-0.7-4.8 2.4z" fill="#2c66ff"/>
<path d="M553 228.8l4.8-3.4-2.5-0.4-4.8 3.5z" fill="#38ffff"/>
<path d="M603.5 188.5l4.9-4.5-2.6-0.2-4.9 4.5z" fill="#40ff53"/>
<path d="M603.7 188.1l-2.4-0.1"/>
<path d="M377 264.9l4.7 0.1-2-2.3-4.7 0z" fill="#0922f9"/>
<path d="M381.3 264.8l-2-1.8"/>
<path d="M548.9 231.7l4.7-3.4-2.4-0.3-4.8 3.4z" fill="#37ffff"/>
<path d="M553.2 228.5l-2.3-0.2"/>
<path d="M518.1 249.1l4.7-2.8-2.3-0.4-4.8 2.7z" fill="#3097ff"/>
<path d="M516.2 248.5l4-2.3"/>
<path d="M607.8 184.6l5-4.6-2.7-0.2-4.9 4.6z" fill="#41ff41"/>
<path d="M481.7 263.5l4.8-2-2.3-0.8-4.7 2z" fill="#2643ff"/>
<path d="M486 261.6l-2.1-0.6"/>
<path d="M467.7 267.2l4.8-1.7-2.2-0.9-4.7 1.7z" fill="#2230ff"/>
<path d="M466 266.3l4-1.4"/>
<path d="M472 265.6l-2-0.7"/>
<path d="M434 271.9l4.7-1-2.1-1.4-4.7 1.1z" fill="#1718ff"/>
<path d="M432.4 270.6l3.9-0.8"/>
<path d="M398.6 269.9l4.7-0.3-2-1.8-4.8 0.3z" fill="#0e14fd"/>
<path d="M424.1 272.1l4.8-0.8-2.1-1.5-4.7 0.8z" fill="#1414ff"/>
<path d="M428.4 271.2l-1.9-1.1"/>
<path d="M544.7 234.4l4.8-3.3-2.4-0.3-4.8 3.3z" fill="#35f8ff"/>
<path d="M443.9 271.2l4.7-1.2-2.1-1.2-4.7 1.2z" fill="#1a1cff"/>
<path d="M612.2 180.6l4.9-4.6-2.7-0.2-4.9 4.6z" fill="#53ff41"/>
<path d="M616.7 176.2l-2.4 0"/>
<path d="M495.8 258.9l4.7-2.3-2.2-0.6-4.7 2.2z" fill="#2a5eff"/>
<path d="M500.1 256.7l-2.1-0.4"/>
<path d="M382.8 266.8l4.8 0-2-2.1-4.8 0z" fill="#0a1dfa"/>
<path d="M381.3 264.8l3.9 0.1"/>
<path d="M514 251.3l4.8-2.7-2.4-0.5-4.7 2.7z" fill="#2e8bff"/>
<path d="M512.1 250.7l4.1-2.2"/>
<path d="M414.3 271.9l4.7-0.7-2-1.6-4.8 0.7z" fill="#1112ff"/>
<path d="M540.6 237.1l4.8-3.2-2.4-0.3-4.8 3.2z" fill="#34e7ff"/>
<path d="M453.8 270.1l4.7-1.4-2.1-1.1-4.7 1.4z" fill="#1d22ff"/>
<path d="M458.1 268.7l-2-0.8"/>
<path d="M343.5 251.7l4.7 0.7-2-2.9-4.7-0.6z" fill="#0564f4"/>
<path d="M341.9 249.1l4 0.7"/>
<path d="M347.8 252.2l-1.9-2.4"/>
<path d="M349.4 254.7l4.7 0.5-1.9-2.7-4.8-0.5z" fill="#0554f5"/>
<path d="M337.6 248.5l4.7 0.8-2-3-4.7-0.7z" fill="#0476f4"/>
<path d="M355.3 257.5l4.8 0.4-2-2.6-4.8-0.4z" fill="#0646f6"/>
<path d="M331.6 245.2l4.8 0.8-2-3.1-4.7-0.8z" fill="#038bf3"/>
<path d="M332 244.9l-2-2.6"/>
<path d="M477.7 265l4.8-1.9-2.2-0.8-4.8 1.9z" fill="#243dff"/>
<path d="M361.2 260.1l4.7 0.3-1.9-2.5-4.8-0.3z" fill="#073bf6"/>
<path d="M359.6 257.7l4 0.5"/>
<path d="M365.5 260.2l-1.9-2"/>
<path d="M536.5 239.7l4.8-3.1-2.4-0.4-4.7 3.2z" fill="#33d7ff"/>
<path d="M540.9 236.7l-2.2-0.1"/>
<path d="M404.4 271.2l4.8-0.5-2.1-1.7-4.7 0.4z" fill="#0f13fe"/>
<path d="M402.9 269.5l3.9-0.2"/>
<path d="M388.7 268.5l4.8-0.1-2.1-2-4.7 0.1z" fill="#0b19fb"/>
<path d="M463.8 268.5l4.7-1.6-2.2-1-4.7 1.7z" fill="#1f2cff"/>
<path d="M462.1 267.5l3.9-1.2"/>
<path d="M510 253.4l4.7-2.6-2.3-0.5-4.7 2.6z" fill="#2c80ff"/>
<path d="M508.1 252.8l4-2.1"/>
<path d="M514.3 250.9l-2.2-0.2"/>
<path d="M491.8 260.6l4.7-2.2-2.2-0.6-4.7 2.2z" fill="#2756ff"/>
<path d="M367.1 262.4l4.7 0.3-1.9-2.4-4.8-0.2z" fill="#0731f7"/>
<path d="M532.5 242.2l4.7-3-2.4-0.4-4.7 3.1z" fill="#31c8ff"/>
<path d="M430.1 272.5l4.7-0.9-2.1-1.3-4.7 0.9z" fill="#1516ff"/>
<path d="M428.4 271.2l4-0.6"/>
<path d="M439.9 272l4.8-1.1-2.1-1.2-4.8 1.1z" fill="#181aff"/>
<path d="M444.2 270.9l-2-0.9"/>
<path d="M420.2 272.6l4.7-0.7-2-1.5-4.8 0.7z" fill="#1213ff"/>
<path d="M373 264.6l4.7 0.2-2-2.3-4.7-0.1z" fill="#0829f8"/>
<path d="M449.9 271.1l4.7-1.3-2.1-1.1-4.8 1.3z" fill="#1a20ff"/>
<path d="M394.6 270l4.7-0.2-2-1.9-4.7 0.2z" fill="#0c16fc"/>
<path d="M398.9 269.7l-1.9-1.5"/>
<path d="M506 255.4l4.7-2.5-2.3-0.5-4.7 2.5z" fill="#2a76ff"/>
<path d="M504.1 254.8l4-2"/>
<path d="M528.4 244.7l4.7-3-2.3-0.4-4.8 3z" fill="#2fb9ff"/>
<path d="M473.8 266.4l4.7-1.8-2.2-0.8-4.7 1.8z" fill="#2138ff"/>
<path d="M580.3 210.1l4.9-4.1-2.6-0.1-4.8 4z" fill="#39ffad"/>
<path d="M576.1 213.4l4.9-3.9-2.6-0.2-4.8 3.9z" fill="#39ffbe"/>
<path d="M580.6 209.7l-2.4 0"/>
<path d="M584.6 206.7l4.8-4.1-2.5-0.2-4.9 4.1z" fill="#3aff9c"/>
<path d="M487.8 262.3l4.7-2.1-2.2-0.6-4.7 2.1z" fill="#254fff"/>
<path d="M410.3 272.2l4.8-0.6-2.1-1.6-4.7 0.6z" fill="#0f13ff"/>
<path d="M414.6 271.6l-1.9-1.3"/>
<path d="M571.9 216.6l4.8-3.8-2.5-0.2-4.8 3.9z" fill="#38ffcf"/>
<path d="M588.8 203.2l4.9-4.2-2.6-0.1-4.8 4.1z" fill="#3bff8b"/>
<path d="M567.7 219.8l4.9-3.7-2.5-0.2-4.9 3.7z" fill="#37ffe0"/>
<path d="M593.1 199.6l4.9-4.3-2.6-0.1-4.9 4.3z" fill="#3bff7a"/>
<path d="M593.3 199.2l-2.4 0"/>
<path d="M378.9 266.6l4.7 0.1-2-2.1-4.7-0.1z" fill="#0922f8"/>
<path d="M377.3 264.6l4 0.2"/>
<path d="M383.2 266.5l-1.9-1.7"/>
<path d="M459.8 269.7l4.7-1.6-2.1-0.9-4.7 1.5z" fill="#1d28ff"/>
<path d="M458.1 268.7l4-1.2"/>
<path d="M563.6 222.9l4.8-3.7-2.5-0.1-4.8 3.6z" fill="#36fff2"/>
<path d="M568 219.4l-2.3 0"/>
<path d="M597.4 195.9l4.8-4.3-2.6-0.1-4.8 4.3z" fill="#3cff68"/>
<path d="M524.3 247l4.8-2.9-2.4-0.3-4.7 2.8z" fill="#2eacff"/>
<path d="M528.6 244.3l-2.2-0.2"/>
<path d="M559.4 225.9l4.8-3.6-2.5-0.2-4.8 3.6z" fill="#35ffff"/>
<path d="M601.6 192.2l4.9-4.4-2.6-0.1-4.9 4.4z" fill="#3cff57"/>
<path d="M501.9 257.3l4.8-2.4-2.3-0.5-4.7 2.4z" fill="#286dff"/>
<path d="M500.1 256.7l4-1.9"/>
<path d="M345.4 254l4.8 0.6-2-2.7-4.8-0.7z" fill="#0460f4"/>
<path d="M349.8 254.4l-2-2.2"/>
<path d="M339.5 250.9l4.7 0.8-1.9-2.9-4.8-0.7z" fill="#0471f4"/>
<path d="M337.9 248.3l4 0.8"/>
<path d="M400.5 271.3l4.7-0.3-2-1.8-4.7 0.4z" fill="#0d15fc"/>
<path d="M398.9 269.7l4-0.2"/>
<path d="M351.3 256.8l4.8 0.6-2-2.6-4.7-0.6z" fill="#0551f5"/>
<path d="M555.2 228.8l4.8-3.5-2.4-0.1-4.8 3.4z" fill="#34ffff"/>
<path d="M333.6 247.6l4.7 0.9-2-3-4.7-0.8z" fill="#0385f3"/>
<path d="M333.9 247.4l-1.9-2.5"/>
<path d="M606 188.4l4.9-4.5-2.7-0.1-4.9 4.5z" fill="#3cff45"/>
<path d="M606.2 188l-2.5 0.1"/>
<path d="M436 272.8l4.7-1-2.1-1.2-4.7 1z" fill="#1618ff"/>
<path d="M384.8 268.4l4.7-0.1-2-1.9-4.7 0z" fill="#0a1df9"/>
<path d="M426.1 273.1l4.8-0.8-2.1-1.3-4.8 0.8z" fill="#1315ff"/>
<path d="M424.5 271.8l3.9-0.6"/>
<path d="M430.4 272.3l-2-1.1"/>
<path d="M357.2 259.5l4.8 0.5-2-2.5-4.7-0.5z" fill="#0644f5"/>
<path d="M355.7 257.2l3.9 0.5"/>
<path d="M483.8 263.9l4.7-2-2.2-0.7-4.7 2.1z" fill="#2348ff"/>
<path d="M488.1 262l-2.1-0.4"/>
<path d="M469.8 267.8l4.7-1.7-2.2-0.8-4.7 1.7z" fill="#1f34ff"/>
<path d="M474.1 266.1l-2.1-0.5"/>
<path d="M520.2 249.3l4.8-2.8-2.3-0.4-4.8 2.8z" fill="#2c9fff"/>
<path d="M445.9 272l4.7-1.2-2.1-1.1-4.7 1.2z" fill="#181eff"/>
<path d="M551.1 231.7l4.8-3.4-2.4-0.2-4.8 3.4z" fill="#32ffff"/>
<path d="M555.5 228.5l-2.3 0"/>
<path d="M610.3 184.5l4.9-4.6-2.6-0.1-4.9 4.6z" fill="#46ff3d"/>
<path d="M416.2 273l4.8-0.6-2.1-1.5-4.7 0.6z" fill="#1013ff"/>
<path d="M363.1 262l4.8 0.3-2-2.3-4.8-0.4z" fill="#0639f6"/>
<path d="M367.5 262.2l-2-2"/>
<path d="M547 234.4l4.8-3.3-2.5-0.2-4.7 3.3z" fill="#31ffff"/>
<path d="M497.9 259.2l4.8-2.3-2.3-0.5-4.7 2.3z" fill="#2664ff"/>
<path d="M496.1 258.5l4-1.8"/>
<path d="M502.2 257l-2.1-0.3"/>
<path d="M614.6 180.5l5-4.6-2.7-0.1-4.9 4.7z" fill="#5bff3d"/>
<path d="M619.2 176.1l-2.5 0.1"/>
<path d="M455.8 270.7l4.8-1.4-2.2-0.9-4.7 1.4z" fill="#1a25ff"/>
<path d="M454.1 269.8l4-1.1"/>
<path d="M460.1 269.3l-2-0.6"/>
<path d="M390.6 270l4.8-0.2-2-1.8-4.8 0.1z" fill="#0a1afa"/>
<path d="M369 264.2l4.8 0.3-2-2.2-4.8-0.3z" fill="#0730f7"/>
<path d="M516.2 251.4l4.7-2.6-2.3-0.4-4.7 2.7z" fill="#2a93ff"/>
<path d="M406.4 272.4l4.7-0.4-2-1.6-4.7 0.4z" fill="#0e14fd"/>
<path d="M542.9 237.1l4.7-3.2-2.4-0.2-4.7 3.2z" fill="#30f2ff"/>
<path d="M479.8 265.4l4.8-1.9-2.3-0.6-4.7 1.9z" fill="#2042ff"/>
<path d="M465.8 269l4.7-1.6-2.1-0.8-4.8 1.6z" fill="#1d30ff"/>
<path d="M374.9 266.3l4.8 0.2-2-2.1-4.8-0.2z" fill="#0829f7"/>
<path d="M373.3 264.3l4 0.3"/>
<path d="M538.8 239.7l4.7-3.1-2.4-0.2-4.7 3.1z" fill="#2ee1ff"/>
<path d="M543.1 236.8l-2.2-0.1"/>
<path d="M493.9 260.9l4.8-2.2-2.3-0.5-4.7 2.2z" fill="#245cff"/>
<path d="M492.1 260.3l4-1.8"/>
<path d="M432 273.4l4.8-0.9-2.1-1.2-4.7 0.9z" fill="#1317ff"/>
<path d="M512.1 253.5l4.8-2.5-2.3-0.4-4.8 2.6z" fill="#2888ff"/>
<path d="M516.5 251.1l-2.2-0.2"/>
<path d="M441.9 272.8l4.8-1.1-2.1-1.1-4.8 1.1z" fill="#161cff"/>
<path d="M446.2 271.7l-2-0.8"/>
<path d="M422.1 273.6l4.8-0.7-2.1-1.4-4.7 0.8z" fill="#1115ff"/>
<path d="M420.5 272.3l4-0.5"/>
<path d="M396.5 271.4l4.8-0.3-2-1.7-4.8 0.2z" fill="#0b17fb"/>
<path d="M395 269.7l3.9 0"/>
<path d="M400.9 271l-2-1.3"/>
<path d="M534.7 242.2l4.7-3-2.3-0.2-4.8 3z" fill="#2dd2ff"/>
<path d="M451.9 271.7l4.7-1.3-2.1-0.9-4.8 1.3z" fill="#1823ff"/>
<path d="M450.2 270.8l3.9-1"/>
<path d="M380.8 268.2l4.8 0-2-1.9-4.8-0.1z" fill="#0823f8"/>
<path d="M385.1 268.1l-1.9-1.6"/>
<path d="M412.3 273.3l4.7-0.5-2-1.5-4.8 0.5z" fill="#0e14fe"/>
<path d="M416.6 272.7l-2-1.1"/>
<path d="M341.4 253.2l4.8 0.7-2-2.7-4.8-0.8z" fill="#046df3"/>
<path d="M347.3 256.1l4.8 0.7-2-2.6-4.7-0.7z" fill="#045df4"/>
<path d="M351.7 256.6l-1.9-2.2"/>
<path d="M335.5 250l4.7 0.9-1.9-2.9-4.8-0.8z" fill="#0380f3"/>
<path d="M333.9 247.4l4 0.9"/>
<path d="M335.8 249.7l-1.9-2.3"/>
<path d="M475.8 266.9l4.8-1.9-2.2-0.6-4.8 1.8z" fill="#1e3dff"/>
<path d="M353.2 258.9l4.8 0.5-2-2.5-4.7-0.5z" fill="#054ff4"/>
<path d="M351.7 256.6l4 0.6"/>
<path d="M508.1 255.6l4.8-2.5-2.3-0.4-4.8 2.5z" fill="#267eff"/>
<path d="M530.6 244.7l4.7-3-2.3-0.2-4.8 2.9z" fill="#2bc3ff"/>
<path d="M489.9 262.6l4.7-2.1-2.2-0.5-4.7 2.1z" fill="#2255ff"/>
<path d="M488.1 262l4-1.7"/>
<path d="M461.8 270.2l4.8-1.5-2.2-0.8-4.7 1.5z" fill="#1a2cff"/>
<path d="M359.1 261.4l4.8 0.5-2-2.4-4.7-0.4z" fill="#0543f5"/>
<path d="M582.7 209.9l4.9-4-2.6 0-4.8 4z" fill="#35ff9d"/>
<path d="M580.6 209.7l4.2-3.4"/>
<path d="M578.5 213.2l4.8-3.9-2.5 0-4.8 3.9z" fill="#34ffad"/>
<path d="M576.3 213l4.3-3.3"/>
<path d="M582.9 209.5l-2.3 0.2"/>
<path d="M586.9 206.5l4.9-4.1-2.6 0-4.8 4.1z" fill="#36ff8c"/>
<path d="M584.8 206.3l4.2-3.5"/>
<path d="M574.3 216.5l4.8-3.8-2.5-0.1-4.8 3.9z" fill="#34ffbd"/>
<path d="M572.2 216.3l4.1-3.3"/>
<path d="M402.4 272.5l4.8-0.3-2-1.6-4.8 0.3z" fill="#0c16fc"/>
<path d="M591.2 203l4.9-4.2-2.6 0-4.9 4.2z" fill="#37ff7b"/>
<path d="M589 202.8l4.3-3.6"/>
<path d="M386.7 269.9l4.7-0.1-1.9-1.8-4.8 0z" fill="#091ef9"/>
<path d="M570.1 219.7l4.8-3.8-2.5 0-4.8 3.7z" fill="#33ffce"/>
<path d="M568 219.4l4.2-3.1"/>
<path d="M595.5 199.4l4.9-4.3-2.6 0-4.9 4.3z" fill="#37ff6a"/>
<path d="M593.3 199.2l4.3-3.7"/>
<path d="M595.7 199l-2.4 0.2"/>
<path d="M365 263.8l4.8 0.3-2-2.2-4.7-0.4z" fill="#0639f5"/>
<path d="M369.4 264l-1.9-1.8"/>
<path d="M565.9 222.8l4.8-3.7-2.5-0.1-4.8 3.7z" fill="#32ffdf"/>
<path d="M563.8 222.5l4.2-3.1"/>
<path d="M570.3 219.3l-2.3 0.1"/>
<path d="M599.8 195.8l4.9-4.4-2.6 0-4.9 4.4z" fill="#38ff59"/>
<path d="M597.6 195.5l4.3-3.7"/>
<path d="M526.5 247l4.8-2.8-2.4-0.3-4.7 2.9z" fill="#2ab6ff"/>
<path d="M530.8 244.3l-2.2 0"/>
<path d="M428.1 274l4.7-0.8-2-1.2-4.8 0.8z" fill="#1117ff"/>
<path d="M432.4 273.2l-2-0.9"/>
<path d="M438 273.6l4.7-1.1-2.1-1-4.7 1z" fill="#141bff"/>
<path d="M504.1 257.5l4.7-2.4-2.3-0.4-4.7 2.4z" fill="#2475ff"/>
<path d="M561.7 225.8l4.8-3.6-2.5-0.1-4.8 3.6z" fill="#31fff0"/>
<path d="M559.6 225.5l4.2-3"/>
<path d="M604.1 192l4.9-4.4-2.6 0-4.9 4.4z" fill="#38ff48"/>
<path d="M601.9 191.8l4.3-3.8"/>
<path d="M418.2 274l4.8-0.6-2.1-1.4-4.8 0.7z" fill="#0f15ff"/>
<path d="M416.6 272.7l3.9-0.4"/>
<path d="M447.9 272.7l4.7-1.3-2.1-0.9-4.7 1.2z" fill="#1621ff"/>
<path d="M446.2 271.7l4-0.9"/>
<path d="M557.5 228.7l4.8-3.5-2.4 0-4.8 3.5z" fill="#30ffff"/>
<path d="M555.5 228.5l4.1-3"/>
<path d="M471.8 268.2l4.8-1.7-2.2-0.7-4.7 1.7z" fill="#1c39ff"/>
<path d="M476.1 266.5l-2-0.4"/>
<path d="M370.9 265.9l4.8 0.3-2-2.1-4.7-0.3z" fill="#0630f6"/>
<path d="M369.4 264l3.9 0.3"/>
<path d="M608.4 188.2l4.9-4.5-2.6 0-4.9 4.5z" fill="#3aff38"/>
<path d="M606.2 188l4.3-3.9"/>
<path d="M608.6 187.8l-2.4 0.2"/>
<path d="M485.9 264.2l4.7-2-2.2-0.5-4.7 2z" fill="#204fff"/>
<path d="M484.1 263.6l4-1.6"/>
<path d="M490.2 262.3l-2.1-0.3"/>
<path d="M392.6 271.3l4.7-0.1-2-1.7-4.7 0.1z" fill="#0a1bf9"/>
<path d="M391 269.7l4 0"/>
<path d="M522.4 249.3l4.8-2.8-2.3-0.2-4.8 2.8z" fill="#28a9ff"/>
<path d="M553.4 231.6l4.8-3.4-2.5-0.1-4.8 3.4z" fill="#2effff"/>
<path d="M551.4 231.3l4.1-2.8"/>
<path d="M557.8 228.3l-2.3 0.2"/>
<path d="M612.7 184.3l5-4.6-2.7 0-4.9 4.6z" fill="#4dff39"/>
<path d="M610.5 184.1l4.3-4"/>
<path d="M408.3 273.5l4.8-0.4-2-1.5-4.8 0.5z" fill="#0c16fc"/>
<path d="M457.8 271.3l4.8-1.4-2.1-0.8-4.8 1.4z" fill="#1829ff"/>
<path d="M462.2 269.9l-2.1-0.6"/>
<path d="M500 259.3l4.8-2.3-2.3-0.3-4.7 2.3z" fill="#226cff"/>
<path d="M504.4 257.2l-2.2-0.2"/>
<path d="M376.8 267.9l4.8 0.2-2-2-4.8-0.2z" fill="#0729f7"/>
<path d="M549.2 234.3l4.8-3.3-2.4-0.1-4.8 3.4z" fill="#2dffff"/>
<path d="M547.2 234.1l4.2-2.8"/>
<path d="M617.1 180.3l5-4.7-2.7 0.1-5 4.7z" fill="#63ff39"/>
<path d="M614.8 180.1l4.4-4"/>
<path d="M621.7 175.9l-2.5 0.2"/>
<path d="M518.3 251.5l4.8-2.7-2.3-0.2-4.8 2.6z" fill="#269dff"/>
<path d="M545.1 237l4.8-3.2-2.4-0.1-4.8 3.2z" fill="#2cfeff"/>
<path d="M543.1 236.8l4.1-2.7"/>
<path d="M337.4 252.2l4.8 0.9-2-2.7-4.8-0.9z" fill="#037cf3"/>
<path d="M337.7 252l-1.9-2.3"/>
<path d="M343.3 255.3l4.8 0.7-2-2.5-4.7-0.8z" fill="#036af3"/>
<path d="M481.9 265.7l4.7-1.9-2.2-0.5-4.7 1.9z" fill="#1d49ff"/>
<path d="M480.1 265.1l4-1.5"/>
<path d="M398.4 272.6l4.8-0.2-2-1.6-4.7 0.2z" fill="#0a1afa"/>
<path d="M402.8 272.3l-1.9-1.3"/>
<path d="M349.2 258.1l4.8 0.7-1.9-2.5-4.8-0.6z" fill="#045bf4"/>
<path d="M347.7 255.8l4 0.8"/>
<path d="M353.6 258.6l-1.9-2"/>
<path d="M434 274.2l4.8-0.9-2.1-1.1-4.8 1z" fill="#121aff"/>
<path d="M467.8 269.5l4.8-1.7-2.2-0.6-4.7 1.6z" fill="#1a35ff"/>
<path d="M424.1 274.5l4.8-0.7-2.1-1.2-4.7 0.7z" fill="#0f17ff"/>
<path d="M382.7 269.6l4.8 0.1-2-1.8-4.8-0.1z" fill="#0824f7"/>
<path d="M387 269.6l-1.9-1.5"/>
<path d="M443.9 273.5l4.8-1.1-2.1-1-4.8 1.1z" fill="#141fff"/>
<path d="M442.3 272.5l3.9-0.8"/>
<path d="M448.2 272.4l-2-0.7"/>
<path d="M355.1 260.8l4.8 0.5-1.9-2.3-4.8-0.6z" fill="#044ef4"/>
<path d="M541 239.6l4.8-3.1-2.4-0.1-4.8 3.1z" fill="#2aedff"/>
<path d="M539 239.4l4.1-2.6"/>
<path d="M545.4 236.7l-2.3 0.1"/>
<path d="M496 261.1l4.8-2.2-2.3-0.4-4.7 2.2z" fill="#2064ff"/>
<path d="M514.3 253.6l4.8-2.6-2.3-0.2-4.8 2.5z" fill="#2592ff"/>
<path d="M518.6 251.1l-2.1 0"/>
<path d="M414.2 274.3l4.8-0.5-2-1.3-4.8 0.5z" fill="#0d17fd"/>
<path d="M412.6 273l4-0.3"/>
<path d="M418.5 273.7l-1.9-1"/>
<path d="M361 263.2l4.8 0.5-1.9-2.2-4.8-0.5z" fill="#0542f5"/>
<path d="M453.9 272.3l4.7-1.3-2.1-0.8-4.8 1.3z" fill="#1627ff"/>
<path d="M536.9 242.2l4.8-3.1-2.4-0.1-4.8 3.1z" fill="#29deff"/>
<path d="M534.9 241.9l4.1-2.5"/>
<path d="M388.6 271.2l4.8 0-2-1.7-4.8 0z" fill="#0820f8"/>
<path d="M387 269.6l4 0.1"/>
<path d="M366.9 265.5l4.8 0.3-1.9-2.1-4.8-0.3z" fill="#0539f5"/>
<path d="M365.4 263.5l4 0.5"/>
<path d="M371.3 265.7l-1.9-1.7"/>
<path d="M404.3 273.7l4.8-0.4-2-1.4-4.8 0.3z" fill="#0b19fb"/>
<path d="M477.9 267.2l4.7-1.9-2.1-0.5-4.8 1.8z" fill="#1b44ff"/>
<path d="M476.1 266.5l4-1.4"/>
<path d="M510.2 255.6l4.8-2.5-2.3-0.2-4.7 2.5z" fill="#2388ff"/>
<path d="M463.8 270.6l4.8-1.5-2.1-0.7-4.8 1.6z" fill="#1831ff"/>
<path d="M492 262.8l4.7-2.1-2.2-0.4-4.7 2.1z" fill="#1f5dff"/>
<path d="M532.8 244.6l4.8-3-2.4-0.1-4.8 3z" fill="#28cfff"/>
<path d="M530.8 244.3l4.1-2.4"/>
<path d="M372.8 267.5l4.8 0.3-1.9-2-4.8-0.3z" fill="#0631f6"/>
<path d="M430 274.8l4.8-0.8-2.1-1.1-4.7 0.8z" fill="#101aff"/>
<path d="M434.4 274l-2-0.8"/>
<path d="M585.1 209.6l4.8-4-2.5 0.1-4.9 4z" fill="#31ff8c"/>
<path d="M580.8 213l4.9-4-2.5 0.1-4.9 4z" fill="#30ff9c"/>
<path d="M585.3 209.3l-2.4 0.2"/>
<path d="M589.3 206.2l4.9-4.1-2.6 0.1-4.8 4.1z" fill="#32ff7b"/>
<path d="M439.9 274.2l4.8-1-2.1-0.9-4.7 1z" fill="#121eff"/>
<path d="M438.3 273.3l4-0.8"/>
<path d="M576.6 216.3l4.9-3.9-2.6 0.1-4.8 3.8z" fill="#30ffac"/>
<path d="M593.6 202.7l4.9-4.2-2.6 0.1-4.9 4.2z" fill="#33ff6b"/>
<path d="M420.1 274.9l4.8-0.6-2-1.2-4.8 0.6z" fill="#0e18fd"/>
<path d="M572.4 219.4l4.8-3.7-2.5 0-4.8 3.8z" fill="#2fffbc"/>
<path d="M597.9 199.1l4.9-4.3-2.6 0.2-4.9 4.3z" fill="#33ff5a"/>
<path d="M598.1 198.7l-2.4 0.3"/>
<path d="M394.5 272.6l4.8-0.2-2-1.5-4.8 0.1z" fill="#091ef9"/>
<path d="M528.7 246.9l4.8-2.8-2.4-0.1-4.8 2.8z" fill="#26c1ff"/>
<path d="M526.8 246.7l4-2.4"/>
<path d="M533.1 244.2l-2.3 0.1"/>
<path d="M568.2 222.5l4.8-3.7-2.5 0.1-4.8 3.7z" fill="#2effcb"/>
<path d="M572.6 219.1l-2.3 0.2"/>
<path d="M449.9 273.2l4.8-1.2-2.1-0.8-4.8 1.2z" fill="#1425ff"/>
<path d="M602.2 195.5l4.9-4.4-2.6 0.1-4.9 4.4z" fill="#34ff4a"/>
<path d="M506.2 257.6l4.8-2.5-2.3-0.2-4.8 2.4z" fill="#217eff"/>
<path d="M378.7 269.4l4.8 0.1-2-1.8-4.8-0.2z" fill="#072bf6"/>
<path d="M564 225.6l4.8-3.6-2.4 0-4.9 3.6z" fill="#2dffdb"/>
<path d="M473.9 268.5l4.7-1.7-2.1-0.6-4.8 1.8z" fill="#193fff"/>
<path d="M472.2 267.9l3.9-1.4"/>
<path d="M478.2 266.9l-2.1-0.4"/>
<path d="M410.2 274.5l4.8-0.4-2-1.3-4.8 0.4z" fill="#0b19fb"/>
<path d="M408.7 273.3l3.9-0.3"/>
<path d="M606.5 191.7l4.9-4.4-2.6 0.1-4.9 4.5z" fill="#34ff38"/>
<path d="M339.3 254.4l4.8 0.9-2-2.6-4.8-0.9z" fill="#0379f3"/>
<path d="M339.7 254.2l-2-2.2"/>
<path d="M488 264.4l4.7-2-2.2-0.4-4.7 2z" fill="#1d56ff"/>
<path d="M492.3 262.5l-2.1-0.2"/>
<path d="M345.2 257.3l4.8 0.8-1.9-2.5-4.8-0.7z" fill="#0368f3"/>
<path d="M343.7 255l4 0.8"/>
<path d="M559.8 228.5l4.8-3.5-2.4 0-4.8 3.5z" fill="#2cffec"/>
<path d="M610.9 187.9l4.9-4.5-2.6 0.1-5 4.5z" fill="#42ff35"/>
<path d="M611.1 187.5l-2.5 0.3"/>
<path d="M351.1 260l4.8 0.7-1.9-2.3-4.8-0.7z" fill="#045af3"/>
<path d="M355.5 260.5l-1.9-1.9"/>
<path d="M459.9 271.7l4.7-1.4-2.1-0.7-4.8 1.4z" fill="#162fff"/>
<path d="M464.2 270.3l-2-0.4"/>
<path d="M524.6 249.2l4.8-2.8-2.3-0.1-4.8 2.8z" fill="#24b4ff"/>
<path d="M522.7 249l4.1-2.3"/>
<path d="M555.6 231.3l4.9-3.4-2.5 0.1-4.8 3.4z" fill="#2bfffd"/>
<path d="M560.1 228.1l-2.3 0.2"/>
<path d="M357 262.6l4.8 0.6-1.9-2.3-4.8-0.5z" fill="#044df4"/>
<path d="M615.2 184l5-4.6-2.7 0.1-4.9 4.7z" fill="#56ff35"/>
<path d="M400.4 273.7l4.8-0.2-2-1.4-4.8 0.2z" fill="#091cf9"/>
<path d="M404.7 273.4l-1.9-1.1"/>
<path d="M502.1 259.4l4.8-2.3-2.2-0.3-4.8 2.3z" fill="#1f75ff"/>
<path d="M506.5 257.2l-2.1 0"/>
<path d="M384.6 271l4.8 0.1-2-1.7-4.8-0.1z" fill="#0726f7"/>
<path d="M383.1 269.4l3.9 0.2"/>
<path d="M389 271l-2-1.4"/>
<path d="M551.5 234.1l4.8-3.3-2.4 0-4.8 3.4z" fill="#29ffff"/>
<path d="M619.6 180l5-4.7-2.7 0.2-5 4.7z" fill="#6dff35"/>
<path d="M624.2 175.6l-2.5 0.3"/>
<path d="M362.9 264.9l4.8 0.5-1.9-2.1-4.8-0.5z" fill="#0543f4"/>
<path d="M361.4 263l4 0.5"/>
<path d="M436 274.9l4.7-0.9-2-1-4.8 1z" fill="#101eff"/>
<path d="M434.4 274l3.9-0.7"/>
<path d="M426 275.3l4.8-0.7-2-1.1-4.8 0.7z" fill="#0e1bfe"/>
<path d="M520.5 251.4l4.8-2.7-2.3-0.1-4.8 2.7z" fill="#23a8ff"/>
<path d="M518.6 251.1l4.1-2.1"/>
<path d="M483.9 265.9l4.8-1.9-2.2-0.4-4.7 1.9z" fill="#1b50ff"/>
<path d="M469.9 269.8l4.8-1.7-2.2-0.5-4.8 1.6z" fill="#173bff"/>
<path d="M468.2 269.2l4-1.3"/>
<path d="M445.9 274l4.8-1.1-2.1-0.8-4.8 1.1z" fill="#1224ff"/>
<path d="M450.2 272.9l-2-0.5"/>
<path d="M547.4 236.8l4.8-3.2-2.4 0-4.8 3.2z" fill="#28ffff"/>
<path d="M416.1 275.2l4.8-0.5-2-1.2-4.8 0.5z" fill="#0c1afc"/>
<path d="M420.5 274.7l-2-1"/>
<path d="M368.8 267l4.8 0.4-1.9-1.9-4.8-0.4z" fill="#053af5"/>
<path d="M373.2 267.3l-1.9-1.6"/>
<path d="M390.5 272.5l4.8-0.1-2-1.5-4.8 0z" fill="#0823f7"/>
<path d="M498.1 261.2l4.8-2.2-2.2-0.3-4.8 2.2z" fill="#1d6dff"/>
<path d="M455.9 272.7l4.8-1.3-2.2-0.7-4.7 1.3z" fill="#142cff"/>
<path d="M543.2 239.4l4.8-3.1-2.4 0-4.8 3.2z" fill="#27fbff"/>
<path d="M547.6 236.4l-2.2 0.3"/>
<path d="M516.4 253.5l4.8-2.6-2.3-0.1-4.7 2.6z" fill="#219dff"/>
<path d="M514.6 253.3l4-2.2"/>
<path d="M520.8 251.1l-2.2 0"/>
<path d="M406.3 274.7l4.8-0.3-2-1.4-4.8 0.4z" fill="#0a1cfa"/>
<path d="M404.7 273.4l4-0.1"/>
<path d="M374.7 269l4.8 0.3-1.9-1.9-4.8-0.3z" fill="#0633f5"/>
<path d="M539.1 241.9l4.8-3-2.4 0-4.8 3.1z" fill="#25ebff"/>
<path d="M479.9 267.3l4.8-1.8-2.2-0.4-4.7 1.8z" fill="#194bff"/>
<path d="M465.9 270.9l4.8-1.5-2.2-0.5-4.8 1.5z" fill="#1538ff"/>
<path d="M464.2 270.3l4-1.1"/>
<path d="M341.2 256.4l4.8 0.9-1.9-2.5-4.8-0.8z" fill="#0376f2"/>
<path d="M339.7 254.2l4 0.8"/>
<path d="M341.6 256.2l-1.9-2"/>
<path d="M512.4 255.5l4.8-2.5-2.3-0.1-4.8 2.5z" fill="#2092ff"/>
<path d="M510.5 255.3l4.1-2"/>
<path d="M494.1 262.9l4.8-2.2-2.3-0.2-4.7 2.1z" fill="#1c66ff"/>
<path d="M432 275.5l4.8-0.9-2.1-0.9-4.8 0.8z" fill="#0e1ffe"/>
<path d="M430.4 274.5l4-0.5"/>
<path d="M436.3 274.6l-1.9-0.6"/>
<path d="M396.4 273.7l4.8-0.1-2-1.5-4.8 0.1z" fill="#0821f8"/>
<path d="M347.1 259.2l4.8 0.8-1.9-2.3-4.8-0.8z" fill="#0367f3"/>
<path d="M422.1 275.7l4.8-0.6-2.1-1.1-4.8 0.6z" fill="#0c1cfc"/>
<path d="M441.9 274.8l4.8-1-2.1-0.8-4.7 1z" fill="#1023ff"/>
<path d="M535 244.4l4.8-3-2.4 0-4.8 3z" fill="#24dcff"/>
<path d="M380.6 270.7l4.8 0.2-1.9-1.7-4.8-0.2z" fill="#062df6"/>
<path d="M379.1 269.1l4 0.3"/>
<path d="M353 261.9l4.8 0.6-1.9-2.2-4.8-0.7z" fill="#0359f3"/>
<path d="M357.4 262.4l-1.9-1.9"/>
<path d="M412.2 275.4l4.8-0.4-2-1.2-4.8 0.5z" fill="#0a1dfa"/>
<path d="M587.4 209.3l4.9-4.1-2.5 0.2-4.9 4.1z" fill="#2eff7b"/>
<path d="M451.9 273.6l4.8-1.2-2.1-0.7-4.8 1.3z" fill="#122bff"/>
<path d="M583.2 212.6l4.9-3.9-2.6 0.2-4.8 3.9z" fill="#2dff8a"/>
<path d="M587.7 208.9l-2.4 0.4"/>
<path d="M591.7 205.8l4.9-4.1-2.6 0.2-4.8 4.2z" fill="#2eff6b"/>
<path d="M578.9 215.9l4.9-3.9-2.5 0.2-4.9 3.9z" fill="#2cff9a"/>
<path d="M596 202.3l4.9-4.2-2.6 0.3-4.9 4.2z" fill="#2fff5b"/>
<path d="M358.9 264.3l4.8 0.6-1.9-2.1-4.8-0.6z" fill="#044ef4"/>
<path d="M357.4 262.4l4 0.6"/>
<path d="M574.7 219.1l4.9-3.8-2.5 0.2-4.9 3.8z" fill="#2bffa9"/>
<path d="M600.3 198.7l4.9-4.3-2.6 0.3-4.9 4.3z" fill="#30ff4a"/>
<path d="M600.5 198.3l-2.4 0.4"/>
<path d="M530.9 246.8l4.8-2.9-2.4 0-4.8 2.9z" fill="#23ceff"/>
<path d="M535.3 244l-2.2 0.2"/>
<path d="M508.3 257.5l4.8-2.4-2.2-0.1-4.8 2.4z" fill="#1e89ff"/>
<path d="M506.5 257.2l4-1.9"/>
<path d="M475.9 268.7l4.8-1.7-2.1-0.4-4.8 1.7z" fill="#1747ff"/>
<path d="M480.3 267.1l-2.1-0.2"/>
<path d="M570.5 222.2l4.9-3.7-2.5 0.2-4.9 3.7z" fill="#2affb8"/>
<path d="M575 218.7l-2.4 0.4"/>
<path d="M604.6 195.1l5-4.4-2.7 0.2-4.9 4.4z" fill="#30ff3a"/>
<path d="M490 264.5l4.8-2.1-2.2-0.2-4.8 2z" fill="#1a5fff"/>
<path d="M494.4 262.6l-2.1-0.1"/>
<path d="M386.5 272.3l4.8 0-1.9-1.5-4.9-0.1z" fill="#0729f6"/>
<path d="M390.9 272.2l-1.9-1.2"/>
<path d="M566.3 225.2l4.9-3.6-2.5 0.2-4.9 3.6z" fill="#29ffc8"/>
<path d="M364.8 266.5l4.8 0.5-1.9-2-4.8-0.5z" fill="#0444f4"/>
<path d="M402.3 274.7l4.8-0.2-2-1.3-4.8 0.2z" fill="#0920f8"/>
<path d="M400.7 273.5l4-0.1"/>
<path d="M406.6 274.5l-1.9-1.1"/>
<path d="M609 191.3l4.9-4.4-2.6 0.2-5 4.5z" fill="#38ff31"/>
<path d="M461.9 272l4.8-1.4-2.1-0.5-4.8 1.4z" fill="#1435ff"/>
<path d="M460.2 271.4l4-1.1"/>
<path d="M466.2 270.7l-2-0.4"/>
<path d="M562.1 228.1l4.9-3.5-2.5 0.2-4.8 3.5z" fill="#28ffd7"/>
<path d="M613.3 187.5l5-4.6-2.7 0.3-4.9 4.5z" fill="#4bff31"/>
<path d="M613.5 187.1l-2.4 0.4"/>
<path d="M526.8 249l4.8-2.8-2.3 0.1-4.8 2.7z" fill="#21c1ff"/>
<path d="M428 276l4.8-0.8-2-0.9-4.8 0.7z" fill="#0d20fc"/>
<path d="M426.4 275l4-0.5"/>
<path d="M557.9 231l4.9-3.4-2.5 0.2-4.8 3.4z" fill="#27ffe6"/>
<path d="M562.4 227.8l-2.3 0.3"/>
<path d="M370.7 268.5l4.8 0.4-1.9-1.8-4.8-0.4z" fill="#053cf4"/>
<path d="M375.1 268.8l-1.9-1.5"/>
<path d="M437.9 275.4l4.8-0.9-2-0.8-4.8 0.9z" fill="#0e23fe"/>
<path d="M504.3 259.3l4.8-2.3-2.3-0.1-4.8 2.3z" fill="#1c80ff"/>
<path d="M502.5 259.1l4-1.9"/>
<path d="M508.6 257.2l-2.1 0"/>
<path d="M617.7 183.6l5-4.7-2.7 0.3-5 4.6z" fill="#61ff31"/>
<path d="M418.1 276l4.8-0.5-2-1.1-4.8 0.5z" fill="#0b1efb"/>
<path d="M422.4 275.5l-1.9-0.8"/>
<path d="M447.9 274.5l4.8-1.2-2.1-0.6-4.8 1.1z" fill="#102aff"/>
<path d="M452.2 273.4l-2-0.5"/>
<path d="M392.4 273.6l4.8 0-1.9-1.5-4.9 0z" fill="#0726f7"/>
<path d="M553.8 233.8l4.8-3.4-2.4 0.2-4.8 3.4z" fill="#26fff7"/>
<path d="M622.1 179.6l5-4.7-2.7 0.3-5 4.7z" fill="#78ff32"/>
<path d="M626.7 175.1l-2.5 0.5"/>
<path d="M471.9 270l4.8-1.7-2.1-0.4-4.8 1.7z" fill="#1543ff"/>
<path d="M486 266l4.8-1.9-2.2-0.3-4.8 1.9z" fill="#185aff"/>
<path d="M522.7 251.2l4.8-2.7-2.3 0.1-4.8 2.6z" fill="#20b5ff"/>
<path d="M408.2 275.6l4.8-0.3-2-1.2-4.8 0.3z" fill="#0920f9"/>
<path d="M376.6 270.3l4.8 0.3-1.9-1.7-4.8-0.3z" fill="#0535f5"/>
<path d="M375.1 268.8l4 0.3"/>
<path d="M549.6 236.5l4.8-3.3-2.4 0.2-4.8 3.2z" fill="#25ffff"/>
<path d="M343 258.3l4.9 0.9-1.9-2.3-4.9-0.9z" fill="#0375f2"/>
<path d="M343.4 258.1l-1.8-1.9"/>
<path d="M457.9 273l4.8-1.3-2.1-0.5-4.8 1.3z" fill="#1233ff"/>
<path d="M456.2 272.4l4-1"/>
<path d="M500.2 261.1l4.8-2.2-2.2-0.1-4.8 2.2z" fill="#1b78ff"/>
<path d="M498.4 260.9l4.1-1.8"/>
<path d="M349 261l4.8 0.8-1.9-2.2-4.8-0.8z" fill="#0366f3"/>
<path d="M518.6 253.3l4.8-2.6-2.3 0.1-4.8 2.5z" fill="#1ea9ff"/>
<path d="M523 250.9l-2.2 0.2"/>
<path d="M545.5 239.1l4.8-3.2-2.4 0.2-4.8 3.2z" fill="#23ffff"/>
<path d="M549.9 236.1l-2.3 0.3"/>
<path d="M354.9 263.6l4.8 0.6-1.9-2-4.8-0.7z" fill="#035af3"/>
<path d="M353.4 261.6l4 0.8"/>
<path d="M359.3 264.1l-1.9-1.7"/>
<path d="M398.3 274.7l4.8-0.1-1.9-1.3-4.9 0.1z" fill="#0725f7"/>
<path d="M396.8 273.5l3.9 0"/>
<path d="M382.5 272l4.8 0.2-1.9-1.6-4.8-0.2z" fill="#0630f5"/>
<path d="M482 267.4l4.8-1.8-2.2-0.3-4.8 1.9z" fill="#1654ff"/>
<path d="M433.9 276l4.9-0.8-2.1-0.8-4.8 0.8z" fill="#0d24fd"/>
<path d="M438.3 275.2l-2-0.6"/>
<path d="M467.9 271.1l4.8-1.5-2.1-0.4-4.8 1.5z" fill="#1340ff"/>
<path d="M424 276.4l4.8-0.7-2-0.9-4.8 0.6z" fill="#0b21fb"/>
<path d="M422.4 275.5l4-0.5"/>
<path d="M541.3 241.6l4.9-3-2.4 0.1-4.8 3.1z" fill="#22faff"/>
<path d="M360.8 265.9l4.8 0.6-1.9-2-4.8-0.6z" fill="#044ff3"/>
<path d="M443.9 275.2l4.8-1-2.1-0.7-4.8 1.1z" fill="#0f2afe"/>
<path d="M496.2 262.8l4.8-2.1-2.2-0.1-4.8 2.1z" fill="#1971ff"/>
<path d="M494.4 262.6l4-1.7"/>
<path d="M514.5 255.4l4.8-2.5-2.2 0-4.8 2.5z" fill="#1d9fff"/>
<path d="M414.1 276.2l4.8-0.4-2-1-4.8 0.4z" fill="#0921f9"/>
<path d="M366.7 268l4.8 0.5-1.9-1.9-4.8-0.4z" fill="#0446f4"/>
<path d="M537.2 244.1l4.8-3-2.3 0.2-4.8 2.9z" fill="#21ebff"/>
<path d="M453.9 274l4.8-1.3-2.1-0.5-4.8 1.2z" fill="#1032ff"/>
<path d="M452.2 273.4l4-1"/>
<path d="M388.4 273.4l4.8 0.1-1.9-1.5-4.8-0.1z" fill="#062df6"/>
<path d="M392.8 273.4l-1.9-1.2"/>
<path d="M404.2 275.7l4.8-0.3-1.9-1.1-4.9 0.2z" fill="#0824f8"/>
<path d="M408.6 275.4l-2-0.9"/>
<path d="M589.8 208.8l4.9-4.1-2.5 0.4-4.9 4z" fill="#2aff69"/>
<path d="M587.7 208.9l4.2-3.5"/>
<path d="M585.6 212.1l4.9-3.9-2.6 0.3-4.9 4z" fill="#29ff79"/>
<path d="M583.4 212.2l4.3-3.3"/>
<path d="M590.1 208.4l-2.4 0.5"/>
<path d="M594.1 205.3l4.9-4.1-2.5 0.4-4.9 4.1z" fill="#2bff5a"/>
<path d="M591.9 205.4l4.3-3.5"/>
<path d="M581.3 215.4l4.9-3.9-2.5 0.4-4.9 3.8z" fill="#28ff88"/>
<path d="M579.2 215.5l4.2-3.3"/>
<path d="M478 268.8l4.8-1.8-2.2-0.2-4.8 1.7z" fill="#1550ff"/>
<path d="M482.3 267.1l-2 0"/>
<path d="M598.4 201.8l5-4.2-2.6 0.4-5 4.2z" fill="#2bff4a"/>
<path d="M596.2 201.9l4.3-3.6"/>
<path d="M510.5 257.3l4.8-2.4-2.3 0-4.8 2.4z" fill="#1b95ff"/>
<path d="M577.1 218.6l4.9-3.8-2.6 0.3-4.8 3.8z" fill="#28ff97"/>
<path d="M575 218.7l4.2-3.2"/>
<path d="M533.1 246.4l4.8-2.8-2.3 0.1-4.8 2.9z" fill="#1fddff"/>
<path d="M537.5 243.7l-2.2 0.3"/>
<path d="M372.6 269.9l4.8 0.4-1.9-1.7-4.8-0.4z" fill="#043ef4"/>
<path d="M371.1 268.3l4 0.5"/>
<path d="M377 270.1l-1.9-1.3"/>
<path d="M602.7 198.2l5-4.3-2.6 0.4-5 4.3z" fill="#2cff3a"/>
<path d="M600.5 198.3l4.3-3.6"/>
<path d="M603 197.8l-2.5 0.5"/>
<path d="M492.1 264.4l4.8-2-2.2-0.1-4.8 2z" fill="#176aff"/>
<path d="M490.4 264.2l4-1.6"/>
<path d="M496.5 262.5l-2.1 0.1"/>
<path d="M463.9 272.2l4.8-1.4-2.1-0.4-4.8 1.4z" fill="#123dff"/>
<path d="M468.3 270.9l-2.1-0.2"/>
<path d="M572.8 221.7l4.9-3.7-2.5 0.3-4.8 3.7z" fill="#27ffa5"/>
<path d="M570.8 221.8l4.2-3.1"/>
<path d="M577.3 218.2l-2.3 0.5"/>
<path d="M607.1 194.5l4.9-4.3-2.6 0.3-4.9 4.4z" fill="#2fff2d"/>
<path d="M604.8 194.7l4.4-3.8"/>
<path d="M568.6 224.7l4.9-3.6-2.5 0.3-4.8 3.6z" fill="#26ffb4"/>
<path d="M566.6 224.8l4.2-3"/>
<path d="M611.4 190.8l5-4.5-2.6 0.4-5 4.5z" fill="#42ff2d"/>
<path d="M609.2 190.9l4.3-3.8"/>
<path d="M429.9 276.5l4.9-0.7-2-0.8-4.9 0.7z" fill="#0b25fb"/>
<path d="M394.3 274.6l4.8 0-1.9-1.3-4.9 0z" fill="#062af6"/>
<path d="M392.8 273.4l4 0.1"/>
<path d="M439.9 275.9l4.8-0.9-2-0.7-4.8 0.9z" fill="#0d2afd"/>
<path d="M344.9 260.1l4.9 0.9-1.9-2.2-4.9-0.9z" fill="#0275f2"/>
<path d="M345.3 260l-1.9-1.9"/>
<path d="M420 276.7l4.8-0.5-1.9-0.9-4.9 0.5z" fill="#0a24f9"/>
<path d="M418.5 275.8l3.9-0.3"/>
<path d="M424.4 276.1l-2-0.6"/>
<path d="M564.4 227.7l4.9-3.5-2.5 0.3-4.8 3.5z" fill="#25ffc2"/>
<path d="M562.4 227.8l4.2-3"/>
<path d="M529 248.7l4.8-2.8-2.3 0.2-4.8 2.8z" fill="#1ecfff"/>
<path d="M615.8 186.9l5-4.5-2.7 0.4-4.9 4.5z" fill="#56ff2e"/>
<path d="M613.5 187.1l4.4-3.9"/>
<path d="M616 186.6l-2.5 0.5"/>
<path d="M378.5 271.6l4.8 0.3-1.9-1.6-4.8-0.3z" fill="#0538f4"/>
<path d="M350.8 262.7l4.9 0.8-1.9-2-4.8-0.8z" fill="#0367f2"/>
<path d="M349.4 260.8l4 0.8"/>
<path d="M506.4 259.2l4.8-2.3-2.2 0-4.8 2.3z" fill="#198cff"/>
<path d="M510.8 257l-2.2 0.2"/>
<path d="M449.9 274.8l4.8-1.1-2.1-0.6-4.8 1.2z" fill="#0f31fe"/>
<path d="M448.3 274.2l3.9-0.8"/>
<path d="M454.2 273.7l-2-0.3"/>
<path d="M560.2 230.5l4.9-3.4-2.5 0.3-4.8 3.4z" fill="#24ffd1"/>
<path d="M558.2 230.6l4.2-2.8"/>
<path d="M564.7 227.3l-2.3 0.5"/>
<path d="M620.2 183l5-4.6-2.7 0.4-5 4.6z" fill="#6dff2e"/>
<path d="M617.9 183.2l4.4-4"/>
<path d="M410.1 276.4l4.8-0.3-1.9-1.1-4.9 0.3z" fill="#0825f8"/>
<path d="M473.9 270l4.9-1.6-2.2-0.2-4.8 1.6z" fill="#134cff"/>
<path d="M356.8 265.1l4.8 0.7-1.9-1.9-4.8-0.7z" fill="#035bf3"/>
<path d="M361.2 265.7l-1.9-1.6"/>
<path d="M488.1 265.9l4.8-1.9-2.2-0.1-4.8 1.9z" fill="#1664ff"/>
<path d="M486.4 265.7l4-1.5"/>
<path d="M556 233.3l4.9-3.3-2.4 0.3-4.9 3.3z" fill="#22ffe0"/>
<path d="M554 233.4l4.2-2.8"/>
<path d="M524.9 250.9l4.8-2.7-2.3 0.2-4.8 2.7z" fill="#1dc3ff"/>
<path d="M624.6 179l5-4.7-2.7 0.4-5 4.7z" fill="#84ff2e"/>
<path d="M622.3 179.2l4.4-4.1"/>
<path d="M629.2 174.6l-2.5 0.5"/>
<path d="M459.9 273.2l4.8-1.3-2.1-0.4-4.8 1.3z" fill="#103bff"/>
<path d="M384.4 273.1l4.8 0.2-1.9-1.4-4.8-0.2z" fill="#0534f5"/>
<path d="M400.2 275.6l4.8-0.1-1.9-1.1-4.9 0.1z" fill="#0729f6"/>
<path d="M362.7 267.3l4.8 0.6-1.9-1.8-4.8-0.6z" fill="#0351f3"/>
<path d="M551.9 236l4.8-3.2-2.4 0.3-4.8 3.2z" fill="#21ffef"/>
<path d="M549.9 236.1l4.1-2.7"/>
<path d="M502.3 260.9l4.9-2.2-2.3 0-4.8 2.3z" fill="#1884ff"/>
<path d="M520.8 253l4.8-2.6-2.3 0.2-4.8 2.6z" fill="#1bb7ff"/>
<path d="M525.2 250.6l-2.2 0.3"/>
<path d="M425.9 276.9l4.9-0.6-2-0.8-4.8 0.6z" fill="#0a28fa"/>
<path d="M435.9 276.5l4.8-0.8-2-0.7-4.8 0.8z" fill="#0c2bfb"/>
<path d="M440.3 275.7l-2-0.5"/>
<path d="M547.7 238.6l4.9-3.1-2.4 0.3-4.9 3.1z" fill="#20ffff"/>
<path d="M545.7 238.7l4.2-2.6"/>
<path d="M552.2 235.7l-2.3 0.4"/>
<path d="M368.6 269.3l4.8 0.5-1.9-1.6-4.8-0.5z" fill="#0449f3"/>
<path d="M367.1 267.8l4 0.5"/>
<path d="M484.1 267.4l4.8-1.8-2.2-0.2-4.8 1.8z" fill="#145fff"/>
<path d="M482.3 267.1l4.1-1.4"/>
<path d="M469.9 271.2l4.9-1.5-2.2-0.3-4.8 1.6z" fill="#1149ff"/>
<path d="M416 276.9l4.9-0.4-2-0.9-4.9 0.4z" fill="#0927f8"/>
<path d="M414.5 276l4-0.2"/>
<path d="M445.9 275.5l4.8-1-2-0.5-4.9 1z" fill="#0d31fd"/>
<path d="M444.3 275l4-0.8"/>
<path d="M390.3 274.4l4.8 0.1-1.9-1.3-4.8-0.1z" fill="#0531f5"/>
<path d="M388.8 273.2l4 0.2"/>
<path d="M394.7 274.4l-1.9-1"/>
<path d="M543.6 241.2l4.8-3.1-2.4 0.3-4.8 3.1z" fill="#1fffff"/>
<path d="M541.6 241.3l4.1-2.6"/>
<path d="M498.3 262.6l4.8-2.1-2.2 0-4.8 2.1z" fill="#167dff"/>
<path d="M516.7 255.1l4.8-2.5-2.3 0.1-4.8 2.5z" fill="#1aadff"/>
<path d="M406.1 276.4l4.9-0.1-2-1.1-4.9 0.2z" fill="#072af7"/>
<path d="M410.5 276.2l-1.9-0.8"/>
<path d="M455.9 274.2l4.8-1.3-2.1-0.3-4.8 1.2z" fill="#0f3afe"/>
<path d="M374.5 271.1l4.8 0.4-1.9-1.5-4.8-0.4z" fill="#0442f4"/>
<path d="M378.9 271.4l-1.9-1.3"/>
<path d="M539.4 243.6l4.9-2.9-2.4 0.2-4.8 3z" fill="#1efbff"/>
<path d="M537.5 243.7l4.1-2.4"/>
<path d="M346.8 261.8l4.9 0.9-1.9-2-4.9-0.9z" fill="#0275f2"/>
<path d="M345.3 260l4.1 0.8"/>
<path d="M347.2 261.7l-1.9-1.7"/>
<path d="M480 268.7l4.9-1.7-2.2-0.1-4.8 1.7z" fill="#125bff"/>
<path d="M478.3 268.5l4-1.4"/>
<path d="M484.4 267.1l-2.1 0"/>
<path d="M352.7 264.3l4.9 0.8-1.9-1.9-4.9-0.8z" fill="#0268f2"/>
<path d="M396.2 275.5l4.8 0-1.9-1.1-4.8-0.1z" fill="#0630f5"/>
<path d="M592.2 208.2l5-4.1-2.6 0.5-4.9 4z" fill="#27ff58"/>
<path d="M587.9 211.5l5-3.9-2.6 0.4-4.9 4z" fill="#26ff67"/>
<path d="M592.5 207.8l-2.4 0.6"/>
<path d="M596.5 204.7l5-4.1-2.6 0.5-4.9 4.1z" fill="#27ff48"/>
<path d="M465.9 272.3l4.8-1.4-2.1-0.3-4.8 1.4z" fill="#1047ff"/>
<path d="M470.3 271l-2-0.1"/>
<path d="M512.6 257l4.8-2.4-2.2 0.2-4.8 2.4z" fill="#18a3ff"/>
<path d="M380.4 272.7l4.8 0.3-1.9-1.4-4.8-0.3z" fill="#043df4"/>
<path d="M583.7 214.8l4.9-3.9-2.5 0.5-4.9 3.9z" fill="#25ff75"/>
<path d="M600.9 201.2l4.9-4.2-2.6 0.5-4.9 4.2z" fill="#28ff39"/>
<path d="M494.2 264.2l4.9-2-2.2 0-4.9 2.1z" fill="#1576ff"/>
<path d="M498.6 262.4l-2.1 0.1"/>
<path d="M431.9 277l4.8-0.7-2-0.7-4.8 0.7z" fill="#0a2dfa"/>
<path d="M535.3 246l4.8-2.9-2.3 0.3-4.8 2.9z" fill="#1cedff"/>
<path d="M533.4 246.1l4.1-2.4"/>
<path d="M539.7 243.3l-2.2 0.4"/>
<path d="M579.4 218l4.9-3.8-2.5 0.5-4.9 3.7z" fill="#24ff84"/>
<path d="M605.2 197.6l4.9-4.3-2.6 0.5-4.9 4.3z" fill="#29ff29"/>
<path d="M605.4 197.2l-2.4 0.6"/>
<path d="M421.9 277.2l4.9-0.5-2-0.7-4.8 0.5z" fill="#092af9"/>
<path d="M426.4 276.7l-2-0.6"/>
<path d="M441.9 276.2l4.8-0.9-2-0.5-4.9 0.9z" fill="#0c32fb"/>
<path d="M440.3 275.7l4-0.7"/>
<path d="M358.6 266.6l4.9 0.7-1.9-1.8-4.9-0.7z" fill="#035df2"/>
<path d="M363.1 267.2l-1.9-1.5"/>
<path d="M575.2 221.1l4.9-3.7-2.5 0.5-4.9 3.7z" fill="#23ff92"/>
<path d="M579.7 217.6l-2.4 0.6"/>
<path d="M609.5 193.9l5-4.4-2.6 0.5-5 4.4z" fill="#39ff29"/>
<path d="M412 277.1l4.9-0.3-2-0.9-4.8 0.3z" fill="#072bf7"/>
<path d="M410.5 276.2l4-0.2"/>
<path d="M570.9 224.1l4.9-3.6-2.4 0.5-4.9 3.6z" fill="#22ffa0"/>
<path d="M613.9 190.1l5-4.4-2.7 0.5-4.9 4.4z" fill="#4dff2a"/>
<path d="M451.9 275l4.8-1.1-2.1-0.4-4.8 1.1z" fill="#0d3afd"/>
<path d="M456.3 273.9l-2.1-0.2"/>
<path d="M531.2 248.3l4.8-2.8-2.3 0.3-4.8 2.8z" fill="#1bdfff"/>
<path d="M529.3 248.4l4.1-2.3"/>
<path d="M566.7 227.1l4.9-3.5-2.4 0.4-4.9 3.5z" fill="#21ffae"/>
<path d="M364.5 268.7l4.9 0.6-1.9-1.7-4.8-0.6z" fill="#0354f3"/>
<path d="M363.1 267.2l4 0.6"/>
<path d="M618.3 186.3l5-4.6-2.7 0.5-5 4.6z" fill="#63ff2a"/>
<path d="M618.5 185.9l-2.5 0.7"/>
<path d="M508.5 258.9l4.9-2.3-2.3 0.1-4.8 2.3z" fill="#179aff"/>
<path d="M512.9 256.7l-2.1 0.3"/>
<path d="M386.3 274.1l4.8 0.2-1.9-1.3-4.8-0.2z" fill="#0539f4"/>
<path d="M384.8 272.9l4 0.3"/>
<path d="M476 270l4.8-1.6-2.1-0.1-4.8 1.6z" fill="#1157ff"/>
<path d="M474.3 269.8l4-1.3"/>
<path d="M562.5 230l4.9-3.5-2.4 0.5-4.9 3.4z" fill="#20ffbc"/>
<path d="M567 226.7l-2.3 0.6"/>
<path d="M402.1 276.4l4.9-0.1-2-1-4.8 0.1z" fill="#062ff6"/>
<path d="M622.7 182.4l5-4.7-2.7 0.6-5 4.6z" fill="#7aff2b"/>
<path d="M490.2 265.8l4.8-1.9-2.2 0-4.8 1.9z" fill="#1370ff"/>
<path d="M461.9 273.3l4.8-1.3-2.1-0.2-4.8 1.3z" fill="#0e45fe"/>
<path d="M527.1 250.5l4.8-2.7-2.3 0.3-4.8 2.7z" fill="#1ad3ff"/>
<path d="M525.2 250.6l4.1-2.2"/>
<path d="M558.3 232.8l4.9-3.4-2.4 0.4-4.9 3.4z" fill="#1fffca"/>
<path d="M370.4 270.6l4.9 0.5-1.9-1.5-4.8-0.6z" fill="#034cf3"/>
<path d="M627.1 178.4l5-4.8-2.7 0.6-5 4.7z" fill="#92ff2b"/>
<path d="M631.8 173.9l-2.6 0.7"/>
<path d="M427.9 277.4l4.8-0.6-1.9-0.7-4.9 0.6z" fill="#092ff9"/>
<path d="M504.4 260.7l4.9-2.3-2.2 0.2-4.9 2.2z" fill="#1592ff"/>
<path d="M554.1 235.5l4.9-3.3-2.4 0.4-4.8 3.3z" fill="#1effd7"/>
<path d="M437.9 276.8l4.8-0.8-2-0.5-4.9 0.8z" fill="#0a33fa"/>
<path d="M436.3 276.3l4-0.6"/>
<path d="M442.3 276l-2-0.3"/>
<path d="M392.2 275.3l4.8 0.1-1.9-1.1-4.8-0.1z" fill="#0537f5"/>
<path d="M396.6 275.4l-1.9-1"/>
<path d="M417.9 277.5l4.9-0.4-2-0.8-4.8 0.4z" fill="#082ef7"/>
<path d="M522.9 252.6l4.9-2.6-2.3 0.3-4.8 2.6z" fill="#18c7ff"/>
<path d="M521.1 252.7l4.1-2.1"/>
<path d="M527.4 250.2l-2.2 0.4"/>
<path d="M447.8 275.7l4.9-1-2-0.3-4.9 1z" fill="#0c3afb"/>
<path d="M376.3 272.3l4.9 0.4-1.9-1.4-4.8-0.4z" fill="#0446f3"/>
<path d="M380.8 272.6l-1.9-1.2"/>
<path d="M348.7 263.4l4.9 0.9-1.9-1.9-4.9-0.9z" fill="#0277f2"/>
<path d="M349.1 263.3l-1.9-1.6"/>
<path d="M472 271.2l4.8-1.5-2.1-0.2-4.8 1.6z" fill="#1054ff"/>
<path d="M470.3 271l4-1.2"/>
<path d="M486.1 267.2l4.9-1.8-2.2 0-4.8 1.8z" fill="#126bff"/>
<path d="M550 238.1l4.8-3.2-2.3 0.4-4.9 3.2z" fill="#1dffe6"/>
<path d="M554.4 235.1l-2.2 0.6"/>
<path d="M408 277.1l4.9-0.2-2-0.9-4.8 0.2z" fill="#0630f6"/>
<path d="M406.5 276.3l4-0.1"/>
<path d="M412.4 276.9l-1.9-0.7"/>
<path d="M354.6 265.8l4.9 0.8-1.9-1.8-4.9-0.8z" fill="#026bf2"/>
<path d="M457.9 274.2l4.8-1.2-2-0.2-4.9 1.2z" fill="#0d44fd"/>
<path d="M500.4 262.4l4.8-2.2-2.2 0.2-4.8 2.1z" fill="#148bff"/>
<path d="M545.8 240.6l4.9-3-2.4 0.4-4.8 3z" fill="#1cfff4"/>
<path d="M518.8 254.7l4.9-2.5-2.3 0.2-4.8 2.5z" fill="#17bcff"/>
<path d="M517 254.8l4.1-2.1"/>
<path d="M382.2 273.8l4.9 0.3-1.9-1.3-4.8-0.3z" fill="#0442f4"/>
<path d="M380.8 272.6l4 0.3"/>
<path d="M398.1 276.3l4.9 0-2-1-4.8 0z" fill="#0536f5"/>
<path d="M360.5 268l4.9 0.7-1.9-1.7-4.9-0.7z" fill="#0260f2"/>
<path d="M359 266.5l4.1 0.7"/>
<path d="M365 268.6l-1.9-1.4"/>
<path d="M541.7 243.1l4.8-3-2.3 0.4-4.9 3z" fill="#1bffff"/>
<path d="M482.1 268.6l4.8-1.7-2.1 0-4.8 1.7z" fill="#1167ff"/>
<path d="M486.5 267l-2.1 0.1"/>
<path d="M433.8 277.3l4.9-0.7-2-0.5-4.9 0.7z" fill="#0935f9"/>
<path d="M432.3 276.8l4-0.5"/>
<path d="M423.9 277.7l4.9-0.5-2-0.6-4.9 0.4z" fill="#0832f8"/>
<path d="M428.3 277.2l-1.9-0.5"/>
<path d="M467.9 272.3l4.9-1.4-2.1-0.2-4.9 1.5z" fill="#0e52fe"/>
<path d="M466.3 272.1l4-1.1"/>
<path d="M472.3 270.9l-2 0.1"/>
<path d="M366.4 270l4.9 0.6-1.9-1.6-4.9-0.6z" fill="#0358f2"/>
<path d="M443.8 276.4l4.9-0.9-2-0.4-4.9 0.9z" fill="#0a3bfa"/>
<path d="M514.8 256.6l4.8-2.4-2.2 0.3-4.9 2.4z" fill="#16b3ff"/>
<path d="M512.9 256.7l4.1-1.9"/>
<path d="M413.9 277.6l4.9-0.3-1.9-0.7-4.9 0.3z" fill="#0732f6"/>
<path d="M496.3 264l4.9-2-2.2 0.1-4.9 2z" fill="#1384ff"/>
<path d="M500.7 262.1l-2.1 0.3"/>
<path d="M594.6 207.4l5-4-2.6 0.6-4.9 4z" fill="#24ff46"/>
<path d="M590.3 210.8l5-4-2.6 0.6-4.9 4z" fill="#23ff55"/>
<path d="M594.9 207.1l-2.4 0.7"/>
<path d="M599 204l4.9-4.2-2.6 0.6-4.9 4.2z" fill="#24ff37"/>
<path d="M537.5 245.5l4.9-2.9-2.3 0.4-4.9 2.9z" fill="#1afeff"/>
<path d="M542 242.8l-2.3 0.5"/>
<path d="M586.1 214.1l4.9-3.9-2.5 0.6-4.9 3.9z" fill="#22ff63"/>
<path d="M603.3 200.5l5-4.3-2.6 0.6-5 4.3z" fill="#25ff28"/>
<path d="M388.2 275l4.8 0.3-1.9-1.2-4.8-0.2z" fill="#043ff4"/>
<path d="M581.8 217.3l4.9-3.8-2.5 0.6-4.9 3.8z" fill="#21ff71"/>
<path d="M607.6 196.8l5-4.3-2.6 0.6-5 4.4z" fill="#33ff26"/>
<path d="M607.9 196.5l-2.5 0.7"/>
<path d="M453.8 275.1l4.9-1.1-2-0.3-4.9 1.1z" fill="#0c44fb"/>
<path d="M458.3 274l-2-0.1"/>
<path d="M577.5 220.4l5-3.7-2.5 0.6-4.9 3.7z" fill="#20ff7f"/>
<path d="M582.1 216.9l-2.4 0.7"/>
<path d="M612 193.2l5-4.4-2.6 0.6-5 4.4z" fill="#46ff26"/>
<path d="M404 277.1l4.9-0.1-2-0.9-4.8 0.1z" fill="#0636f5"/>
<path d="M402.5 276.3l4 0"/>
<path d="M372.3 271.7l4.9 0.6-1.9-1.5-4.9-0.5z" fill="#0351f3"/>
<path d="M573.3 223.4l4.9-3.6-2.5 0.6-4.9 3.6z" fill="#1fff8d"/>
<path d="M616.4 189.4l5-4.5-2.7 0.6-4.9 4.5z" fill="#5bff27"/>
<path d="M533.4 247.7l4.9-2.7-2.4 0.4-4.8 2.8z" fill="#18f1ff"/>
<path d="M510.7 258.5l4.8-2.3-2.2 0.2-4.9 2.3z" fill="#15aaff"/>
<path d="M508.9 258.6l4-1.9"/>
<path d="M515.1 256.3l-2.2 0.4"/>
<path d="M478 269.8l4.9-1.6-2.1 0-4.9 1.7z" fill="#0f63ff"/>
<path d="M569.1 226.4l4.9-3.5-2.5 0.5-4.9 3.6z" fill="#1eff9a"/>
<path d="M620.8 185.5l5-4.5-2.7 0.6-5 4.6z" fill="#71ff27"/>
<path d="M621 185.1l-2.5 0.8"/>
<path d="M492.3 265.5l4.8-1.9-2.1 0.1-4.9 1.9z" fill="#117eff"/>
<path d="M463.9 273.3l4.9-1.3-2.1-0.1-4.9 1.3z" fill="#0d50fd"/>
<path d="M462.3 273.1l4-1"/>
<path d="M564.8 229.3l4.9-3.5-2.4 0.6-4.9 3.4z" fill="#1effa7"/>
<path d="M569.3 226.1l-2.3 0.6"/>
<path d="M625.2 181.6l5-4.6-2.6 0.6-5.1 4.6z" fill="#88ff28"/>
<path d="M350.5 264.9l4.9 0.9-1.8-1.8-4.9-0.9z" fill="#0279f2"/>
<path d="M351 264.8l-1.9-1.5"/>
<path d="M394.1 276.1l4.9 0.1-2-1-4.8-0.1z" fill="#043df4"/>
<path d="M398.5 276.2l-1.9-0.8"/>
<path d="M429.8 277.7l4.9-0.6-2-0.5-4.8 0.6z" fill="#0838f8"/>
<path d="M428.3 277.2l4-0.4"/>
<path d="M378.2 273.3l4.9 0.4-1.9-1.3-4.9-0.4z" fill="#034bf3"/>
<path d="M376.8 272.1l4 0.5"/>
<path d="M382.7 273.6l-1.9-1"/>
<path d="M529.3 250l4.8-2.7-2.3 0.4-4.8 2.7z" fill="#17e4ff"/>
<path d="M419.9 277.9l4.9-0.4-2-0.6-4.9 0.4z" fill="#0736f7"/>
<path d="M439.8 277l4.9-0.8-2-0.4-4.9 0.8z" fill="#093cf9"/>
<path d="M444.2 276.2l-1.9-0.2"/>
<path d="M560.6 232.1l4.9-3.4-2.4 0.6-4.9 3.3z" fill="#1dffb4"/>
<path d="M629.7 177.6l5-4.7-2.7 0.6-5 4.7z" fill="#a1ff28"/>
<path d="M634.3 173.1l-2.5 0.8"/>
<path d="M356.4 267.2l4.9 0.8-1.8-1.7-4.9-0.8z" fill="#026ef2"/>
<path d="M355 265.7l4 0.8"/>
<path d="M506.6 260.3l4.8-2.3-2.2 0.3-4.8 2.2z" fill="#13a1ff"/>
<path d="M504.8 260.4l4.1-1.8"/>
<path d="M409.9 277.7l4.9-0.2-1.9-0.7-4.9 0.1z" fill="#0638f5"/>
<path d="M414.4 277.5l-2-0.6"/>
<path d="M449.8 275.8l4.9-1-2-0.2-4.9 1z" fill="#0a44fa"/>
<path d="M556.4 234.8l4.9-3.3-2.4 0.6-4.9 3.2z" fill="#1bffc1"/>
<path d="M474 271l4.9-1.5-2.1 0-4.9 1.5z" fill="#0e60fe"/>
<path d="M488.2 266.9l4.9-1.8-2.2 0.2-4.8 1.8z" fill="#1079ff"/>
<path d="M525.1 252.1l4.9-2.6-2.3 0.4-4.8 2.6z" fill="#16d9ff"/>
<path d="M529.6 249.7l-2.2 0.5"/>
<path d="M362.4 269.2l4.9 0.8-1.9-1.6-4.9-0.7z" fill="#0264f2"/>
<path d="M366.8 269.8l-1.8-1.2"/>
<path d="M384.1 274.7l4.9 0.3-1.9-1.1-4.9-0.4z" fill="#0448f3"/>
<path d="M552.2 237.4l4.9-3.2-2.3 0.6-4.9 3.2z" fill="#1affce"/>
<path d="M556.7 234.5l-2.3 0.6"/>
<path d="M400 277l4.9 0-2-0.9-4.8 0z" fill="#053df4"/>
<path d="M398.5 276.2l4 0.1"/>
<path d="M459.9 274.2l4.8-1.2-2-0.1-4.9 1.2z" fill="#0c4ffb"/>
<path d="M458.3 274l4-0.9"/>
<path d="M502.5 262l4.9-2.2-2.2 0.3-4.9 2.1z" fill="#129aff"/>
<path d="M500.7 262.1l4.1-1.7"/>
<path d="M368.3 271.1l4.9 0.6-1.9-1.4-4.9-0.6z" fill="#025cf2"/>
<path d="M548.1 240l4.9-3.1-2.4 0.5-4.9 3.1z" fill="#19ffdb"/>
<path d="M521 254.1l4.9-2.5-2.3 0.4-4.8 2.5z" fill="#15ceff"/>
<path d="M425.8 278l4.9-0.5-2-0.5-4.8 0.5z" fill="#073bf7"/>
<path d="M424.3 277.5l4-0.3"/>
<path d="M430.3 277.5l-2-0.3"/>
<path d="M435.8 277.5l4.9-0.7-2-0.4-4.9 0.7z" fill="#083ef8"/>
<path d="M415.9 278.1l4.8-0.3-1.9-0.6-4.9 0.3z" fill="#063bf6"/>
<path d="M484.1 268.3l4.9-1.7-2.1 0.1-4.9 1.7z" fill="#0f75fe"/>
<path d="M488.6 266.7l-2.1 0.3"/>
<path d="M390 275.8l4.9 0.3-1.9-1-4.9-0.3z" fill="#0445f3"/>
<path d="M470 272.1l4.8-1.4-2.1 0-4.8 1.4z" fill="#0d5efc"/>
<path d="M474.4 270.8l-2.1 0.1"/>
<path d="M543.9 242.4l4.9-3-2.4 0.6-4.8 3z" fill="#18ffe8"/>
<path d="M445.8 276.5l4.9-0.9-2-0.2-4.9 0.9z" fill="#0945f9"/>
<path d="M374.2 272.7l4.9 0.6-1.9-1.3-4.9-0.5z" fill="#0356f2"/>
<path d="M372.7 271.6l4.1 0.5"/>
<path d="M498.4 263.6l4.9-2-2.2 0.2-4.8 2z" fill="#1193ff"/>
<path d="M496.7 263.7l4-1.6"/>
<path d="M502.9 261.7l-2.2 0.4"/>
<path d="M405.9 277.7l4.9-0.1-1.9-0.8-4.9 0.1z" fill="#053ef5"/>
<path d="M516.9 256.1l4.9-2.4-2.3 0.4-4.8 2.4z" fill="#14c4ff"/>
<path d="M455.8 275.1l4.9-1.1-2-0.1-4.9 1.1z" fill="#0a4ffa"/>
<path d="M454.3 274.9l4-0.9"/>
<path d="M460.3 274l-2 0"/>
<path d="M597.1 206.6l4.9-4.1-2.5 0.7-5 4.1z" fill="#21ff34"/>
<path d="M594.9 207.1l4.3-3.5"/>
<path d="M592.8 210l4.9-4-2.5 0.7-5 4z" fill="#20ff42"/>
<path d="M590.6 210.4l4.3-3.3"/>
<path d="M597.3 206.2l-2.4 0.9"/>
<path d="M539.7 244.8l4.9-2.9-2.3 0.6-4.9 2.8z" fill="#17fff6"/>
<path d="M544.2 242.1l-2.2 0.7"/>
<path d="M601.4 203.1l5-4.1-2.6 0.7-5 4.2z" fill="#21ff25"/>
<path d="M599.2 203.6l4.3-3.5"/>
<path d="M352.4 266.3l4.9 0.9-1.9-1.6-4.9-1z" fill="#027df1"/>
<path d="M351 264.8l4 0.9"/>
<path d="M352.8 266.2l-1.8-1.4"/>
<path d="M588.5 213.2l4.9-3.8-2.5 0.7-5 3.9z" fill="#1fff50"/>
<path d="M586.3 213.7l4.3-3.3"/>
<path d="M605.8 199.6l4.9-4.2-2.6 0.7-4.9 4.2z" fill="#2eff22"/>
<path d="M603.5 200.1l4.4-3.6"/>
<path d="M584.2 216.5l4.9-3.8-2.5 0.7-4.9 3.8z" fill="#1eff5e"/>
<path d="M582.1 216.9l4.2-3.2"/>
<path d="M610.1 196l5-4.3-2.6 0.7-5 4.3z" fill="#40ff23"/>
<path d="M607.9 196.5l4.3-3.7"/>
<path d="M610.4 195.6l-2.5 0.9"/>
<path d="M579.9 219.6l4.9-3.7-2.5 0.7-4.9 3.7z" fill="#1eff6c"/>
<path d="M577.8 220.1l4.3-3.2"/>
<path d="M584.5 216.1l-2.4 0.8"/>
<path d="M614.5 192.3l5-4.4-2.6 0.7-5 4.4z" fill="#54ff23"/>
<path d="M612.2 192.8l4.4-3.8"/>
<path d="M380.1 274.2l4.9 0.4-1.9-1.1-4.9-0.4z" fill="#0352f3"/>
<path d="M384.6 274.5l-1.9-0.9"/>
<path d="M396 276.8l4.9 0.1-2-0.8-4.8-0.2z" fill="#0444f4"/>
<path d="M394.5 276l4 0.2"/>
<path d="M400.4 276.9l-1.9-0.7"/>
<path d="M480.1 269.6l4.9-1.6-2.1 0.1-4.9 1.6z" fill="#0e71fd"/>
<path d="M358.3 268.4l4.9 0.9-1.8-1.6-4.9-0.8z" fill="#0272f2"/>
<path d="M575.6 222.6l5-3.6-2.5 0.7-4.9 3.6z" fill="#1dff79"/>
<path d="M573.6 223.1l4.2-3"/>
<path d="M618.9 188.5l5-4.5-2.6 0.8-5 4.5z" fill="#6aff24"/>
<path d="M616.6 189l4.4-3.9"/>
<path d="M535.6 247.1l4.9-2.8-2.3 0.6-4.9 2.7z" fill="#16ffff"/>
<path d="M512.8 257.9l4.9-2.3-2.2 0.5-4.9 2.3z" fill="#12bbff"/>
<path d="M517.3 255.8l-2.2 0.5"/>
<path d="M465.9 273.1l4.9-1.3-2.1 0.1-4.8 1.3z" fill="#0b5dfb"/>
<path d="M571.4 225.6l4.9-3.5-2.4 0.7-4.9 3.5z" fill="#1cff86"/>
<path d="M569.3 226.1l4.3-3"/>
<path d="M431.8 277.9l4.9-0.6-2-0.3-4.9 0.5z" fill="#0741f7"/>
<path d="M494.3 265.1l4.9-1.9-2.1 0.3-4.9 1.9z" fill="#0f8dff"/>
<path d="M492.6 265.2l4.1-1.5"/>
<path d="M623.3 184.7l5.1-4.6-2.7 0.7-5 4.6z" fill="#80ff24"/>
<path d="M621 185.1l4.4-3.9"/>
<path d="M623.6 184.3l-2.6 0.8"/>
<path d="M421.8 278.3l4.9-0.4-2-0.5-4.9 0.4z" fill="#063ff6"/>
<path d="M420.3 277.8l4-0.3"/>
<path d="M441.8 277.1l4.9-0.8-2-0.2-4.9 0.8z" fill="#0847f8"/>
<path d="M446.2 276.3l-2-0.1"/>
<path d="M567.2 228.5l4.9-3.5-2.5 0.7-4.9 3.5z" fill="#1bff93"/>
<path d="M565.1 228.9l4.2-2.8"/>
<path d="M571.7 225.3l-2.4 0.8"/>
<path d="M364.2 270.4l4.9 0.7-1.8-1.4-4.9-0.7z" fill="#0269f2"/>
<path d="M368.7 271l-1.9-1.2"/>
<path d="M627.7 180.7l5.1-4.6-2.7 0.7-5 4.7z" fill="#98ff25"/>
<path d="M625.4 181.2l4.5-4"/>
<path d="M411.8 278.1l4.9-0.1-1.9-0.6-4.9 0.1z" fill="#0540f5"/>
<path d="M416.3 277.9l-1.9-0.4"/>
<path d="M531.5 249.3l4.8-2.7-2.2 0.6-4.9 2.6z" fill="#15f7ff"/>
<path d="M451.8 275.8l4.9-1-2-0.1-4.9 1z" fill="#0950f9"/>
<path d="M450.2 275.7l4.1-0.8"/>
<path d="M562.9 231.3l5-3.4-2.5 0.7-4.9 3.4z" fill="#1aff9f"/>
<path d="M560.9 231.7l4.2-2.8"/>
<path d="M386 275.5l4.9 0.3-1.9-1-4.9-0.3z" fill="#034ef3"/>
<path d="M632.2 176.7l5.1-4.7-2.7 0.7-5.1 4.8z" fill="#b1ff25"/>
<path d="M629.9 177.2l4.4-4.1"/>
<path d="M636.9 172.2l-2.6 0.9"/>
<path d="M508.7 259.7l4.9-2.2-2.2 0.4-4.9 2.2z" fill="#11b2ff"/>
<path d="M401.9 277.6l4.9 0-1.9-0.7-4.9-0.1z" fill="#0445f4"/>
<path d="M476 270.8l4.9-1.5-2.1 0.1-4.8 1.5z" fill="#0c6efc"/>
<path d="M558.7 234l4.9-3.3-2.4 0.7-4.9 3.3z" fill="#19ffab"/>
<path d="M556.7 234.5l4.2-2.8"/>
<path d="M370.1 272.1l5 0.7-1.9-1.3-4.9-0.6z" fill="#0262f2"/>
<path d="M368.7 271l4 0.6"/>
<path d="M490.3 266.5l4.9-1.8-2.2 0.3-4.8 1.8z" fill="#0e88fe"/>
<path d="M488.6 266.7l4-1.5"/>
<path d="M527.3 251.4l4.9-2.6-2.3 0.6-4.8 2.6z" fill="#14ecff"/>
<path d="M531.8 249l-2.2 0.7"/>
<path d="M461.9 274.1l4.9-1.2-2.1 0-4.9 1.2z" fill="#0a5cfa"/>
<path d="M554.5 236.6l4.9-3.1-2.3 0.6-4.9 3.2z" fill="#18ffb7"/>
<path d="M552.6 237.1l4.1-2.6"/>
<path d="M559 233.7l-2.3 0.8"/>
<path d="M427.8 278.2l4.9-0.4-2-0.4-4.9 0.5z" fill="#0645f6"/>
<path d="M432.2 277.8l-1.9-0.3"/>
<path d="M504.6 261.4l4.9-2.1-2.2 0.5-4.9 2.1z" fill="#10abff"/>
<path d="M391.9 276.5l4.9 0.3-1.9-0.9-4.9-0.3z" fill="#034df3"/>
<path d="M390.5 275.7l4 0.3"/>
<path d="M437.8 277.6l4.9-0.7-2-0.2-4.9 0.7z" fill="#0749f7"/>
<path d="M376 273.7l5 0.5-1.9-1.1-4.9-0.6z" fill="#025df2"/>
<path d="M417.8 278.4l4.9-0.3-2-0.4-4.9 0.2z" fill="#0544f5"/>
<path d="M416.3 277.9l4-0.1"/>
<path d="M550.3 239.2l5-3.1-2.4 0.7-4.9 3z" fill="#17ffc3"/>
<path d="M548.4 239.6l4.2-2.5"/>
<path d="M523.2 253.5l4.9-2.5-2.3 0.5-4.8 2.5z" fill="#13e1ff"/>
<path d="M354.2 267.5l5 1-1.9-1.5-4.9-1z" fill="#0281f1"/>
<path d="M354.7 267.4l-1.9-1.2"/>
<path d="M447.8 276.5l4.9-0.9-2-0.1-4.9 0.9z" fill="#0851f8"/>
<path d="M446.2 276.3l4-0.6"/>
<path d="M486.2 267.9l4.9-1.7-2.1 0.3-4.9 1.7z" fill="#0d84fd"/>
<path d="M484.5 268.1l4.1-1.4"/>
<path d="M490.7 266.3l-2.1 0.4"/>
<path d="M472 271.9l4.9-1.4-2.1 0.1-4.9 1.4z" fill="#0b6cfb"/>
<path d="M476.4 270.6l-2 0.2"/>
<path d="M407.8 278.1l4.9 0-1.9-0.6-4.9 0z" fill="#0447f4"/>
<path d="M546.2 241.6l4.9-2.9-2.4 0.6-4.9 3z" fill="#16ffcf"/>
<path d="M544.2 242.1l4.2-2.5"/>
<path d="M360.2 269.6l4.9 0.8-1.9-1.4-4.9-0.8z" fill="#0277f1"/>
<path d="M500.5 263l4.9-2-2.1 0.5-4.9 2z" fill="#0fa4ff"/>
<path d="M505 261.2l-2.1 0.5"/>
<path d="M457.8 274.9l4.9-1.1-2 0.1-4.9 1.1z" fill="#095cf9"/>
<path d="M462.3 273.9l-2 0.1"/>
<path d="M382 275l4.9 0.5-1.9-1-4.9-0.5z" fill="#0359f2"/>
<path d="M386.4 275.4l-1.8-0.9"/>
<path d="M519.1 255.4l4.9-2.4-2.3 0.6-4.8 2.4z" fill="#12d7ff"/>
<path d="M397.8 277.4l5 0.1-1.9-0.7-5-0.2z" fill="#044df3"/>
<path d="M402.3 277.5l-1.9-0.6"/>
<path d="M542 244l4.9-2.9-2.3 0.7-4.9 2.9z" fill="#15ffdb"/>
<path d="M540.1 244.5l4.1-2.4"/>
<path d="M546.5 241.3l-2.3 0.8"/>
<path d="M599.5 205.6l5-4-2.6 0.8-4.9 4.1z" fill="#1eff22"/>
<path d="M595.2 209l5-4-2.6 0.9-4.9 3.9z" fill="#1dff30"/>
<path d="M599.8 205.3l-2.5 0.9"/>
<path d="M603.9 202.2l5-4.2-2.6 0.9-5 4.1z" fill="#2aff1f"/>
<path d="M590.9 212.3l4.9-3.9-2.5 0.8-4.9 3.9z" fill="#1dff3e"/>
<path d="M608.2 198.6l5-4.2-2.6 0.8-5 4.3z" fill="#3cff1f"/>
<path d="M366.1 271.4l4.9 0.8-1.8-1.3-5-0.8z" fill="#026ff2"/>
<path d="M364.7 270.3l4 0.7"/>
<path d="M370.6 272l-1.9-1"/>
<path d="M586.6 215.5l4.9-3.8-2.5 0.8-4.9 3.8z" fill="#1cff4b"/>
<path d="M612.6 195l5-4.3-2.6 0.8-5 4.4z" fill="#4fff20"/>
<path d="M612.9 194.6l-2.5 1"/>
<path d="M482.2 269.2l4.9-1.6-2.2 0.3-4.8 1.6z" fill="#0c81fc"/>
<path d="M480.5 269.4l4-1.3"/>
<path d="M423.7 278.5l4.9-0.4-1.9-0.3-4.9 0.3z" fill="#054af5"/>
<path d="M433.7 278l4.9-0.6-1.9-0.2-4.9 0.6z" fill="#064df6"/>
<path d="M582.3 218.6l4.9-3.7-2.5 0.9-4.9 3.7z" fill="#1bff58"/>
<path d="M586.9 215.2l-2.4 0.9"/>
<path d="M617 191.3l5-4.4-2.6 0.9-5 4.4z" fill="#64ff21"/>
<path d="M467.9 272.9l4.9-1.3-2 0.2-4.9 1.2z" fill="#0a6bfa"/>
<path d="M515 257.3l4.9-2.3-2.3 0.6-4.8 2.3z" fill="#10cdff"/>
<path d="M519.4 255.2l-2.1 0.6"/>
<path d="M578 221.7l5-3.6-2.5 0.8-5 3.6z" fill="#1aff65"/>
<path d="M413.7 278.5l5-0.2-2-0.4-4.9 0.1z" fill="#054af4"/>
<path d="M412.3 278l4-0.1"/>
<path d="M418.2 278.3l-1.9-0.4"/>
<path d="M443.7 277.1l5-0.8-2-0.1-4.9 0.8z" fill="#0753f7"/>
<path d="M442.2 276.9l4-0.6"/>
<path d="M448.2 276.3l-2 0"/>
<path d="M537.8 246.3l4.9-2.8-2.3 0.7-4.9 2.8z" fill="#14ffe7"/>
<path d="M535.9 246.8l4.2-2.3"/>
<path d="M621.4 187.5l5.1-4.5-2.7 0.9-5 4.5z" fill="#7aff21"/>
<path d="M496.4 264.6l4.9-1.9-2.1 0.4-4.9 1.9z" fill="#0e9efd"/>
<path d="M387.9 276.1l4.9 0.4-1.9-0.9-4.9-0.3z" fill="#0356f3"/>
<path d="M386.4 275.4l4.1 0.3"/>
<path d="M573.7 224.7l5-3.6-2.5 0.9-4.9 3.5z" fill="#19ff72"/>
<path d="M625.8 183.7l5.1-4.6-2.7 0.9-5 4.5z" fill="#91ff22"/>
<path d="M626.1 183.3l-2.5 1"/>
<path d="M372 273l4.9 0.7-1.8-1.1-5-0.7z" fill="#0269f2"/>
<path d="M403.8 278l4.9 0.1-1.9-0.6-4.9-0.1z" fill="#044ef3"/>
<path d="M453.8 275.7l4.9-1-2 0-4.9 1z" fill="#085df8"/>
<path d="M569.5 227.5l4.9-3.4-2.4 0.8-4.9 3.5z" fill="#18ff7e"/>
<path d="M574.1 224.3l-2.4 1"/>
<path d="M630.3 179.7l5.1-4.7-2.7 0.9-5.1 4.7z" fill="#aaff22"/>
<path d="M533.7 248.5l4.9-2.7-2.3 0.7-4.9 2.7z" fill="#13fff3"/>
<path d="M531.8 249l4.1-2.2"/>
<path d="M510.9 259.1l4.9-2.2-2.2 0.6-4.9 2.1z" fill="#0fc5ff"/>
<path d="M565.3 230.3l4.9-3.3-2.4 0.8-4.9 3.4z" fill="#17ff8a"/>
<path d="M634.8 175.7l5.1-4.8-2.8 0.9-5 4.8z" fill="#c3ff23"/>
<path d="M639.5 171.2l-2.6 1"/>
<path d="M478.1 270.4l4.9-1.5-2.1 0.3-4.9 1.5z" fill="#0b7efb"/>
<path d="M476.4 270.6l4.1-1.2"/>
<path d="M492.4 266l4.9-1.8-2.2 0.5-4.9 1.8z" fill="#0d99fc"/>
<path d="M393.8 277.1l4.9 0.2-1.9-0.7-4.9-0.2z" fill="#0356f3"/>
<path d="M377.9 274.5l4.9 0.5-1.8-1-4.9-0.5z" fill="#0264f2"/>
<path d="M463.9 273.8l4.9-1.2-2 0.2-4.9 1.2z" fill="#096af9"/>
<path d="M561 233.1l5-3.3-2.4 0.8-4.9 3.3z" fill="#17ff96"/>
<path d="M356.1 268.7l4.9 0.9-1.8-1.3-4.9-1z" fill="#0186f1"/>
<path d="M356.5 268.6l-1.8-1.2"/>
<path d="M529.5 250.7l4.9-2.6-2.2 0.6-4.9 2.6z" fill="#12ffff"/>
<path d="M527.7 251.1l4.1-2.1"/>
<path d="M534 248.3l-2.2 0.7"/>
<path d="M429.7 278.3l4.9-0.4-2-0.2-4.9 0.4z" fill="#0651f5"/>
<path d="M434.2 277.9l-2-0.1"/>
<path d="M419.7 278.6l4.9-0.2-1.9-0.4-4.9 0.3z" fill="#054ff4"/>
<path d="M439.7 277.6l4.9-0.7-2-0.1-4.9 0.7z" fill="#0656f6"/>
<path d="M438.2 277.5l4-0.6"/>
<path d="M556.8 235.7l5-3.2-2.4 0.9-4.9 3.1z" fill="#16ffa1"/>
<path d="M561.4 232.8l-2.4 0.9"/>
<path d="M506.7 260.8l5-2.1-2.2 0.6-4.9 2.1z" fill="#0ebdfe"/>
<path d="M409.7 278.4l4.9 0-1.9-0.5-4.9 0.1z" fill="#0451f4"/>
<path d="M408.2 278l4.1 0"/>
<path d="M362 270.6l4.9 0.9-1.8-1.3-4.9-0.8z" fill="#027df1"/>
<path d="M360.6 269.5l4.1 0.8"/>
<path d="M449.8 276.3l4.9-0.8-2 0-4.9 0.9z" fill="#075ef7"/>
<path d="M525.4 252.7l4.9-2.5-2.2 0.7-5 2.5z" fill="#11f5ff"/>
<path d="M523.6 253.2l4.1-2.1"/>
<path d="M552.6 238.3l5-3.1-2.4 0.8-4.9 3.1z" fill="#15ffad"/>
<path d="M383.8 275.7l5 0.5-1.9-0.9-4.9-0.5z" fill="#0261f2"/>
<path d="M382.4 274.9l4 0.5"/>
<path d="M388.3 276.1l-1.9-0.7"/>
<path d="M474 271.5l4.9-1.4-2 0.3-4.9 1.4z" fill="#0a7cfa"/>
<path d="M472.4 271.7l4-1.1"/>
<path d="M478.5 270.2l-2.1 0.4"/>
<path d="M488.3 267.4l4.9-1.7-2.1 0.4-4.9 1.7z" fill="#0c95fb"/>
<path d="M492.8 265.8l-2.1 0.5"/>
<path d="M399.7 277.8l5 0.2-1.9-0.6-5-0.2z" fill="#0356f3"/>
<path d="M404.2 277.9l-1.9-0.4"/>
<path d="M367.9 272.3l5 0.8-1.9-1.1-4.9-0.8z" fill="#0276f1"/>
<path d="M372.4 273l-1.8-1"/>
<path d="M459.8 274.6l5-1-2.1 0.2-4.9 1z" fill="#086af8"/>
<path d="M464.3 273.7l-2 0.2"/>
<path d="M548.4 240.7l5-2.9-2.4 0.8-4.9 2.9z" fill="#14ffb8"/>
<path d="M502.7 262.4l4.9-2-2.2 0.6-4.9 2z" fill="#0db7fd"/>
<path d="M507.1 260.6l-2.1 0.6"/>
<path d="M521.3 254.7l4.9-2.4-2.3 0.7-4.9 2.3z" fill="#10ebff"/>
<path d="M519.4 255.2l4.2-2"/>
<path d="M425.7 278.6l4.9-0.4-2-0.2-4.9 0.4z" fill="#0555f5"/>
<path d="M435.7 278l4.9-0.6-2 0-4.9 0.5z" fill="#0659f5"/>
<path d="M434.2 277.9l4-0.4"/>
<path d="M389.8 276.7l4.9 0.4-1.9-0.7-4.9-0.4z" fill="#035ff2"/>
<path d="M544.2 243.1l5-2.9-2.4 0.9-4.9 2.8z" fill="#13ffc2"/>
<path d="M548.8 240.4l-2.3 0.9"/>
<path d="M415.7 278.7l4.9-0.2-1.9-0.3-5 0.2z" fill="#0455f4"/>
<path d="M420.1 278.5l-1.9-0.2"/>
<path d="M602 204.5l5-4-2.6 0.9-5 4.1z" fill="#27ff1b"/>
<path d="M597.6 207.9l5-4-2.5 1-5 4z" fill="#1bff1d"/>
<path d="M602.2 204.2l-2.4 1.1"/>
<path d="M606.3 201.1l5.1-4.2-2.6 1-5 4.2z" fill="#39ff1c"/>
<path d="M373.9 273.8l4.9 0.7-1.9-1-4.9-0.6z" fill="#0270f2"/>
<path d="M484.2 268.7l4.9-1.6-2.1 0.4-4.9 1.6z" fill="#0b92fa"/>
<path d="M593.3 211.2l5-3.9-2.5 1-5 3.9z" fill="#1aff2b"/>
<path d="M610.7 197.5l5-4.2-2.6 1-5 4.2z" fill="#4cff1d"/>
<path d="M470 272.5l4.9-1.3-2.1 0.3-4.9 1.3z" fill="#097bf9"/>
<path d="M468.4 272.7l4-1"/>
<path d="M445.7 276.9l4.9-0.7-2 0-4.9 0.8z" fill="#0760f6"/>
<path d="M450.2 276.2l-2 0.1"/>
<path d="M589 214.4l5-3.8-2.6 1-4.9 3.8z" fill="#19ff38"/>
<path d="M615.1 193.9l5-4.3-2.6 1-5 4.3z" fill="#60ff1d"/>
<path d="M615.4 193.5l-2.5 1.1"/>
<path d="M584.7 217.6l5-3.7-2.5 0.9-5 3.7z" fill="#19ff45"/>
<path d="M589.3 214.1l-2.4 1.1"/>
<path d="M619.5 190.2l5.1-4.4-2.7 1-5 4.4z" fill="#75ff1e"/>
<path d="M405.7 278.3l4.9 0.1-1.9-0.4-4.9-0.1z" fill="#0358f3"/>
<path d="M404.2 277.9l4 0.1"/>
<path d="M517.1 256.5l4.9-2.3-2.2 0.7-4.9 2.3z" fill="#0fe2fe"/>
<path d="M515.3 257.1l4.1-1.9"/>
<path d="M521.6 254.4l-2.2 0.8"/>
<path d="M498.6 263.9l4.9-1.8-2.2 0.5-4.9 1.9z" fill="#0cb1fc"/>
<path d="M540.1 245.4l4.9-2.8-2.3 0.9-4.9 2.7z" fill="#12ffcd"/>
<path d="M580.4 220.6l5-3.6-2.5 1-5 3.6z" fill="#18ff52"/>
<path d="M624 186.4l5-4.5-2.7 1-5 4.5z" fill="#8cff1f"/>
<path d="M455.8 275.4l4.9-1-2 0.2-4.9 1z" fill="#076bf7"/>
<path d="M576.1 223.6l5-3.5-2.5 0.9-4.9 3.6z" fill="#17ff5e"/>
<path d="M357.9 269.7l5 1-1.9-1.2-4.9-1z" fill="#018cf1"/>
<path d="M356.5 268.6l4.1 0.9"/>
<path d="M358.4 269.7l-1.9-1.1"/>
<path d="M628.4 182.5l5.1-4.6-2.7 1.1-5.1 4.5z" fill="#a3ff1f"/>
<path d="M628.7 182.2l-2.6 1.1"/>
<path d="M379.8 275.1l4.9 0.6-1.8-0.8-5-0.6z" fill="#026cf2"/>
<path d="M378.4 274.4l4 0.5"/>
<path d="M395.7 277.5l4.9 0.3-1.9-0.6-4.9-0.2z" fill="#035ff2"/>
<path d="M571.8 226.5l5-3.4-2.4 0.9-5 3.5z" fill="#16ff6a"/>
<path d="M576.4 223.3l-2.3 1"/>
<path d="M632.9 178.6l5.1-4.7-2.7 1-5.1 4.7z" fill="#bcff20"/>
<path d="M535.9 247.6l4.9-2.7-2.3 0.9-4.9 2.6z" fill="#11ffd7"/>
<path d="M480.1 269.9l5-1.5-2.1 0.4-4.9 1.5z" fill="#0a8ff9"/>
<path d="M513 258.3l4.9-2.2-2.2 0.7-4.9 2.2z" fill="#0ed9fd"/>
<path d="M511.2 258.9l4.1-1.8"/>
<path d="M567.6 229.3l5-3.3-2.5 0.9-4.9 3.4z" fill="#15ff76"/>
<path d="M363.9 271.5l4.9 0.9-1.8-1.1-5-0.9z" fill="#0184f1"/>
<path d="M637.4 174.6l5.1-4.8-2.8 1-5.1 4.8z" fill="#d6ff20"/>
<path d="M642.1 170.1l-2.6 1.1"/>
<path d="M465.9 273.4l4.9-1.2-2 0.4-4.9 1.1z" fill="#087af8"/>
<path d="M464.3 273.7l4.1-1"/>
<path d="M431.6 278.3l5-0.4-2-0.1-4.9 0.5z" fill="#055df5"/>
<path d="M430.1 278.2l4.1-0.3"/>
<path d="M436.1 277.9l-1.9 0"/>
<path d="M494.5 265.4l4.9-1.8-2.1 0.6-5 1.8z" fill="#0bacfb"/>
<path d="M421.6 278.7l4.9-0.2-1.9-0.2-4.9 0.2z" fill="#045bf4"/>
<path d="M441.7 277.4l4.9-0.6-2 0.1-4.9 0.6z" fill="#0663f5"/>
<path d="M411.6 278.7l4.9-0.1-1.9-0.3-4.9 0.1z" fill="#035cf3"/>
<path d="M563.4 232l4.9-3.2-2.4 0.9-4.9 3.3z" fill="#14ff81"/>
<path d="M531.7 249.8l5-2.6-2.3 0.8-4.9 2.6z" fill="#10ffe1"/>
<path d="M536.3 247.4l-2.3 0.9"/>
<path d="M385.7 276.3l4.9 0.4-1.8-0.7-5-0.4z" fill="#026af2"/>
<path d="M390.2 276.7l-1.9-0.6"/>
<path d="M451.7 276.1l5-0.9-2 0.2-5 0.9z" fill="#066df6"/>
<path d="M508.9 260l4.9-2.1-2.2 0.8-4.9 2z" fill="#0dd2fc"/>
<path d="M507.1 260.6l4.1-1.7"/>
<path d="M369.8 273.1l4.9 0.8-1.8-1-5-0.8z" fill="#017ef1"/>
<path d="M374.3 273.8l-1.9-0.8"/>
<path d="M559.1 234.7l5-3.2-2.4 1-4.9 3.1z" fill="#14ff8c"/>
<path d="M563.7 231.7l-2.3 1.1"/>
<path d="M401.6 278.1l5 0.2-1.9-0.4-5-0.2z" fill="#0361f3"/>
<path d="M400.2 277.7l4 0.2"/>
<path d="M406.1 278.3l-1.9-0.4"/>
<path d="M476.1 271l4.9-1.4-2.1 0.5-4.9 1.3z" fill="#098df9"/>
<path d="M480.6 269.7l-2.1 0.5"/>
<path d="M527.6 251.8l4.9-2.5-2.2 0.9-5 2.4z" fill="#0fffeb"/>
<path d="M490.4 266.8l4.9-1.7-2.1 0.6-4.9 1.6z" fill="#0aa8fa"/>
<path d="M494.9 265.2l-2.1 0.6"/>
<path d="M554.9 237.2l5-3-2.4 0.9-4.9 3.1z" fill="#13ff96"/>
<path d="M461.9 274.3l4.9-1.1-2 0.3-5 1.1z" fill="#077af7"/>
<path d="M460.3 274.5l4-0.8"/>
<path d="M466.3 273.3l-2 0.4"/>
<path d="M391.6 277.2l5 0.3-1.9-0.5-4.9-0.4z" fill="#026af2"/>
<path d="M375.7 274.5l5 0.7-1.9-0.8-4.9-0.7z" fill="#0279f1"/>
<path d="M374.3 273.8l4.1 0.6"/>
<path d="M504.8 261.7l4.9-2-2.1 0.7-5 2z" fill="#0ccbfb"/>
<path d="M503.1 262.2l4-1.6"/>
<path d="M509.3 259.8l-2.2 0.8"/>
<path d="M427.6 278.5l4.9-0.3-1.9 0-5 0.3z" fill="#0462f4"/>
<path d="M426.1 278.5l4-0.3"/>
<path d="M550.7 239.7l5-3-2.4 1-4.9 3z" fill="#12ffa1"/>
<path d="M417.6 278.8l4.9-0.1-1.9-0.2-5 0.1z" fill="#0461f3"/>
<path d="M422.1 278.7l-2-0.2"/>
<path d="M437.6 277.8l5-0.5-2 0.1-4.9 0.5z" fill="#0567f5"/>
<path d="M523.4 253.8l5-2.4-2.3 0.8-4.9 2.4z" fill="#0efef7"/>
<path d="M407.6 278.6l4.9 0-1.9-0.3-4.9 0z" fill="#0364f3"/>
<path d="M447.7 276.7l4.9-0.8-2 0.2-4.9 0.8z" fill="#066ff5"/>
<path d="M452.2 276l-2 0.2"/>
<path d="M359.8 270.6l4.9 1-1.8-1.1-5-1z" fill="#0194f1"/>
<path d="M360.2 270.6l-1.8-0.9"/>
<path d="M486.3 268l4.9-1.5-2.1 0.6-4.9 1.5z" fill="#09a4f9"/>
<path d="M546.5 242.1l5-2.9-2.4 1-4.9 2.8z" fill="#11ffab"/>
<path d="M551.1 239.4l-2.3 1"/>
<path d="M472 272l4.9-1.3-2 0.5-4.9 1.3z" fill="#088cf8"/>
<path d="M604.4 203.3l5.1-4-2.6 1.1-5 4z" fill="#37ff19"/>
<path d="M602.2 204.2l4.4-3.5"/>
<path d="M600.1 206.7l5-3.9-2.6 1-5 4z" fill="#26ff18"/>
<path d="M597.9 207.6l4.3-3.4"/>
<path d="M604.7 203l-2.5 1.2"/>
<path d="M608.8 199.9l5.1-4.2-2.6 1.1-5.1 4.2z" fill="#4aff1a"/>
<path d="M606.6 200.7l4.4-3.5"/>
<path d="M595.7 210l5-3.9-2.5 1.1-5 3.9z" fill="#18ff18"/>
<path d="M593.6 210.9l4.3-3.3"/>
<path d="M613.2 196.3l5.1-4.2-2.7 1.1-5 4.2z" fill="#5dff1a"/>
<path d="M611 197.2l4.4-3.7"/>
<path d="M381.6 275.7l5 0.6-1.9-0.7-4.9-0.6z" fill="#0276f1"/>
<path d="M591.4 213.3l5-3.8-2.5 1.1-5 3.8z" fill="#17ff25"/>
<path d="M589.3 214.1l4.3-3.2"/>
<path d="M617.6 192.7l5.1-4.3-2.7 1.1-5 4.3z" fill="#72ff1b"/>
<path d="M615.4 193.5l4.4-3.7"/>
<path d="M617.9 192.3l-2.5 1.2"/>
<path d="M500.7 263.2l4.9-1.9-2.1 0.7-5 1.9z" fill="#0bc5fb"/>
<path d="M499 263.8l4.1-1.6"/>
<path d="M519.3 255.7l4.9-2.3-2.2 0.8-4.9 2.3z" fill="#0df8fd"/>
<path d="M523.8 253.6l-2.2 0.8"/>
<path d="M397.6 277.9l4.9 0.3-1.9-0.5-4.9-0.3z" fill="#026af2"/>
<path d="M396.1 277.5l4.1 0.2"/>
<path d="M457.8 275l4.9-0.9-2 0.3-4.9 1z" fill="#067bf6"/>
<path d="M456.2 275.3l4.1-0.8"/>
<path d="M587.1 216.4l5-3.7-2.5 1.1-5 3.7z" fill="#16ff31"/>
<path d="M585 217.3l4.3-3.2"/>
<path d="M591.7 212.9l-2.4 1.2"/>
<path d="M622.1 189l5-4.4-2.6 1.1-5.1 4.4z" fill="#88ff1c"/>
<path d="M619.8 189.8l4.4-3.8"/>
<path d="M542.3 244.4l5-2.8-2.3 1-5 2.7z" fill="#10ffb4"/>
<path d="M365.7 272.3l5 0.9-1.9-0.9-4.9-0.9z" fill="#018cf1"/>
<path d="M582.8 219.5l5-3.7-2.5 1.1-5 3.7z" fill="#16ff3e"/>
<path d="M580.7 220.3l4.3-3"/>
<path d="M626.5 185.2l5.1-4.5-2.7 1.1-5.1 4.5z" fill="#9fff1c"/>
<path d="M624.2 186l4.5-3.8"/>
<path d="M578.5 222.4l5-3.5-2.5 1.1-5 3.5z" fill="#15ff4a"/>
<path d="M576.4 223.3l4.3-3"/>
<path d="M631 181.3l5.1-4.6-2.7 1.1-5.1 4.6z" fill="#b7ff1d"/>
<path d="M628.7 182.2l4.4-4"/>
<path d="M631.2 180.9l-2.5 1.3"/>
<path d="M423.5 278.7l5-0.2-2-0.1-4.9 0.3z" fill="#0468f3"/>
<path d="M422.1 278.7l4-0.2"/>
<path d="M482.2 269.2l4.9-1.4-2 0.6-5 1.4z" fill="#09a2f8"/>
<path d="M433.6 278.2l4.9-0.5-1.9 0.1-5 0.5z" fill="#046cf4"/>
<path d="M438.1 277.8l-2 0.1"/>
<path d="M574.2 225.3l5-3.4-2.4 1.1-5 3.4z" fill="#14ff55"/>
<path d="M572.2 226.2l4.2-2.9"/>
<path d="M578.8 222.1l-2.4 1.2"/>
<path d="M538.1 246.6l5-2.7-2.3 1-4.9 2.7z" fill="#0fffbe"/>
<path d="M635.5 177.3l5.1-4.6-2.7 1.1-5.1 4.7z" fill="#d0ff1d"/>
<path d="M633.1 178.2l4.5-4"/>
<path d="M515.2 257.4l4.9-2.1-2.2 0.8-4.9 2.2z" fill="#0ceffc"/>
<path d="M387.6 276.7l4.9 0.5-1.8-0.5-5-0.5z" fill="#0275f2"/>
<path d="M392.1 277.1l-1.9-0.4"/>
<path d="M467.9 272.9l5-1.1-2.1 0.4-4.9 1.2z" fill="#078bf7"/>
<path d="M413.5 278.8l5 0-2-0.2-4.9 0z" fill="#0369f3"/>
<path d="M443.6 277.2l5-0.7-2 0.3-4.9 0.6z" fill="#0572f5"/>
<path d="M496.6 264.6l4.9-1.7-2.1 0.7-4.9 1.8z" fill="#0ac0fa"/>
<path d="M494.9 265.2l4.1-1.4"/>
<path d="M371.6 273.8l5 0.8-1.9-0.8-4.9-0.8z" fill="#0187f1"/>
<path d="M370.2 273.1l4.1 0.7"/>
<path d="M376.2 274.5l-1.9-0.7"/>
<path d="M569.9 228.2l5-3.4-2.4 1.1-5 3.3z" fill="#13ff61"/>
<path d="M567.9 229l4.3-2.8"/>
<path d="M640 173.3l5.1-4.8-2.7 1.2-5.2 4.8z" fill="#eaff1e"/>
<path d="M637.6 174.2l4.5-4.1"/>
<path d="M644.7 168.8l-2.6 1.3"/>
<path d="M403.5 278.4l5 0.2-1.9-0.3-5-0.2z" fill="#036df2"/>
<path d="M408 278.5l-1.9-0.2"/>
<path d="M565.7 230.9l5-3.3-2.4 1.1-5 3.3z" fill="#12ff6c"/>
<path d="M563.7 231.7l4.2-2.7"/>
<path d="M534 248.8l4.9-2.6-2.3 0.9-4.9 2.6z" fill="#0efec7"/>
<path d="M538.5 246.4l-2.2 1"/>
<path d="M453.7 275.7l5-0.8-2 0.3-5 0.9z" fill="#006cd9"/>
<path d="M452.2 276l4-0.7"/>
<path d="M511 259.2l5-2.1-2.2 0.8-4.9 2.1z" fill="#0be8fb"/>
<path d="M561.4 233.5l5-3.1-2.4 1.1-4.9 3.1z" fill="#12ff76"/>
<path d="M559.5 234.4l4.2-2.7"/>
<path d="M566 230.6l-2.3 1.1"/>
<path d="M377.6 275.1l4.9 0.7-1.8-0.7-5-0.7z" fill="#0183f1"/>
<path d="M478.1 270.3l5-1.3-2.1 0.6-4.9 1.3z" fill="#0089d9"/>
<path d="M482.6 269.1l-2 0.6"/>
<path d="M393.5 277.5l5 0.4-1.9-0.4-5-0.4z" fill="#0275f2"/>
<path d="M392.1 277.1l4 0.4"/>
<path d="M492.5 266l4.9-1.7-2.1 0.8-4.9 1.6z" fill="#09bcf9"/>
<path d="M490.8 266.6l4.1-1.4"/>
<path d="M497 264.5l-2.1 0.7"/>
<path d="M529.8 250.8l4.9-2.5-2.2 1-4.9 2.5z" fill="#0dfdcf"/>
<path d="M463.9 273.8l4.9-1.1-2 0.5-4.9 1.1z" fill="#0079d9"/>
<path d="M468.4 272.8l-2.1 0.5"/>
<path d="M557.2 236.1l5-3.1-2.4 1.1-4.9 3.1z" fill="#11ff81"/>
<path d="M555.3 236.9l4.2-2.5"/>
<path d="M429.5 278.4l5-0.3-2 0.1-4.9 0.3z" fill="#0063d9"/>
<path d="M419.5 278.8l4.9-0.1-1.9-0.1-4.9 0.1z" fill="#036ff3"/>
<path d="M418 278.7l4.1 0"/>
<path d="M424 278.7l-1.9 0"/>
<path d="M361.6 271.4l5 1-1.8-0.9-5-1z" fill="#019cf1"/>
<path d="M362.1 271.4l-1.9-0.8"/>
<path d="M439.6 277.6l4.9-0.5-1.9 0.2-5 0.5z" fill="#0067d9"/>
<path d="M506.9 260.8l5-2-2.2 0.9-4.9 1.9z" fill="#0ae1fa"/>
<path d="M511.4 259l-2.1 0.8"/>
<path d="M409.5 278.7l4.9 0.1-1.9-0.2-4.9-0.1z" fill="#0371f2"/>
<path d="M553 238.6l5-3-2.4 1.1-4.9 2.9z" fill="#10ff8b"/>
<path d="M551.1 239.4l4.2-2.5"/>
<path d="M383.5 276.2l5 0.6-1.9-0.6-5-0.6z" fill="#0281f1"/>
<path d="M449.7 276.3l4.9-0.7-2 0.3-4.9 0.8z" fill="#006fd9"/>
<path d="M448.1 276.6l4.1-0.6"/>
<path d="M454.2 275.6l-2 0.4"/>
<path d="M525.6 252.8l5-2.4-2.2 1-5 2.3z" fill="#0cfcd8"/>
<path d="M474 271.4l5-1.3-2.1 0.6-4.9 1.3z" fill="#0089d9"/>
<path d="M367.5 273l5 0.9-1.8-0.8-5-0.9z" fill="#0195f1"/>
<path d="M366.2 272.3l4 0.8"/>
<path d="M488.4 267.3l4.9-1.6-2.1 0.8-4.9 1.5z" fill="#009fd9"/>
<path d="M486.7 267.9l4.1-1.3"/>
<path d="M399.4 278.1l5 0.3-1.9-0.3-4.9-0.3z" fill="#0277f2"/>
<path d="M548.8 241l4.9-2.9-2.3 1.1-4.9 2.8z" fill="#0fff94"/>
<path d="M546.9 241.8l4.2-2.4"/>
<path d="M553.4 238.3l-2.3 1.1"/>
<path d="M459.8 274.5l4.9-0.9-2 0.5-4.9 0.9z" fill="#007ad9"/>
<path d="M606.9 202l5.1-4-2.6 1.2-5 4.1z" fill="#4aff17"/>
<path d="M602.5 205.4l5.1-4-2.6 1.3-5 4z" fill="#38ff16"/>
<path d="M607.2 201.7l-2.5 1.3"/>
<path d="M611.3 198.6l5.1-4.2-2.6 1.2-5.1 4.2z" fill="#5dff18"/>
<path d="M598.2 208.7l5-3.9-2.5 1.3-5 3.9z" fill="#27ff16"/>
<path d="M502.8 262.3l4.9-1.8-2.1 0.8-4.9 1.9z" fill="#00bdd9"/>
<path d="M615.7 195l5.1-4.3-2.6 1.3-5.1 4.2z" fill="#71ff18"/>
<path d="M521.5 254.7l4.9-2.3-2.2 1-4.9 2.2z" fill="#0cfbe0"/>
<path d="M526 252.6l-2.2 1"/>
<path d="M593.8 212l5.1-3.8-2.6 1.2-5 3.8z" fill="#18ff15"/>
<path d="M620.2 191.4l5-4.4-2.6 1.3-5.1 4.3z" fill="#86ff19"/>
<path d="M620.4 191l-2.5 1.3"/>
<path d="M589.5 215.1l5-3.7-2.5 1.2-5 3.7z" fill="#14ff1e"/>
<path d="M594.1 211.6l-2.4 1.3"/>
<path d="M624.6 187.6l5.1-4.4-2.7 1.3-5 4.4z" fill="#9cff19"/>
<path d="M544.6 243.3l4.9-2.8-2.3 1.1-4.9 2.8z" fill="#0efe9d"/>
<path d="M542.7 244.1l4.2-2.3"/>
<path d="M389.4 277l5 0.6-1.9-0.4-4.9-0.6z" fill="#0280f1"/>
<path d="M388 276.7l4.1 0.4"/>
<path d="M394 277.5l-1.9-0.4"/>
<path d="M373.5 274.4l4.9 0.8-1.8-0.7-5-0.8z" fill="#0191f1"/>
<path d="M378 275.1l-1.8-0.6"/>
<path d="M425.5 278.6l4.9-0.2-1.9 0.1-5 0.2z" fill="#0069d9"/>
<path d="M585.2 218.2l5-3.6-2.5 1.2-5 3.6z" fill="#14ff2a"/>
<path d="M435.5 277.9l5-0.4-2 0.2-4.9 0.5z" fill="#006cd9"/>
<path d="M440 277.5l-1.9 0.3"/>
<path d="M629.1 183.8l5.1-4.5-2.7 1.3-5.1 4.5z" fill="#b4ff1a"/>
<path d="M415.4 278.8l5 0-1.9-0.1-5 0z" fill="#0069d9"/>
<path d="M414 278.7l4 0"/>
<path d="M484.3 268.5l4.9-1.5-2 0.8-5 1.4z" fill="#009ed9"/>
<path d="M482.6 269.1l4.1-1.2"/>
<path d="M580.9 221.2l5-3.6-2.5 1.2-5 3.6z" fill="#13ff36"/>
<path d="M633.5 180l5.2-4.6-2.7 1.2-5.1 4.6z" fill="#ccff1a"/>
<path d="M633.8 179.6l-2.6 1.3"/>
<path d="M445.6 276.8l5-0.6-2 0.4-5 0.6z" fill="#0072d9"/>
<path d="M444.1 277.1l4-0.5"/>
<path d="M470 272.3l4.9-1.1-2 0.6-5 1.1z" fill="#0089d9"/>
<path d="M405.4 278.5l5 0.2-1.9-0.2-5-0.2z" fill="#006cd9"/>
<path d="M409.9 278.7l-1.9-0.2"/>
<path d="M540.4 245.5l4.9-2.7-2.2 1.1-5 2.7z" fill="#0dfda6"/>
<path d="M538.5 246.4l4.2-2.3"/>
<path d="M517.3 256.4l5-2.1-2.2 1-4.9 2.1z" fill="#0bfbe8"/>
<path d="M576.6 224.1l5-3.5-2.5 1.2-4.9 3.5z" fill="#12ff41"/>
<path d="M581.2 220.9l-2.4 1.2"/>
<path d="M638.1 176l5.1-4.7-2.7 1.3-5.2 4.6z" fill="#e5ff1b"/>
<path d="M498.7 263.8l4.9-1.8-2.1 0.9-4.9 1.7z" fill="#00b9d9"/>
<path d="M572.3 226.9l5-3.4-2.4 1.3-5 3.3z" fill="#11ff4c"/>
<path d="M379.4 275.5l5 0.8-1.9-0.6-4.9-0.7z" fill="#018ef1"/>
<path d="M455.7 275.2l5-0.8-2 0.5-5 0.8z" fill="#007dd9"/>
<path d="M642.6 171.9l5.1-4.7-2.7 1.2-5.2 4.8z" fill="#ffff1b"/>
<path d="M647.4 167.4l-2.7 1.4"/>
<path d="M395.4 277.7l4.9 0.4-1.8-0.2-5-0.4z" fill="#0281f1"/>
<path d="M536.2 247.6l5-2.5-2.3 1.1-5 2.5z" fill="#0dfcae"/>
<path d="M534.3 248.5l4.2-2.1"/>
<path d="M540.8 245.3l-2.3 1.1"/>
<path d="M568 229.6l5-3.2-2.4 1.2-5 3.2z" fill="#11ff57"/>
<path d="M363.4 272.1l5 1-1.8-0.8-5-1z" fill="#01a5f1"/>
<path d="M362.1 271.4l4.1 0.9"/>
<path d="M363.9 272.1l-1.8-0.7"/>
<path d="M513.2 258.2l5-2.1-2.2 1-5 2.1z" fill="#00d9d0"/>
<path d="M480.2 269.6l4.9-1.3-2 0.7-5 1.4z" fill="#009dd9"/>
<path d="M478.6 270.2l4-1.1"/>
<path d="M484.7 268.4l-2.1 0.7"/>
<path d="M563.8 232.3l5-3.2-2.4 1.2-5 3.2z" fill="#10ff61"/>
<path d="M568.4 229.3l-2.4 1.3"/>
<path d="M431.5 278.2l4.9-0.3-1.9 0.2-5 0.3z" fill="#0071d9"/>
<path d="M421.4 278.6l5-0.1-2 0.2-4.9 0.1z" fill="#006fd9"/>
<path d="M425.9 278.6l-1.9 0.1"/>
<path d="M494.6 265.1l4.9-1.6-2.1 0.9-4.9 1.6z" fill="#00b6d9"/>
<path d="M499.1 263.6l-2.1 0.9"/>
<path d="M465.9 273.1l4.9-1-2 0.7-4.9 1z" fill="#008ad9"/>
<path d="M470.4 272.2l-2 0.6"/>
<path d="M532 249.7l5-2.5-2.3 1.1-4.9 2.5z" fill="#0cfcb6"/>
<path d="M530.2 250.6l4.1-2.1"/>
<path d="M441.5 277.2l5-0.5-2 0.4-4.9 0.5z" fill="#0077d9"/>
<path d="M440 277.5l4.1-0.4"/>
<path d="M411.4 278.7l4.9 0.1-1.9 0-4.9-0.2z" fill="#0071d9"/>
<path d="M409.9 278.7l4.1 0"/>
<path d="M385.4 276.5l4.9 0.6-1.8-0.4-5-0.6z" fill="#018cf1"/>
<path d="M383.9 276.2l4.1 0.5"/>
<path d="M369.4 273.6l5 0.9-1.9-0.7-4.9-0.9z" fill="#01a0f1"/>
<path d="M559.5 234.8l5-3-2.3 1.2-5 3z" fill="#0fff6b"/>
<path d="M509.1 259.8l4.9-2-2.1 1-5 2z" fill="#00d8d9"/>
<path d="M513.6 258l-2.2 1"/>
<path d="M451.7 275.8l4.9-0.7-2 0.5-4.9 0.7z" fill="#0080d9"/>
<path d="M456.2 275.2l-2 0.4"/>
<path d="M401.3 278.2l5 0.3-1.9-0.1-5-0.3z" fill="#0076d9"/>
<path d="M555.3 237.3l5-3-2.4 1.3-4.9 2.9z" fill="#0efe75"/>
<path d="M527.8 251.6l5-2.3-2.2 1.1-5 2.4z" fill="#00d9a1"/>
<path d="M526 252.6l4.2-2"/>
<path d="M476.1 270.6l5-1.2-2.1 0.8-4.9 1.2z" fill="#009cd9"/>
<path d="M474.5 271.3l4.1-1.1"/>
<path d="M490.5 266.4l4.9-1.5-2.1 0.9-4.9 1.5z" fill="#00b4d9"/>
<path d="M375.3 274.8l5 0.8-1.8-0.5-5-0.8z" fill="#019cf1"/>
<path d="M379.9 275.6l-1.9-0.5"/>
<path d="M461.8 273.9l5-0.9-2 0.6-5 1z" fill="#008cd9"/>
<path d="M391.3 277.3l5 0.5-1.9-0.3-5-0.5z" fill="#007ed9"/>
<path d="M395.8 277.7l-1.8-0.2"/>
<path d="M551.1 239.7l5-2.9-2.4 1.3-4.9 2.8z" fill="#0efd7e"/>
<path d="M555.7 237.1l-2.3 1.2"/>
<path d="M504.9 261.3l5-1.8-2.1 1-5 1.8z" fill="#00d4d9"/>
<path d="M427.4 278.3l5-0.2-2 0.3-4.9 0.2z" fill="#0077d9"/>
<path d="M609.4 200.6l5.1-4.1-2.6 1.4-5.1 4.1z" fill="#5eff15"/>
<path d="M605 204l5.1-4-2.6 1.4-5 4z" fill="#4bff14"/>
<path d="M609.7 200.3l-2.5 1.4"/>
<path d="M613.8 197.1l5.1-4.1-2.6 1.3-5.1 4.2z" fill="#71ff16"/>
<path d="M417.3 278.6l5 0-1.9 0.2-5 0z" fill="#0077d9"/>
<path d="M523.7 253.5l4.9-2.2-2.2 1.1-4.9 2.3z" fill="#00d9a8"/>
<path d="M521.9 254.5l4.1-1.9"/>
<path d="M528.2 251.5l-2.2 1.1"/>
<path d="M600.6 207.3l5.1-3.9-2.5 1.4-5.1 3.9z" fill="#39ff14"/>
<path d="M437.5 277.5l4.9-0.4-1.9 0.4-5 0.4z" fill="#007cd9"/>
<path d="M436 277.9l4-0.4"/>
<path d="M442 277.2l-2 0.3"/>
<path d="M618.3 193.6l5.1-4.3-2.7 1.4-5.1 4.2z" fill="#86ff16"/>
<path d="M596.3 210.6l5-3.9-2.5 1.4-5 3.8z" fill="#29ff13"/>
<path d="M622.7 189.9l5.1-4.3-2.6 1.3-5.1 4.4z" fill="#9bff17"/>
<path d="M623 189.6l-2.6 1.4"/>
<path d="M546.8 242l5-2.8-2.3 1.3-4.9 2.7z" fill="#0dfd86"/>
<path d="M591.9 213.7l5.1-3.7-2.5 1.3-5.1 3.8z" fill="#1bff12"/>
<path d="M596.6 210.2l-2.5 1.4"/>
<path d="M407.3 278.5l5 0.2-1.9 0-5-0.2z" fill="#007ad9"/>
<path d="M405.8 278.5l4.1 0.2"/>
<path d="M411.8 278.7l-1.9 0"/>
<path d="M627.2 186.2l5.1-4.4-2.7 1.3-5.1 4.5z" fill="#b2ff17"/>
<path d="M447.6 276.3l4.9-0.6-1.9 0.5-5 0.6z" fill="#0083d9"/>
<path d="M587.6 216.8l5-3.7-2.4 1.4-5.1 3.6z" fill="#12ff16"/>
<path d="M486.4 267.6l4.9-1.4-2.1 0.9-4.9 1.4z" fill="#00b2d9"/>
<path d="M631.6 182.4l5.2-4.5-2.7 1.3-5.1 4.5z" fill="#caff18"/>
<path d="M472 271.6l5-1.2-2.1 0.8-4.9 1.1z" fill="#009dd9"/>
<path d="M470.4 272.2l4.1-0.9"/>
<path d="M381.3 275.9l4.9 0.7-1.8-0.4-5-0.7z" fill="#008ad9"/>
<path d="M379.9 275.6l4 0.6"/>
<path d="M583.3 219.8l5-3.6-2.5 1.4-5 3.5z" fill="#11ff21"/>
<path d="M636.1 178.5l5.2-4.6-2.7 1.4-5.1 4.6z" fill="#e2ff18"/>
<path d="M636.4 178.1l-2.6 1.5"/>
<path d="M365.3 272.7l5 1-1.9-0.6-4.9-1.1z" fill="#01b0f0"/>
<path d="M365.7 272.7l-1.8-0.6"/>
<path d="M397.2 277.8l5 0.5-1.9-0.2-4.9-0.4z" fill="#0080d9"/>
<path d="M519.5 255.3l5-2.1-2.2 1.1-5 2.2z" fill="#00d9af"/>
<path d="M517.7 256.3l4.2-1.8"/>
<path d="M500.8 262.8l5-1.8-2.1 1.1-5 1.7z" fill="#00d0d9"/>
<path d="M542.6 244.2l5-2.6-2.3 1.2-4.9 2.7z" fill="#0cfc8f"/>
<path d="M579 222.7l5-3.5-2.4 1.4-5.1 3.4z" fill="#10ff2c"/>
<path d="M583.6 219.5l-2.4 1.4"/>
<path d="M457.7 274.6l5-0.8-2 0.6-5 0.9z" fill="#008fd9"/>
<path d="M640.7 174.5l5.1-4.7-2.7 1.4-5.1 4.7z" fill="#fcff19"/>
<path d="M574.7 225.5l5-3.4-2.4 1.4-5 3.3z" fill="#10ff37"/>
<path d="M645.2 170.5l5.2-4.8-2.8 1.4-5.1 4.8z" fill="#fffd19"/>
<path d="M650 166l-2.6 1.4"/>
<path d="M538.4 246.4l5-2.6-2.2 1.3-5 2.5z" fill="#00d97e"/>
<path d="M543 244l-2.2 1.3"/>
<path d="M423.3 278.4l5-0.1-1.9 0.3-5 0.1z" fill="#007ed9"/>
<path d="M427.8 278.3l-1.9 0.3"/>
<path d="M387.2 276.7l5 0.7-1.9-0.3-4.9-0.6z" fill="#008ad9"/>
<path d="M433.4 277.8l5-0.3-2 0.4-4.9 0.3z" fill="#0081d9"/>
<path d="M431.9 278.2l4.1-0.3"/>
<path d="M482.2 268.7l5-1.3-2 0.9-5 1.3z" fill="#00b1d9"/>
<path d="M486.8 267.5l-2.1 0.9"/>
<path d="M570.4 228.2l5-3.2-2.4 1.3-5 3.3z" fill="#0fff42"/>
<path d="M371.2 274l5 1-1.8-0.6-5-0.9z" fill="#009ad9"/>
<path d="M515.4 257l4.9-2-2.1 1.1-5 2.1z" fill="#00d9b5"/>
<path d="M513.6 258l4.1-1.7"/>
<path d="M413.3 278.5l4.9 0.1-1.9 0.2-4.9-0.1z" fill="#007fd9"/>
<path d="M467.9 272.4l5-1-2 0.8-5 1z" fill="#009ed9"/>
<path d="M466.3 273.1l4.1-0.9"/>
<path d="M472.4 271.5l-2 0.7"/>
<path d="M443.5 276.7l5-0.5-2 0.6-5 0.5z" fill="#0088d9"/>
<path d="M496.7 264.2l5-1.7-2.2 1-4.9 1.7z" fill="#00cdd9"/>
<path d="M501.2 262.7l-2.1 0.9"/>
<path d="M566.1 230.9l5-3.2-2.3 1.4-5.1 3.1z" fill="#0efe4c"/>
<path d="M570.7 228l-2.3 1.3"/>
<path d="M403.2 278.2l5 0.3-1.9 0-5-0.3z" fill="#0083d9"/>
<path d="M401.8 278.2l4 0.3"/>
<path d="M534.2 248.4l5-2.4-2.2 1.2-5 2.5z" fill="#00d985"/>
<path d="M453.6 275.2l5-0.7-2 0.7-4.9 0.7z" fill="#0092d9"/>
<path d="M458.2 274.6l-2 0.6"/>
<path d="M561.8 233.4l5.1-3-2.4 1.3-5 3.1z" fill="#0efd55"/>
<path d="M377.2 275.2l5 0.8-1.9-0.4-5-0.8z" fill="#0097d9"/>
<path d="M375.8 274.9l4.1 0.7"/>
<path d="M381.7 275.9l-1.8-0.3"/>
<path d="M511.2 258.7l5-2-2.2 1.2-4.9 1.9z" fill="#00d9ba"/>
<path d="M509.5 259.6l4.1-1.6"/>
<path d="M515.8 256.9l-2.2 1.1"/>
<path d="M393.2 277.4l4.9 0.5-1.8-0.1-5-0.5z" fill="#008bd9"/>
<path d="M397.7 277.9l-1.9-0.2"/>
<path d="M478.1 269.8l5-1.3-2 1-5 1.2z" fill="#00b1d9"/>
<path d="M557.6 235.9l5-2.9-2.3 1.3-5 3z" fill="#0dfd5f"/>
<path d="M530 250.4l5-2.4-2.2 1.3-5 2.4z" fill="#00d98c"/>
<path d="M492.6 265.4l4.9-1.5-2.1 1.1-4.9 1.5z" fill="#00cad9"/>
<path d="M463.8 273.2l5-0.9-2 0.8-5 0.9z" fill="#009fd9"/>
<path d="M462.3 273.9l4-0.8"/>
<path d="M429.3 278l5-0.2-1.9 0.4-5 0.2z" fill="#0088d9"/>
<path d="M427.8 278.3l4.1-0.1"/>
<path d="M419.2 278.4l5 0-1.9 0.3-5 0z" fill="#0086d9"/>
<path d="M439.4 277.1l5-0.4-2 0.5-4.9 0.4z" fill="#008dd9"/>
<path d="M444 276.7l-2 0.5"/>
<path d="M553.3 238.3l5.1-2.8-2.3 1.3-5.1 2.9z" fill="#00d953"/>
<path d="M558 235.7l-2.3 1.4"/>
<path d="M409.2 278.3l5 0.3-1.9 0.1-5-0.2z" fill="#0088d9"/>
<path d="M413.7 278.6l-1.9 0.1"/>
<path d="M507.1 260.2l5-1.8-2.2 1.1-5 1.9z" fill="#00d9bf"/>
<path d="M505.4 261.2l4.1-1.6"/>
<path d="M383.1 276.1l5 0.7-1.9-0.2-4.9-0.7z" fill="#0096d9"/>
<path d="M525.9 252.3l5-2.3-2.2 1.3-5 2.3z" fill="#00d992"/>
<path d="M530.5 250.2l-2.3 1.3"/>
<path d="M367.1 273.1l5 1.1-1.8-0.5-5-1.1z" fill="#00a9d9"/>
<path d="M367.6 273.2l-1.9-0.5"/>
<path d="M611.9 199l5.1-4-2.6 1.5-5 4z" fill="#73ff13"/>
<path d="M609.7 200.3l4.4-3.5"/>
<path d="M607.5 202.5l5.1-4-2.6 1.5-5 3.9z" fill="#60ff13"/>
<path d="M605.3 203.7l4.4-3.4"/>
<path d="M612.2 198.7l-2.5 1.6"/>
<path d="M616.4 195.6l5.1-4.2-2.6 1.5-5.1 4.1z" fill="#87ff14"/>
<path d="M614.1 196.8l4.4-3.6"/>
<path d="M449.6 275.7l4.9-0.6-1.9 0.7-5 0.6z" fill="#0095d9"/>
<path d="M603.1 205.8l5.1-3.9-2.5 1.5-5.1 3.9z" fill="#4eff12"/>
<path d="M601 207l4.3-3.3"/>
<path d="M620.8 192l5.1-4.3-2.6 1.5-5.1 4.3z" fill="#9cff14"/>
<path d="M618.5 193.2l4.5-3.6"/>
<path d="M598.7 209l5.1-3.8-2.5 1.5-5.1 3.8z" fill="#3dff11"/>
<path d="M596.6 210.2l4.4-3.2"/>
<path d="M625.3 188.3l5.1-4.3-2.7 1.5-5.1 4.3z" fill="#b2ff15"/>
<path d="M623 189.6l4.4-3.8"/>
<path d="M625.6 188l-2.6 1.6"/>
<path d="M399.1 277.8l5 0.5-1.9 0-5-0.5z" fill="#008ed9"/>
<path d="M397.7 277.9l4.1 0.3"/>
<path d="M549.1 240.6l5-2.7-2.3 1.4-5 2.7z" fill="#00d95b"/>
<path d="M474 270.7l5-1.1-2 0.9-5 1.1z" fill="#00b1d9"/>
<path d="M488.4 266.6l5-1.4-2.1 1.1-4.9 1.4z" fill="#00c8d9"/>
<path d="M594.4 212.2l5-3.7-2.5 1.4-5 3.8z" fill="#2dff11"/>
<path d="M592.3 213.4l4.3-3.2"/>
<path d="M599.1 208.7l-2.5 1.5"/>
<path d="M629.7 184.6l5.2-4.4-2.7 1.5-5.1 4.4z" fill="#c9ff15"/>
<path d="M627.4 185.8l4.5-3.8"/>
<path d="M590 215.2l5.1-3.6-2.5 1.5-5 3.6z" fill="#1fff10"/>
<path d="M587.9 216.5l4.4-3.1"/>
<path d="M634.2 180.8l5.2-4.5-2.7 1.5-5.1 4.5z" fill="#e1ff16"/>
<path d="M631.9 182l4.5-3.9"/>
<path d="M459.7 273.9l5-0.8-2 0.8-5 0.8z" fill="#00a2d9"/>
<path d="M458.2 274.6l4.1-0.7"/>
<path d="M585.7 218.2l5-3.5-2.4 1.5-5.1 3.5z" fill="#12ff0f"/>
<path d="M583.6 219.5l4.3-3"/>
<path d="M502.9 261.7l5-1.8-2.1 1.2-5 1.7z" fill="#00d9c4"/>
<path d="M501.2 262.7l4.2-1.5"/>
<path d="M521.7 254.1l5-2.2-2.2 1.3-5 2.2z" fill="#00d998"/>
<path d="M638.8 176.9l5.1-4.6-2.7 1.5-5.1 4.6z" fill="#faff16"/>
<path d="M636.4 178.1l4.5-3.9"/>
<path d="M639 176.5l-2.6 1.6"/>
<path d="M373.1 274.4l5 0.9-1.9-0.4-5-0.9z" fill="#00a5d9"/>
<path d="M371.7 274.1l4.1 0.8"/>
<path d="M544.9 242.9l5-2.7-2.3 1.4-5 2.6z" fill="#00d963"/>
<path d="M389.1 276.8l5 0.7-1.9-0.1-5-0.7z" fill="#0097d9"/>
<path d="M581.4 221.1l5-3.4-2.4 1.5-5.1 3.4z" fill="#0ffe18"/>
<path d="M579.3 222.4l4.3-2.9"/>
<path d="M586 218l-2.4 1.5"/>
<path d="M643.3 172.9l5.2-4.7-2.8 1.5-5.1 4.7z" fill="#fffb17"/>
<path d="M640.9 174.2l4.6-4.1"/>
<path d="M425.2 278l5 0-1.9 0.4-5 0.1z" fill="#008fd9"/>
<path d="M423.8 278.4l4-0.1"/>
<path d="M429.8 278l-2 0.3"/>
<path d="M435.3 277.3l5-0.3-1.9 0.6-5 0.3z" fill="#0092d9"/>
<path d="M415.2 278.3l4.9 0.1-1.9 0.3-4.9-0.1z" fill="#008ed9"/>
<path d="M577 224l5.1-3.4-2.4 1.5-5.1 3.4z" fill="#0efe22"/>
<path d="M575 225.2l4.3-2.8"/>
<path d="M647.9 168.9l5.2-4.8-2.8 1.5-5.2 4.8z" fill="#ffe417"/>
<path d="M645.5 170.1l4.5-4.1"/>
<path d="M652.7 164.4l-2.7 1.6"/>
<path d="M484.3 267.8l5-1.4-2.1 1.1-4.9 1.3z" fill="#00c7d9"/>
<path d="M488.9 266.6l-2.1 0.9"/>
<path d="M540.7 245l5-2.5-2.3 1.3-5 2.6z" fill="#00d96a"/>
<path d="M545.3 242.7l-2.3 1.3"/>
<path d="M445.5 276.1l5-0.5-2 0.7-5 0.5z" fill="#009ad9"/>
<path d="M469.9 271.6l5-1-2 0.9-5 1z" fill="#00b2d9"/>
<path d="M474.5 270.7l-2.1 0.8"/>
<path d="M405.1 278.1l5 0.3-1.9 0.2-5-0.4z" fill="#0092d9"/>
<path d="M517.5 255.8l5-2-2.1 1.3-5 2z" fill="#00d99e"/>
<path d="M572.7 226.7l5.1-3.2-2.4 1.5-5 3.2z" fill="#0dfd2d"/>
<path d="M570.7 228l4.3-2.8"/>
<path d="M498.8 263l5-1.6-2.1 1.2-5 1.6z" fill="#00d9c8"/>
<path d="M497.1 264.1l4.1-1.4"/>
<path d="M503.4 261.6l-2.2 1.1"/>
<path d="M379 275.4l5 0.8-1.8-0.2-5-0.8z" fill="#00a4d9"/>
<path d="M383.6 276.2l-1.9-0.3"/>
<path d="M568.5 229.4l5-3.2-2.4 1.5-5 3.2z" fill="#0dfd36"/>
<path d="M566.5 230.6l4.2-2.6"/>
<path d="M573.1 226.5l-2.4 1.5"/>
<path d="M455.6 274.5l5-0.7-2 0.8-4.9 0.7z" fill="#00a5d9"/>
<path d="M454.1 275.2l4.1-0.6"/>
<path d="M460.2 273.9l-2 0.7"/>
<path d="M395 277.4l5 0.5-1.9 0.1-4.9-0.6z" fill="#0099d9"/>
<path d="M393.6 277.4l4.1 0.5"/>
<path d="M399.6 277.9l-1.9 0"/>
<path d="M536.5 247.1l5-2.5-2.2 1.4-5.1 2.5z" fill="#00d971"/>
<path d="M564.2 231.9l5-3-2.3 1.5-5.1 3z" fill="#00d92f"/>
<path d="M562.2 233.2l4.3-2.6"/>
<path d="M513.4 257.4l5-1.9-2.2 1.3-5 1.9z" fill="#00d9a3"/>
<path d="M518 255.7l-2.2 1.2"/>
<path d="M480.2 268.8l5-1.2-2.1 1.1-4.9 1.2z" fill="#00c7d9"/>
<path d="M421.2 278l4.9 0.1-1.9 0.4-5-0.1z" fill="#0096d9"/>
<path d="M419.7 278.4l4.1 0"/>
<path d="M431.3 277.5l4.9-0.2-1.9 0.6-5 0.1z" fill="#0099d9"/>
<path d="M494.7 264.3l5-1.5-2.1 1.2-5 1.5z" fill="#00d9cb"/>
<path d="M493 265.4l4.1-1.3"/>
<path d="M465.8 272.3l5-0.9-2 1-5 0.9z" fill="#00b4d9"/>
<path d="M385 276.2l5 0.8-1.9-0.1-5-0.8z" fill="#00a3d9"/>
<path d="M532.3 249l5-2.3-2.2 1.4-5 2.3z" fill="#00d977"/>
<path d="M368.9 273.5l5 1-1.8-0.3-5-1.1z" fill="#00b5d9"/>
<path d="M367.6 273.2l4.1 0.9"/>
<path d="M369.4 273.6l-1.8-0.4"/>
<path d="M559.9 234.4l5.1-2.9-2.4 1.5-5 2.9z" fill="#00d937"/>
<path d="M558 235.7l4.2-2.5"/>
<path d="M411.1 278.1l5 0.2-2 0.3-4.9-0.2z" fill="#0098d9"/>
<path d="M415.6 278.3l-1.9 0.3"/>
<path d="M441.4 276.5l5-0.4-2 0.7-5 0.4z" fill="#009fd9"/>
<path d="M445.9 276.1l-1.9 0.6"/>
<path d="M401 277.7l5 0.4-1.9 0.2-5-0.4z" fill="#009cd9"/>
<path d="M509.2 259l5-1.8-2.1 1.3-5 1.8z" fill="#00d9a7"/>
<path d="M555.7 236.8l5-2.8-2.3 1.5-5 2.8z" fill="#00d940"/>
<path d="M553.7 238.1l4.3-2.4"/>
<path d="M560.3 234.2l-2.3 1.5"/>
<path d="M451.5 275l5-0.6-2 0.8-4.9 0.6z" fill="#00a9d9"/>
<path d="M450 275.7l4.1-0.5"/>
<path d="M528.1 250.9l5-2.2-2.2 1.4-5 2.2z" fill="#00d97d"/>
<path d="M532.7 248.9l-2.2 1.3"/>
<path d="M614.5 197.4l5.1-4.1-2.6 1.6-5.1 4.1z" fill="#8aff11"/>
<path d="M476.1 269.7l5-1.1-2.1 1.1-4.9 1.1z" fill="#00c7d9"/>
<path d="M610 200.8l5.1-4-2.5 1.6-5.1 4z" fill="#77ff11"/>
<path d="M614.8 197.1l-2.6 1.6"/>
<path d="M618.9 193.9l5.1-4.2-2.6 1.6-5.1 4.2z" fill="#9fff12"/>
<path d="M374.9 274.6l5 0.9-1.9-0.2-4.9-0.9z" fill="#00b2d9"/>
<path d="M490.5 265.5l5-1.4-2.1 1.2-4.9 1.4z" fill="#00d9cd"/>
<path d="M488.9 266.6l4.1-1.2"/>
<path d="M605.6 204.1l5.1-3.9-2.5 1.6-5.1 3.9z" fill="#64ff10"/>
<path d="M623.4 190.3l5.1-4.3-2.6 1.7-5.2 4.2z" fill="#b4ff13"/>
<path d="M601.2 207.4l5.1-3.8-2.5 1.6-5.1 3.8z" fill="#53ff10"/>
<path d="M627.8 186.7l5.2-4.4-2.7 1.6-5.1 4.4z" fill="#caff13"/>
<path d="M628.2 186.3l-2.6 1.7"/>
<path d="M390.9 276.8l5 0.7-1.9 0-4.9-0.6z" fill="#00a5d9"/>
<path d="M389.5 276.9l4.1 0.5"/>
<path d="M551.4 239.1l5-2.7-2.2 1.5-5.1 2.8z" fill="#00d948"/>
<path d="M549.5 240.4l4.2-2.3"/>
<path d="M596.8 210.5l5.1-3.7-2.5 1.6-5.1 3.7z" fill="#42ff0f"/>
<path d="M601.6 207.1l-2.5 1.6"/>
<path d="M632.3 182.9l5.2-4.4-2.7 1.6-5.1 4.4z" fill="#e1ff14"/>
<path d="M461.7 273l5-0.8-2 1-5 0.8z" fill="#00b7d9"/>
<path d="M592.5 213.6l5.1-3.6-2.5 1.6-5.1 3.6z" fill="#33fe0f"/>
<path d="M636.9 179.1l5.1-4.5-2.7 1.6-5.1 4.5z" fill="#faff14"/>
<path d="M505.1 260.4l5-1.7-2.2 1.4-4.9 1.7z" fill="#00d9ab"/>
<path d="M427.2 277.5l5 0-2 0.6-5 0z" fill="#00a0d9"/>
<path d="M431.7 277.5l-1.9 0.5"/>
<path d="M523.9 252.7l5-2.1-2.2 1.4-5 2.2z" fill="#00d983"/>
<path d="M417.1 277.9l5 0.2-2 0.4-4.9-0.1z" fill="#009fd9"/>
<path d="M415.6 278.3l4.1 0.1"/>
<path d="M588.1 216.6l5.1-3.5-2.5 1.6-5 3.5z" fill="#24fe0e"/>
<path d="M641.4 175.2l5.2-4.6-2.7 1.6-5.2 4.6z" fill="#fff715"/>
<path d="M641.7 174.8l-2.7 1.7"/>
<path d="M437.3 276.7l5-0.3-2 0.7-5 0.3z" fill="#00a5d9"/>
<path d="M547.2 241.4l5-2.7-2.3 1.6-5 2.6z" fill="#00d94f"/>
<path d="M545.3 242.7l4.2-2.3"/>
<path d="M407 277.8l5 0.4-1.9 0.3-5-0.4z" fill="#00a2d9"/>
<path d="M583.8 219.5l5-3.4-2.4 1.6-5.1 3.4z" fill="#17fd0d"/>
<path d="M588.5 216.3l-2.5 1.7"/>
<path d="M646 171.2l5.2-4.7-2.8 1.7-5.2 4.6z" fill="#ffe115"/>
<path d="M380.8 275.5l5 0.9-1.8-0.1-5-0.9z" fill="#00b1d9"/>
<path d="M385.4 276.3l-1.8-0.1"/>
<path d="M447.4 275.4l5-0.5-1.9 0.9-5 0.4z" fill="#00aed9"/>
<path d="M445.9 276.1l4.1-0.4"/>
<path d="M486.4 266.7l5-1.3-2.1 1.2-5 1.3z" fill="#00d9cf"/>
<path d="M484.8 267.7l4.1-1.1"/>
<path d="M491 265.5l-2.1 1.1"/>
<path d="M472 270.6l5-1-2.1 1.1-4.9 1z" fill="#00c8d9"/>
<path d="M476.5 269.7l-2 1"/>
<path d="M579.4 222.3l5.1-3.3-2.4 1.6-5.1 3.4z" fill="#0dfc0d"/>
<path d="M650.5 167.1l5.2-4.7-2.7 1.6-5.2 4.8z" fill="#ffca15"/>
<path d="M655.4 162.6l-2.7 1.8"/>
<path d="M542.9 243.5l5.1-2.5-2.3 1.5-5 2.5z" fill="#00d956"/>
<path d="M541.1 244.8l4.2-2.1"/>
<path d="M547.6 241.2l-2.3 1.5"/>
<path d="M396.9 277.2l5 0.6-1.9 0.2-5-0.6z" fill="#00a8d9"/>
<path d="M401.4 277.8l-1.8 0.1"/>
<path d="M519.7 254.5l5-2.1-2.1 1.5-5 2z" fill="#00d988"/>
<path d="M500.9 261.8l5-1.6-2.1 1.3-5 1.7z" fill="#00d9ae"/>
<path d="M505.5 260.4l-2.1 1.2"/>
<path d="M575.1 225.1l5.1-3.3-2.4 1.7-5.1 3.2z" fill="#00d90a"/>
<path d="M457.6 273.6l5-0.7-2 1-5 0.7z" fill="#00bad9"/>
<path d="M462.2 273l-2 0.9"/>
<path d="M570.8 227.7l5.1-3.1-2.4 1.6-5 3.2z" fill="#00d913"/>
<path d="M575.5 224.8l-2.4 1.7"/>
<path d="M538.7 245.6l5.1-2.5-2.3 1.6-5 2.4z" fill="#00d95d"/>
<path d="M536.9 246.9l4.2-2.1"/>
<path d="M370.8 273.7l5 1.1-1.9-0.2-5-1.1z" fill="#00c1d9"/>
<path d="M371.2 273.8l-1.8-0.2"/>
<path d="M386.8 276.2l5 0.8-1.9 0-4.9-0.7z" fill="#00b2d9"/>
<path d="M385.4 276.3l4.1 0.6"/>
<path d="M423.1 277.5l5 0.1-2 0.6-4.9-0.1z" fill="#00a8d9"/>
<path d="M433.2 276.9l5-0.2-2 0.7-4.9 0.2z" fill="#00acd9"/>
<path d="M515.5 256.1l5.1-1.9-2.2 1.4-5 1.9z" fill="#00d98d"/>
<path d="M520.2 254.4l-2.2 1.3"/>
<path d="M482.3 267.7l5-1.2-2.1 1.2-5 1.2z" fill="#00d9cf"/>
<path d="M480.7 268.8l4.1-1.1"/>
<path d="M413 277.7l5 0.3-2 0.4-4.9-0.2z" fill="#00a8d9"/>
<path d="M411.5 278.2l4.1 0.1"/>
<path d="M417.5 278l-1.9 0.3"/>
<path d="M566.5 230.3l5.1-3-2.4 1.6-5 3z" fill="#00d91c"/>
<path d="M467.9 271.4l5-0.9-2.1 1.1-4.9 0.9z" fill="#00cad9"/>
<path d="M496.8 263.1l5-1.5-2.1 1.4-5 1.5z" fill="#00d9b0"/>
<path d="M443.3 275.7l5-0.3-1.9 0.8-5 0.4z" fill="#00b3d9"/>
<path d="M441.8 276.5l4.1-0.4"/>
<path d="M447.9 275.4l-2 0.7"/>
<path d="M402.9 277.5l5 0.4-1.9 0.3-5-0.4z" fill="#00acd9"/>
<path d="M534.5 247.6l5-2.4-2.2 1.6-5 2.3z" fill="#00d963"/>
<path d="M532.7 248.9l4.2-2"/>
<path d="M562.2 232.8l5.1-2.9-2.3 1.6-5.1 2.9z" fill="#00d925"/>
<path d="M376.7 274.7l5 1-1.8-0.1-5-1z" fill="#00c0d9"/>
<path d="M453.5 274.1l5-0.5-2 0.9-4.9 0.6z" fill="#00bed9"/>
<path d="M511.4 257.6l5-1.8-2.1 1.5-5.1 1.8z" fill="#00d990"/>
<path d="M392.8 276.7l5 0.7-1.9 0.2-5-0.7z" fill="#00b4d9"/>
<path d="M558 235.2l5-2.8-2.3 1.6-5 2.9z" fill="#00d92d"/>
<path d="M562.7 232.6l-2.4 1.6"/>
<path d="M530.3 249.4l5-2.2-2.2 1.6-5 2.2z" fill="#00d969"/>
<path d="M528.5 250.8l4.2-1.9"/>
<path d="M534.9 247.4l-2.2 1.5"/>
<path d="M478.1 268.6l5.1-1-2.1 1.2-5 1.1z" fill="#00d9ce"/>
<path d="M476.5 269.7l4.2-0.9"/>
<path d="M492.6 264.3l5-1.4-2 1.4-5 1.4z" fill="#00d9b2"/>
<path d="M617 195.6l5.2-4.1-2.6 1.8-5.2 4z" fill="#a3ff10"/>
<path d="M612.6 199l5.1-4-2.6 1.8-5.1 3.9z" fill="#8fff0f"/>
<path d="M617.3 195.3l-2.5 1.8"/>
<path d="M621.5 192.1l5.1-4.2-2.6 1.8-5.1 4.1z" fill="#b8ff10"/>
<path d="M463.8 272l5-0.7-2.1 1.1-4.9 0.8z" fill="#00cdd9"/>
<path d="M608.1 202.3l5.2-3.9-2.6 1.8-5.1 3.9z" fill="#7cff0f"/>
<path d="M625.9 188.5l5.2-4.3-2.6 1.8-5.2 4.3z" fill="#cdff11"/>
<path d="M429.1 276.9l5 0-2 0.7-4.9 0.1z" fill="#00b3d9"/>
<path d="M433.6 276.9l-1.9 0.6"/>
<path d="M419 277.4l5 0.2-2 0.6-4.9-0.2z" fill="#00b1d9"/>
<path d="M553.7 237.5l5.1-2.7-2.3 1.7-5.1 2.7z" fill="#00d935"/>
<path d="M603.7 205.6l5.1-3.8-2.5 1.7-5.1 3.8z" fill="#6afe0e"/>
<path d="M630.4 184.8l5.2-4.3-2.6 1.8-5.2 4.3z" fill="#e4ff11"/>
<path d="M630.8 184.5l-2.6 1.8"/>
<path d="M382.7 275.5l5 0.9-1.9 0-5-0.8z" fill="#00c0d9"/>
<path d="M381.3 275.6l4.1 0.7"/>
<path d="M387.2 276.3l-1.8 0"/>
<path d="M599.3 208.7l5.1-3.7-2.5 1.8-5.1 3.7z" fill="#59fd0e"/>
<path d="M604.1 205.3l-2.5 1.8"/>
<path d="M439.2 276l5-0.3-1.9 0.9-5 0.2z" fill="#00b9d9"/>
<path d="M437.7 276.8l4.1-0.3"/>
<path d="M635 181.1l5.1-4.4-2.6 1.7-5.2 4.5z" fill="#fbff12"/>
<path d="M408.9 277.5l5 0.3-2 0.5-4.9-0.4z" fill="#00b3d9"/>
<path d="M407.4 277.9l4.1 0.3"/>
<path d="M507.2 259.1l5-1.7-2.1 1.5-5 1.7z" fill="#00d994"/>
<path d="M594.9 211.8l5.1-3.6-2.4 1.8-5.1 3.6z" fill="#49fd0d"/>
<path d="M639.5 177.3l5.2-4.6-2.7 1.8-5.2 4.5z" fill="#fff212"/>
<path d="M526.1 251.3l5-2.2-2.1 1.6-5.1 2.1z" fill="#00d96e"/>
<path d="M524.3 252.6l4.2-1.8"/>
<path d="M590.6 214.8l5.1-3.5-2.5 1.8-5.1 3.5z" fill="#29d900"/>
<path d="M549.5 239.7l5-2.6-2.3 1.7-5 2.6z" fill="#00d93c"/>
<path d="M644 173.4l5.3-4.7-2.8 1.8-5.2 4.6z" fill="#ffdc13"/>
<path d="M644.3 173l-2.6 1.8"/>
<path d="M449.4 274.5l5-0.4-2 1-4.9 0.4z" fill="#00c3d9"/>
<path d="M398.8 277l5 0.6-1.9 0.3-5-0.6z" fill="#00b8d9"/>
<path d="M403.3 277.6l-1.9 0.2"/>
<path d="M488.5 265.4l5-1.2-2.1 1.3-5 1.3z" fill="#00d9b3"/>
<path d="M493.1 264.3l-2.1 1.2"/>
<path d="M586.2 217.7l5.1-3.4-2.4 1.8-5.1 3.4z" fill="#1dd900"/>
<path d="M590.9 214.6l-2.4 1.7"/>
<path d="M474 269.5l5-1-2 1.3-5 0.9z" fill="#00d9cd"/>
<path d="M472.4 270.6l4.1-0.9"/>
<path d="M478.6 268.7l-2.1 1"/>
<path d="M648.6 169.4l5.3-4.7-2.8 1.7-5.2 4.7z" fill="#ffc613"/>
<path d="M581.9 220.6l5.1-3.4-2.5 1.8-5.1 3.3z" fill="#12d900"/>
<path d="M372.6 273.8l5 1.1-1.8-0.1-5-1.1z" fill="#00cfd9"/>
<path d="M373 273.9l-1.8-0.1"/>
<path d="M653.2 165.3l5.3-4.8-2.8 1.8-5.2 4.8z" fill="#ffaf14"/>
<path d="M658.1 160.8l-2.7 1.8"/>
<path d="M521.9 253l5-2-2.1 1.6-5 2z" fill="#00d973"/>
<path d="M520.2 254.4l4.1-1.8"/>
<path d="M545.2 241.9l5.1-2.5-2.3 1.7-5 2.5z" fill="#00d943"/>
<path d="M549.9 239.6l-2.3 1.6"/>
<path d="M503 260.5l5.1-1.6-2.1 1.5-5.1 1.6z" fill="#00d997"/>
<path d="M507.7 259.1l-2.2 1.3"/>
<path d="M459.6 272.6l5-0.6-2 1.1-5 0.7z" fill="#00d0d9"/>
<path d="M464.2 272.1l-2 0.9"/>
<path d="M388.7 276.1l5 0.8-1.9 0.2-5-0.8z" fill="#00c1d9"/>
<path d="M577.5 223.3l5.1-3.2-2.4 1.8-5.1 3.2z" fill="#07d900"/>
<path d="M425 276.9l5 0.1-2 0.7-4.9 0z" fill="#00bbd9"/>
<path d="M414.9 277.2l5 0.3-2 0.6-4.9-0.3z" fill="#00bbd9"/>
<path d="M419.4 277.5l-1.9 0.5"/>
<path d="M435.1 276.1l5-0.1-1.9 0.9-5 0.1z" fill="#00c0d9"/>
<path d="M433.6 276.9l4.1-0.1"/>
<path d="M573.2 226l5.1-3.1-2.4 1.7-5.1 3.2z" fill="#00d901"/>
<path d="M577.9 223.1l-2.4 1.7"/>
<path d="M541 244l5-2.5-2.2 1.7-5 2.5z" fill="#00d949"/>
<path d="M484.4 266.5l5-1.2-2.1 1.4-5 1.1z" fill="#00d9b3"/>
<path d="M404.7 277.1l5 0.5-1.9 0.4-4.9-0.4z" fill="#00bed9"/>
<path d="M403.3 277.6l4.1 0.3"/>
<path d="M517.7 254.6l5.1-1.9-2.2 1.6-5 1.9z" fill="#00d977"/>
<path d="M516 256l4.2-1.6"/>
<path d="M522.4 252.9l-2.2 1.5"/>
<path d="M445.3 274.9l5-0.4-2 1-4.9 0.4z" fill="#00c8d9"/>
<path d="M449.9 274.6l-2 0.8"/>
<path d="M469.9 270.3l5-0.9-2 1.3-5 0.8z" fill="#00d9ca"/>
<path d="M468.3 271.4l4.1-0.8"/>
<path d="M378.6 274.7l5 1-1.9 0-5-0.9z" fill="#00ced9"/>
<path d="M377.2 274.8l4.1 0.8"/>
<path d="M498.9 261.8l5-1.5-2.1 1.5-5 1.5z" fill="#00d999"/>
<path d="M568.9 228.6l5.1-3.1-2.4 1.8-5 3z" fill="#00d90a"/>
<path d="M394.6 276.5l5 0.7-1.8 0.3-5-0.7z" fill="#00c5d9"/>
<path d="M536.8 245.9l5-2.3-2.2 1.7-5.1 2.4z" fill="#00d94f"/>
<path d="M455.5 273.2l5-0.6-2 1.1-5 0.6z" fill="#00d4d9"/>
<path d="M564.6 231l5.1-2.9-2.4 1.8-5 2.9z" fill="#00d912"/>
<path d="M513.5 256.2l5.1-1.8-2.2 1.6-5 1.8z" fill="#00d97b"/>
<path d="M511.8 257.6l4.2-1.6"/>
<path d="M480.2 267.4l5-1-2 1.3-5 1.1z" fill="#00d9b3"/>
<path d="M560.3 233.5l5.1-2.9-2.3 1.8-5.1 2.9z" fill="#00d91a"/>
<path d="M565 230.9l-2.3 1.7"/>
<path d="M384.5 275.4l5 0.9-1.8 0.2-5-0.9z" fill="#00cfd9"/>
<path d="M389.1 276.2l-1.9 0.1"/>
<path d="M420.9 276.8l5 0.2-2 0.8-4.9-0.2z" fill="#00c4d9"/>
<path d="M532.5 247.8l5.1-2.2-2.2 1.8-5.1 2.2z" fill="#00d955"/>
<path d="M537.2 245.9l-2.3 1.5"/>
<path d="M431 276.2l5 0-1.9 0.9-5 0z" fill="#00c7d9"/>
<path d="M429.5 277l4.1-0.1"/>
<path d="M435.6 276.2l-2 0.7"/>
<path d="M494.7 263l5.1-1.4-2.1 1.5-5 1.4z" fill="#00d99a"/>
<path d="M465.8 271l5-0.8-2 1.3-5 0.7z" fill="#00d9c7"/>
<path d="M464.2 272.1l4.1-0.7"/>
<path d="M410.7 277l5 0.4-1.9 0.6-5-0.4z" fill="#00c5d9"/>
<path d="M441.2 275.1l5-0.2-2 1-5 0.2z" fill="#00ced9"/>
<path d="M619.6 193.7l5.1-4.1-2.6 1.9-5.1 4.1z" fill="#bdfe0e"/>
<path d="M617.3 195.3l4.5-3.5"/>
<path d="M615.1 197.1l5.2-4-2.6 1.9-5.2 4z" fill="#a9fe0e"/>
<path d="M612.9 198.7l4.4-3.4"/>
<path d="M619.9 193.4l-2.6 1.9"/>
<path d="M624 190.2l5.2-4.2-2.6 1.9-5.2 4.1z" fill="#d2ff0f"/>
<path d="M621.8 191.8l4.5-3.6"/>
<path d="M610.6 200.4l5.2-3.9-2.5 1.9-5.2 3.9z" fill="#96fd0d"/>
<path d="M608.5 202l4.4-3.3"/>
<path d="M628.5 186.6l5.2-4.3-2.6 1.9-5.2 4.3z" fill="#e8ff0f"/>
<path d="M626.3 188.2l4.5-3.7"/>
<path d="M556 235.8l5.1-2.7-2.3 1.8-5.1 2.7z" fill="#00d921"/>
<path d="M400.6 276.6l5 0.6-1.9 0.5-5-0.6z" fill="#00cad9"/>
<path d="M399.2 277.1l4.1 0.5"/>
<path d="M405.2 277.2l-1.9 0.4"/>
<path d="M606.2 203.7l5.2-3.8-2.6 1.9-5.1 3.8z" fill="#83fd0d"/>
<path d="M604.1 205.3l4.4-3.3"/>
<path d="M633.1 182.9l5.2-4.3-2.7 1.9-5.2 4.3z" fill="#ffff10"/>
<path d="M630.8 184.5l4.5-3.7"/>
<path d="M633.4 182.6l-2.6 1.9"/>
<path d="M509.4 257.6l5-1.7-2.1 1.7-5.1 1.7z" fill="#00d97e"/>
<path d="M507.7 259.1l4.1-1.5"/>
<path d="M601.8 206.8l5.1-3.7-2.5 1.9-5.1 3.7z" fill="#5cd900"/>
<path d="M599.7 208.5l4.4-3.2"/>
<path d="M606.6 203.4l-2.5 1.9"/>
<path d="M637.6 179.2l5.2-4.5-2.7 1.9-5.2 4.4z" fill="#ffec10"/>
<path d="M635.3 180.8l4.5-3.9"/>
<path d="M451.4 273.6l5-0.5-2 1.2-5 0.4z" fill="#00d9d8"/>
<path d="M528.3 249.7l5.1-2.1-2.2 1.7-5.1 2.1z" fill="#00d95a"/>
<path d="M597.4 209.9l5.1-3.6-2.5 1.9-5.1 3.6z" fill="#4dd900"/>
<path d="M595.3 211.6l4.4-3.1"/>
<path d="M374.4 273.8l5 1.1-1.8 0.1-5-1.1z" fill="#00d9cf"/>
<path d="M373 273.9l4.2 0.9"/>
<path d="M374.8 274l-1.8-0.1"/>
<path d="M642.1 175.3l5.3-4.5-2.7 1.9-5.3 4.5z" fill="#ffd711"/>
<path d="M639.8 176.9l4.5-3.9"/>
<path d="M551.8 238l5-2.6-2.2 1.8-5.1 2.6z" fill="#00d928"/>
<path d="M476.1 268.3l5-1-2.1 1.4-5 1z" fill="#00d9b2"/>
<path d="M480.7 267.5l-2.1 1.2"/>
<path d="M593 212.9l5.1-3.5-2.4 1.9-5.1 3.5z" fill="#40d900"/>
<path d="M590.9 214.6l4.4-3"/>
<path d="M390.5 275.8l5 0.8-1.9 0.4-5-0.8z" fill="#00d2d9"/>
<path d="M646.7 171.4l5.3-4.6-2.8 1.9-5.2 4.6z" fill="#ffc111"/>
<path d="M644.3 173l4.6-4"/>
<path d="M647 171.1l-2.7 1.9"/>
<path d="M490.6 264.1l5-1.3-2.1 1.6-5 1.2z" fill="#00d99b"/>
<path d="M495.2 263l-2.1 1.3"/>
<path d="M588.6 215.9l5.2-3.5-2.5 2-5.1 3.4z" fill="#33d900"/>
<path d="M586.6 217.5l4.3-2.9"/>
<path d="M593.4 212.7l-2.5 1.9"/>
<path d="M651.3 167.4l5.3-4.7-2.8 1.9-5.2 4.7z" fill="#ffaa12"/>
<path d="M648.9 169l4.6-4"/>
<path d="M461.7 271.6l5-0.7-2.1 1.3-4.9 0.6z" fill="#00d9c3"/>
<path d="M460.1 272.7l4.1-0.6"/>
<path d="M466.2 271l-2 1.1"/>
<path d="M505.2 259l5-1.6-2.1 1.7-5 1.5z" fill="#00d981"/>
<path d="M503.5 260.5l4.2-1.4"/>
<path d="M509.8 257.6l-2.1 1.5"/>
<path d="M524.1 251.4l5.1-2-2.2 1.7-5 2z" fill="#00d95e"/>
<path d="M584.3 218.7l5.1-3.3-2.4 1.9-5.1 3.3z" fill="#27d900"/>
<path d="M582.2 220.3l4.4-2.8"/>
<path d="M426.9 276.2l5 0.1-1.9 0.9-5-0.1z" fill="#00d0d9"/>
<path d="M425.4 277l4.1 0"/>
<path d="M547.5 240.2l5.1-2.5-2.3 1.8-5 2.5z" fill="#00d92f"/>
<path d="M552.2 237.9l-2.3 1.7"/>
<path d="M416.8 276.7l5 0.2-2 0.8-5-0.3z" fill="#00ced9"/>
<path d="M421.3 277l-1.9 0.5"/>
<path d="M655.9 163.3l5.3-4.8-2.8 2-5.2 4.7z" fill="#ff9312"/>
<path d="M653.5 165l4.6-4.2"/>
<path d="M660.8 158.8l-2.7 2"/>
<path d="M437.1 275.3l5-0.1-2 1-5 0.1z" fill="#00d5d9"/>
<path d="M380.4 274.6l5 1-1.9 0.2-5-1z" fill="#00d9cf"/>
<path d="M406.6 276.6l5 0.5-1.9 0.6-5-0.5z" fill="#00d0d9"/>
<path d="M579.9 221.4l5.1-3.2-2.4 1.9-5.1 3.3z" fill="#1cd900"/>
<path d="M577.9 223.1l4.3-2.8"/>
<path d="M447.3 273.9l5-0.3-2 1.1-5 0.4z" fill="#00d9cf"/>
<path d="M451.8 273.7l-1.9 0.9"/>
<path d="M486.4 265.1l5.1-1.1-2.1 1.5-5 1.2z" fill="#00d99c"/>
<path d="M543.3 242.2l5-2.4-2.2 1.9-5.1 2.4z" fill="#00d935"/>
<path d="M471.9 269.1l5.1-0.9-2.1 1.4-5 0.9z" fill="#00d9b0"/>
<path d="M575.6 224.1l5.1-3.1-2.4 1.9-5.1 3.1z" fill="#12d900"/>
<path d="M573.6 225.8l4.3-2.7"/>
<path d="M580.3 221.2l-2.4 1.9"/>
<path d="M396.5 276.1l5 0.7-1.9 0.5-5-0.7z" fill="#00d6d9"/>
<path d="M395.1 276.6l4.1 0.5"/>
<path d="M519.9 253l5.1-1.9-2.2 1.8-5 1.9z" fill="#00d962"/>
<path d="M524.6 251.3l-2.2 1.6"/>
<path d="M501 260.3l5.1-1.5-2.2 1.7-5 1.5z" fill="#00d983"/>
<path d="M499.3 261.8l4.2-1.3"/>
<path d="M571.3 226.7l5.1-3-2.4 1.9-5.1 3z" fill="#09d900"/>
<path d="M569.3 228.4l4.3-2.6"/>
<path d="M457.5 272.1l5-0.6-2 1.3-5 0.6z" fill="#00d9bf"/>
<path d="M456 273.2l4.1-0.5"/>
<path d="M539 244.2l5.1-2.3-2.2 1.9-5.1 2.3z" fill="#00d93b"/>
<path d="M386.4 275.1l5 0.9-1.9 0.4-5-0.9z" fill="#00d9cc"/>
<path d="M390.9 276l-1.8 0.2"/>
<path d="M567 229.2l5.1-2.9-2.4 1.9-5.1 2.9z" fill="#01d900"/>
<path d="M565 230.9l4.3-2.5"/>
<path d="M422.8 276.1l5 0.2-1.9 0.9-5-0.2z" fill="#00d9d9"/>
<path d="M421.3 277l4.1 0"/>
<path d="M515.7 254.6l5.1-1.8-2.2 1.8-5 1.7z" fill="#00d966"/>
<path d="M433 275.4l5 0-2 1-5 0z" fill="#00d9d1"/>
<path d="M437.5 275.4l-1.9 0.8"/>
<path d="M412.6 276.4l5 0.4-1.9 0.7-5-0.4z" fill="#00d9d9"/>
<path d="M482.3 266.1l5-1.1-2.1 1.6-5 1z" fill="#00d99b"/>
<path d="M467.8 269.7l5-0.7-2 1.4-5 0.8z" fill="#00d9ad"/>
<path d="M496.9 261.5l5-1.3-2.1 1.6-5 1.4z" fill="#00d984"/>
<path d="M495.2 263l4.1-1.2"/>
<path d="M443.2 274.2l5-0.2-2 1.1-5 0.2z" fill="#00d9c7"/>
<path d="M562.7 231.6l5.1-2.8-2.4 1.9-5 2.8z" fill="#00d907"/>
<path d="M560.7 233.3l4.3-2.4"/>
<path d="M567.4 229l-2.4 1.9"/>
<path d="M402.5 276.2l5 0.6-1.9 0.6-5-0.6z" fill="#00d9d2"/>
<path d="M407 276.8l-1.8 0.4"/>
<path d="M534.8 246.1l5.1-2.2-2.3 1.9-5 2.2z" fill="#00d940"/>
<path d="M539.5 244.2l-2.3 1.7"/>
<path d="M376.2 273.7l5.1 1.1-1.9 0.2-5-1.1z" fill="#00d9bc"/>
<path d="M376.6 273.9l-1.8 0.1"/>
<path d="M622.1 191.6l5.2-4-2.6 2-5.1 4.1z" fill="#d9fd0d"/>
<path d="M453.4 272.5l5-0.4-2 1.3-5 0.4z" fill="#00d9ba"/>
<path d="M451.8 273.7l4.2-0.5"/>
<path d="M617.7 195.1l5.1-4-2.5 2-5.2 4z" fill="#a6d900"/>
<path d="M622.5 191.4l-2.6 2"/>
<path d="M626.6 188.1l5.2-4.1-2.6 2-5.2 4.1z" fill="#eefd0e"/>
<path d="M558.4 233.9l5.1-2.7-2.3 2-5.1 2.7z" fill="#00d90e"/>
<path d="M556.5 235.6l4.2-2.3"/>
<path d="M392.4 275.5l5 0.8-1.9 0.5-5-0.8z" fill="#00d9c8"/>
<path d="M390.9 276l4.2 0.6"/>
<path d="M613.2 198.4l5.2-3.9-2.6 2-5.2 3.9z" fill="#95d900"/>
<path d="M511.5 256l5.1-1.6-2.2 1.8-5 1.6z" fill="#00d969"/>
<path d="M631.2 184.5l5.2-4.2-2.7 2-5.2 4.3z" fill="#fef80e"/>
<path d="M608.7 201.7l5.2-3.8-2.5 2-5.2 3.8z" fill="#84d900"/>
<path d="M635.7 180.9l5.2-4.4-2.7 2-5.2 4.4z" fill="#fee40f"/>
<path d="M636 180.6l-2.6 2"/>
<path d="M604.3 204.8l5.2-3.7-2.5 2.1-5.2 3.7z" fill="#75d900"/>
<path d="M609.1 201.4l-2.5 2"/>
<path d="M530.6 247.9l5-2-2.2 1.8-5 2.1z" fill="#00d945"/>
<path d="M640.2 177.1l5.3-4.4-2.7 2-5.2 4.4z" fill="#ffd00f"/>
<path d="M478.1 266.9l5.1-0.9-2.1 1.6-5 0.9z" fill="#00d99a"/>
<path d="M482.7 266.2l-2 1.3"/>
<path d="M599.9 207.9l5.2-3.6-2.5 2.1-5.2 3.6z" fill="#66d900"/>
<path d="M644.8 173.3l5.3-4.6-2.8 2.1-5.2 4.5z" fill="#ffbb0f"/>
<path d="M492.7 262.6l5-1.2-2.1 1.7-5 1.2z" fill="#00d985"/>
<path d="M491 264.1l4.2-1.1"/>
<path d="M497.3 261.6l-2.1 1.4"/>
<path d="M554.1 236.2l5.1-2.6-2.3 1.9-5.1 2.6z" fill="#00d915"/>
<path d="M552.2 237.9l4.3-2.3"/>
<path d="M595.5 210.9l5.1-3.5-2.4 2.1-5.2 3.5z" fill="#58d900"/>
<path d="M649.4 169.3l5.3-4.6-2.8 2.1-5.2 4.6z" fill="#ffa510"/>
<path d="M649.7 169l-2.7 2.1"/>
<path d="M463.7 270.4l5-0.7-2 1.4-5 0.7z" fill="#00d9aa"/>
<path d="M468.2 269.8l-2 1.2"/>
<path d="M418.7 275.9l5 0.3-2 0.9-5-0.3z" fill="#00d9c9"/>
<path d="M417.2 276.8l4.1 0.2"/>
<path d="M423.2 276.3l-1.9 0.7"/>
<path d="M428.8 275.4l5 0.1-1.9 1-5-0.1z" fill="#00d9c6"/>
<path d="M382.2 274.3l5 1-1.8 0.4-5-1z" fill="#00d9bb"/>
<path d="M591.1 213.8l5.1-3.4-2.4 2.1-5.1 3.4z" fill="#4bd900"/>
<path d="M595.9 210.7l-2.5 2"/>
<path d="M408.5 276l5 0.5-1.9 0.8-5-0.5z" fill="#00d9c8"/>
<path d="M654 165.3l5.3-4.7-2.8 2.1-5.2 4.7z" fill="#ff8e10"/>
<path d="M439 274.4l5-0.2-1.9 1.2-5 0.1z" fill="#00d9bf"/>
<path d="M507.3 257.4l5.1-1.5-2.1 1.8-5.1 1.5z" fill="#00d96b"/>
<path d="M512 256.1l-2.2 1.5"/>
<path d="M526.3 249.7l5.1-2-2.2 1.9-5 1.9z" fill="#00d94a"/>
<path d="M549.8 238.3l5.1-2.5-2.3 2-5 2.5z" fill="#00d91b"/>
<path d="M547.9 240.1l4.3-2.2"/>
<path d="M554.5 236.1l-2.3 1.8"/>
<path d="M586.7 216.7l5.2-3.3-2.5 2-5.1 3.3z" fill="#3ed900"/>
<path d="M658.7 161.3l5.2-4.8-2.8 2-5.2 4.8z" fill="#ff7711"/>
<path d="M663.6 156.7l-2.8 2.1"/>
<path d="M398.4 275.6l5 0.7-1.9 0.7-5-0.7z" fill="#00d9c2"/>
<path d="M449.3 272.8l5-0.3-2 1.3-5 0.3z" fill="#00d9b4"/>
<path d="M447.7 274l4.1-0.3"/>
<path d="M453.8 272.6l-2 1.1"/>
<path d="M582.4 219.4l5.1-3.2-2.4 2.1-5.1 3.2z" fill="#33d900"/>
<path d="M488.5 263.7l5.1-1.2-2.1 1.7-5 1.2z" fill="#00d985"/>
<path d="M486.9 265.2l4.1-1.1"/>
<path d="M474 267.7l5-0.8-2 1.6-5 0.8z" fill="#00d999"/>
<path d="M545.5 240.4l5.1-2.4-2.2 2-5.1 2.4z" fill="#00d922"/>
<path d="M543.7 242.1l4.2-2"/>
<path d="M578 222.1l5.1-3.1-2.3 2.1-5.2 3.1z" fill="#28d900"/>
<path d="M582.8 219.3l-2.5 1.9"/>
<path d="M522.1 251.3l5.1-1.9-2.2 1.9-5 1.9z" fill="#00d94e"/>
<path d="M526.8 249.6l-2.2 1.7"/>
<path d="M388.2 274.8l5 0.9-1.9 0.5-5-0.9z" fill="#00d9b8"/>
<path d="M386.8 275.3l4.1 0.7"/>
<path d="M392.8 275.7l-1.9 0.3"/>
<path d="M503.2 258.7l5-1.4-2.1 1.8-5 1.4z" fill="#00d96d"/>
<path d="M459.5 270.9l5-0.6-2 1.5-5 0.5z" fill="#00d9a6"/>
<path d="M573.7 224.7l5.1-3-2.4 2.1-5.1 3z" fill="#1ed900"/>
<path d="M424.7 275.3l5 0.2-1.9 1-5-0.2z" fill="#00d9bc"/>
<path d="M414.5 275.7l5 0.4-1.9 0.9-5-0.4z" fill="#00d9bd"/>
<path d="M413.1 276.5l4.1 0.3"/>
<path d="M541.3 242.4l5.1-2.3-2.3 2-5 2.3z" fill="#00d927"/>
<path d="M539.5 244.2l4.2-2.1"/>
<path d="M434.9 274.4l5 0-2 1.2-5 0z" fill="#00d9b7"/>
<path d="M439.5 274.5l-2 0.9"/>
<path d="M404.4 275.6l5 0.6-1.9 0.8-5-0.7z" fill="#00d9ba"/>
<path d="M408.9 276.2l-1.9 0.6"/>
<path d="M378.1 273.4l5 1.2-1.9 0.3-5-1.1z" fill="#00d9ab"/>
<path d="M378.5 273.6l-1.9 0.3"/>
<path d="M569.3 227.2l5.2-2.9-2.4 2.1-5.1 2.9z" fill="#15d900"/>
<path d="M484.4 264.6l5-1-2.1 1.7-5 1z" fill="#00d985"/>
<path d="M482.7 266.2l4.2-1"/>
<path d="M517.9 252.9l5.1-1.8-2.2 1.9-5 1.8z" fill="#00d951"/>
<path d="M445.1 273.1l5-0.2-2 1.3-4.9 0.2z" fill="#00d9ae"/>
<path d="M443.6 274.3l4.1-0.3"/>
<path d="M469.8 268.4l5.1-0.7-2.1 1.6-5 0.7z" fill="#00d996"/>
<path d="M499 259.9l5-1.3-2.1 1.8-5 1.3z" fill="#00d96f"/>
<path d="M394.2 275l5 0.8-1.9 0.7-5-0.9z" fill="#00d9b3"/>
<path d="M537 244.3l5.1-2.2-2.2 2-5.1 2.2z" fill="#00d92c"/>
<path d="M535.2 246.1l4.3-1.9"/>
<path d="M541.7 242.3l-2.2 1.9"/>
<path d="M565 229.6l5.1-2.8-2.3 2.1-5.1 2.8z" fill="#0cd900"/>
<path d="M569.8 227.1l-2.4 1.9"/>
<path d="M455.4 271.3l5-0.4-2 1.4-5 0.4z" fill="#00d9a2"/>
<path d="M513.7 254.3l5.1-1.6-2.2 1.9-5 1.7z" fill="#00d954"/>
<path d="M560.7 231.9l5.1-2.6-2.3 2.1-5.1 2.6z" fill="#05d900"/>
<path d="M624.7 189.5l5.3-4.1-2.7 2.2-5.2 4z" fill="#d3d900"/>
<path d="M625.1 189.2l4.5-3.5"/>
<path d="M620.2 192.9l5.3-4-2.6 2.2-5.2 4z" fill="#c1d900"/>
<path d="M620.6 192.6l4.5-3.4"/>
<path d="M625.1 189.2l-2.6 2.2"/>
<path d="M629.3 186l5.2-4.2-2.6 2.2-5.3 4.1z" fill="#d9cd00"/>
<path d="M629.6 185.7l4.5-3.6"/>
<path d="M615.8 196.2l5.2-3.8-2.6 2.1-5.2 3.9z" fill="#b0d900"/>
<path d="M616.1 196l4.5-3.4"/>
<path d="M384 274l5.1 1-1.9 0.5-5-1z" fill="#00d9a9"/>
<path d="M382.6 274.5l4.2 0.8"/>
<path d="M633.8 182.4l5.2-4.3-2.6 2.2-5.3 4.2z" fill="#fddb0d"/>
<path d="M634.1 182.1l4.6-3.7"/>
<path d="M611.3 199.5l5.2-3.8-2.6 2.2-5.1 3.8z" fill="#9fd900"/>
<path d="M611.7 199.3l4.4-3.3"/>
<path d="M480.2 265.5l5-0.9-2 1.7-5 0.9z" fill="#00d984"/>
<path d="M478.6 267l4.1-0.8"/>
<path d="M484.8 264.7l-2.1 1.5"/>
<path d="M638.3 178.7l5.3-4.4-2.7 2.2-5.2 4.3z" fill="#fdc70d"/>
<path d="M638.7 178.4l4.5-3.8"/>
<path d="M638.7 178.4l-2.7 2.2"/>
<path d="M532.8 246.1l5.1-2.1-2.2 2.1-5.1 2z" fill="#00d931"/>
<path d="M531 247.9l4.2-1.8"/>
<path d="M420.6 275.1l5 0.3-2 1.1-5-0.4z" fill="#00d9b2"/>
<path d="M425.1 275.5l-1.9 0.8"/>
<path d="M606.8 202.7l5.2-3.7-2.5 2.2-5.2 3.7z" fill="#8fd900"/>
<path d="M607.2 202.5l4.5-3.2"/>
<path d="M611.7 199.3l-2.6 2.1"/>
<path d="M430.8 274.4l5 0.1-2 1.2-5-0.1z" fill="#00d9ae"/>
<path d="M642.9 174.9l5.3-4.4-2.7 2.1-5.3 4.5z" fill="#fdb30e"/>
<path d="M643.2 174.6l4.6-3.8"/>
<path d="M494.8 261.1l5-1.3-2.1 1.8-5 1.3z" fill="#00d96f"/>
<path d="M499.4 260l-2.1 1.6"/>
<path d="M410.4 275.3l5 0.5-1.9 0.9-5-0.5z" fill="#00d9b1"/>
<path d="M408.9 276.2l4.2 0.3"/>
<path d="M465.7 269l5-0.6-2 1.6-5 0.6z" fill="#00d993"/>
<path d="M470.3 268.5l-2.1 1.3"/>
<path d="M602.4 205.8l5.2-3.6-2.5 2.2-5.2 3.6z" fill="#80d900"/>
<path d="M602.8 205.6l4.4-3.1"/>
<path d="M647.5 171.1l5.3-4.6-2.8 2.2-5.2 4.5z" fill="#fe9e0e"/>
<path d="M647.8 170.8l4.6-4"/>
<path d="M556.4 234.2l5.1-2.6-2.3 2.1-5.1 2.6z" fill="#00d901"/>
<path d="M441 273.3l5-0.1-2 1.3-5 0.1z" fill="#00d9a7"/>
<path d="M439.5 274.5l4.1-0.2"/>
<path d="M598 208.8l5.2-3.5-2.5 2.2-5.2 3.5z" fill="#72d900"/>
<path d="M598.4 208.6l4.4-3"/>
<path d="M652.1 167.1l5.3-4.6-2.8 2.2-5.2 4.6z" fill="#fe880f"/>
<path d="M652.4 166.8l4.7-4"/>
<path d="M652.4 166.8l-2.7 2.2"/>
<path d="M400.2 275l5 0.8-1.9 0.7-5-0.7z" fill="#00d9ad"/>
<path d="M509.5 255.7l5.1-1.5-2.2 1.9-5 1.6z" fill="#00d956"/>
<path d="M514.2 254.4l-2.2 1.7"/>
<path d="M593.6 211.7l5.1-3.4-2.4 2.2-5.2 3.4z" fill="#64d900"/>
<path d="M594 211.5l4.4-2.9"/>
<path d="M598.4 208.6l-2.5 2.1"/>
<path d="M656.7 163.1l5.4-4.7-2.8 2.2-5.3 4.7z" fill="#ff710f"/>
<path d="M657.1 162.8l4.6-4.1"/>
<path d="M528.6 247.8l5-1.9-2.1 2-5.1 2z" fill="#00d935"/>
<path d="M526.8 249.6l4.2-1.7"/>
<path d="M451.2 271.7l5.1-0.4-2 1.5-5 0.3z" fill="#00d99d"/>
<path d="M455.8 271.4l-2 1.2"/>
<path d="M552.1 236.3l5.1-2.4-2.2 2.1-5.1 2.5z" fill="#00d908"/>
<path d="M556.9 234.1l-2.4 2"/>
<path d="M589.2 214.6l5.1-3.3-2.4 2.2-5.1 3.3z" fill="#57d900"/>
<path d="M589.6 214.4l4.4-2.9"/>
<path d="M661.4 159l5.3-4.8-2.8 2.2-5.3 4.8z" fill="#ff5a0f"/>
<path d="M661.7 158.7l4.7-4.2"/>
<path d="M666.4 154.5l-2.8 2.2"/>
<path d="M390 274.3l5.1 0.9-1.9 0.7-5-1z" fill="#00d9a6"/>
<path d="M394.6 275.2l-1.8 0.5"/>
<path d="M476 266.3l5.1-0.8-2.1 1.7-5 0.8z" fill="#00d982"/>
<path d="M474.4 267.8l4.2-0.8"/>
<path d="M490.6 262.1l5.1-1.1-2.1 1.8-5 1.1z" fill="#00d970"/>
<path d="M584.8 217.3l5.2-3.2-2.4 2.2-5.2 3.2z" fill="#4bd900"/>
<path d="M585.2 217.2l4.4-2.8"/>
<path d="M461.5 269.6l5.1-0.6-2.1 1.6-5 0.5z" fill="#00d990"/>
<path d="M547.8 238.4l5.2-2.4-2.3 2.2-5.1 2.4z" fill="#00d90e"/>
<path d="M524.3 249.5l5.1-1.9-2.2 2.1-5 1.8z" fill="#00d939"/>
<path d="M522.6 251.3l4.2-1.7"/>
<path d="M529 247.8l-2.2 1.8"/>
<path d="M505.3 257l5.1-1.4-2.2 1.9-5 1.5z" fill="#00d958"/>
<path d="M580.4 220l5.2-3.1-2.4 2.2-5.1 3.1z" fill="#40d900"/>
<path d="M580.9 219.9l4.3-2.7"/>
<path d="M585.2 217.2l-2.4 2.1"/>
<path d="M426.6 274.3l5 0.2-1.9 1.2-5-0.2z" fill="#00d9a6"/>
<path d="M416.4 274.8l5 0.4-1.9 1.1-5-0.4z" fill="#00d9a8"/>
<path d="M379.9 273.1l5 1.1-1.9 0.5-5-1.1z" fill="#00d99b"/>
<path d="M378.5 273.6l4.1 0.9"/>
<path d="M380.3 273.3l-1.8 0.3"/>
<path d="M436.8 273.4l5.1 0-2 1.3-5 0z" fill="#00d9a0"/>
<path d="M435.3 274.6l4.2-0.1"/>
<path d="M441.4 273.4l-1.9 1.1"/>
<path d="M406.2 274.9l5 0.6-1.9 0.9-5-0.6z" fill="#00d9a6"/>
<path d="M404.8 275.8l4.1 0.4"/>
<path d="M410.8 275.5l-1.9 0.7"/>
<path d="M576.1 222.6l5.1-3-2.3 2.2-5.2 3z" fill="#35d900"/>
<path d="M576.5 222.5l4.4-2.6"/>
<path d="M543.6 240.4l5.1-2.3-2.3 2.2-5 2.3z" fill="#00d913"/>
<path d="M447.1 271.9l5-0.2-2 1.5-5 0.2z" fill="#00d998"/>
<path d="M396 274.4l5.1 0.8-1.9 0.8-5-0.8z" fill="#00d9a1"/>
<path d="M486.5 263.1l5-1.1-2.1 1.9-5 1z" fill="#00d96f"/>
<path d="M471.9 267l5-0.7-2 1.7-5 0.7z" fill="#00d980"/>
<path d="M470.3 268.5l4.1-0.7"/>
<path d="M520.1 251l5.1-1.7-2.2 2.1-5 1.7z" fill="#00d93c"/>
<path d="M518.4 252.9l4.2-1.6"/>
<path d="M571.7 225.1l5.2-2.9-2.4 2.3-5.1 2.8z" fill="#2cd900"/>
<path d="M572.2 225l4.3-2.5"/>
<path d="M501.1 258.2l5.1-1.3-2.2 2-5 1.3z" fill="#00d959"/>
<path d="M457.4 270l5-0.4-2 1.6-5 0.4z" fill="#00d98c"/>
<path d="M539.3 242.3l5.1-2.1-2.2 2.1-5.1 2.2z" fill="#00d918"/>
<path d="M544 240.4l-2.3 1.9"/>
<path d="M385.9 273.5l5 1-1.9 0.7-5-1z" fill="#00d998"/>
<path d="M567.4 227.5l5.1-2.8-2.3 2.3-5.1 2.7z" fill="#23d900"/>
<path d="M567.8 227.4l4.4-2.4"/>
<path d="M572.2 225l-2.4 2.1"/>
<path d="M422.5 274.2l5 0.3-2 1.2-5-0.4z" fill="#00d99d"/>
<path d="M427 274.5l-1.9 1"/>
<path d="M515.9 252.5l5.1-1.6-2.2 2.1-5 1.6z" fill="#00d93f"/>
<path d="M514.2 254.4l4.2-1.5"/>
<path d="M412.3 274.5l5 0.5-2 1.1-5-0.6z" fill="#00d99d"/>
<path d="M432.7 273.4l5 0.1-2 1.3-5-0.1z" fill="#00d999"/>
<path d="M431.2 274.6l4.1 0"/>
<path d="M482.3 263.9l5-0.9-2.1 1.9-5 0.9z" fill="#00d96e"/>
<path d="M486.9 263.2l-2.1 1.5"/>
<path d="M563.1 229.8l5.1-2.6-2.3 2.2-5.1 2.7z" fill="#1ad900"/>
<path d="M563.5 229.8l4.3-2.4"/>
<path d="M535.1 244.1l5.1-2-2.3 2.2-5 2z" fill="#00d91d"/>
<path d="M467.7 267.6l5-0.6-2 1.7-5 0.6z" fill="#00d97e"/>
<path d="M466.1 269.2l4.2-0.7"/>
<path d="M472.3 267.1l-2 1.4"/>
<path d="M496.9 259.4l5.1-1.3-2.1 2-5.1 1.2z" fill="#00d95a"/>
<path d="M501.6 258.3l-2.2 1.7"/>
<path d="M402.1 274.3l5 0.8-1.9 0.9-5-0.7z" fill="#00d99a"/>
<path d="M400.6 275.2l4.2 0.6"/>
<path d="M442.9 272.1l5.1-0.1-2 1.4-5 0.1z" fill="#00d992"/>
<path d="M558.8 232.1l5.1-2.6-2.3 2.3-5.1 2.6z" fill="#13d900"/>
<path d="M559.2 232l4.3-2.2"/>
<path d="M391.9 273.7l5 0.9-1.9 0.8-5-0.9z" fill="#00d994"/>
<path d="M396.5 274.6l-1.9 0.6"/>
<path d="M453.2 270.3l5-0.3-2 1.6-5 0.3z" fill="#00d987"/>
<path d="M457.8 270.2l-2 1.2"/>
<path d="M511.7 253.9l5-1.5-2.1 2.1-5 1.5z" fill="#00d941"/>
<path d="M510 255.8l4.2-1.4"/>
<path d="M516.3 252.6l-2.1 1.8"/>
<path d="M530.8 245.9l5.1-2-2.2 2.2-5.1 2z" fill="#00d921"/>
<path d="M554.5 234.2l5.1-2.4-2.3 2.3-5.1 2.4z" fill="#0cd900"/>
<path d="M554.9 234.2l4.3-2.2"/>
<path d="M559.2 232l-2.3 2.1"/>
<path d="M478.1 264.7l5-0.8-2 1.9-5 0.8z" fill="#00d96d"/>
<path d="M492.7 260.4l5.1-1.1-2.1 2-5 1.1z" fill="#00d95a"/>
<path d="M381.7 272.6l5 1.2-1.9 0.6-5-1.1z" fill="#00d98b"/>
<path d="M382.1 272.8l-1.8 0.5"/>
<path d="M418.3 273.9l5 0.4-1.9 1.2-5-0.4z" fill="#00d994"/>
<path d="M463.6 268.1l5-0.5-2.1 1.7-5 0.5z" fill="#00d97a"/>
<path d="M462 269.7l4.1-0.5"/>
<path d="M428.5 273.3l5 0.2-1.9 1.3-5-0.2z" fill="#00d991"/>
<path d="M427 274.5l4.2 0.1"/>
<path d="M408.1 274l5 0.7-1.9 1-5-0.6z" fill="#00d993"/>
<path d="M412.7 274.7l-1.9 0.8"/>
<path d="M507.5 255.2l5-1.4-2.1 2.1-5 1.4z" fill="#00d943"/>
<path d="M505.8 257.1l4.2-1.3"/>
<path d="M438.8 272.2l5 0-2 1.4-5 0z" fill="#00d98b"/>
<path d="M443.4 272.3l-2 1.1"/>
<path d="M526.6 247.5l5.1-1.8-2.2 2.2-5.1 1.8z" fill="#00d924"/>
<path d="M531.3 245.9l-2.3 1.9"/>
<path d="M550.2 236.3l5.1-2.3-2.3 2.3-5.1 2.3z" fill="#06d900"/>
<path d="M550.6 236.3l4.3-2.1"/>
<path d="M397.9 273.7l5 0.8-1.9 1-5-0.9z" fill="#00d98f"/>
<path d="M396.5 274.6l4.1 0.6"/>
<path d="M449.1 270.6l5-0.2-2 1.6-5 0.2z" fill="#00d982"/>
<path d="M488.6 261.4l5-1-2.1 2-5 1z" fill="#00d95a"/>
<path d="M473.9 265.4l5.1-0.7-2.1 1.9-5 0.7z" fill="#00d96b"/>
<path d="M545.9 238.3l5.1-2.2-2.3 2.3-5.1 2.2z" fill="#01d900"/>
<path d="M546.3 238.3l4.3-2"/>
<path d="M387.7 272.9l5 1.1-1.9 0.7-5-1z" fill="#00d988"/>
<path d="M522.3 249.1l5.1-1.7-2.2 2.2-5 1.7z" fill="#00d928"/>
<path d="M503.3 256.4l5-1.3-2.1 2.1-5 1.3z" fill="#00d944"/>
<path d="M501.6 258.3l4.2-1.2"/>
<path d="M459.4 268.5l5-0.3-2 1.7-5 0.4z" fill="#00d977"/>
<path d="M457.8 270.2l4.2-0.5"/>
<path d="M424.4 273.1l5 0.3-2 1.3-5-0.3z" fill="#00d989"/>
<path d="M422.9 274.4l4.1 0.1"/>
<path d="M428.9 273.5l-1.9 1"/>
<path d="M541.6 240.2l5.1-2.1-2.2 2.3-5.1 2.1z" fill="#00d904"/>
<path d="M542 240.3l4.3-2"/>
<path d="M546.3 238.3l-2.3 2.1"/>
<path d="M414.1 273.5l5.1 0.6-2 1.2-5-0.6z" fill="#00d98a"/>
<path d="M434.6 272.2l5 0.1-1.9 1.4-5-0.1z" fill="#00d984"/>
<path d="M403.9 273.5l5 0.7-1.9 1.1-5-0.7z" fill="#00d988"/>
<path d="M518.1 250.6l5.1-1.7-2.2 2.3-5.1 1.6z" fill="#00d92a"/>
<path d="M484.4 262.2l5-0.9-2.1 2-5 0.9z" fill="#00d959"/>
<path d="M489 261.5l-2.1 1.7"/>
<path d="M444.9 270.8l5-0.1-2 1.6-5 0.1z" fill="#00d97d"/>
<path d="M469.8 266l5-0.6-2.1 1.9-5 0.6z" fill="#00d968"/>
<path d="M474.4 265.6l-2.1 1.5"/>
<path d="M499.1 257.5l5-1.2-2.1 2.2-5 1.2z" fill="#00d945"/>
<path d="M497.4 259.5l4.2-1.2"/>
<path d="M503.7 256.5l-2.1 1.8"/>
<path d="M393.7 273l5 0.9-1.9 1-5-1z" fill="#00d983"/>
<path d="M392.3 273.9l4.2 0.7"/>
<path d="M398.3 273.9l-1.8 0.7"/>
<path d="M537.3 242l5.1-2-2.2 2.4-5.1 2z" fill="#00d908"/>
<path d="M537.8 242.1l4.2-1.8"/>
<path d="M455.2 268.9l5-0.3-2 1.7-5 0.3z" fill="#00d972"/>
<path d="M453.6 270.5l4.2-0.3"/>
<path d="M459.8 268.7l-2 1.5"/>
<path d="M513.9 251.9l5-1.5-2.1 2.3-5.1 1.5z" fill="#00d92c"/>
<path d="M518.5 250.6l-2.2 2"/>
<path d="M383.5 272l5 1.2-1.8 0.8-5.1-1.2z" fill="#00d97b"/>
<path d="M383.9 272.3l-1.8 0.5"/>
<path d="M533.1 243.8l5.1-1.9-2.2 2.3-5.1 1.9z" fill="#00d90c"/>
<path d="M533.5 243.8l4.3-1.7"/>
<path d="M480.2 263l5-0.8-2.1 2-5 0.8z" fill="#00d958"/>
<path d="M420.2 272.8l5 0.4-1.9 1.4-5-0.4z" fill="#00d980"/>
<path d="M418.7 274.1l4.2 0.3"/>
<path d="M430.5 272.1l5 0.2-2 1.5-5-0.2z" fill="#00d97d"/>
<path d="M494.9 258.6l5-1.1-2.1 2.1-5 1.1z" fill="#00d945"/>
<path d="M493.2 260.5l4.2-1"/>
<path d="M410 273.1l5 0.6-1.9 1.2-5.1-0.6z" fill="#00d980"/>
<path d="M414.5 273.8l-1.8 0.9"/>
<path d="M465.6 266.6l5-0.5-2 1.8-5 0.5z" fill="#00d965"/>
<path d="M440.7 270.9l5.1 0-2 1.6-5 0z" fill="#00d977"/>
<path d="M445.3 271l-1.9 1.3"/>
<path d="M399.7 272.9l5.1 0.8-1.9 1.1-5.1-0.8z" fill="#00d97d"/>
<path d="M509.6 253.3l5.1-1.4-2.1 2.2-5.1 1.4z" fill="#00d92e"/>
<path d="M528.8 245.4l5.1-1.8-2.2 2.4-5.1 1.8z" fill="#00d910"/>
<path d="M529.3 245.5l4.2-1.7"/>
<path d="M533.5 243.8l-2.2 2.1"/>
<path d="M451.1 269.2l5-0.2-2.1 1.7-4.9 0.2z" fill="#00d96e"/>
<path d="M449.5 270.8l4.1-0.3"/>
<path d="M389.5 272.2l5.1 1.1-1.9 0.9-5.1-1.1z" fill="#00d977"/>
<path d="M388.1 273.1l4.2 0.8"/>
<path d="M476 263.7l5-0.7-2.1 2-5 0.7z" fill="#00d956"/>
<path d="M490.7 259.6l5-1-2.1 2.1-5 1z" fill="#00d945"/>
<path d="M489 261.5l4.2-1"/>
<path d="M524.6 247l5-1.7-2.1 2.4-5.1 1.7z" fill="#00d913"/>
<path d="M525 247.1l4.3-1.6"/>
<path d="M461.4 267l5-0.4-2 1.9-5 0.4z" fill="#00d962"/>
<path d="M505.4 254.5l5.1-1.3-2.2 2.2-5 1.3z" fill="#00d92f"/>
<path d="M416 272.5l5 0.5-1.9 1.3-5-0.5z" fill="#00d977"/>
<path d="M414.5 273.8l4.2 0.3"/>
<path d="M426.3 271.9l5 0.3-2 1.5-5-0.3z" fill="#00d975"/>
<path d="M430.9 272.3l-2 1.2"/>
<path d="M405.8 272.6l5 0.7-1.9 1.2-5-0.7z" fill="#00d976"/>
<path d="M436.6 270.9l5 0.1-2 1.6-5-0.1z" fill="#00d970"/>
<path d="M395.6 272.2l5 0.9-1.9 1.1-5-0.9z" fill="#00d972"/>
<path d="M400.1 273.1l-1.8 0.8"/>
<path d="M446.9 269.3l5 0-2 1.7-5 0.1z" fill="#00d968"/>
<path d="M445.3 271l4.2-0.2"/>
<path d="M486.5 260.4l5-0.9-2.1 2.2-5 0.9z" fill="#00d944"/>
<path d="M484.8 262.4l4.2-0.9"/>
<path d="M491.1 259.7l-2.1 1.8"/>
<path d="M520.3 248.5l5.1-1.6-2.2 2.4-5.1 1.6z" fill="#00d915"/>
<path d="M520.7 248.6l4.3-1.5"/>
<path d="M471.8 264.3l5-0.5-2 2-5 0.6z" fill="#00d954"/>
<path d="M476.4 263.9l-2 1.7"/>
<path d="M501.2 255.6l5.1-1.2-2.2 2.3-5 1.2z" fill="#00d930"/>
<path d="M505.9 254.6l-2.2 1.9"/>
<path d="M385.3 271.3l5.1 1.2-1.9 0.9-5.1-1.1z" fill="#00d96b"/>
<path d="M383.9 272.3l4.2 0.8"/>
<path d="M385.7 271.6l-1.8 0.7"/>
<path d="M457.2 267.3l5-0.2-2 1.8-5 0.3z" fill="#00d95e"/>
<path d="M461.8 267.2l-2 1.5"/>
<path d="M422.1 271.6l5 0.5-1.9 1.4-5-0.4z" fill="#00d96d"/>
<path d="M516.1 249.9l5-1.5-2.1 2.4-5.1 1.5z" fill="#00d918"/>
<path d="M516.5 250l4.2-1.4"/>
<path d="M520.7 248.6l-2.2 2"/>
<path d="M411.8 272l5.1 0.7-2 1.3-5-0.6z" fill="#00d96e"/>
<path d="M410.4 273.3l4.1 0.5"/>
<path d="M416.4 272.7l-1.9 1.1"/>
<path d="M432.4 270.8l5 0.2-2 1.6-5-0.2z" fill="#00d969"/>
<path d="M482.3 261.2l5-0.8-2.1 2.2-5 0.8z" fill="#00d943"/>
<path d="M480.6 263.2l4.2-0.8"/>
<path d="M401.6 272l5 0.8-1.9 1.2-5-0.8z" fill="#00d96c"/>
<path d="M497 256.7l5-1.1-2.1 2.3-5 1z" fill="#00d930"/>
<path d="M467.6 264.9l5-0.5-2 2-5 0.5z" fill="#00d951"/>
<path d="M442.7 269.4l5 0.1-2 1.7-5 0z" fill="#00d963"/>
<path d="M441.1 271.1l4.2-0.1"/>
<path d="M447.3 269.6l-2 1.4"/>
<path d="M391.4 271.4l5 1-1.9 1.1-5-1z" fill="#00d967"/>
<path d="M511.8 251.2l5.1-1.4-2.2 2.4-5 1.4z" fill="#00d919"/>
<path d="M512.3 251.3l4.2-1.3"/>
<path d="M453 267.6l5.1-0.2-2.1 1.9-5 0.2z" fill="#00d959"/>
<path d="M478.1 261.9l5-0.7-2.1 2.2-5 0.7z" fill="#00d941"/>
<path d="M476.4 263.9l4.2-0.7"/>
<path d="M492.8 257.6l5-1-2.1 2.3-5 1z" fill="#00d930"/>
<path d="M417.9 271.3l5 0.5-1.9 1.5-5-0.5z" fill="#00d964"/>
<path d="M428.2 270.6l5 0.3-2 1.6-5-0.3z" fill="#00d962"/>
<path d="M432.8 271l-1.9 1.3"/>
<path d="M463.4 265.3l5-0.4-2 2.1-5 0.3z" fill="#00d94d"/>
<path d="M407.7 271.5l5 0.7-2 1.4-5-0.8z" fill="#00d964"/>
<path d="M406.2 272.8l4.2 0.5"/>
<path d="M507.6 252.4l5.1-1.3-2.2 2.4-5 1.3z" fill="#00d91a"/>
<path d="M508 252.6l4.3-1.3"/>
<path d="M438.5 269.4l5 0.2-2 1.7-5-0.1z" fill="#00d95c"/>
<path d="M437 271.1l4.1 0"/>
<path d="M397.4 271.3l5 0.9-1.9 1.2-5-0.9z" fill="#00d961"/>
<path d="M402 272.2l-1.9 0.9"/>
<path d="M448.9 267.8l5-0.1-2.1 1.9-5 0.1z" fill="#00d954"/>
<path d="M488.6 258.5l5-0.9-2.1 2.3-5 0.9z" fill="#00d92f"/>
<path d="M493.2 257.8l-2.1 1.9"/>
<path d="M387.1 270.5l5.1 1.2-1.9 1-5-1.1z" fill="#00d95b"/>
<path d="M387.5 270.8l-1.8 0.8"/>
<path d="M473.9 262.5l5-0.5-2.1 2.1-5 0.6z" fill="#00d93f"/>
<path d="M472.2 264.5l4.2-0.6"/>
<path d="M478.5 262.1l-2.1 1.8"/>
<path d="M503.4 253.6l5-1.2-2.1 2.4-5.1 1.2z" fill="#00d91b"/>
<path d="M503.8 253.7l4.2-1.1"/>
<path d="M508 252.6l-2.1 2"/>
<path d="M459.2 265.7l5.1-0.3-2.1 2-5 0.3z" fill="#00d949"/>
<path d="M463.8 265.5l-2 1.7"/>
<path d="M424 270.3l5 0.5-1.9 1.6-5.1-0.4z" fill="#00d95a"/>
<path d="M413.7 270.9l5 0.6-1.9 1.5-5-0.7z" fill="#00d95b"/>
<path d="M418.3 271.5l-1.9 1.2"/>
<path d="M434.3 269.4l5 0.2-2 1.7-5-0.2z" fill="#00d956"/>
<path d="M432.8 271l4.2 0.1"/>
<path d="M403.4 270.9l5.1 0.8-2 1.4-5-0.9z" fill="#00d95a"/>
<path d="M402 272.2l4.2 0.6"/>
<path d="M484.4 259.3l5-0.8-2.1 2.3-5 0.8z" fill="#00d92e"/>
<path d="M444.7 267.9l5 0-2 1.9-5 0z" fill="#00d94e"/>
<path d="M449.2 268l-1.9 1.6"/>
<path d="M469.7 263.1l5-0.5-2.1 2.2-5 0.4z" fill="#00d93c"/>
<path d="M468 265.1l4.2-0.6"/>
<path d="M393.2 270.5l5 1-1.9 1.2-5-1z" fill="#00d956"/>
<path d="M499.1 254.6l5.1-1.1-2.2 2.5-5 1z" fill="#00d91b"/>
<path d="M499.5 254.8l4.3-1.1"/>
<path d="M455 265.9l5.1-0.1-2.1 2-5 0.2z" fill="#00d945"/>
<path d="M419.8 270l5 0.5-1.9 1.6-5-0.5z" fill="#00d952"/>
<path d="M480.1 260l5.1-0.7-2.1 2.3-5 0.7z" fill="#00d92c"/>
<path d="M409.5 270.3l5 0.8-1.9 1.4-5-0.7z" fill="#00d952"/>
<path d="M430.1 269.2l5 0.3-2 1.8-5-0.4z" fill="#00d94e"/>
<path d="M428.6 270.8l4.2 0.2"/>
<path d="M434.7 269.6l-1.9 1.4"/>
<path d="M494.9 255.6l5.1-1-2.2 2.4-5 1z" fill="#00d91b"/>
<path d="M495.3 255.8l4.2-1"/>
<path d="M465.5 263.5l5-0.3-2.1 2.1-5 0.4z" fill="#00d939"/>
<path d="M463.8 265.5l4.2-0.4"/>
<path d="M399.2 270.2l5.1 0.9-2 1.4-5-1z" fill="#00d950"/>
<path d="M397.8 271.5l4.2 0.7"/>
<path d="M403.8 271.2l-1.8 1"/>
<path d="M440.5 267.9l5 0.1-2 1.9-5-0.1z" fill="#00d948"/>
<path d="M389 269.6l5 1.1-1.9 1.2-5-1.1z" fill="#00d94a"/>
<path d="M389.3 269.8l-1.8 1"/>
<path d="M450.8 266.1l5 0-2 2-5 0.1z" fill="#00d940"/>
<path d="M475.9 260.6l5.1-0.5-2.1 2.3-5.1 0.5z" fill="#00d92a"/>
<path d="M480.5 260.2l-2 1.9"/>
<path d="M490.7 256.5l5-0.9-2.1 2.4-5 0.9z" fill="#00d91a"/>
<path d="M491.1 256.7l4.2-0.9"/>
<path d="M495.3 255.8l-2.1 2"/>
<path d="M461.2 263.9l5.1-0.3-2.1 2.2-5 0.2z" fill="#00d935"/>
<path d="M459.6 265.9l4.2-0.4"/>
<path d="M465.8 263.8l-2 1.7"/>
<path d="M415.6 269.6l5 0.6-1.9 1.6-5.1-0.6z" fill="#00d949"/>
<path d="M420.2 270.3l-1.9 1.2"/>
<path d="M425.9 268.9l5 0.5-2 1.7-5-0.4z" fill="#00d947"/>
<path d="M424.4 270.6l4.2 0.2"/>
<path d="M405.3 269.7l5 0.9-1.9 1.4-5-0.8z" fill="#00d948"/>
<path d="M436.3 267.8l5 0.2-2 1.9-5-0.2z" fill="#00d942"/>
<path d="M395 269.4l5 1-1.9 1.4-5-1.1z" fill="#00d945"/>
<path d="M393.5 270.7l4.3 0.8"/>
<path d="M446.6 266.2l5 0-2 2.1-5 0z" fill="#00d93a"/>
<path d="M451.2 266.4l-2 1.6"/>
<path d="M486.5 257.3l5-0.8-2.1 2.4-5.1 0.8z" fill="#00d919"/>
<path d="M486.8 257.5l4.3-0.8"/>
<path d="M471.7 261.2l5-0.5-2.1 2.3-5 0.5z" fill="#00d927"/>
<path d="M457 264.2l5.1-0.2-2.1 2.2-5 0.1z" fill="#00d930"/>
<path d="M455.4 266.2l4.2-0.3"/>
<path d="M421.7 268.6l5 0.5-2 1.8-5-0.6z" fill="#00d93f"/>
<path d="M420.2 270.3l4.2 0.3"/>
<path d="M411.4 269l5 0.8-2 1.6-5-0.8z" fill="#00d940"/>
<path d="M432 267.6l5.1 0.4-2 1.9-5-0.4z" fill="#00d93b"/>
<path d="M436.6 268.1l-1.9 1.5"/>
<path d="M482.2 258l5.1-0.7-2.2 2.4-5 0.7z" fill="#00d917"/>
<path d="M482.6 258.2l4.2-0.7"/>
<path d="M401.1 269l5 1-1.9 1.4-5.1-0.9z" fill="#00d93e"/>
<path d="M405.7 270l-1.9 1.2"/>
<path d="M467.5 261.6l5-0.4-2.1 2.4-5 0.3z" fill="#00d924"/>
<path d="M442.4 266.2l5 0.2-2 2-5-0.1z" fill="#00d935"/>
<path d="M390.8 268.5l5 1.2-1.9 1.3-5-1.1z" fill="#00d93a"/>
<path d="M389.3 269.8l4.2 0.9"/>
<path d="M391.1 268.8l-1.8 1"/>
<path d="M452.8 264.3l5 0-2 2.1-5 0.1z" fill="#00d92c"/>
<path d="M451.2 266.4l4.2-0.2"/>
<path d="M478 258.6l5-0.6-2.1 2.5-5 0.5z" fill="#00d915"/>
<path d="M478.4 258.8l4.2-0.6"/>
<path d="M482.6 258.2l-2.1 2"/>
<path d="M417.5 268.1l5 0.7-2 1.7-5-0.6z" fill="#00d936"/>
<path d="M416 269.8l4.2 0.5"/>
<path d="M422.1 268.8l-1.9 1.5"/>
<path d="M427.8 267.4l5 0.4-2 1.9-5-0.4z" fill="#00d934"/>
<path d="M407.2 268.4l5 0.9-2 1.6-5-0.9z" fill="#00d936"/>
<path d="M463.3 262l5-0.3-2.1 2.3-5 0.3z" fill="#00d920"/>
<path d="M467.9 261.9l-2.1 1.9"/>
<path d="M438.2 266.1l5 0.3-2 2-5-0.2z" fill="#00d92e"/>
<path d="M396.8 268.2l5.1 1.1-2 1.4-5-1z" fill="#00d934"/>
<path d="M448.6 264.4l5 0.1-2 2.1-5 0z" fill="#00d926"/>
<path d="M447 266.5l4.2-0.1"/>
<path d="M453.2 264.6l-2 1.8"/>
<path d="M473.8 259.1l5-0.4-2.1 2.4-5 0.5z" fill="#00d912"/>
<path d="M474.1 259.4l4.3-0.6"/>
<path d="M459 262.2l5.1-0.1-2.1 2.3-5 0.2z" fill="#00d91c"/>
<path d="M413.3 267.6l5 0.8-2 1.7-5-0.7z" fill="#00d92e"/>
<path d="M411.7 269.3l4.3 0.5"/>
<path d="M423.6 267l5 0.6-2 1.9-5-0.6z" fill="#00d92c"/>
<path d="M402.9 267.7l5.1 1-2 1.6-5-1z" fill="#00d92d"/>
<path d="M407.5 268.7l-1.8 1.3"/>
<path d="M434 266l5 0.3-2 2-5-0.3z" fill="#00d928"/>
<path d="M438.6 266.4l-2 1.7"/>
<path d="M392.6 267.3l5 1.2-1.9 1.5-5-1.2z" fill="#00d929"/>
<path d="M392.9 267.6l-1.8 1.2"/>
<path d="M444.4 264.4l5 0.2-2 2.2-5.1-0.2z" fill="#00d921"/>
<path d="M442.8 266.5l4.2 0"/>
<path d="M469.5 259.6l5.1-0.4-2.1 2.5-5.1 0.3z" fill="#00d90f"/>
<path d="M469.9 259.8l4.2-0.4"/>
<path d="M454.8 262.4l5 0-2 2.3-5 0z" fill="#00d917"/>
<path d="M419.4 266.6l5 0.6-2 1.9-5-0.6z" fill="#00d924"/>
<path d="M424 267.3l-1.9 1.5"/>
<path d="M409 267l5 0.8-1.9 1.8-5-0.8z" fill="#00d924"/>
<path d="M407.5 268.7l4.2 0.6"/>
<path d="M429.7 265.7l5.1 0.5-2 2-5.1-0.4z" fill="#00d921"/>
<path d="M398.7 266.9l5 1.1-1.9 1.6-5.1-1.1z" fill="#00d923"/>
<path d="M465.3 259.9l5-0.2-2.1 2.4-5 0.3z" fill="#00d90c"/>
<path d="M465.6 260.2l4.3-0.4"/>
<path d="M469.9 259.8l-2 2.1"/>
<path d="M440.1 264.4l5.1 0.2-2.1 2.2-5-0.3z" fill="#00d91b"/>
<path d="M438.6 266.4l4.2 0.1"/>
<path d="M450.6 262.5l5 0.1-2.1 2.3-5-0.1z" fill="#00d912"/>
<path d="M455.2 262.7l-2 1.9"/>
<path d="M461 260.2l5.1-0.1-2.1 2.4-5 0.2z" fill="#00d908"/>
<path d="M461.4 260.5l4.2-0.3"/>
<path d="M415.1 266.1l5.1 0.7-2 1.9-5-0.7z" fill="#00d91b"/>
<path d="M425.5 265.4l5 0.5-2 2-5-0.5z" fill="#00d919"/>
<path d="M404.8 266.3l5 0.9-2 1.8-5-0.9z" fill="#00d91b"/>
<path d="M403.3 268l4.2 0.7"/>
<path d="M409.4 267.3l-1.9 1.4"/>
<path d="M435.9 264.2l5 0.3-2 2.2-5-0.3z" fill="#00d914"/>
<path d="M434.3 266.3l4.3 0.1"/>
<path d="M440.5 264.6l-1.9 1.8"/>
<path d="M394.4 266l5.1 1.2-2 1.6-5-1.1z" fill="#00d918"/>
<path d="M394.7 266.3l-1.8 1.3"/>
<path d="M446.3 262.5l5.1 0.2-2.1 2.3-5-0.2z" fill="#00d90d"/>
<path d="M456.8 260.4l5-0.1-2 2.5-5.1 0.1z" fill="#00d903"/>
<path d="M457.2 260.7l4.2-0.2"/>
<path d="M421.3 264.9l5 0.7-2 2-5-0.6z" fill="#00d911"/>
<path d="M425.8 265.7l-1.8 1.6"/>
<path d="M410.9 265.5l5 0.8-2 1.9-5-0.8z" fill="#00d912"/>
<path d="M431.7 263.9l5 0.5-2 2.2-5.1-0.5z" fill="#00d90d"/>
<path d="M430.1 266l4.2 0.3"/>
<path d="M400.5 265.5l5 1.1-1.9 1.7-5-1z" fill="#00d911"/>
<path d="M399 267.2l4.3 0.8"/>
<path d="M442.1 262.5l5 0.2-2 2.3-5-0.2z" fill="#00d907"/>
<path d="M452.6 260.5l5 0-2.1 2.5-5 0z" fill="#01d900"/>
<path d="M452.9 260.8l4.3-0.1"/>
<path d="M457.2 260.7l-2 2"/>
<path d="M417 264.4l5 0.8-2 2-5-0.7z" fill="#00d909"/>
<path d="M406.6 264.8l5.1 0.9-2 1.9-5-0.9z" fill="#00d909"/>
<path d="M411.2 265.8l-1.8 1.5"/>
<path d="M427.4 263.6l5 0.5-2 2.2-5-0.5z" fill="#00d906"/>
<path d="M425.8 265.7l4.3 0.3"/>
<path d="M396.2 264.6l5.1 1.2-2 1.7-5-1.1z" fill="#00d907"/>
<path d="M394.7 266.3l4.3 0.9"/>
<path d="M396.6 264.9l-1.9 1.4"/>
<path d="M437.8 262.3l5.1 0.3-2.1 2.3-5-0.3z" fill="#00d901"/>
<path d="M442.4 262.8l-1.9 1.8"/>
<path d="M448.3 260.5l5 0.2-2 2.4-5-0.1z" fill="#07d900"/>
<path d="M448.6 260.8l4.3 0"/>
<path d="M412.7 263.8l5.1 0.8-2 2.1-5-0.9z" fill="#00d900"/>
<path d="M423.1 263.2l5.1 0.6-2 2.2-5.1-0.7z" fill="#02d900"/>
<path d="M421.6 265.2l4.2 0.5"/>
<path d="M427.7 263.9l-1.9 1.8"/>
<path d="M402.3 264l5.1 1-2 1.9-5-1z" fill="#01d900"/>
<path d="M433.6 262l5 0.5-2 2.3-5-0.4z" fill="#06d900"/>
<path d="M444 260.4l5.1 0.3-2.1 2.4-5-0.2z" fill="#0dd900"/>
<path d="M444.4 260.7l4.2 0.1"/>
<path d="M418.9 262.6l5 0.8-2 2.2-5-0.8z" fill="#0ad900"/>
<path d="M417.3 264.7l4.3 0.5"/>
<path d="M408.5 263.1l5 1-2 2-5-1z" fill="#09d900"/>
<path d="M413.1 264.1l-1.9 1.7"/>
<path d="M429.3 261.7l5 0.5-2 2.3-5-0.5z" fill="#0dd900"/>
<path d="M398 263.1l5.1 1.1-1.9 1.9-5.1-1.1z" fill="#0ad900"/>
<path d="M398.4 263.4l-1.8 1.5"/>
<path d="M439.8 260.3l5 0.3-2 2.5-5.1-0.4z" fill="#14d900"/>
<path d="M440.1 260.6l4.3 0.1"/>
<path d="M444.4 260.7l-2 2.1"/>
<path d="M414.6 262l5 0.9-2 2.1-5-0.8z" fill="#13d900"/>
<path d="M413.1 264.1l4.2 0.6"/>
<path d="M425 261.3l5.1 0.6-2 2.3-5.1-0.6z" fill="#16d900"/>
<path d="M429.6 262l-1.9 1.9"/>
<path d="M404.2 262.3l5 1.1-1.9 2-5.1-1.1z" fill="#13d900"/>
<path d="M435.5 260l5 0.5-2 2.4-5-0.4z" fill="#1bd900"/>
<path d="M435.8 260.3l4.3 0.3"/>
<path d="M410.3 261.3l5.1 1-2 2.1-5.1-0.9z" fill="#1dd900"/>
<path d="M408.8 263.4l4.3 0.7"/>
<path d="M414.9 262.4l-1.8 1.7"/>
<path d="M420.7 260.8l5.1 0.7-2 2.3-5-0.7z" fill="#1fd900"/>
<path d="M399.9 261.4l5 1.2-1.9 2-5.1-1.1z" fill="#1ed900"/>
<path d="M400.2 261.8l-1.8 1.6"/>
<path d="M431.2 259.7l5.1 0.5-2.1 2.5-5-0.6z" fill="#24d900"/>
<path d="M431.5 260l4.3 0.3"/>
<path d="M416.5 260.1l5 0.9-2 2.3-5-0.9z" fill="#29d900"/>
<path d="M406 260.6l5.1 1-2 2.1-5.1-1z" fill="#28d900"/>
<path d="M404.5 262.6l4.3 0.8"/>
<path d="M426.9 259.3l5.1 0.6-2 2.4-5.1-0.6z" fill="#2dd900"/>
<path d="M427.2 259.6l4.3 0.4"/>
<path d="M431.5 260l-1.9 2"/>
<path d="M412.2 259.5l5 0.9-2 2.3-5-1z" fill="#34d900"/>
<path d="M416.8 260.5l-1.9 1.9"/>
<path d="M422.6 258.7l5.1 0.8-2 2.4-5.1-0.7z" fill="#37d900"/>
<path d="M422.9 259.1l4.3 0.5"/>
<path d="M401.7 259.7l5.1 1.1-2 2.2-5.1-1.2z" fill="#35d900"/>
<path d="M400.2 261.8l4.3 0.8"/>
<path d="M402 260l-1.8 1.8"/>
<path d="M418.3 258.1l5.1 0.9-2 2.4-5.1-0.8z" fill="#41d900"/>
<path d="M418.6 258.5l4.3 0.6"/>
<path d="M407.8 258.7l5.1 1-2 2.3-5-1z" fill="#40d900"/>
<path d="M414 257.4l5.1 1-2 2.4-5.1-0.9z" fill="#4dd900"/>
<path d="M414.3 257.8l4.3 0.7"/>
<path d="M418.6 258.5l-1.8 2"/>
<path d="M403.5 257.8l5.1 1.1-2 2.3-5-1.1z" fill="#4cd900"/>
<path d="M403.8 258.1l-1.8 1.9"/>
<path d="M409.7 256.7l5.1 1-2 2.4-5.1-1z" fill="#59d900"/>
<path d="M410 257l4.3 0.8"/>
<path d="M405.3 255.8l5.1 1.1-2 2.4-5-1.1z" fill="#66d900"/>
<path d="M405.6 256.1l4.4 0.9"/>
<path d="M405.6 256.1l-1.8 2"/>
</g>
<ellipse cx="291.7" cy="179" rx="3.7" ry="3.4" fill="#ffc9c9" stroke="#7a4a4a" stroke-width="0.6"/>
<ellipse cx="405.9" cy="262.9" rx="3.7" ry="3.4" fill="#ffd2d2" stroke="#7a4a4a" stroke-width="0.6"/>
<ellipse cx="521" cy="83.4" rx="3.7" ry="3.4" fill="#c40000" stroke="#700" stroke-width="0.6"/>
<ellipse cx="667" cy="148.2" rx="3.7" ry="3.4" fill="#c40000" stroke="#700" stroke-width="0.6"/>
<ellipse cx="469.4" cy="250.4" rx="3.7" ry="3.4" fill="#c40000" stroke="#700" stroke-width="0.6"/>
<text x="292.1" y="246.3" font-size="7.7" text-anchor="end">0.7</text>
<text x="290" y="222.2" font-size="7.7" text-anchor="end">0.8</text>
<text x="288" y="198" font-size="7.7" text-anchor="end">0.9</text>
<text x="285.9" y="173.9" font-size="7.7" text-anchor="end">1</text>
<text x="283.8" y="149.7" font-size="7.7" text-anchor="end">1.1</text>
<text x="281.7" y="125.6" font-size="7.7" text-anchor="end">1.2</text>
<text x="279.6" y="101.4" font-size="7.7" text-anchor="end">1.3</text>
<circle cx="410.6" cy="412.7" r="1.6"/>
<text x="405.6" y="419.7" font-size="7.7" text-anchor="end">0.2</text>
<circle cx="388.8" cy="388.6" r="1.6"/>
<text x="383.8" y="395.6" font-size="7.7" text-anchor="end">0.22</text>
<circle cx="367" cy="364.5" r="1.6"/>
<text x="362" y="371.5" font-size="7.7" text-anchor="end">0.24</text>
<circle cx="345.1" cy="340.3" r="1.6"/>
<text x="340.1" y="347.3" font-size="7.7" text-anchor="end">0.26</text>
<circle cx="323.3" cy="316.2" r="1.6"/>
<text x="318.3" y="323.2" font-size="7.7" text-anchor="end">0.28</text>
<circle cx="301.5" cy="292.1" r="1.6"/>
<text x="296.5" y="299.1" font-size="7.7" text-anchor="end">0.3</text>
<circle cx="410.6" cy="412.7" r="1.6"/>
<text x="415.4" y="419.9" font-size="7.7">30</text>
<circle cx="469.9" cy="395.6" r="1.6"/>
<text x="474.7" y="402.8" font-size="7.7">35</text>
<circle cx="529.2" cy="378.5" r="1.6"/>
<text x="534" y="385.7" font-size="7.7">40</text>
<circle cx="588.4" cy="361.4" r="1.6"/>
<text x="593.2" y="368.6" font-size="7.7">45</text>
<circle cx="647.7" cy="344.3" r="1.6"/>
<text x="652.5" y="351.5" font-size="7.7">50</text>
<text x="475.2" y="19.8" font-size="15.4" textLength="72.5" lengthAdjust="spacingAndGlyphs">3D Surface</text>
<text x="248.2" y="377.8" font-size="9.6" textLength="56" lengthAdjust="spacingAndGlyphs">B: Flow rate</text>
<text x="520.5" y="427.6" font-size="9.8" textLength="113.3" lengthAdjust="spacingAndGlyphs">A: Moblie Phase Ration</text>
<text transform="translate(232,197.7) rotate(-90)" font-size="10" text-anchor="middle" textLength="54" lengthAdjust="spacingAndGlyphs">Tailing Factor</text>
</g>
<g id="legend1" font-size="13.3">
<text x="10.5" y="276.5" textLength="131.4" lengthAdjust="spacingAndGlyphs">Factor Coding: Actual</text>
<text x="10.5" y="297" textLength="157.7" lengthAdjust="spacingAndGlyphs" font-weight="bold" fill="#111">Response: Tailing Factor</text>
<text x="10.5" y="317.3" textLength="86.7" lengthAdjust="spacingAndGlyphs">Design Points:</text>
<ellipse cx="24.9" cy="334.9" rx="7.3" ry="7" fill="#c40000" stroke="#7a0000" stroke-width="0.8"/>
<text x="40.5" y="339.5" textLength="88" lengthAdjust="spacingAndGlyphs" fill="#c0202e">Above Surface</text>
<ellipse cx="25" cy="356.5" rx="7.1" ry="6.9" fill="#ffc6c6" stroke="#6e4444" stroke-width="0.9"/>
<text x="40.5" y="360.5" textLength="86.5" lengthAdjust="spacingAndGlyphs" fill="#c0202e">Below Surface</text>
<text x="10.5" y="381.3" textLength="17.3" lengthAdjust="spacingAndGlyphs" fill="#2a2ac8">0.8</text>
<rect x="31.8" y="368.5" width="49.1" height="19.2" fill="url(#lg)" stroke="#111" stroke-width="0.8"/>
<text x="88" y="381.3" textLength="16.6" lengthAdjust="spacingAndGlyphs" fill="#dc3848">1.3</text>
<text x="10.5" y="424.6" textLength="90.7" lengthAdjust="spacingAndGlyphs" font-weight="bold" fill="#111">Actual Factor:</text>
<text x="10.5" y="445.6" textLength="51.2" lengthAdjust="spacingAndGlyphs">C = 27.5</text>
</g>
<g id="legend2" font-size="18.3">
<text x="10.5" y="673.1" textLength="140.5" lengthAdjust="spacingAndGlyphs">Factor Coding: Actual</text>
<text x="10.5" y="703.9" textLength="165" lengthAdjust="spacingAndGlyphs" font-weight="bold" fill="#111">Response: Tailing Factor</text>
<ellipse cx="26.3" cy="729" rx="7.7" ry="10" fill="#c40000" stroke="#7a0000" stroke-width="0.8"/>
<text x="42.8" y="735.4" textLength="87.2" lengthAdjust="spacingAndGlyphs" fill="#c0202e">Design Points</text>
<text x="10.5" y="767.6" textLength="17.9" lengthAdjust="spacingAndGlyphs" fill="#2a2ac8">0.8</text>
<rect x="32.8" y="747.4" width="52.6" height="27.6" fill="url(#lg)" stroke="#111" stroke-width="1"/>
<text x="92" y="767.6" textLength="17" lengthAdjust="spacingAndGlyphs" fill="#dc3848">1.3</text>
<text x="10.5" y="797.8" textLength="94.6" lengthAdjust="spacingAndGlyphs" font-weight="bold" fill="#111">Actual Factor:</text>
<text x="10.5" y="829.3" textLength="53.9" lengthAdjust="spacingAndGlyphs">C = 27.5</text>
</g>
<g id="plot2d">
<defs><radialGradient id="rg" gradientUnits="userSpaceOnUse" cx="0" cy="0" r="1" gradientTransform="translate(455.46,668.11) scale(320.67,257.86)">
<stop offset="0.0000" stop-color="#0000ff"/>
<stop offset="0.1592" stop-color="#0000ff"/>
<stop offset="0.2230" stop-color="#0008ff"/>
<stop offset="0.2722" stop-color="#0017ff"/>
<stop offset="0.3138" stop-color="#002aff"/>
<stop offset="0.3504" stop-color="#0041ff"/>
<stop offset="0.3836" stop-color="#005aff"/>
<stop offset="0.4142" stop-color="#0077ff"/>
<stop offset="0.4426" stop-color="#0095ff"/>
<stop offset="0.4693" stop-color="#00b6ff"/>
<stop offset="0.4946" stop-color="#00daff"/>
<stop offset="0.5187" stop-color="#00ffff"/>
<stop offset="0.5416" stop-color="#00ffe6"/>
<stop offset="0.5637" stop-color="#00ffcc"/>
<stop offset="0.5849" stop-color="#00ffb3"/>
<stop offset="0.6054" stop-color="#00ff99"/>
<stop offset="0.6252" stop-color="#00ff80"/>
<stop offset="0.6444" stop-color="#00ff66"/>
<stop offset="0.6630" stop-color="#00ff4d"/>
<stop offset="0.6811" stop-color="#00ff33"/>
<stop offset="0.6988" stop-color="#00ff1a"/>
<stop offset="0.7160" stop-color="#00ff00"/>
<stop offset="0.7328" stop-color="#12ff00"/>
<stop offset="0.7493" stop-color="#28ff00"/>
<stop offset="0.7654" stop-color="#40ff00"/>
<stop offset="0.7811" stop-color="#59ff00"/>
<stop offset="0.7966" stop-color="#73ff00"/>
<stop offset="0.8117" stop-color="#8eff00"/>
<stop offset="0.8266" stop-color="#a9ff00"/>
<stop offset="0.8412" stop-color="#c5ff00"/>
<stop offset="0.8556" stop-color="#e2ff00"/>
<stop offset="0.8697" stop-color="#ffff00"/>
<stop offset="0.8836" stop-color="#ffe600"/>
<stop offset="0.8973" stop-color="#ffcc00"/>
<stop offset="0.9107" stop-color="#ffb300"/>
<stop offset="0.9240" stop-color="#ff9900"/>
<stop offset="0.9371" stop-color="#ff8000"/>
<stop offset="0.9500" stop-color="#ff6600"/>
<stop offset="0.9628" stop-color="#ff4d00"/>
<stop offset="0.9753" stop-color="#ff3300"/>
<stop offset="0.9877" stop-color="#ff1a00"/>
<stop offset="1.0000" stop-color="#ff0000"/>
</radialGradient>
<linearGradient id="lg"><stop offset="0" stop-color="#0000ff"/><stop offset="0.06" stop-color="#0000ff"/><stop offset="0.5" stop-color="#00ff00"/><stop offset="0.95" stop-color="#ff0000"/><stop offset="1" stop-color="#ff0000"/></linearGradient>
<clipPath id="pc"><rect x="324.2" y="528.1" width="349.1" height="320.4"/></clipPath></defs>
<rect x="324.2" y="528.1" width="349.1" height="320.4" fill="url(#rg)"/>
<g stroke="#b4b4b4" stroke-width="0.8" stroke-opacity="0.75">
<line x1="411.5" y1="528.1" x2="411.5" y2="848.5"/>
<line x1="498.8" y1="528.1" x2="498.8" y2="848.5"/>
<line x1="586.0" y1="528.1" x2="586.0" y2="848.5"/>
<line x1="324.2" y1="784.4" x2="673.3" y2="784.4"/>
<line x1="324.2" y1="720.3" x2="673.3" y2="720.3"/>
<line x1="324.2" y1="656.3" x2="673.3" y2="656.3"/>
<line x1="324.2" y1="592.2" x2="673.3" y2="592.2"/>
</g>
<g clip-path="url(#pc)" fill="none" stroke="#111" stroke-width="0.8">
<ellipse cx="455.5" cy="668.1" rx="51.0" ry="41.0"/>
<ellipse cx="455.5" cy="668.1" rx="150.5" ry="121.0"/>
<ellipse cx="455.5" cy="668.1" rx="206.6" ry="166.2"/>
<ellipse cx="455.5" cy="668.1" rx="250.5" ry="201.4"/>
<ellipse cx="455.5" cy="668.1" rx="287.7" ry="231.4"/>
</g>
<rect x="324.2" y="528.1" width="349.1" height="320.4" fill="none" stroke="#222" stroke-width="0.9"/>
<g stroke="#333" stroke-width="0.8">
<line x1="324.2" y1="848.5" x2="324.2" y2="856.5"/>
<line x1="411.5" y1="848.5" x2="411.5" y2="856.5"/>
<line x1="498.8" y1="848.5" x2="498.8" y2="856.5"/>
<line x1="586.0" y1="848.5" x2="586.0" y2="856.5"/>
<line x1="673.3" y1="848.5" x2="673.3" y2="856.5"/>
<line x1="315.59999999999997" y1="848.5" x2="324.2" y2="848.5"/>
<line x1="315.59999999999997" y1="784.4" x2="324.2" y2="784.4"/>
<line x1="315.59999999999997" y1="720.3" x2="324.2" y2="720.3"/>
<line x1="315.59999999999997" y1="656.3" x2="324.2" y2="656.3"/>
<line x1="315.59999999999997" y1="592.2" x2="324.2" y2="592.2"/>
<line x1="315.59999999999997" y1="528.1" x2="324.2" y2="528.1"/>
</g>
<text x="324.2" y="866.6" font-size="7.2" text-anchor="middle">30</text>
<text x="411.5" y="866.6" font-size="7.2" text-anchor="middle">35</text>
<text x="498.8" y="866.6" font-size="7.2" text-anchor="middle">40</text>
<text x="586" y="866.6" font-size="7.2" text-anchor="middle">45</text>
<text x="673.3" y="866.6" font-size="7.2" text-anchor="middle">50</text>
<text x="312" y="850.9" font-size="7.2" text-anchor="end">0.2</text>
<text x="312" y="786.8" font-size="7.2" text-anchor="end">0.22</text>
<text x="312" y="722.7" font-size="7.2" text-anchor="end">0.24</text>
<text x="312" y="658.7" font-size="7.2" text-anchor="end">0.26</text>
<text x="312" y="594.6" font-size="7.2" text-anchor="end">0.28</text>
<text x="312" y="530.5" font-size="7.2" text-anchor="end">0.3</text>
<rect x="428.7" y="698.1" width="9.6" height="5.8" fill="#fff" stroke="#222" stroke-width="0.6"/>
<text x="433.5" y="702.6" font-size="4.4" text-anchor="middle" fill="#333">0.8</text>
<rect x="601.2" y="658.6" width="9.6" height="5.8" fill="#fff" stroke="#222" stroke-width="0.6"/>
<text x="606.0" y="663.1" font-size="4.4" text-anchor="middle" fill="#333">0.9</text>
<rect x="613.5" y="766.5" width="7" height="5.8" fill="#fff" stroke="#222" stroke-width="0.6"/>
<text x="617.0" y="771.0" font-size="4.4" text-anchor="middle" fill="#333">1</text>
<rect x="329.4" y="528.8" width="7" height="5.8" fill="#fff" stroke="#222" stroke-width="0.6"/>
<text x="332.9" y="533.3" font-size="4.4" text-anchor="middle" fill="#333">1</text>
<rect x="651.2" y="541.1" width="9.6" height="5.8" fill="#fff" stroke="#222" stroke-width="0.6"/>
<text x="656.0" y="545.6" font-size="4.4" text-anchor="middle" fill="#333">1.1</text>
<rect x="621.2" y="810.1" width="9.6" height="5.8" fill="#fff" stroke="#222" stroke-width="0.6"/>
<text x="626.0" y="814.6" font-size="4.4" text-anchor="middle" fill="#333">1.1</text>
<rect x="328.0" y="837.7" width="9.6" height="5.8" fill="#fff" stroke="#222" stroke-width="0.6"/>
<text x="332.8" y="842.2" font-size="4.4" text-anchor="middle" fill="#333">1.1</text>
<rect x="651.2" y="828.6" width="9.6" height="5.8" fill="#fff" stroke="#222" stroke-width="0.6"/>
<text x="656.0" y="833.1" font-size="4.4" text-anchor="middle" fill="#333">1.2</text>
<circle cx="324.2" cy="528.1" r="3.3" fill="#c40000" stroke="#700" stroke-width="0.5"/>
<circle cx="673.3" cy="528.1" r="3.3" fill="#c40000" stroke="#700" stroke-width="0.5"/>
<circle cx="324.2" cy="848.5" r="3.3" fill="#c40000" stroke="#700" stroke-width="0.5"/>
<circle cx="673.3" cy="848.5" r="3.3" fill="#c40000" stroke="#700" stroke-width="0.5"/>
<circle cx="498.8" cy="688.3" r="3.3" fill="#c40000" stroke="#700" stroke-width="0.5"/>
<path d="M491 524.2q2 1.6 4 0" fill="none" stroke="#333" stroke-width="1"/>
<text x="433.6" y="499.7" font-size="23.2" textLength="143" lengthAdjust="spacingAndGlyphs">Tailing Factor</text>
<text x="426.3" y="897.3" font-size="15" textLength="192.7" lengthAdjust="spacingAndGlyphs">X: A: Moblie Phase Ration</text>
<text x="467.3" y="924.7" font-size="14.6" textLength="105" lengthAdjust="spacingAndGlyphs">Y: B: Flow rate</text>
</g>
</svg></body></html>
